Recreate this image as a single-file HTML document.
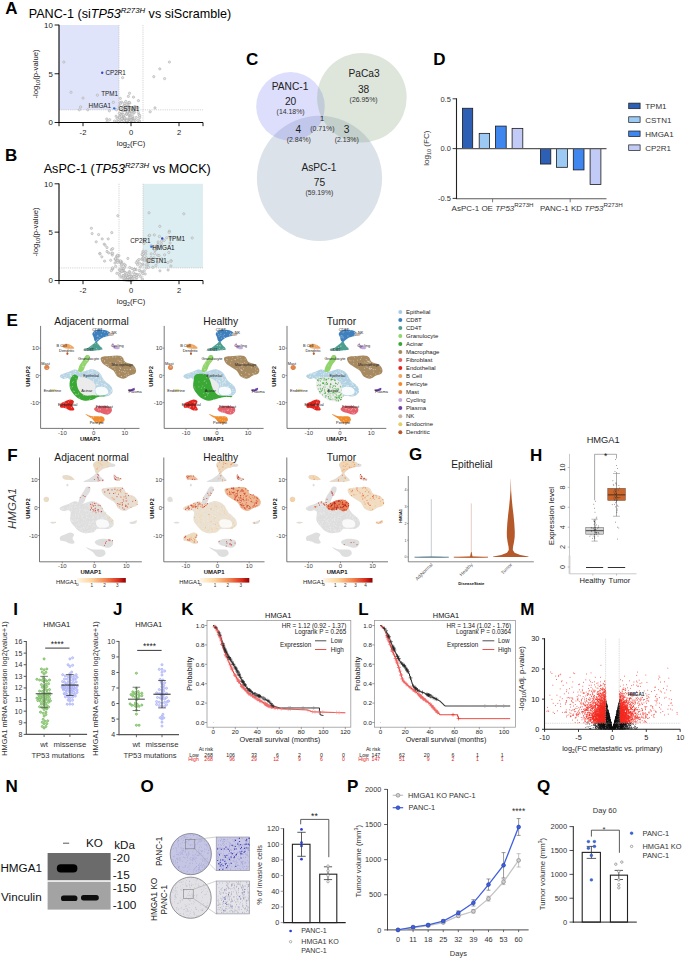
<!DOCTYPE html>
<html><head><meta charset="utf-8"><style>
html,body{margin:0;padding:0;background:#fff;}
svg{display:block;}
text{font-family:"Liberation Sans", sans-serif;}
</style></head><body>
<svg width="685" height="959" viewBox="0 0 685 959" font-family='"Liberation Sans", sans-serif'>
<rect width="685" height="959" fill="#fff"/>
<text x="5.20" y="13.50" font-size="17" font-weight="bold">A</text>
<text x="28.7" y="18" font-size="12.6">PANC-1 (si<tspan font-style="italic">TP53</tspan><tspan font-style="italic" font-size="7.81" dy="-4.79">R273H</tspan><tspan dy="4.79"> vs siScramble)</tspan></text>
<rect x="59.00" y="25.00" width="60.00" height="84.83" fill="#dfe4fa"/>
<line x1="119.00" y1="25.00" x2="119.00" y2="122.50" stroke="#b8b8b8" stroke-width="0.6" stroke-dasharray="1.2 1"/>
<line x1="143.00" y1="25.00" x2="143.00" y2="122.50" stroke="#b8b8b8" stroke-width="0.6" stroke-dasharray="1.2 1"/>
<line x1="59.00" y1="109.83" x2="203.00" y2="109.83" stroke="#b8b8b8" stroke-width="0.6" stroke-dasharray="1.2 1"/>
<circle cx="63.80" cy="62.05" r="1.15" fill="#e4e4e4" stroke="#9a9a9a" stroke-width="0.45"/>
<circle cx="71.00" cy="92.28" r="1.15" fill="#e4e4e4" stroke="#9a9a9a" stroke-width="0.45"/>
<circle cx="80.60" cy="106.90" r="1.15" fill="#e4e4e4" stroke="#9a9a9a" stroke-width="0.45"/>
<circle cx="83.00" cy="98.12" r="1.15" fill="#e4e4e4" stroke="#9a9a9a" stroke-width="0.45"/>
<circle cx="97.40" cy="95.20" r="1.15" fill="#e4e4e4" stroke="#9a9a9a" stroke-width="0.45"/>
<circle cx="87.80" cy="109.83" r="1.15" fill="#e4e4e4" stroke="#9a9a9a" stroke-width="0.45"/>
<circle cx="159.80" cy="68.88" r="1.15" fill="#e4e4e4" stroke="#9a9a9a" stroke-width="0.45"/>
<circle cx="169.40" cy="62.05" r="1.15" fill="#e4e4e4" stroke="#9a9a9a" stroke-width="0.45"/>
<circle cx="153.80" cy="76.67" r="1.15" fill="#e4e4e4" stroke="#9a9a9a" stroke-width="0.45"/>
<circle cx="164.60" cy="78.62" r="1.15" fill="#e4e4e4" stroke="#9a9a9a" stroke-width="0.45"/>
<circle cx="122.60" cy="77.65" r="1.15" fill="#e4e4e4" stroke="#9a9a9a" stroke-width="0.45"/>
<circle cx="109.40" cy="110.80" r="1.15" fill="#e4e4e4" stroke="#9a9a9a" stroke-width="0.45"/>
<circle cx="150.20" cy="111.78" r="1.15" fill="#e4e4e4" stroke="#9a9a9a" stroke-width="0.45"/>
<circle cx="155.00" cy="107.88" r="1.15" fill="#e4e4e4" stroke="#9a9a9a" stroke-width="0.45"/>
<circle cx="79.40" cy="109.83" r="1.15" fill="#e4e4e4" stroke="#9a9a9a" stroke-width="0.45"/>
<circle cx="134.86" cy="106.47" r="1.15" fill="#e4e4e4" stroke="#9a9a9a" stroke-width="0.45"/>
<circle cx="126.65" cy="113.81" r="1.15" fill="#e4e4e4" stroke="#9a9a9a" stroke-width="0.45"/>
<circle cx="118.86" cy="121.68" r="1.15" fill="#e4e4e4" stroke="#9a9a9a" stroke-width="0.45"/>
<circle cx="119.33" cy="106.60" r="1.15" fill="#e4e4e4" stroke="#9a9a9a" stroke-width="0.45"/>
<circle cx="127.54" cy="120.58" r="1.15" fill="#e4e4e4" stroke="#9a9a9a" stroke-width="0.45"/>
<circle cx="129.87" cy="112.21" r="1.15" fill="#e4e4e4" stroke="#9a9a9a" stroke-width="0.45"/>
<circle cx="126.23" cy="121.32" r="1.15" fill="#e4e4e4" stroke="#9a9a9a" stroke-width="0.45"/>
<circle cx="116.08" cy="116.24" r="1.15" fill="#e4e4e4" stroke="#9a9a9a" stroke-width="0.45"/>
<circle cx="128.36" cy="96.39" r="1.15" fill="#e4e4e4" stroke="#9a9a9a" stroke-width="0.45"/>
<circle cx="127.56" cy="120.46" r="1.15" fill="#e4e4e4" stroke="#9a9a9a" stroke-width="0.45"/>
<circle cx="134.48" cy="119.88" r="1.15" fill="#e4e4e4" stroke="#9a9a9a" stroke-width="0.45"/>
<circle cx="132.31" cy="118.09" r="1.15" fill="#e4e4e4" stroke="#9a9a9a" stroke-width="0.45"/>
<circle cx="127.67" cy="111.03" r="1.15" fill="#e4e4e4" stroke="#9a9a9a" stroke-width="0.45"/>
<circle cx="130.88" cy="120.63" r="1.15" fill="#e4e4e4" stroke="#9a9a9a" stroke-width="0.45"/>
<circle cx="118.93" cy="117.24" r="1.15" fill="#e4e4e4" stroke="#9a9a9a" stroke-width="0.45"/>
<circle cx="126.72" cy="114.29" r="1.15" fill="#e4e4e4" stroke="#9a9a9a" stroke-width="0.45"/>
<circle cx="127.65" cy="110.34" r="1.15" fill="#e4e4e4" stroke="#9a9a9a" stroke-width="0.45"/>
<circle cx="125.85" cy="119.85" r="1.15" fill="#e4e4e4" stroke="#9a9a9a" stroke-width="0.45"/>
<circle cx="130.68" cy="110.36" r="1.15" fill="#e4e4e4" stroke="#9a9a9a" stroke-width="0.45"/>
<circle cx="123.50" cy="116.65" r="1.15" fill="#e4e4e4" stroke="#9a9a9a" stroke-width="0.45"/>
<circle cx="139.51" cy="121.02" r="1.15" fill="#e4e4e4" stroke="#9a9a9a" stroke-width="0.45"/>
<circle cx="130.58" cy="115.37" r="1.15" fill="#e4e4e4" stroke="#9a9a9a" stroke-width="0.45"/>
<circle cx="124.31" cy="105.38" r="1.15" fill="#e4e4e4" stroke="#9a9a9a" stroke-width="0.45"/>
<circle cx="132.68" cy="117.65" r="1.15" fill="#e4e4e4" stroke="#9a9a9a" stroke-width="0.45"/>
<circle cx="131.02" cy="108.01" r="1.15" fill="#e4e4e4" stroke="#9a9a9a" stroke-width="0.45"/>
<circle cx="123.26" cy="108.53" r="1.15" fill="#e4e4e4" stroke="#9a9a9a" stroke-width="0.45"/>
<circle cx="135.82" cy="108.04" r="1.15" fill="#e4e4e4" stroke="#9a9a9a" stroke-width="0.45"/>
<circle cx="117.24" cy="121.54" r="1.15" fill="#e4e4e4" stroke="#9a9a9a" stroke-width="0.45"/>
<circle cx="131.09" cy="120.29" r="1.15" fill="#e4e4e4" stroke="#9a9a9a" stroke-width="0.45"/>
<circle cx="128.24" cy="111.41" r="1.15" fill="#e4e4e4" stroke="#9a9a9a" stroke-width="0.45"/>
<circle cx="130.14" cy="110.03" r="1.15" fill="#e4e4e4" stroke="#9a9a9a" stroke-width="0.45"/>
<circle cx="123.27" cy="106.64" r="1.15" fill="#e4e4e4" stroke="#9a9a9a" stroke-width="0.45"/>
<circle cx="121.10" cy="113.84" r="1.15" fill="#e4e4e4" stroke="#9a9a9a" stroke-width="0.45"/>
<circle cx="114.55" cy="121.03" r="1.15" fill="#e4e4e4" stroke="#9a9a9a" stroke-width="0.45"/>
<circle cx="119.54" cy="120.61" r="1.15" fill="#e4e4e4" stroke="#9a9a9a" stroke-width="0.45"/>
<circle cx="124.56" cy="121.84" r="1.15" fill="#e4e4e4" stroke="#9a9a9a" stroke-width="0.45"/>
<circle cx="136.29" cy="117.50" r="1.15" fill="#e4e4e4" stroke="#9a9a9a" stroke-width="0.45"/>
<circle cx="135.16" cy="120.50" r="1.15" fill="#e4e4e4" stroke="#9a9a9a" stroke-width="0.45"/>
<circle cx="122.98" cy="117.95" r="1.15" fill="#e4e4e4" stroke="#9a9a9a" stroke-width="0.45"/>
<circle cx="107.14" cy="121.58" r="1.15" fill="#e4e4e4" stroke="#9a9a9a" stroke-width="0.45"/>
<circle cx="127.28" cy="108.76" r="1.15" fill="#e4e4e4" stroke="#9a9a9a" stroke-width="0.45"/>
<circle cx="129.32" cy="116.01" r="1.15" fill="#e4e4e4" stroke="#9a9a9a" stroke-width="0.45"/>
<circle cx="109.67" cy="119.72" r="1.15" fill="#e4e4e4" stroke="#9a9a9a" stroke-width="0.45"/>
<circle cx="119.62" cy="116.43" r="1.15" fill="#e4e4e4" stroke="#9a9a9a" stroke-width="0.45"/>
<circle cx="125.18" cy="108.60" r="1.15" fill="#e4e4e4" stroke="#9a9a9a" stroke-width="0.45"/>
<circle cx="126.89" cy="121.71" r="1.15" fill="#e4e4e4" stroke="#9a9a9a" stroke-width="0.45"/>
<circle cx="128.81" cy="102.58" r="1.15" fill="#e4e4e4" stroke="#9a9a9a" stroke-width="0.45"/>
<circle cx="134.53" cy="110.46" r="1.15" fill="#e4e4e4" stroke="#9a9a9a" stroke-width="0.45"/>
<circle cx="129.15" cy="109.93" r="1.15" fill="#e4e4e4" stroke="#9a9a9a" stroke-width="0.45"/>
<circle cx="119.64" cy="117.76" r="1.15" fill="#e4e4e4" stroke="#9a9a9a" stroke-width="0.45"/>
<circle cx="138.94" cy="114.53" r="1.15" fill="#e4e4e4" stroke="#9a9a9a" stroke-width="0.45"/>
<circle cx="122.14" cy="118.96" r="1.15" fill="#e4e4e4" stroke="#9a9a9a" stroke-width="0.45"/>
<circle cx="118.46" cy="121.65" r="1.15" fill="#e4e4e4" stroke="#9a9a9a" stroke-width="0.45"/>
<circle cx="122.35" cy="114.27" r="1.15" fill="#e4e4e4" stroke="#9a9a9a" stroke-width="0.45"/>
<circle cx="117.08" cy="118.42" r="1.15" fill="#e4e4e4" stroke="#9a9a9a" stroke-width="0.45"/>
<circle cx="120.54" cy="114.30" r="1.15" fill="#e4e4e4" stroke="#9a9a9a" stroke-width="0.45"/>
<circle cx="130.98" cy="120.66" r="1.15" fill="#e4e4e4" stroke="#9a9a9a" stroke-width="0.45"/>
<circle cx="130.13" cy="109.26" r="1.15" fill="#e4e4e4" stroke="#9a9a9a" stroke-width="0.45"/>
<circle cx="133.93" cy="107.30" r="1.15" fill="#e4e4e4" stroke="#9a9a9a" stroke-width="0.45"/>
<circle cx="129.81" cy="103.12" r="1.15" fill="#e4e4e4" stroke="#9a9a9a" stroke-width="0.45"/>
<circle cx="125.77" cy="101.43" r="1.15" fill="#e4e4e4" stroke="#9a9a9a" stroke-width="0.45"/>
<circle cx="124.90" cy="118.05" r="1.15" fill="#e4e4e4" stroke="#9a9a9a" stroke-width="0.45"/>
<circle cx="127.34" cy="121.82" r="1.15" fill="#e4e4e4" stroke="#9a9a9a" stroke-width="0.45"/>
<circle cx="126.38" cy="113.89" r="1.15" fill="#e4e4e4" stroke="#9a9a9a" stroke-width="0.45"/>
<circle cx="133.47" cy="112.48" r="1.15" fill="#e4e4e4" stroke="#9a9a9a" stroke-width="0.45"/>
<circle cx="124.77" cy="118.64" r="1.15" fill="#e4e4e4" stroke="#9a9a9a" stroke-width="0.45"/>
<circle cx="130.62" cy="110.94" r="1.15" fill="#e4e4e4" stroke="#9a9a9a" stroke-width="0.45"/>
<circle cx="128.84" cy="114.56" r="1.15" fill="#e4e4e4" stroke="#9a9a9a" stroke-width="0.45"/>
<circle cx="124.43" cy="110.54" r="1.15" fill="#e4e4e4" stroke="#9a9a9a" stroke-width="0.45"/>
<circle cx="122.87" cy="111.08" r="1.15" fill="#e4e4e4" stroke="#9a9a9a" stroke-width="0.45"/>
<circle cx="132.77" cy="120.44" r="1.15" fill="#e4e4e4" stroke="#9a9a9a" stroke-width="0.45"/>
<circle cx="122.39" cy="118.71" r="1.15" fill="#e4e4e4" stroke="#9a9a9a" stroke-width="0.45"/>
<circle cx="137.38" cy="107.49" r="1.15" fill="#e4e4e4" stroke="#9a9a9a" stroke-width="0.45"/>
<circle cx="121.61" cy="121.55" r="1.15" fill="#e4e4e4" stroke="#9a9a9a" stroke-width="0.45"/>
<circle cx="116.44" cy="109.83" r="1.15" fill="#e4e4e4" stroke="#9a9a9a" stroke-width="0.45"/>
<circle cx="127.47" cy="121.75" r="1.15" fill="#e4e4e4" stroke="#9a9a9a" stroke-width="0.45"/>
<circle cx="132.68" cy="108.42" r="1.15" fill="#e4e4e4" stroke="#9a9a9a" stroke-width="0.45"/>
<circle cx="131.81" cy="107.86" r="1.15" fill="#e4e4e4" stroke="#9a9a9a" stroke-width="0.45"/>
<circle cx="122.52" cy="109.91" r="1.15" fill="#e4e4e4" stroke="#9a9a9a" stroke-width="0.45"/>
<circle cx="129.56" cy="93.28" r="1.15" fill="#e4e4e4" stroke="#9a9a9a" stroke-width="0.45"/>
<circle cx="128.60" cy="109.66" r="1.15" fill="#e4e4e4" stroke="#9a9a9a" stroke-width="0.45"/>
<circle cx="127.83" cy="106.72" r="1.15" fill="#e4e4e4" stroke="#9a9a9a" stroke-width="0.45"/>
<circle cx="119.25" cy="113.40" r="1.15" fill="#e4e4e4" stroke="#9a9a9a" stroke-width="0.45"/>
<circle cx="122.09" cy="108.36" r="1.15" fill="#e4e4e4" stroke="#9a9a9a" stroke-width="0.45"/>
<circle cx="131.48" cy="118.75" r="1.15" fill="#e4e4e4" stroke="#9a9a9a" stroke-width="0.45"/>
<circle cx="139.64" cy="117.63" r="1.15" fill="#e4e4e4" stroke="#9a9a9a" stroke-width="0.45"/>
<circle cx="121.59" cy="102.12" r="1.15" fill="#e4e4e4" stroke="#9a9a9a" stroke-width="0.45"/>
<circle cx="120.31" cy="98.43" r="1.15" fill="#e4e4e4" stroke="#9a9a9a" stroke-width="0.45"/>
<circle cx="125.93" cy="110.89" r="1.15" fill="#e4e4e4" stroke="#9a9a9a" stroke-width="0.45"/>
<circle cx="126.19" cy="120.61" r="1.15" fill="#e4e4e4" stroke="#9a9a9a" stroke-width="0.45"/>
<circle cx="127.55" cy="119.95" r="1.15" fill="#e4e4e4" stroke="#9a9a9a" stroke-width="0.45"/>
<circle cx="133.47" cy="97.13" r="1.15" fill="#e4e4e4" stroke="#9a9a9a" stroke-width="0.45"/>
<circle cx="122.47" cy="119.20" r="1.15" fill="#e4e4e4" stroke="#9a9a9a" stroke-width="0.45"/>
<circle cx="138.43" cy="100.64" r="1.15" fill="#e4e4e4" stroke="#9a9a9a" stroke-width="0.45"/>
<circle cx="123.92" cy="109.75" r="1.15" fill="#e4e4e4" stroke="#9a9a9a" stroke-width="0.45"/>
<circle cx="121.73" cy="115.14" r="1.15" fill="#e4e4e4" stroke="#9a9a9a" stroke-width="0.45"/>
<circle cx="128.96" cy="106.57" r="1.15" fill="#e4e4e4" stroke="#9a9a9a" stroke-width="0.45"/>
<circle cx="122.17" cy="119.13" r="1.15" fill="#e4e4e4" stroke="#9a9a9a" stroke-width="0.45"/>
<circle cx="134.09" cy="112.32" r="1.15" fill="#e4e4e4" stroke="#9a9a9a" stroke-width="0.45"/>
<circle cx="123.94" cy="109.91" r="1.15" fill="#e4e4e4" stroke="#9a9a9a" stroke-width="0.45"/>
<circle cx="119.99" cy="102.67" r="1.15" fill="#e4e4e4" stroke="#9a9a9a" stroke-width="0.45"/>
<circle cx="127.24" cy="120.80" r="1.15" fill="#e4e4e4" stroke="#9a9a9a" stroke-width="0.45"/>
<circle cx="128.02" cy="112.91" r="1.15" fill="#e4e4e4" stroke="#9a9a9a" stroke-width="0.45"/>
<circle cx="137.90" cy="120.49" r="1.15" fill="#e4e4e4" stroke="#9a9a9a" stroke-width="0.45"/>
<circle cx="123.73" cy="115.72" r="1.15" fill="#e4e4e4" stroke="#9a9a9a" stroke-width="0.45"/>
<circle cx="120.34" cy="103.82" r="1.15" fill="#e4e4e4" stroke="#9a9a9a" stroke-width="0.45"/>
<circle cx="131.82" cy="117.94" r="1.15" fill="#e4e4e4" stroke="#9a9a9a" stroke-width="0.45"/>
<circle cx="133.77" cy="111.00" r="1.15" fill="#e4e4e4" stroke="#9a9a9a" stroke-width="0.45"/>
<circle cx="106.74" cy="118.98" r="1.15" fill="#e4e4e4" stroke="#9a9a9a" stroke-width="0.45"/>
<circle cx="127.24" cy="104.85" r="1.15" fill="#e4e4e4" stroke="#9a9a9a" stroke-width="0.45"/>
<circle cx="129.73" cy="118.69" r="1.15" fill="#e4e4e4" stroke="#9a9a9a" stroke-width="0.45"/>
<circle cx="130.14" cy="118.07" r="1.15" fill="#e4e4e4" stroke="#9a9a9a" stroke-width="0.45"/>
<circle cx="126.72" cy="107.51" r="1.15" fill="#e4e4e4" stroke="#9a9a9a" stroke-width="0.45"/>
<circle cx="129.69" cy="113.38" r="1.15" fill="#e4e4e4" stroke="#9a9a9a" stroke-width="0.45"/>
<circle cx="123.20" cy="114.51" r="1.15" fill="#e4e4e4" stroke="#9a9a9a" stroke-width="0.45"/>
<circle cx="132.35" cy="111.21" r="1.15" fill="#e4e4e4" stroke="#9a9a9a" stroke-width="0.45"/>
<circle cx="139.67" cy="115.67" r="1.15" fill="#e4e4e4" stroke="#9a9a9a" stroke-width="0.45"/>
<circle cx="131.81" cy="111.81" r="1.15" fill="#e4e4e4" stroke="#9a9a9a" stroke-width="0.45"/>
<circle cx="127.71" cy="120.17" r="1.15" fill="#e4e4e4" stroke="#9a9a9a" stroke-width="0.45"/>
<circle cx="138.28" cy="112.47" r="1.15" fill="#e4e4e4" stroke="#9a9a9a" stroke-width="0.45"/>
<circle cx="129.19" cy="102.45" r="1.15" fill="#e4e4e4" stroke="#9a9a9a" stroke-width="0.45"/>
<circle cx="121.18" cy="109.54" r="1.15" fill="#e4e4e4" stroke="#9a9a9a" stroke-width="0.45"/>
<circle cx="127.50" cy="111.77" r="1.15" fill="#e4e4e4" stroke="#9a9a9a" stroke-width="0.45"/>
<circle cx="121.88" cy="118.73" r="1.15" fill="#e4e4e4" stroke="#9a9a9a" stroke-width="0.45"/>
<circle cx="130.81" cy="117.86" r="1.15" fill="#e4e4e4" stroke="#9a9a9a" stroke-width="0.45"/>
<circle cx="132.90" cy="113.25" r="1.15" fill="#e4e4e4" stroke="#9a9a9a" stroke-width="0.45"/>
<circle cx="132.83" cy="116.63" r="1.15" fill="#e4e4e4" stroke="#9a9a9a" stroke-width="0.45"/>
<circle cx="124.19" cy="103.42" r="1.15" fill="#e4e4e4" stroke="#9a9a9a" stroke-width="0.45"/>
<circle cx="126.70" cy="120.52" r="1.15" fill="#e4e4e4" stroke="#9a9a9a" stroke-width="0.45"/>
<circle cx="124.79" cy="117.89" r="1.15" fill="#e4e4e4" stroke="#9a9a9a" stroke-width="0.45"/>
<circle cx="136.68" cy="107.25" r="1.15" fill="#e4e4e4" stroke="#9a9a9a" stroke-width="0.45"/>
<circle cx="131.02" cy="120.04" r="1.15" fill="#e4e4e4" stroke="#9a9a9a" stroke-width="0.45"/>
<circle cx="133.21" cy="121.18" r="1.15" fill="#e4e4e4" stroke="#9a9a9a" stroke-width="0.45"/>
<circle cx="129.24" cy="117.70" r="1.15" fill="#e4e4e4" stroke="#9a9a9a" stroke-width="0.45"/>
<circle cx="126.80" cy="104.33" r="1.15" fill="#e4e4e4" stroke="#9a9a9a" stroke-width="0.45"/>
<circle cx="138.00" cy="107.82" r="1.15" fill="#e4e4e4" stroke="#9a9a9a" stroke-width="0.45"/>
<circle cx="113.34" cy="102.32" r="1.15" fill="#e4e4e4" stroke="#9a9a9a" stroke-width="0.45"/>
<circle cx="130.92" cy="117.18" r="1.15" fill="#e4e4e4" stroke="#9a9a9a" stroke-width="0.45"/>
<circle cx="126.04" cy="109.80" r="1.15" fill="#e4e4e4" stroke="#9a9a9a" stroke-width="0.45"/>
<circle cx="134.10" cy="112.84" r="1.15" fill="#e4e4e4" stroke="#9a9a9a" stroke-width="0.45"/>
<circle cx="102.20" cy="72.78" r="1.2" fill="#2f47c8"/>
<circle cx="114.20" cy="108.36" r="1.2" fill="#2f6fd8"/>
<text x="105.50" y="74.60" font-size="6.3" fill="#222">CP2R1</text>
<text x="101.20" y="96.20" font-size="6.3" fill="#222">TPM1</text>
<text x="88.60" y="108.30" font-size="6.3" fill="#222">HMGA1</text>
<text x="118.60" y="110.80" font-size="6.3" fill="#111">CSTN1</text>
<line x1="59.00" y1="24.70" x2="59.00" y2="123.00" stroke="#000" stroke-width="1.1"/>
<line x1="58.50" y1="122.50" x2="203.00" y2="122.50" stroke="#000" stroke-width="1.1"/>
<line x1="54.60" y1="122.50" x2="59.00" y2="122.50" stroke="#000" stroke-width="0.9"/>
<text x="52.80" y="125.30" font-size="7.8" text-anchor="end" fill="#222">0</text>
<line x1="54.60" y1="73.75" x2="59.00" y2="73.75" stroke="#000" stroke-width="0.9"/>
<text x="52.80" y="76.55" font-size="7.8" text-anchor="end" fill="#222">5</text>
<line x1="54.60" y1="25.00" x2="59.00" y2="25.00" stroke="#000" stroke-width="0.9"/>
<text x="52.80" y="27.80" font-size="7.8" text-anchor="end" fill="#222">10</text>
<line x1="83.00" y1="122.50" x2="83.00" y2="126.20" stroke="#000" stroke-width="0.9"/>
<text x="83.00" y="134.70" font-size="7.6" text-anchor="middle" fill="#222">-2</text>
<line x1="131.00" y1="122.50" x2="131.00" y2="126.20" stroke="#000" stroke-width="0.9"/>
<text x="131.00" y="134.70" font-size="7.6" text-anchor="middle" fill="#222">0</text>
<line x1="179.00" y1="122.50" x2="179.00" y2="126.20" stroke="#000" stroke-width="0.9"/>
<text x="179.00" y="134.70" font-size="7.6" text-anchor="middle" fill="#222">2</text>
<line x1="59.00" y1="122.50" x2="59.00" y2="126.20" stroke="#000" stroke-width="0.9"/>
<line x1="203.00" y1="122.50" x2="203.00" y2="126.20" stroke="#000" stroke-width="0.9"/>
<text x="131.0" y="146" font-size="7.7" text-anchor="middle" fill="#222">log<tspan font-size="5.3" dy="2">2</tspan><tspan dy="-2">(FC)</tspan></text>
<text transform="translate(37.9 74) rotate(-90)" font-size="7.7" text-anchor="middle" fill="#222">-log<tspan font-size="5.3" dy="2">10</tspan><tspan dy="-2">(p-value)</tspan></text>
<text x="5.10" y="160.70" font-size="17" font-weight="bold">B</text>
<text x="43.7" y="173.2" font-size="12.6">AsPC-1 (<tspan font-style="italic">TP53</tspan><tspan font-style="italic" font-size="7.81" dy="-4.79">R273H</tspan><tspan dy="4.79"> vs MOCK)</tspan></text>
<rect x="143.00" y="183.80" width="60.00" height="84.13" fill="#ddeef3"/>
<line x1="119.00" y1="183.80" x2="119.00" y2="280.50" stroke="#b8b8b8" stroke-width="0.6" stroke-dasharray="1.2 1"/>
<line x1="143.00" y1="183.80" x2="143.00" y2="280.50" stroke="#b8b8b8" stroke-width="0.6" stroke-dasharray="1.2 1"/>
<line x1="59.00" y1="267.93" x2="203.00" y2="267.93" stroke="#b8b8b8" stroke-width="0.6" stroke-dasharray="1.2 1"/>
<circle cx="91.40" cy="228.28" r="1.15" fill="#e4e4e4" stroke="#9a9a9a" stroke-width="0.45"/>
<circle cx="92.12" cy="233.60" r="1.15" fill="#e4e4e4" stroke="#9a9a9a" stroke-width="0.45"/>
<circle cx="98.60" cy="234.57" r="1.15" fill="#e4e4e4" stroke="#9a9a9a" stroke-width="0.45"/>
<circle cx="102.20" cy="238.92" r="1.15" fill="#e4e4e4" stroke="#9a9a9a" stroke-width="0.45"/>
<circle cx="96.20" cy="241.82" r="1.15" fill="#e4e4e4" stroke="#9a9a9a" stroke-width="0.45"/>
<circle cx="108.20" cy="238.92" r="1.15" fill="#e4e4e4" stroke="#9a9a9a" stroke-width="0.45"/>
<circle cx="111.80" cy="232.63" r="1.15" fill="#e4e4e4" stroke="#9a9a9a" stroke-width="0.45"/>
<circle cx="117.80" cy="215.71" r="1.15" fill="#e4e4e4" stroke="#9a9a9a" stroke-width="0.45"/>
<circle cx="149.00" cy="212.81" r="1.15" fill="#e4e4e4" stroke="#9a9a9a" stroke-width="0.45"/>
<circle cx="183.80" cy="213.78" r="1.15" fill="#e4e4e4" stroke="#9a9a9a" stroke-width="0.45"/>
<circle cx="159.80" cy="226.35" r="1.15" fill="#e4e4e4" stroke="#9a9a9a" stroke-width="0.45"/>
<circle cx="192.20" cy="237.95" r="1.15" fill="#e4e4e4" stroke="#9a9a9a" stroke-width="0.45"/>
<circle cx="169.40" cy="231.18" r="1.15" fill="#e4e4e4" stroke="#9a9a9a" stroke-width="0.45"/>
<circle cx="99.80" cy="253.42" r="1.15" fill="#e4e4e4" stroke="#9a9a9a" stroke-width="0.45"/>
<circle cx="107.00" cy="247.62" r="1.15" fill="#e4e4e4" stroke="#9a9a9a" stroke-width="0.45"/>
<circle cx="107.00" cy="251.49" r="1.15" fill="#e4e4e4" stroke="#9a9a9a" stroke-width="0.45"/>
<circle cx="104.60" cy="261.16" r="1.15" fill="#e4e4e4" stroke="#9a9a9a" stroke-width="0.45"/>
<circle cx="116.60" cy="256.32" r="1.15" fill="#e4e4e4" stroke="#9a9a9a" stroke-width="0.45"/>
<circle cx="142.91" cy="252.36" r="1.15" fill="#e4e4e4" stroke="#9a9a9a" stroke-width="0.45"/>
<circle cx="123.24" cy="269.32" r="1.15" fill="#e4e4e4" stroke="#9a9a9a" stroke-width="0.45"/>
<circle cx="117.79" cy="260.18" r="1.15" fill="#e4e4e4" stroke="#9a9a9a" stroke-width="0.45"/>
<circle cx="135.76" cy="274.17" r="1.15" fill="#e4e4e4" stroke="#9a9a9a" stroke-width="0.45"/>
<circle cx="117.24" cy="256.84" r="1.15" fill="#e4e4e4" stroke="#9a9a9a" stroke-width="0.45"/>
<circle cx="124.95" cy="272.25" r="1.15" fill="#e4e4e4" stroke="#9a9a9a" stroke-width="0.45"/>
<circle cx="130.22" cy="273.87" r="1.15" fill="#e4e4e4" stroke="#9a9a9a" stroke-width="0.45"/>
<circle cx="125.35" cy="265.33" r="1.15" fill="#e4e4e4" stroke="#9a9a9a" stroke-width="0.45"/>
<circle cx="121.17" cy="263.40" r="1.15" fill="#e4e4e4" stroke="#9a9a9a" stroke-width="0.45"/>
<circle cx="126.86" cy="278.02" r="1.15" fill="#e4e4e4" stroke="#9a9a9a" stroke-width="0.45"/>
<circle cx="161.16" cy="246.11" r="1.15" fill="#e4e4e4" stroke="#9a9a9a" stroke-width="0.45"/>
<circle cx="122.92" cy="275.48" r="1.15" fill="#e4e4e4" stroke="#9a9a9a" stroke-width="0.45"/>
<circle cx="156.97" cy="246.94" r="1.15" fill="#e4e4e4" stroke="#9a9a9a" stroke-width="0.45"/>
<circle cx="121.69" cy="261.83" r="1.15" fill="#e4e4e4" stroke="#9a9a9a" stroke-width="0.45"/>
<circle cx="141.65" cy="259.36" r="1.15" fill="#e4e4e4" stroke="#9a9a9a" stroke-width="0.45"/>
<circle cx="134.83" cy="269.03" r="1.15" fill="#e4e4e4" stroke="#9a9a9a" stroke-width="0.45"/>
<circle cx="142.75" cy="255.31" r="1.15" fill="#e4e4e4" stroke="#9a9a9a" stroke-width="0.45"/>
<circle cx="157.59" cy="248.27" r="1.15" fill="#e4e4e4" stroke="#9a9a9a" stroke-width="0.45"/>
<circle cx="151.24" cy="245.75" r="1.15" fill="#e4e4e4" stroke="#9a9a9a" stroke-width="0.45"/>
<circle cx="142.06" cy="272.04" r="1.15" fill="#e4e4e4" stroke="#9a9a9a" stroke-width="0.45"/>
<circle cx="144.24" cy="270.86" r="1.15" fill="#e4e4e4" stroke="#9a9a9a" stroke-width="0.45"/>
<circle cx="132.36" cy="276.32" r="1.15" fill="#e4e4e4" stroke="#9a9a9a" stroke-width="0.45"/>
<circle cx="143.28" cy="259.78" r="1.15" fill="#e4e4e4" stroke="#9a9a9a" stroke-width="0.45"/>
<circle cx="145.21" cy="273.95" r="1.15" fill="#e4e4e4" stroke="#9a9a9a" stroke-width="0.45"/>
<circle cx="136.05" cy="269.71" r="1.15" fill="#e4e4e4" stroke="#9a9a9a" stroke-width="0.45"/>
<circle cx="119.92" cy="261.89" r="1.15" fill="#e4e4e4" stroke="#9a9a9a" stroke-width="0.45"/>
<circle cx="129.63" cy="276.96" r="1.15" fill="#e4e4e4" stroke="#9a9a9a" stroke-width="0.45"/>
<circle cx="140.31" cy="270.89" r="1.15" fill="#e4e4e4" stroke="#9a9a9a" stroke-width="0.45"/>
<circle cx="138.85" cy="259.55" r="1.15" fill="#e4e4e4" stroke="#9a9a9a" stroke-width="0.45"/>
<circle cx="108.72" cy="252.91" r="1.15" fill="#e4e4e4" stroke="#9a9a9a" stroke-width="0.45"/>
<circle cx="142.74" cy="273.64" r="1.15" fill="#e4e4e4" stroke="#9a9a9a" stroke-width="0.45"/>
<circle cx="130.65" cy="276.60" r="1.15" fill="#e4e4e4" stroke="#9a9a9a" stroke-width="0.45"/>
<circle cx="118.87" cy="255.72" r="1.15" fill="#e4e4e4" stroke="#9a9a9a" stroke-width="0.45"/>
<circle cx="123.27" cy="270.24" r="1.15" fill="#e4e4e4" stroke="#9a9a9a" stroke-width="0.45"/>
<circle cx="116.29" cy="260.89" r="1.15" fill="#e4e4e4" stroke="#9a9a9a" stroke-width="0.45"/>
<circle cx="137.35" cy="274.67" r="1.15" fill="#e4e4e4" stroke="#9a9a9a" stroke-width="0.45"/>
<circle cx="101.82" cy="256.84" r="1.15" fill="#e4e4e4" stroke="#9a9a9a" stroke-width="0.45"/>
<circle cx="129.75" cy="267.49" r="1.15" fill="#e4e4e4" stroke="#9a9a9a" stroke-width="0.45"/>
<circle cx="151.47" cy="259.18" r="1.15" fill="#e4e4e4" stroke="#9a9a9a" stroke-width="0.45"/>
<circle cx="133.37" cy="272.57" r="1.15" fill="#e4e4e4" stroke="#9a9a9a" stroke-width="0.45"/>
<circle cx="128.82" cy="280.02" r="1.15" fill="#e4e4e4" stroke="#9a9a9a" stroke-width="0.45"/>
<circle cx="131.34" cy="276.39" r="1.15" fill="#e4e4e4" stroke="#9a9a9a" stroke-width="0.45"/>
<circle cx="130.89" cy="276.52" r="1.15" fill="#e4e4e4" stroke="#9a9a9a" stroke-width="0.45"/>
<circle cx="116.83" cy="273.32" r="1.15" fill="#e4e4e4" stroke="#9a9a9a" stroke-width="0.45"/>
<circle cx="119.26" cy="269.96" r="1.15" fill="#e4e4e4" stroke="#9a9a9a" stroke-width="0.45"/>
<circle cx="140.16" cy="267.03" r="1.15" fill="#e4e4e4" stroke="#9a9a9a" stroke-width="0.45"/>
<circle cx="125.18" cy="272.50" r="1.15" fill="#e4e4e4" stroke="#9a9a9a" stroke-width="0.45"/>
<circle cx="143.61" cy="253.56" r="1.15" fill="#e4e4e4" stroke="#9a9a9a" stroke-width="0.45"/>
<circle cx="142.56" cy="264.04" r="1.15" fill="#e4e4e4" stroke="#9a9a9a" stroke-width="0.45"/>
<circle cx="120.54" cy="261.88" r="1.15" fill="#e4e4e4" stroke="#9a9a9a" stroke-width="0.45"/>
<circle cx="112.31" cy="255.07" r="1.15" fill="#e4e4e4" stroke="#9a9a9a" stroke-width="0.45"/>
<circle cx="128.54" cy="280.02" r="1.15" fill="#e4e4e4" stroke="#9a9a9a" stroke-width="0.45"/>
<circle cx="122.97" cy="268.45" r="1.15" fill="#e4e4e4" stroke="#9a9a9a" stroke-width="0.45"/>
<circle cx="139.43" cy="263.10" r="1.15" fill="#e4e4e4" stroke="#9a9a9a" stroke-width="0.45"/>
<circle cx="128.57" cy="276.16" r="1.15" fill="#e4e4e4" stroke="#9a9a9a" stroke-width="0.45"/>
<circle cx="136.79" cy="277.09" r="1.15" fill="#e4e4e4" stroke="#9a9a9a" stroke-width="0.45"/>
<circle cx="136.26" cy="275.22" r="1.15" fill="#e4e4e4" stroke="#9a9a9a" stroke-width="0.45"/>
<circle cx="129.84" cy="280.02" r="1.15" fill="#e4e4e4" stroke="#9a9a9a" stroke-width="0.45"/>
<circle cx="99.94" cy="253.96" r="1.15" fill="#e4e4e4" stroke="#9a9a9a" stroke-width="0.45"/>
<circle cx="121.50" cy="265.75" r="1.15" fill="#e4e4e4" stroke="#9a9a9a" stroke-width="0.45"/>
<circle cx="128.29" cy="280.02" r="1.15" fill="#e4e4e4" stroke="#9a9a9a" stroke-width="0.45"/>
<circle cx="125.63" cy="275.01" r="1.15" fill="#e4e4e4" stroke="#9a9a9a" stroke-width="0.45"/>
<circle cx="140.67" cy="276.77" r="1.15" fill="#e4e4e4" stroke="#9a9a9a" stroke-width="0.45"/>
<circle cx="126.11" cy="278.79" r="1.15" fill="#e4e4e4" stroke="#9a9a9a" stroke-width="0.45"/>
<circle cx="112.68" cy="269.05" r="1.15" fill="#e4e4e4" stroke="#9a9a9a" stroke-width="0.45"/>
<circle cx="117.62" cy="255.17" r="1.15" fill="#e4e4e4" stroke="#9a9a9a" stroke-width="0.45"/>
<circle cx="119.41" cy="274.89" r="1.15" fill="#e4e4e4" stroke="#9a9a9a" stroke-width="0.45"/>
<circle cx="129.55" cy="279.56" r="1.15" fill="#e4e4e4" stroke="#9a9a9a" stroke-width="0.45"/>
<circle cx="130.43" cy="280.02" r="1.15" fill="#e4e4e4" stroke="#9a9a9a" stroke-width="0.45"/>
<circle cx="127.70" cy="276.19" r="1.15" fill="#e4e4e4" stroke="#9a9a9a" stroke-width="0.45"/>
<circle cx="123.93" cy="280.02" r="1.15" fill="#e4e4e4" stroke="#9a9a9a" stroke-width="0.45"/>
<circle cx="126.64" cy="280.02" r="1.15" fill="#e4e4e4" stroke="#9a9a9a" stroke-width="0.45"/>
<circle cx="153.78" cy="246.52" r="1.15" fill="#e4e4e4" stroke="#9a9a9a" stroke-width="0.45"/>
<circle cx="146.24" cy="257.72" r="1.15" fill="#e4e4e4" stroke="#9a9a9a" stroke-width="0.45"/>
<circle cx="122.58" cy="270.61" r="1.15" fill="#e4e4e4" stroke="#9a9a9a" stroke-width="0.45"/>
<circle cx="120.98" cy="268.80" r="1.15" fill="#e4e4e4" stroke="#9a9a9a" stroke-width="0.45"/>
<circle cx="151.14" cy="253.88" r="1.15" fill="#e4e4e4" stroke="#9a9a9a" stroke-width="0.45"/>
<circle cx="127.34" cy="273.41" r="1.15" fill="#e4e4e4" stroke="#9a9a9a" stroke-width="0.45"/>
<circle cx="125.33" cy="277.08" r="1.15" fill="#e4e4e4" stroke="#9a9a9a" stroke-width="0.45"/>
<circle cx="129.30" cy="276.65" r="1.15" fill="#e4e4e4" stroke="#9a9a9a" stroke-width="0.45"/>
<circle cx="147.95" cy="260.24" r="1.15" fill="#e4e4e4" stroke="#9a9a9a" stroke-width="0.45"/>
<circle cx="130.32" cy="279.93" r="1.15" fill="#e4e4e4" stroke="#9a9a9a" stroke-width="0.45"/>
<circle cx="111.36" cy="249.71" r="1.15" fill="#e4e4e4" stroke="#9a9a9a" stroke-width="0.45"/>
<circle cx="104.20" cy="244.10" r="1.15" fill="#e4e4e4" stroke="#9a9a9a" stroke-width="0.45"/>
<circle cx="131.11" cy="280.02" r="1.15" fill="#e4e4e4" stroke="#9a9a9a" stroke-width="0.45"/>
<circle cx="142.66" cy="258.24" r="1.15" fill="#e4e4e4" stroke="#9a9a9a" stroke-width="0.45"/>
<circle cx="131.96" cy="268.57" r="1.15" fill="#e4e4e4" stroke="#9a9a9a" stroke-width="0.45"/>
<circle cx="139.33" cy="274.59" r="1.15" fill="#e4e4e4" stroke="#9a9a9a" stroke-width="0.45"/>
<circle cx="112.65" cy="248.65" r="1.15" fill="#e4e4e4" stroke="#9a9a9a" stroke-width="0.45"/>
<circle cx="117.85" cy="260.23" r="1.15" fill="#e4e4e4" stroke="#9a9a9a" stroke-width="0.45"/>
<circle cx="124.16" cy="264.24" r="1.15" fill="#e4e4e4" stroke="#9a9a9a" stroke-width="0.45"/>
<circle cx="129.27" cy="271.67" r="1.15" fill="#e4e4e4" stroke="#9a9a9a" stroke-width="0.45"/>
<circle cx="120.62" cy="260.90" r="1.15" fill="#e4e4e4" stroke="#9a9a9a" stroke-width="0.45"/>
<circle cx="157.53" cy="245.54" r="1.15" fill="#e4e4e4" stroke="#9a9a9a" stroke-width="0.45"/>
<circle cx="139.26" cy="270.59" r="1.15" fill="#e4e4e4" stroke="#9a9a9a" stroke-width="0.45"/>
<circle cx="133.43" cy="277.53" r="1.15" fill="#e4e4e4" stroke="#9a9a9a" stroke-width="0.45"/>
<circle cx="121.00" cy="277.15" r="1.15" fill="#e4e4e4" stroke="#9a9a9a" stroke-width="0.45"/>
<circle cx="135.98" cy="279.43" r="1.15" fill="#e4e4e4" stroke="#9a9a9a" stroke-width="0.45"/>
<circle cx="141.82" cy="265.09" r="1.15" fill="#e4e4e4" stroke="#9a9a9a" stroke-width="0.45"/>
<circle cx="123.18" cy="277.72" r="1.15" fill="#e4e4e4" stroke="#9a9a9a" stroke-width="0.45"/>
<circle cx="121.92" cy="264.15" r="1.15" fill="#e4e4e4" stroke="#9a9a9a" stroke-width="0.45"/>
<circle cx="125.88" cy="280.02" r="1.15" fill="#e4e4e4" stroke="#9a9a9a" stroke-width="0.45"/>
<circle cx="134.57" cy="269.37" r="1.15" fill="#e4e4e4" stroke="#9a9a9a" stroke-width="0.45"/>
<circle cx="151.02" cy="257.64" r="1.15" fill="#e4e4e4" stroke="#9a9a9a" stroke-width="0.45"/>
<circle cx="123.80" cy="275.84" r="1.15" fill="#e4e4e4" stroke="#9a9a9a" stroke-width="0.45"/>
<circle cx="136.83" cy="277.52" r="1.15" fill="#e4e4e4" stroke="#9a9a9a" stroke-width="0.45"/>
<circle cx="105.18" cy="245.25" r="1.15" fill="#e4e4e4" stroke="#9a9a9a" stroke-width="0.45"/>
<circle cx="137.62" cy="264.70" r="1.15" fill="#e4e4e4" stroke="#9a9a9a" stroke-width="0.45"/>
<circle cx="134.06" cy="269.67" r="1.15" fill="#e4e4e4" stroke="#9a9a9a" stroke-width="0.45"/>
<circle cx="117.40" cy="262.38" r="1.15" fill="#e4e4e4" stroke="#9a9a9a" stroke-width="0.45"/>
<circle cx="127.87" cy="258.46" r="1.15" fill="#e4e4e4" stroke="#9a9a9a" stroke-width="0.45"/>
<circle cx="112.52" cy="267.81" r="1.15" fill="#e4e4e4" stroke="#9a9a9a" stroke-width="0.45"/>
<circle cx="129.84" cy="280.02" r="1.15" fill="#e4e4e4" stroke="#9a9a9a" stroke-width="0.45"/>
<circle cx="134.12" cy="276.50" r="1.15" fill="#e4e4e4" stroke="#9a9a9a" stroke-width="0.45"/>
<circle cx="129.95" cy="272.06" r="1.15" fill="#e4e4e4" stroke="#9a9a9a" stroke-width="0.45"/>
<circle cx="119.83" cy="272.54" r="1.15" fill="#e4e4e4" stroke="#9a9a9a" stroke-width="0.45"/>
<circle cx="127.96" cy="280.02" r="1.15" fill="#e4e4e4" stroke="#9a9a9a" stroke-width="0.45"/>
<circle cx="157.63" cy="255.22" r="1.15" fill="#e4e4e4" stroke="#9a9a9a" stroke-width="0.45"/>
<circle cx="114.94" cy="263.01" r="1.15" fill="#e4e4e4" stroke="#9a9a9a" stroke-width="0.45"/>
<circle cx="130.90" cy="280.02" r="1.15" fill="#e4e4e4" stroke="#9a9a9a" stroke-width="0.45"/>
<circle cx="127.77" cy="277.53" r="1.15" fill="#e4e4e4" stroke="#9a9a9a" stroke-width="0.45"/>
<circle cx="121.77" cy="271.65" r="1.15" fill="#e4e4e4" stroke="#9a9a9a" stroke-width="0.45"/>
<circle cx="131.45" cy="280.02" r="1.15" fill="#e4e4e4" stroke="#9a9a9a" stroke-width="0.45"/>
<circle cx="121.82" cy="271.04" r="1.15" fill="#e4e4e4" stroke="#9a9a9a" stroke-width="0.45"/>
<circle cx="115.10" cy="259.01" r="1.15" fill="#e4e4e4" stroke="#9a9a9a" stroke-width="0.45"/>
<circle cx="132.78" cy="280.02" r="1.15" fill="#e4e4e4" stroke="#9a9a9a" stroke-width="0.45"/>
<circle cx="126.40" cy="275.69" r="1.15" fill="#e4e4e4" stroke="#9a9a9a" stroke-width="0.45"/>
<circle cx="110.71" cy="260.28" r="1.15" fill="#e4e4e4" stroke="#9a9a9a" stroke-width="0.45"/>
<circle cx="145.90" cy="251.36" r="1.15" fill="#e4e4e4" stroke="#9a9a9a" stroke-width="0.45"/>
<circle cx="111.75" cy="253.43" r="1.15" fill="#e4e4e4" stroke="#9a9a9a" stroke-width="0.45"/>
<circle cx="145.78" cy="254.19" r="1.15" fill="#e4e4e4" stroke="#9a9a9a" stroke-width="0.45"/>
<circle cx="164.26" cy="240.32" r="1.15" fill="#e4e4e4" stroke="#9a9a9a" stroke-width="0.45"/>
<circle cx="126.25" cy="273.98" r="1.15" fill="#e4e4e4" stroke="#9a9a9a" stroke-width="0.45"/>
<circle cx="143.68" cy="257.96" r="1.15" fill="#e4e4e4" stroke="#9a9a9a" stroke-width="0.45"/>
<circle cx="144.64" cy="258.71" r="1.15" fill="#e4e4e4" stroke="#9a9a9a" stroke-width="0.45"/>
<circle cx="158.11" cy="241.95" r="1.15" fill="#e4e4e4" stroke="#9a9a9a" stroke-width="0.45"/>
<circle cx="134.83" cy="274.27" r="1.15" fill="#e4e4e4" stroke="#9a9a9a" stroke-width="0.45"/>
<circle cx="143.07" cy="251.16" r="1.15" fill="#e4e4e4" stroke="#9a9a9a" stroke-width="0.45"/>
<circle cx="127.14" cy="280.02" r="1.15" fill="#e4e4e4" stroke="#9a9a9a" stroke-width="0.45"/>
<circle cx="111.37" cy="270.61" r="1.15" fill="#e4e4e4" stroke="#9a9a9a" stroke-width="0.45"/>
<circle cx="131.80" cy="280.02" r="1.15" fill="#e4e4e4" stroke="#9a9a9a" stroke-width="0.45"/>
<circle cx="112.72" cy="253.12" r="1.15" fill="#e4e4e4" stroke="#9a9a9a" stroke-width="0.45"/>
<circle cx="136.29" cy="262.63" r="1.15" fill="#e4e4e4" stroke="#9a9a9a" stroke-width="0.45"/>
<circle cx="124.81" cy="267.19" r="1.15" fill="#e4e4e4" stroke="#9a9a9a" stroke-width="0.45"/>
<circle cx="137.43" cy="260.90" r="1.15" fill="#e4e4e4" stroke="#9a9a9a" stroke-width="0.45"/>
<circle cx="142.36" cy="279.22" r="1.15" fill="#e4e4e4" stroke="#9a9a9a" stroke-width="0.45"/>
<circle cx="129.60" cy="280.02" r="1.15" fill="#e4e4e4" stroke="#9a9a9a" stroke-width="0.45"/>
<circle cx="115.67" cy="266.36" r="1.15" fill="#e4e4e4" stroke="#9a9a9a" stroke-width="0.45"/>
<circle cx="115.53" cy="258.85" r="1.15" fill="#e4e4e4" stroke="#9a9a9a" stroke-width="0.45"/>
<circle cx="142.08" cy="254.42" r="1.15" fill="#e4e4e4" stroke="#9a9a9a" stroke-width="0.45"/>
<circle cx="171.12" cy="260.77" r="1.15" fill="#e4e4e4" stroke="#9a9a9a" stroke-width="0.45"/>
<circle cx="161.89" cy="259.19" r="1.15" fill="#e4e4e4" stroke="#9a9a9a" stroke-width="0.45"/>
<circle cx="159.05" cy="255.58" r="1.15" fill="#e4e4e4" stroke="#9a9a9a" stroke-width="0.45"/>
<circle cx="147.82" cy="264.58" r="1.15" fill="#e4e4e4" stroke="#9a9a9a" stroke-width="0.45"/>
<circle cx="148.99" cy="235.79" r="1.15" fill="#e4e4e4" stroke="#9a9a9a" stroke-width="0.45"/>
<circle cx="157.32" cy="262.32" r="1.15" fill="#e4e4e4" stroke="#9a9a9a" stroke-width="0.45"/>
<circle cx="169.10" cy="232.29" r="1.15" fill="#e4e4e4" stroke="#9a9a9a" stroke-width="0.45"/>
<circle cx="155.96" cy="265.43" r="1.15" fill="#e4e4e4" stroke="#9a9a9a" stroke-width="0.45"/>
<circle cx="148.54" cy="267.32" r="1.15" fill="#e4e4e4" stroke="#9a9a9a" stroke-width="0.45"/>
<circle cx="152.85" cy="267.31" r="1.15" fill="#e4e4e4" stroke="#9a9a9a" stroke-width="0.45"/>
<circle cx="149.89" cy="260.84" r="1.15" fill="#e4e4e4" stroke="#9a9a9a" stroke-width="0.45"/>
<circle cx="159.40" cy="236.51" r="1.15" fill="#e4e4e4" stroke="#9a9a9a" stroke-width="0.45"/>
<circle cx="164.59" cy="254.86" r="1.15" fill="#e4e4e4" stroke="#9a9a9a" stroke-width="0.45"/>
<circle cx="154.92" cy="250.56" r="1.15" fill="#e4e4e4" stroke="#9a9a9a" stroke-width="0.45"/>
<circle cx="153.85" cy="257.75" r="1.15" fill="#e4e4e4" stroke="#9a9a9a" stroke-width="0.45"/>
<circle cx="144.79" cy="260.10" r="1.15" fill="#e4e4e4" stroke="#9a9a9a" stroke-width="0.45"/>
<circle cx="170.87" cy="265.96" r="1.15" fill="#e4e4e4" stroke="#9a9a9a" stroke-width="0.45"/>
<circle cx="157.50" cy="246.48" r="1.15" fill="#e4e4e4" stroke="#9a9a9a" stroke-width="0.45"/>
<circle cx="167.85" cy="262.48" r="1.15" fill="#e4e4e4" stroke="#9a9a9a" stroke-width="0.45"/>
<circle cx="150.81" cy="261.22" r="1.15" fill="#e4e4e4" stroke="#9a9a9a" stroke-width="0.45"/>
<circle cx="154.51" cy="253.58" r="1.15" fill="#e4e4e4" stroke="#9a9a9a" stroke-width="0.45"/>
<circle cx="170.47" cy="238.00" r="1.15" fill="#e4e4e4" stroke="#9a9a9a" stroke-width="0.45"/>
<circle cx="168.14" cy="269.99" r="1.15" fill="#e4e4e4" stroke="#9a9a9a" stroke-width="0.45"/>
<circle cx="143.93" cy="243.39" r="1.15" fill="#e4e4e4" stroke="#9a9a9a" stroke-width="0.45"/>
<circle cx="168.80" cy="252.52" r="1.15" fill="#e4e4e4" stroke="#9a9a9a" stroke-width="0.45"/>
<circle cx="159.91" cy="270.82" r="1.15" fill="#e4e4e4" stroke="#9a9a9a" stroke-width="0.45"/>
<circle cx="154.28" cy="234.98" r="1.15" fill="#e4e4e4" stroke="#9a9a9a" stroke-width="0.45"/>
<circle cx="166.78" cy="237.74" r="1.15" fill="#e4e4e4" stroke="#9a9a9a" stroke-width="0.45"/>
<circle cx="171.00" cy="261.22" r="1.15" fill="#e4e4e4" stroke="#9a9a9a" stroke-width="0.45"/>
<circle cx="146.14" cy="264.86" r="1.15" fill="#e4e4e4" stroke="#9a9a9a" stroke-width="0.45"/>
<circle cx="158.04" cy="244.45" r="1.15" fill="#e4e4e4" stroke="#9a9a9a" stroke-width="0.45"/>
<circle cx="170.11" cy="242.91" r="1.15" fill="#e4e4e4" stroke="#9a9a9a" stroke-width="0.45"/>
<circle cx="161.64" cy="241.25" r="1.15" fill="#e4e4e4" stroke="#9a9a9a" stroke-width="0.45"/>
<circle cx="156.17" cy="249.50" r="1.15" fill="#e4e4e4" stroke="#9a9a9a" stroke-width="0.45"/>
<circle cx="144.14" cy="240.57" r="1.15" fill="#e4e4e4" stroke="#9a9a9a" stroke-width="0.45"/>
<circle cx="149.70" cy="235.25" r="1.15" fill="#e4e4e4" stroke="#9a9a9a" stroke-width="0.45"/>
<circle cx="161.59" cy="259.08" r="1.15" fill="#e4e4e4" stroke="#9a9a9a" stroke-width="0.45"/>
<circle cx="146.69" cy="261.09" r="1.15" fill="#e4e4e4" stroke="#9a9a9a" stroke-width="0.45"/>
<circle cx="161.33" cy="243.81" r="1.15" fill="#e4e4e4" stroke="#9a9a9a" stroke-width="0.45"/>
<circle cx="146.23" cy="268.11" r="1.15" fill="#e4e4e4" stroke="#9a9a9a" stroke-width="0.45"/>
<circle cx="162.20" cy="238.44" r="1.2" fill="#2f47c8"/>
<circle cx="151.40" cy="246.66" r="1.2" fill="#2f6fd8"/>
<text x="130.30" y="242.50" font-size="6.3" fill="#222">CP2R1</text>
<text x="168.20" y="240.60" font-size="6.3" fill="#111">TPM1</text>
<text x="152.20" y="249.50" font-size="6.3" fill="#111">HMGA1</text>
<text x="146.20" y="263.20" font-size="6.3" fill="#222">CSTN1</text>
<line x1="59.00" y1="183.50" x2="59.00" y2="281.00" stroke="#000" stroke-width="1.1"/>
<line x1="58.50" y1="280.50" x2="203.00" y2="280.50" stroke="#000" stroke-width="1.1"/>
<line x1="54.60" y1="280.50" x2="59.00" y2="280.50" stroke="#000" stroke-width="0.9"/>
<text x="52.80" y="283.30" font-size="7.8" text-anchor="end" fill="#222">0</text>
<line x1="54.60" y1="232.15" x2="59.00" y2="232.15" stroke="#000" stroke-width="0.9"/>
<text x="52.80" y="234.95" font-size="7.8" text-anchor="end" fill="#222">5</text>
<line x1="54.60" y1="183.80" x2="59.00" y2="183.80" stroke="#000" stroke-width="0.9"/>
<text x="52.80" y="186.60" font-size="7.8" text-anchor="end" fill="#222">10</text>
<line x1="83.00" y1="280.50" x2="83.00" y2="284.20" stroke="#000" stroke-width="0.9"/>
<text x="83.00" y="292.70" font-size="7.6" text-anchor="middle" fill="#222">-2</text>
<line x1="131.00" y1="280.50" x2="131.00" y2="284.20" stroke="#000" stroke-width="0.9"/>
<text x="131.00" y="292.70" font-size="7.6" text-anchor="middle" fill="#222">0</text>
<line x1="179.00" y1="280.50" x2="179.00" y2="284.20" stroke="#000" stroke-width="0.9"/>
<text x="179.00" y="292.70" font-size="7.6" text-anchor="middle" fill="#222">2</text>
<line x1="59.00" y1="280.50" x2="59.00" y2="284.20" stroke="#000" stroke-width="0.9"/>
<line x1="203.00" y1="280.50" x2="203.00" y2="284.20" stroke="#000" stroke-width="0.9"/>
<text x="131.0" y="303.5" font-size="7.7" text-anchor="middle" fill="#222">log<tspan font-size="5.3" dy="2">2</tspan><tspan dy="-2">(FC)</tspan></text>
<text transform="translate(37.9 232) rotate(-90)" font-size="7.7" text-anchor="middle" fill="#222">-log<tspan font-size="5.3" dy="2">10</tspan><tspan dy="-2">(p-value)</tspan></text>
<text x="245.90" y="65.10" font-size="17" font-weight="bold">C</text>
<g>
<circle cx="319.50" cy="178.30" r="62.6" fill="rgb(95,125,155)" fill-opacity="0.22"/>
<circle cx="290.50" cy="106.40" r="34.3" fill="rgb(95,105,235)" fill-opacity="0.22"/>
<circle cx="361.90" cy="97.70" r="44.8" fill="rgb(105,140,95)" fill-opacity="0.22"/>
</g>
<text x="290.10" y="89.70" font-size="10.2" text-anchor="middle" fill="#222">PANC-1</text>
<text x="290.60" y="105.30" font-size="10.2" text-anchor="middle" fill="#222">20</text>
<text x="290.60" y="114.00" font-size="6.9" text-anchor="middle" fill="#333">(14.18%)</text>
<text x="364.10" y="77.30" font-size="10.2" text-anchor="middle" fill="#222">PaCa3</text>
<text x="363.60" y="92.60" font-size="10.2" text-anchor="middle" fill="#222">38</text>
<text x="363.60" y="101.60" font-size="6.9" text-anchor="middle" fill="#333">(26.95%)</text>
<text x="322.20" y="120.70" font-size="7.5" text-anchor="middle" fill="#222">1</text>
<text x="322.40" y="130.60" font-size="6.9" text-anchor="middle" fill="#333">(0.71%)</text>
<text x="298.40" y="133.10" font-size="10.2" text-anchor="middle" fill="#222">4</text>
<text x="298.80" y="141.80" font-size="6.9" text-anchor="middle" fill="#333">(2.84%)</text>
<text x="346.70" y="133.10" font-size="10.2" text-anchor="middle" fill="#222">3</text>
<text x="346.70" y="141.80" font-size="6.9" text-anchor="middle" fill="#333">(2.13%)</text>
<text x="319.00" y="171.00" font-size="10.2" text-anchor="middle" fill="#222">AsPC-1</text>
<text x="319.40" y="186.40" font-size="10.2" text-anchor="middle" fill="#222">75</text>
<text x="319.40" y="195.10" font-size="6.9" text-anchor="middle" fill="#333">(59.19%)</text>
<text x="433.20" y="65.30" font-size="17" font-weight="bold">D</text>
<rect x="462.40" y="108.26" width="10.30" height="40.34" fill="#2d5fb4" stroke="#1a1a1a" stroke-width="0.8"/>
<rect x="479.20" y="133.36" width="10.40" height="15.24" fill="#9ccaf4" stroke="#1a1a1a" stroke-width="0.8"/>
<rect x="495.40" y="126.09" width="10.80" height="22.51" fill="#3f86ee" stroke="#1a1a1a" stroke-width="0.8"/>
<rect x="512.10" y="128.38" width="10.70" height="20.22" fill="#c2cbf6" stroke="#1a1a1a" stroke-width="0.8"/>
<rect x="540.40" y="148.60" width="10.40" height="15.44" fill="#2d5fb4" stroke="#1a1a1a" stroke-width="0.8"/>
<rect x="556.50" y="148.60" width="10.90" height="18.72" fill="#9ccaf4" stroke="#1a1a1a" stroke-width="0.8"/>
<rect x="573.30" y="148.60" width="10.70" height="21.31" fill="#3f86ee" stroke="#1a1a1a" stroke-width="0.8"/>
<rect x="590.10" y="148.60" width="10.80" height="35.86" fill="#c2cbf6" stroke="#1a1a1a" stroke-width="0.8"/>
<line x1="456.50" y1="148.60" x2="606.50" y2="148.60" stroke="#5a5a5a" stroke-width="1.2"/>
<line x1="456.00" y1="198.80" x2="606.50" y2="198.80" stroke="#5a5a5a" stroke-width="1.1"/>
<line x1="492.60" y1="198.80" x2="492.60" y2="202.30" stroke="#5a5a5a" stroke-width="0.8"/>
<line x1="570.20" y1="198.80" x2="570.20" y2="202.30" stroke="#5a5a5a" stroke-width="0.8"/>
<line x1="456.50" y1="98.30" x2="456.50" y2="198.90" stroke="#222" stroke-width="1.1"/>
<line x1="452.60" y1="98.80" x2="456.50" y2="98.80" stroke="#222" stroke-width="0.9"/>
<text x="450.90" y="101.50" font-size="7.5" text-anchor="end" fill="#333">0.5</text>
<line x1="452.60" y1="148.60" x2="456.50" y2="148.60" stroke="#222" stroke-width="0.9"/>
<text x="450.90" y="151.30" font-size="7.5" text-anchor="end" fill="#333">0.0</text>
<line x1="452.60" y1="198.40" x2="456.50" y2="198.40" stroke="#222" stroke-width="0.9"/>
<text x="450.90" y="201.10" font-size="7.5" text-anchor="end" fill="#333">-0.5</text>
<text transform="translate(428.9 148.2) rotate(-90)" font-size="8.1" text-anchor="middle" fill="#333">log<tspan font-size="5.4" dy="2">10</tspan><tspan dy="-2"> (FC)</tspan></text>
<text x="451.6" y="210.5" font-size="8" fill="#333">AsPC-1 OE <tspan font-style="italic">TP53</tspan><tspan font-size="6.2" dy="-3.6">R273H</tspan></text>
<text x="540.0" y="210.5" font-size="8" fill="#333">PANC-1 KD <tspan font-style="italic">TP53</tspan><tspan font-size="6.2" dy="-3.6">R273H</tspan></text>
<rect x="628.70" y="103.10" width="11.40" height="5.60" fill="#2d5fb4" stroke="#1a1a1a" stroke-width="0.7"/>
<text x="645.20" y="108.80" font-size="8" fill="#333">TPM1</text>
<rect x="628.70" y="116.80" width="11.40" height="5.60" fill="#9ccaf4" stroke="#1a1a1a" stroke-width="0.7"/>
<text x="645.20" y="122.50" font-size="8" fill="#333">CSTN1</text>
<rect x="628.70" y="131.00" width="11.40" height="5.60" fill="#3f86ee" stroke="#1a1a1a" stroke-width="0.7"/>
<text x="645.20" y="136.70" font-size="8" fill="#333">HMGA1</text>
<rect x="628.70" y="144.90" width="11.40" height="5.60" fill="#c2cbf6" stroke="#1a1a1a" stroke-width="0.7"/>
<text x="645.20" y="150.60" font-size="8" fill="#333">CP2R1</text>
<text x="6.40" y="326.40" font-size="17" font-weight="bold">E</text>
<path d="M59.9,376.8C59.6,376.0 60.3,375.1 61.8,374.3C63.2,373.5 66.5,372.7 68.6,371.9C70.8,371.0 73.0,369.6 74.9,369.4C76.8,369.3 78.7,370.7 80.2,371.0C81.6,371.4 82.0,371.9 83.6,371.6C85.3,371.3 88.1,369.6 90.2,369.4C92.2,369.2 94.4,369.8 96.1,370.5C97.8,371.2 98.8,371.9 100.2,373.5C101.5,375.1 102.8,378.5 104.2,380.3C105.6,382.1 107.3,382.9 108.6,384.1C109.8,385.3 111.1,386.2 111.7,387.6C112.3,389.0 112.9,391.1 112.3,392.5C111.7,393.9 109.8,395.5 108.0,396.1C106.1,396.7 103.4,396.0 101.4,396.1C99.4,396.1 97.5,395.8 96.1,396.3C94.7,396.9 94.8,398.7 93.0,399.3C91.2,400.0 87.6,400.6 85.2,400.4C82.8,400.2 80.4,399.3 78.6,398.2C76.8,397.2 75.7,395.6 74.3,393.9C72.9,392.2 70.8,390.3 70.2,387.9C69.6,385.6 71.0,381.4 70.5,379.8C70.0,378.1 68.5,378.3 67.4,378.1C66.2,378.0 64.9,379.2 63.6,378.9C62.4,378.7 60.2,377.5 59.9,376.8Z" fill="#ebebeb"/>
<path d="M59.9,376.8C59.6,376.0 60.3,375.1 61.8,374.3C63.2,373.5 66.5,372.7 68.6,371.9C70.8,371.0 73.0,369.6 74.9,369.4C76.8,369.3 78.7,370.7 80.2,371.0C81.6,371.4 82.0,371.9 83.6,371.6C85.3,371.3 88.1,369.6 90.2,369.4C92.2,369.2 94.4,369.8 96.1,370.5C97.8,371.2 98.8,371.9 100.2,373.5C101.5,375.1 102.8,378.5 104.2,380.3C105.6,382.1 107.3,382.9 108.6,384.1C109.8,385.3 111.1,386.2 111.7,387.6C112.3,389.0 112.9,391.1 112.3,392.5C111.7,393.9 109.8,395.5 108.0,396.1C106.1,396.7 103.3,396.3 101.4,396.1C99.5,395.9 97.8,395.9 96.7,395.0C95.6,394.0 95.1,392.0 94.8,390.4C94.6,388.7 96.1,386.9 95.5,385.2C94.8,383.5 93.0,381.6 91.1,380.3C89.2,379.0 86.4,378.1 84.2,377.6C82.1,377.0 80.2,376.7 78.0,377.0C75.8,377.4 72.6,379.6 70.8,379.8C69.1,379.9 68.6,378.3 67.4,378.1C66.2,378.0 64.9,379.2 63.6,378.9C62.4,378.7 60.2,377.5 59.9,376.8Z" fill="#a6cee3" fill-opacity="0.75"/>
<path d="M64.8,377.5h0.9M87.6,371.0h0.9M69.9,375.9h0.9M83.9,376.8h0.9M103.9,388.3h0.9M76.4,375.5h0.9M75.1,371.3h0.9M100.1,380.1h0.9M110.1,392.0h0.9M100.7,376.6h0.9M64.5,378.3h0.9M110.4,389.6h0.9M66.1,376.0h0.9M71.1,376.6h0.9M110.8,390.8h0.9M104.7,386.5h0.9M71.1,376.3h0.9M100.4,378.2h0.9M75.4,371.4h0.9M69.5,373.5h0.9M107.5,391.2h0.9M73.0,374.5h0.9M98.7,394.5h0.9M106.1,385.5h0.9M82.0,372.2h0.9M91.2,377.2h0.9M63.5,375.5h0.9M92.1,376.9h0.9M60.8,376.6h0.9M89.9,372.9h0.9M96.1,385.0h0.9M98.5,393.4h0.9M98.5,388.2h0.9M101.5,393.8h0.9M107.1,392.6h0.9M105.2,384.7h0.9M92.7,379.6h0.9M98.1,379.8h0.9M98.4,384.9h0.9M85.1,375.6h0.9M96.5,382.7h0.9M70.5,373.9h0.9M107.4,387.0h0.9M102.2,393.8h0.9M90.5,377.9h0.9M103.8,392.0h0.9M97.2,394.7h0.9M74.4,373.9h0.9M83.5,376.8h0.9M97.0,384.6h0.9M92.9,381.3h0.9M102.2,395.0h0.9M95.8,374.7h0.9M84.8,374.2h0.9M97.3,374.2h0.9M96.5,383.3h0.9M108.8,388.7h0.9M106.0,390.7h0.9M94.0,374.9h0.9M97.7,391.2h0.9M67.3,373.4h0.9M103.9,387.8h0.9M104.1,384.3h0.9M104.2,393.4h0.9M89.9,374.8h0.9M91.6,370.2h0.9M96.1,371.2h0.9M110.1,394.0h0.9M102.7,393.4h0.9M70.1,375.5h0.9M95.9,378.0h0.9M73.0,374.7h0.9M87.7,373.7h0.9M104.5,385.7h0.9M98.7,391.0h0.9M73.5,372.0h0.9M103.5,380.7h0.9M89.7,373.3h0.9M69.6,374.9h0.9M103.9,395.8h0.9M91.4,369.8h0.9M96.6,391.9h0.9M98.7,380.2h0.9M70.1,373.8h0.9M106.7,390.8h0.9M96.8,392.4h0.9M92.9,380.2h0.9M111.4,390.9h0.9M98.9,390.2h0.9M102.6,380.2h0.9M106.9,392.9h0.9M96.3,389.9h0.9M100.0,380.2h0.9M94.8,378.4h0.9M96.7,389.7h0.9M62.5,374.6h0.9M79.6,372.0h0.9M91.9,371.0h0.9M79.1,377.0h0.9M75.4,369.8h0.9M72.7,370.6h0.9M97.8,381.9h0.9M111.2,391.2h0.9M91.5,372.5h0.9M92.6,381.6h0.9M87.6,372.7h0.9M83.8,376.4h0.9M100.7,383.6h0.9M98.4,375.8h0.9M101.0,386.1h0.9M78.7,376.7h0.9M95.8,384.5h0.9M99.4,374.5h0.9M107.9,392.8h0.9M92.6,372.1h0.9M88.3,371.3h0.9M70.9,378.6h0.9M98.9,391.8h0.9M102.3,386.0h0.9M100.2,375.1h0.9M82.1,376.3h0.9M102.4,379.3h0.9M99.0,394.0h0.9M95.8,377.4h0.9M64.2,377.5h0.9M97.9,387.9h0.9M74.7,373.2h0.9M79.1,372.5h0.9M97.1,384.6h0.9M108.1,394.5h0.9M102.0,377.5h0.9M108.9,393.3h0.9M101.7,383.8h0.9M103.7,384.4h0.9" stroke="#f4f4f4" stroke-width="0.8" stroke-opacity="0.8"/>
<path d="M73.9,374.6C72.6,375.1 70.9,377.5 70.2,379.8C69.5,382.0 69.3,385.5 69.9,387.9C70.5,390.4 72.5,392.7 73.9,394.4C75.4,396.2 76.8,397.5 78.6,398.5C80.5,399.6 82.8,400.5 85.2,400.7C87.6,400.9 90.9,400.2 93.0,399.6C95.0,399.0 95.4,397.7 97.3,397.2C99.3,396.6 103.6,396.6 104.8,396.3C106.1,396.1 106.2,395.7 104.8,395.5C103.5,395.4 98.7,395.6 96.7,395.5C94.7,395.5 94.8,395.3 93.0,395.3C91.1,395.3 87.5,395.9 85.5,395.5C83.5,395.2 82.4,394.3 81.1,393.1C79.9,391.9 78.7,390.3 78.0,388.5C77.3,386.6 76.8,384.2 76.8,382.2C76.8,380.2 78.5,377.8 78.0,376.5C77.5,375.2 75.2,374.0 73.9,374.6Z" fill="#3aa834"/>
<path d="M70.7,388.0h0.9M72.8,376.7h0.9M95.6,398.1h0.9M72.8,391.1h0.9M74.9,394.1h0.9M77.6,394.6h0.9M99.7,395.6h0.9M77.0,385.7h0.9M72.0,382.6h0.9M73.9,391.5h0.9M72.1,386.6h0.9M90.3,398.3h0.9M76.3,380.3h0.9M78.1,393.3h0.9M76.4,381.9h0.9M75.9,394.4h0.9M79.0,397.8h0.9M89.0,399.6h0.9M70.3,386.9h0.9M82.9,395.4h0.9M75.4,378.7h0.9M75.2,394.7h0.9M99.5,396.1h0.9M72.8,381.6h0.9" stroke="#e8e8e8" stroke-width="0.8" stroke-opacity="0.6"/>
<path d="M96.1,387.9C97.1,387.1 99.6,386.7 101.4,386.8C103.2,386.9 105.6,387.4 106.7,388.5C107.8,389.5 108.4,392.0 108.0,393.1C107.5,394.2 105.6,394.7 103.9,395.0C102.2,395.3 99.4,395.3 98.0,394.7C96.6,394.2 95.8,392.9 95.5,391.7C95.2,390.6 95.1,388.7 96.1,387.9Z" fill="#ffffff" fill-opacity="0.9"/>
<path d="M86.1,355.3C87.2,354.5 89.0,355.0 89.5,355.8C90.1,356.6 89.9,358.6 89.2,360.2C88.6,361.7 86.8,363.3 85.8,365.1C84.8,366.9 84.2,370.0 83.0,371.0C81.7,372.1 78.9,372.4 78.3,371.6C77.7,370.8 78.5,368.1 79.2,366.2C80.0,364.2 81.8,362.0 83.0,360.2C84.1,358.4 85.0,356.0 86.1,355.3Z" fill="#90d46b"/>
<path d="M83.6,366.9h0.9M82.4,366.5h0.9M86.3,359.1h0.9M84.6,362.7h0.9M78.4,371.5h0.9M87.3,358.6h0.9M85.2,360.0h0.9M82.5,364.1h0.9M82.7,366.2h0.9M86.5,360.6h0.9M86.4,360.7h0.9M87.6,356.8h0.9" stroke="#f2f2f2" stroke-width="0.8" stroke-opacity="0.6"/>
<path d="M101.1,357.4C102.3,356.3 107.1,356.4 109.8,356.1C112.5,355.8 115.2,355.4 117.3,355.5C119.4,355.7 121.0,355.8 122.3,356.9C123.7,358.0 123.8,360.8 125.4,362.1C127.1,363.3 130.5,363.3 132.3,364.5C134.1,365.7 135.6,367.9 136.0,369.4C136.4,371.0 135.8,372.8 134.8,373.8C133.7,374.8 131.7,374.6 129.8,375.4C127.9,376.2 125.6,378.5 123.6,378.7C121.5,378.8 119.0,377.8 117.3,376.5C115.6,375.2 115.2,372.4 113.6,370.8C111.9,369.1 109.2,368.0 107.3,366.7C105.5,365.4 103.4,364.4 102.3,362.9C101.3,361.3 99.8,358.6 101.1,357.4Z" fill="#a88a60"/>
<path d="M124.8,371.9h0.9M107.4,364.8h0.9M130.3,369.2h0.9M104.2,360.8h0.9M106.6,358.4h0.9M115.3,357.2h0.9M119.0,370.5h0.9M127.9,374.5h0.9M114.6,363.2h0.9M115.5,355.9h0.9M115.1,371.7h0.9M124.2,369.6h0.9M104.8,364.3h0.9M118.9,373.8h0.9M129.9,369.7h0.9M132.6,368.2h0.9M113.4,367.1h0.9M126.1,374.9h0.9M123.0,360.1h0.9M104.0,361.2h0.9M121.2,371.7h0.9M113.7,366.2h0.9M120.1,368.5h0.9M120.7,361.7h0.9M129.7,369.5h0.9M120.2,357.3h0.9M102.2,359.7h0.9M124.1,362.7h0.9M124.5,372.6h0.9M114.4,369.2h0.9M108.1,366.4h0.9M106.1,364.5h0.9M121.0,359.6h0.9M119.3,361.6h0.9M120.9,363.2h0.9M134.6,369.4h0.9M117.5,365.1h0.9M122.9,371.5h0.9M127.6,372.9h0.9M115.4,365.6h0.9M120.9,376.5h0.9M119.5,367.7h0.9M112.3,356.8h0.9M126.4,376.4h0.9M126.7,369.4h0.9M121.8,357.2h0.9M118.7,364.7h0.9M119.5,361.1h0.9M111.8,364.7h0.9M109.3,357.1h0.9M124.4,375.6h0.9M115.8,374.2h0.9M120.9,376.4h0.9M109.6,362.5h0.9M112.4,357.0h0.9M132.4,374.4h0.9M115.0,363.8h0.9M111.8,367.1h0.9M117.6,360.3h0.9" stroke="#f2f2f2" stroke-width="0.8" stroke-opacity="0.6"/>
<path d="M83.0,350.1C83.0,349.6 86.8,348.4 88.6,347.4C90.4,346.3 92.3,344.9 93.6,343.8C94.9,342.8 95.6,340.8 96.4,340.9C97.2,340.9 97.6,343.0 98.6,344.4C99.6,345.8 103.1,348.3 102.6,349.3C102.2,350.3 98.4,350.1 96.1,350.4C93.8,350.6 90.8,350.7 88.6,350.6C86.4,350.6 83.0,350.6 83.0,350.1Z" fill="#4d9e8f"/>
<path d="M86.8,349.5h0.9M97.3,343.9h0.9M100.7,349.4h0.9M97.0,342.2h0.9M96.7,350.0h0.9M97.0,342.8h0.9M96.1,348.6h0.9M90.3,347.3h0.9M100.4,346.6h0.9M91.6,346.0h0.9M94.8,343.6h0.9" stroke="#f2f2f2" stroke-width="0.8" stroke-opacity="0.6"/>
<path d="M92.4,333.5C92.7,332.4 94.0,331.2 95.5,330.5C96.9,329.8 99.1,329.4 101.1,329.4C103.1,329.5 105.5,329.9 107.3,330.8C109.1,331.7 111.8,333.7 112.0,334.6C112.2,335.5 110.0,335.5 108.6,336.0C107.2,336.4 105.0,336.7 103.6,337.3C102.1,337.9 100.9,338.8 99.8,339.5C98.8,340.2 98.2,341.4 97.3,341.7C96.5,341.9 95.5,341.9 94.8,341.1C94.2,340.4 94.0,338.6 93.6,337.3C93.2,336.1 92.0,334.6 92.4,333.5Z" fill="#3d80bd"/>
<path d="M97.3,339.3h0.9M94.1,332.9h0.9M107.2,332.4h0.9M97.8,336.1h0.9M96.0,340.4h0.9M102.2,331.6h0.9M103.3,337.3h0.9M99.4,337.5h0.9M107.7,335.8h0.9M105.8,335.8h0.9M107.7,331.5h0.9M104.3,332.3h0.9M97.0,335.4h0.9M96.7,336.5h0.9M102.2,329.9h0.9M95.9,331.3h0.9M100.9,334.8h0.9M97.5,339.2h0.9" stroke="#f2f2f2" stroke-width="0.8" stroke-opacity="0.6"/>
<path d="M114.2,334.3C114.2,333.9 113.8,333.4 113.3,333.2C112.8,332.9 111.8,332.7 111.1,332.7C110.3,332.7 109.4,332.9 108.9,333.2C108.3,333.4 108.0,333.9 108.0,334.3C108.0,334.7 108.3,335.2 108.9,335.5C109.4,335.8 110.3,336.0 111.1,336.0C111.8,336.0 112.8,335.8 113.3,335.5C113.8,335.2 114.2,334.7 114.2,334.3Z" fill="#c4b3a8"/>
<path d="M111.5,334.5h0.9" stroke="#f2f2f2" stroke-width="0.8" stroke-opacity="0.6"/>
<path d="M62.7,344.7C63.2,344.0 65.4,343.8 66.8,343.8C68.2,343.9 69.9,344.5 71.1,345.2C72.4,345.9 74.5,347.6 74.3,348.2C74.0,348.8 71.7,348.8 69.9,348.7C68.1,348.7 64.8,348.3 63.6,347.7C62.5,347.0 62.2,345.3 62.7,344.7Z" fill="#f0a560"/>
<path d="M64.4,345.4h0.9M63.2,345.4h0.9M69.9,346.4h0.9M65.8,346.7h0.9" stroke="#f2f2f2" stroke-width="0.8" stroke-opacity="0.6"/>
<path d="M68.5,353.6C68.5,353.2 68.2,352.7 67.9,352.5C67.7,352.3 67.1,352.3 66.8,352.5C66.6,352.7 66.3,353.2 66.3,353.6C66.3,354.0 66.6,354.6 66.8,354.8C67.1,355.0 67.7,355.0 67.9,354.8C68.2,354.6 68.5,354.0 68.5,353.6Z" fill="#b35a2a"/>
<path d="M112.9,342.8C113.3,342.8 113.7,344.9 114.2,345.5C114.7,346.1 115.1,345.9 116.1,346.3C117.1,346.7 119.9,347.2 120.1,347.7C120.3,348.2 118.4,349.2 117.3,349.3C116.2,349.4 114.5,349.1 113.6,348.5C112.7,347.8 112.1,346.4 112.0,345.5C111.9,344.5 112.6,342.8 112.9,342.8Z" fill="#c4a7df"/>
<path d="M113.4,344.4h0.9M113.3,347.3h0.9M118.7,347.9h0.9M112.5,345.4h0.9" stroke="#f2f2f2" stroke-width="0.8" stroke-opacity="0.6"/>
<path d="M49.5,367.5C49.5,367.0 49.3,366.4 48.9,366.0C48.6,365.6 48.1,365.2 47.6,365.1C47.1,364.9 46.5,364.9 46.0,365.1C45.5,365.2 45.0,365.6 44.7,366.0C44.3,366.4 44.1,367.0 44.1,367.5C44.1,368.0 44.3,368.6 44.7,369.0C45.0,369.4 45.5,369.8 46.0,370.0C46.5,370.1 47.1,370.1 47.6,370.0C48.1,369.8 48.6,369.4 48.9,369.0C49.3,368.6 49.5,368.0 49.5,367.5Z" fill="#e08548"/>
<path d="M46.7,368.8h0.9M46.6,368.7h0.9" stroke="#f2f2f2" stroke-width="0.8" stroke-opacity="0.6"/>
<path d="M127.9,389.8C128.2,389.4 130.5,389.3 131.7,389.0C132.8,388.7 134.4,387.6 134.8,387.9C135.2,388.2 135.0,390.0 134.2,390.6C133.3,391.2 130.8,391.6 129.8,391.4C128.8,391.3 127.6,390.2 127.9,389.8Z" fill="#6b3ea3"/>
<path d="M134.0,388.4h0.9" stroke="#f2f2f2" stroke-width="0.8" stroke-opacity="0.6"/>
<path d="M56.2,390.1C56.2,389.9 55.8,389.6 55.3,389.5C54.9,389.4 54.0,389.3 53.4,389.3C52.7,389.3 51.8,389.4 51.4,389.5C50.9,389.6 50.5,389.9 50.5,390.1C50.5,390.3 50.9,390.5 51.4,390.7C51.8,390.8 52.7,390.9 53.4,390.9C54.0,390.9 54.9,390.8 55.3,390.7C55.8,390.5 56.2,390.3 56.2,390.1Z" fill="#e2cf6b"/>
<path d="M52.8,389.8h0.9" stroke="#f2f2f2" stroke-width="0.8" stroke-opacity="0.6"/>
<path d="M60.5,403.7C61.3,402.7 63.3,402.2 64.9,401.5C66.5,400.8 68.7,399.6 70.2,399.6C71.7,399.6 73.6,400.6 73.9,401.5C74.3,402.5 72.3,404.0 72.4,405.3C72.4,406.7 74.7,408.8 74.3,409.7C73.8,410.5 71.3,410.7 69.9,410.5C68.4,410.3 67.1,408.8 65.5,408.3C64.0,407.8 61.4,408.3 60.5,407.5C59.7,406.7 59.8,404.7 60.5,403.7Z" fill="#e2231d"/>
<path d="M71.0,407.6h0.9M63.7,402.4h0.9M68.1,402.2h0.9M65.5,403.3h0.9M61.1,404.0h0.9M69.4,400.2h0.9M65.2,407.2h0.9M72.4,406.0h0.9M65.8,408.1h0.9M63.5,403.4h0.9M63.0,405.6h0.9" stroke="#f2f2f2" stroke-width="0.8" stroke-opacity="0.6"/>
<path d="M94.2,408.6C94.7,407.7 97.3,406.6 99.2,406.1C101.1,405.7 103.5,405.6 105.5,405.9C107.4,406.1 110.0,406.6 111.1,407.5C112.1,408.4 112.2,410.1 111.7,411.3C111.2,412.5 109.6,414.3 108.0,414.6C106.3,414.9 103.7,413.7 101.7,413.2C99.7,412.7 97.3,412.3 96.1,411.6C94.8,410.8 93.7,409.5 94.2,408.6Z" fill="#e6606b"/>
<path d="M97.1,407.6h0.9M98.0,409.9h0.9M99.6,409.8h0.9M109.3,407.6h0.9M100.9,406.5h0.9M106.3,409.0h0.9M97.4,408.1h0.9M106.7,408.2h0.9M100.5,407.2h0.9M110.6,409.0h0.9M107.6,412.2h0.9M99.9,409.2h0.9M99.9,412.6h0.9" stroke="#f2f2f2" stroke-width="0.8" stroke-opacity="0.6"/>
<path d="M85.5,414.0C86.0,414.0 89.2,415.6 91.1,415.9C93.0,416.3 94.7,416.1 96.7,416.2C98.7,416.3 101.7,416.0 103.0,416.7C104.3,417.5 104.9,419.5 104.5,420.6C104.1,421.6 102.0,423.0 100.5,423.3C99.0,423.6 96.8,423.2 95.5,422.5C94.1,421.7 93.6,420.0 92.4,418.9C91.1,417.9 89.1,417.0 88.0,416.2C86.8,415.4 85.0,414.1 85.5,414.0Z" fill="#f08c2c"/>
<path d="M93.0,416.2h0.9M91.4,417.9h0.9M98.9,416.4h0.9M99.3,420.2h0.9M88.3,415.9h0.9M93.2,417.6h0.9M91.0,417.2h0.9M96.3,421.5h0.9M98.2,422.5h0.9M98.2,422.9h0.9" stroke="#f2f2f2" stroke-width="0.8" stroke-opacity="0.6"/>
<text x="97.34" y="331.34" font-size="3.9" text-anchor="middle" fill="#1a1a1a">CD8T</text>
<text x="114.19" y="333.51" font-size="3.9" text-anchor="middle" fill="#1a1a1a">NK</text>
<text x="88.92" y="350.92" font-size="3.9" text-anchor="middle" fill="#1a1a1a">CD4T</text>
<text x="61.78" y="346.57" font-size="3.9" text-anchor="middle" fill="#1a1a1a">B Cell</text>
<text x="66.77" y="352.01" font-size="3.9" text-anchor="middle" fill="#1a1a1a">Dendritic</text>
<text x="117.31" y="346.57" font-size="3.9" text-anchor="middle" fill="#1a1a1a">Cycling</text>
<text x="88.61" y="360.44" font-size="3.9" text-anchor="middle" fill="#1a1a1a">Granulocyte</text>
<text x="122.30" y="366.15" font-size="3.9" text-anchor="middle" fill="#1a1a1a">Macrophage</text>
<text x="45.55" y="364.79" font-size="3.9" text-anchor="middle" fill="#1a1a1a">Mast</text>
<text x="91.10" y="377.03" font-size="3.9" text-anchor="middle" fill="#1a1a1a">Epithelial</text>
<text x="86.74" y="391.72" font-size="3.9" text-anchor="middle" fill="#1a1a1a">Acinar</text>
<text x="135.10" y="392.54" font-size="3.9" text-anchor="middle" fill="#1a1a1a">Plasma</text>
<text x="52.42" y="391.99" font-size="3.9" text-anchor="middle" fill="#1a1a1a">Endocrine</text>
<text x="67.70" y="405.86" font-size="3.9" text-anchor="middle" fill="#1a1a1a">Endothelial</text>
<text x="104.21" y="408.04" font-size="3.9" text-anchor="middle" fill="#1a1a1a">Fibroblast</text>
<text x="96.72" y="424.36" font-size="3.9" text-anchor="middle" fill="#1a1a1a">Pericyte</text>
<text x="91.50" y="325.00" font-size="10.3" text-anchor="middle" fill="#1a1a1a">Adjacent normal</text>
<line x1="40.60" y1="325.90" x2="40.60" y2="428.40" stroke="#555" stroke-width="0.8"/>
<line x1="40.60" y1="428.40" x2="139.50" y2="428.40" stroke="#555" stroke-width="0.8"/>
<line x1="39.10" y1="348.20" x2="40.60" y2="348.20" stroke="#555" stroke-width="0.6"/>
<text x="38.80" y="350.30" font-size="6" text-anchor="end" fill="#444">10</text>
<line x1="39.10" y1="375.40" x2="40.60" y2="375.40" stroke="#555" stroke-width="0.6"/>
<text x="38.80" y="377.50" font-size="6" text-anchor="end" fill="#444">0</text>
<line x1="39.10" y1="402.60" x2="40.60" y2="402.60" stroke="#555" stroke-width="0.6"/>
<text x="38.80" y="404.70" font-size="6" text-anchor="end" fill="#444">-10</text>
<line x1="62.40" y1="428.40" x2="62.40" y2="429.90" stroke="#555" stroke-width="0.6"/>
<text x="62.40" y="434.80" font-size="6" text-anchor="middle" fill="#444">-10</text>
<line x1="93.60" y1="428.40" x2="93.60" y2="429.90" stroke="#555" stroke-width="0.6"/>
<text x="93.60" y="434.80" font-size="6" text-anchor="middle" fill="#444">0</text>
<line x1="124.80" y1="428.40" x2="124.80" y2="429.90" stroke="#555" stroke-width="0.6"/>
<text x="124.80" y="434.80" font-size="6" text-anchor="middle" fill="#444">10</text>
<text x="90.20" y="440.60" font-size="5.9" text-anchor="middle" font-weight="bold" fill="#111">UMAP1</text>
<text transform="translate(29.60 376.40) rotate(-90)" font-size="5.9" font-weight="bold" text-anchor="middle" fill="#111">UMAP2</text>
<path d="M183.5,376.8C183.2,376.0 183.9,375.1 185.4,374.3C186.8,373.5 190.0,372.7 192.2,371.9C194.4,371.0 196.5,369.6 198.4,369.4C200.3,369.3 202.2,370.7 203.7,371.0C205.1,371.4 205.4,371.9 207.1,371.6C208.7,371.3 211.5,369.6 213.6,369.4C215.7,369.2 217.8,369.8 219.5,370.5C221.1,371.2 222.2,371.9 223.5,373.5C224.9,375.1 226.1,378.5 227.5,380.3C228.9,382.1 230.6,382.9 231.9,384.1C233.1,385.3 234.4,386.2 235.0,387.6C235.6,389.0 236.2,391.1 235.6,392.5C235.0,393.9 233.1,395.5 231.3,396.1C229.5,396.7 226.7,396.0 224.8,396.1C222.8,396.1 220.9,395.8 219.5,396.3C218.1,396.9 218.2,398.7 216.4,399.3C214.6,400.0 211.0,400.6 208.6,400.4C206.3,400.2 203.9,399.3 202.1,398.2C200.3,397.2 199.2,395.6 197.8,393.9C196.4,392.2 194.4,390.3 193.8,387.9C193.1,385.6 194.5,381.4 194.1,379.8C193.6,378.1 192.1,378.3 191.0,378.1C189.8,378.0 188.5,379.2 187.2,378.9C186.0,378.7 183.8,377.5 183.5,376.8Z" fill="#ebebeb"/>
<path d="M183.5,376.8C183.2,376.0 183.9,375.1 185.4,374.3C186.8,373.5 190.0,372.7 192.2,371.9C194.4,371.0 196.5,369.6 198.4,369.4C200.3,369.3 202.2,370.7 203.7,371.0C205.1,371.4 205.4,371.9 207.1,371.6C208.7,371.3 211.5,369.6 213.6,369.4C215.7,369.2 217.8,369.8 219.5,370.5C221.1,371.2 222.2,371.9 223.5,373.5C224.9,375.1 226.1,378.5 227.5,380.3C228.9,382.1 230.6,382.9 231.9,384.1C233.1,385.3 234.4,386.2 235.0,387.6C235.6,389.0 236.2,391.1 235.6,392.5C235.0,393.9 233.1,395.5 231.3,396.1C229.5,396.7 226.6,396.3 224.8,396.1C222.9,395.9 221.2,395.9 220.1,395.0C219.0,394.0 218.4,392.0 218.2,390.4C218.0,388.7 219.5,386.9 218.9,385.2C218.2,383.5 216.4,381.6 214.5,380.3C212.7,379.0 209.9,378.1 207.7,377.6C205.5,377.0 203.7,376.7 201.5,377.0C199.3,377.4 196.1,379.6 194.4,379.8C192.6,379.9 192.1,378.3 191.0,378.1C189.8,378.0 188.5,379.2 187.2,378.9C186.0,378.7 183.8,377.5 183.5,376.8Z" fill="#a6cee3" fill-opacity="0.75"/>
<path d="M216.5,371.8h0.9M198.1,373.6h0.9M196.0,371.9h0.9M220.0,384.2h0.9M200.5,376.2h0.9M230.0,384.5h0.9M232.6,390.0h0.9M193.5,375.5h0.9M218.9,375.7h0.9M204.0,375.8h0.9M219.7,387.7h0.9M233.7,391.4h0.9M202.8,377.0h0.9M222.5,383.6h0.9M195.9,376.1h0.9M200.4,374.2h0.9M210.3,372.8h0.9M223.7,382.2h0.9M225.0,379.9h0.9M220.8,376.1h0.9M220.8,378.1h0.9M227.4,391.5h0.9M220.3,386.0h0.9M226.8,390.8h0.9M218.4,375.6h0.9M219.3,380.6h0.9M216.4,380.0h0.9M225.2,391.8h0.9M219.7,384.0h0.9M192.6,372.3h0.9M208.9,372.6h0.9M213.0,373.2h0.9M216.1,376.7h0.9M202.6,376.3h0.9M187.6,374.3h0.9M225.5,380.0h0.9M228.5,395.9h0.9M221.3,374.1h0.9M224.8,389.0h0.9M226.6,389.9h0.9M220.3,376.1h0.9M213.6,375.5h0.9M202.0,376.9h0.9M188.4,378.3h0.9M222.1,375.0h0.9M222.2,384.0h0.9M218.9,374.1h0.9M189.0,373.2h0.9M220.3,374.2h0.9M193.1,378.9h0.9M216.6,379.5h0.9M217.1,375.1h0.9M228.1,386.2h0.9M219.4,381.5h0.9M218.2,380.6h0.9M203.6,375.5h0.9M216.2,381.3h0.9M222.0,377.8h0.9M209.1,375.7h0.9M227.3,386.7h0.9M232.4,391.5h0.9M225.1,383.1h0.9M228.8,388.4h0.9M224.5,382.5h0.9M228.1,390.0h0.9M202.6,372.1h0.9M228.6,391.6h0.9M189.6,374.3h0.9M229.2,388.8h0.9M216.3,376.8h0.9M192.9,372.8h0.9M219.7,381.9h0.9M232.5,385.7h0.9M202.1,374.6h0.9M221.9,379.0h0.9M218.8,381.5h0.9M222.2,385.4h0.9M205.3,376.9h0.9M218.5,375.9h0.9M205.0,372.9h0.9M226.3,392.1h0.9M218.4,378.6h0.9M230.3,394.7h0.9M226.7,386.7h0.9M194.4,379.3h0.9M221.6,390.1h0.9M232.7,393.3h0.9M210.2,377.3h0.9M224.0,376.0h0.9M228.5,395.1h0.9M221.8,388.4h0.9M187.6,376.4h0.9M222.0,376.3h0.9M195.1,372.1h0.9M208.7,375.6h0.9M222.6,382.4h0.9M196.6,376.6h0.9M225.0,380.8h0.9M224.6,386.5h0.9M216.8,370.0h0.9M232.2,389.5h0.9M213.7,369.6h0.9M221.9,380.6h0.9M224.2,381.2h0.9M222.7,379.5h0.9M189.7,377.9h0.9M218.2,384.0h0.9M194.0,378.6h0.9M219.8,375.6h0.9" stroke="#f4f4f4" stroke-width="0.8" stroke-opacity="0.8"/>
<path d="M195.3,374.9C196.6,373.9 199.5,373.7 201.5,373.8C203.5,373.8 205.6,373.9 207.1,375.1C208.5,376.3 209.3,378.8 210.2,380.8C211.1,382.9 211.4,385.6 212.3,387.6C213.3,389.7 214.7,392.0 216.1,393.4C217.5,394.7 218.2,395.1 220.7,395.5C223.3,396.0 229.5,395.8 231.3,396.1C233.0,396.3 232.6,397.0 231.3,397.2C229.9,397.3 225.6,396.9 223.2,397.2C220.8,397.4 219.4,398.2 217.0,398.8C214.6,399.4 211.1,400.7 208.6,400.7C206.2,400.7 204.0,399.6 202.1,398.5C200.3,397.5 198.9,396.2 197.5,394.4C196.0,392.7 194.1,390.4 193.4,387.9C192.8,385.4 193.4,381.7 193.8,379.5C194.1,377.3 194.0,375.8 195.3,374.9Z" fill="#3aa834"/>
<path d="M203.3,393.4h0.9M207.7,393.1h0.9M209.8,390.4h0.9M205.0,396.6h0.9M206.0,377.8h0.9M201.0,388.2h0.9M204.4,396.9h0.9M202.9,374.3h0.9M204.5,380.6h0.9M198.4,386.8h0.9M203.8,381.4h0.9M203.9,387.5h0.9M226.0,396.8h0.9M207.2,395.0h0.9M202.3,386.0h0.9M207.5,393.4h0.9M194.6,389.1h0.9M211.9,388.8h0.9M198.5,381.9h0.9M206.1,392.7h0.9M194.2,387.0h0.9M213.1,399.6h0.9M213.1,389.4h0.9M206.1,383.1h0.9" stroke="#e8e8e8" stroke-width="0.8" stroke-opacity="0.6"/>
<path d="M219.5,387.9C220.5,387.1 223.0,386.7 224.8,386.8C226.5,386.9 228.9,387.4 230.0,388.5C231.1,389.5 231.7,392.0 231.3,393.1C230.8,394.2 228.9,394.7 227.2,395.0C225.6,395.3 222.7,395.3 221.3,394.7C219.9,394.2 219.2,392.9 218.9,391.7C218.6,390.6 218.5,388.7 219.5,387.9Z" fill="#ffffff" fill-opacity="0.9"/>
<path d="M209.6,355.3C210.6,354.5 212.5,355.0 213.0,355.8C213.5,356.6 213.3,358.6 212.7,360.2C212.0,361.7 210.3,363.3 209.2,365.1C208.2,366.9 207.7,370.0 206.5,371.0C205.2,372.1 202.4,372.4 201.8,371.6C201.2,370.8 202.0,368.1 202.7,366.2C203.5,364.2 205.3,362.0 206.5,360.2C207.6,358.4 208.5,356.0 209.6,355.3Z" fill="#90d46b"/>
<path d="M204.7,364.8h0.9M207.7,360.7h0.9M209.3,362.7h0.9M204.4,369.7h0.9M210.6,360.7h0.9M204.5,366.0h0.9M204.7,363.8h0.9M204.7,369.6h0.9M202.7,367.7h0.9M205.9,361.1h0.9" stroke="#f2f2f2" stroke-width="0.8" stroke-opacity="0.6"/>
<path d="M224.4,357.4C225.7,356.3 230.4,356.4 233.1,356.1C235.8,355.8 238.5,355.4 240.6,355.5C242.6,355.7 244.2,355.8 245.5,356.9C246.9,358.0 247.0,360.8 248.6,362.1C250.3,363.3 253.7,363.3 255.4,364.5C257.2,365.7 258.7,367.9 259.2,369.4C259.6,371.0 259.0,372.8 257.9,373.8C256.9,374.8 254.8,374.6 253.0,375.4C251.1,376.2 248.8,378.5 246.8,378.7C244.7,378.8 242.2,377.8 240.6,376.5C238.9,375.2 238.5,372.4 236.8,370.8C235.2,369.1 232.5,368.0 230.6,366.7C228.8,365.4 226.7,364.4 225.7,362.9C224.6,361.3 223.2,358.6 224.4,357.4Z" fill="#a88a60"/>
<path d="M251.9,373.6h0.9M237.6,362.2h0.9M245.0,372.7h0.9M241.0,374.5h0.9M237.6,357.0h0.9M255.1,372.3h0.9M237.4,358.3h0.9M226.9,359.8h0.9M236.5,356.7h0.9M235.1,359.8h0.9M243.2,368.7h0.9M250.9,367.7h0.9M232.2,357.3h0.9M256.5,367.2h0.9M230.0,363.2h0.9M244.2,362.4h0.9M240.4,369.5h0.9M253.8,366.3h0.9M250.9,364.8h0.9M226.2,359.3h0.9M241.8,370.6h0.9M240.6,359.8h0.9M225.9,361.6h0.9M245.9,364.1h0.9M240.9,370.0h0.9M235.4,363.8h0.9M255.1,369.0h0.9M238.9,368.0h0.9M240.4,363.2h0.9M234.5,359.5h0.9M244.7,359.2h0.9M236.5,368.5h0.9M241.7,376.9h0.9M242.3,364.3h0.9M246.4,366.2h0.9M241.2,370.4h0.9M239.8,357.5h0.9M253.2,374.0h0.9M241.9,365.4h0.9M243.7,377.4h0.9M241.4,366.7h0.9M241.9,363.5h0.9M231.3,360.5h0.9M253.4,374.1h0.9M248.2,374.0h0.9M249.1,374.3h0.9M245.6,376.6h0.9M256.8,370.4h0.9M246.1,358.4h0.9" stroke="#f2f2f2" stroke-width="0.8" stroke-opacity="0.6"/>
<path d="M206.5,350.1C206.5,349.6 210.3,348.4 212.0,347.4C213.8,346.3 215.7,344.9 217.0,343.8C218.3,342.8 219.0,340.8 219.8,340.9C220.6,340.9 220.9,343.0 222.0,344.4C223.0,345.8 226.4,348.3 226.0,349.3C225.6,350.3 221.8,350.1 219.5,350.4C217.2,350.6 214.2,350.7 212.0,350.6C209.9,350.6 206.5,350.6 206.5,350.1Z" fill="#4d9e8f"/>
<path d="M223.4,348.4h0.9M221.8,349.4h0.9M217.6,350.1h0.9M218.9,345.7h0.9M219.2,348.4h0.9M220.0,345.9h0.9M219.9,350.1h0.9M212.9,349.9h0.9M225.3,348.4h0.9M216.7,345.6h0.9M216.9,345.5h0.9M221.0,343.3h0.9" stroke="#f2f2f2" stroke-width="0.8" stroke-opacity="0.6"/>
<path d="M215.8,333.5C216.1,332.4 217.4,331.2 218.9,330.5C220.3,329.8 222.5,329.4 224.4,329.4C226.4,329.5 228.8,329.9 230.6,330.8C232.4,331.7 235.1,333.7 235.3,334.6C235.5,335.5 233.3,335.5 231.9,336.0C230.5,336.4 228.4,336.7 226.9,337.3C225.5,337.9 224.2,338.8 223.2,339.5C222.2,340.2 221.5,341.4 220.7,341.7C219.9,341.9 218.9,341.9 218.2,341.1C217.6,340.4 217.4,338.6 217.0,337.3C216.6,336.1 215.4,334.6 215.8,333.5Z" fill="#3d80bd"/>
<path d="M220.5,333.4h0.9M222.7,335.9h0.9M223.9,334.4h0.9M220.4,335.2h0.9M224.2,337.8h0.9M230.7,336.2h0.9M226.1,331.7h0.9M218.7,336.2h0.9M221.1,338.2h0.9M230.0,333.3h0.9M229.5,335.0h0.9M224.2,330.7h0.9M217.1,332.7h0.9M229.3,334.8h0.9M218.3,334.6h0.9M223.6,337.4h0.9" stroke="#f2f2f2" stroke-width="0.8" stroke-opacity="0.6"/>
<path d="M237.5,334.3C237.5,333.9 237.1,333.4 236.6,333.2C236.0,332.9 235.1,332.7 234.4,332.7C233.6,332.7 232.7,332.9 232.2,333.2C231.7,333.4 231.3,333.9 231.3,334.3C231.3,334.7 231.7,335.2 232.2,335.5C232.7,335.8 233.6,336.0 234.4,336.0C235.1,336.0 236.0,335.8 236.6,335.5C237.1,335.2 237.5,334.7 237.5,334.3Z" fill="#c4b3a8"/>
<path d="M186.3,344.7C186.8,344.0 188.9,343.8 190.3,343.8C191.7,343.9 193.4,344.5 194.7,345.2C195.9,345.9 198.0,347.6 197.8,348.2C197.6,348.8 195.2,348.8 193.4,348.7C191.7,348.7 188.4,348.3 187.2,347.7C186.1,347.0 185.8,345.3 186.3,344.7Z" fill="#f0a560"/>
<path d="M187.1,345.8h0.9M191.7,344.4h0.9M197.2,348.0h0.9M191.9,346.7h0.9" stroke="#f2f2f2" stroke-width="0.8" stroke-opacity="0.6"/>
<path d="M192.0,353.6C192.0,353.2 191.8,352.7 191.5,352.5C191.2,352.3 190.7,352.3 190.4,352.5C190.1,352.7 189.9,353.2 189.9,353.6C189.9,354.0 190.1,354.6 190.4,354.8C190.7,355.0 191.2,355.0 191.5,354.8C191.8,354.6 192.0,354.0 192.0,353.6Z" fill="#b35a2a"/>
<path d="M236.2,342.8C236.6,342.8 236.9,344.9 237.5,345.5C238.0,346.1 238.3,345.9 239.3,346.3C240.3,346.7 243.1,347.2 243.3,347.7C243.6,348.2 241.6,349.2 240.6,349.3C239.5,349.4 237.7,349.1 236.8,348.5C236.0,347.8 235.4,346.4 235.3,345.5C235.2,344.5 235.9,342.8 236.2,342.8Z" fill="#c4a7df"/>
<path d="M236.3,344.7h0.9M237.1,348.4h0.9M238.5,348.6h0.9M237.4,347.9h0.9" stroke="#f2f2f2" stroke-width="0.8" stroke-opacity="0.6"/>
<path d="M173.1,367.5C173.1,367.0 172.9,366.4 172.6,366.0C172.3,365.6 171.8,365.2 171.3,365.1C170.8,364.9 170.2,364.9 169.7,365.1C169.2,365.2 168.7,365.6 168.4,366.0C168.1,366.4 167.9,367.0 167.9,367.5C167.9,368.0 168.1,368.6 168.4,369.0C168.7,369.4 169.2,369.8 169.7,370.0C170.2,370.1 170.8,370.1 171.3,370.0C171.8,369.8 172.3,369.4 172.6,369.0C172.9,368.6 173.1,368.0 173.1,367.5Z" fill="#e08548"/>
<path d="M169.8,367.2h0.9M170.3,366.6h0.9M171.2,367.1h0.9" stroke="#f2f2f2" stroke-width="0.8" stroke-opacity="0.6"/>
<path d="M251.1,389.8C251.4,389.4 253.7,389.3 254.8,389.0C256.0,388.7 257.5,387.6 257.9,387.9C258.3,388.2 258.1,390.0 257.3,390.6C256.5,391.2 254.0,391.6 253.0,391.4C251.9,391.3 250.8,390.2 251.1,389.8Z" fill="#6b3ea3"/>
<path d="M253.2,390.6h0.9M254.2,389.6h0.9" stroke="#f2f2f2" stroke-width="0.8" stroke-opacity="0.6"/>
<path d="M179.8,390.1C179.8,389.9 179.4,389.6 179.0,389.5C178.5,389.4 177.7,389.3 177.0,389.3C176.4,389.3 175.5,389.4 175.0,389.5C174.6,389.6 174.2,389.9 174.2,390.1C174.2,390.3 174.6,390.5 175.0,390.7C175.5,390.8 176.4,390.9 177.0,390.9C177.7,390.9 178.5,390.8 179.0,390.7C179.4,390.5 179.8,390.3 179.8,390.1Z" fill="#e2cf6b"/>
<path d="M179.1,390.0h0.9" stroke="#f2f2f2" stroke-width="0.8" stroke-opacity="0.6"/>
<path d="M184.1,403.7C184.9,402.7 186.9,402.2 188.5,401.5C190.1,400.8 192.3,399.6 193.8,399.6C195.2,399.6 197.1,400.6 197.5,401.5C197.8,402.5 195.9,404.0 195.9,405.3C196.0,406.7 198.2,408.8 197.8,409.7C197.4,410.5 194.9,410.7 193.4,410.5C192.0,410.3 190.7,408.8 189.1,408.3C187.5,407.8 185.0,408.3 184.1,407.5C183.3,406.7 183.4,404.7 184.1,403.7Z" fill="#e2231d"/>
<path d="M189.6,406.9h0.9M194.2,402.8h0.9M194.0,409.9h0.9M193.1,406.9h0.9M190.1,406.7h0.9M187.2,408.0h0.9M188.8,407.4h0.9M184.4,404.1h0.9M194.6,402.4h0.9M192.5,402.0h0.9M185.0,406.0h0.9M195.3,408.7h0.9" stroke="#f2f2f2" stroke-width="0.8" stroke-opacity="0.6"/>
<path d="M217.6,408.6C218.1,407.7 220.7,406.6 222.6,406.1C224.4,405.7 226.8,405.6 228.8,405.9C230.7,406.1 233.3,406.6 234.4,407.5C235.4,408.4 235.5,410.1 235.0,411.3C234.5,412.5 232.9,414.3 231.3,414.6C229.6,414.9 227.0,413.7 225.1,413.2C223.1,412.7 220.7,412.3 219.5,411.6C218.2,410.8 217.1,409.5 217.6,408.6Z" fill="#e6606b"/>
<path d="M224.4,411.0h0.9M230.0,412.5h0.9M230.6,410.9h0.9M222.0,412.0h0.9M227.4,410.6h0.9M231.2,408.7h0.9M230.2,414.1h0.9M222.4,410.8h0.9M226.8,410.2h0.9M220.5,411.3h0.9M233.1,411.6h0.9M224.9,407.1h0.9M228.1,409.9h0.9M223.7,412.5h0.9" stroke="#f2f2f2" stroke-width="0.8" stroke-opacity="0.6"/>
<path d="M208.9,414.0C209.5,414.0 212.7,415.6 214.5,415.9C216.4,416.3 218.1,416.1 220.1,416.2C222.1,416.3 225.0,416.0 226.3,416.7C227.6,417.5 228.3,419.5 227.8,420.6C227.4,421.6 225.3,423.0 223.8,423.3C222.3,423.6 220.2,423.2 218.9,422.5C217.5,421.7 217.0,420.0 215.8,418.9C214.5,417.9 212.6,417.0 211.4,416.2C210.3,415.4 208.4,414.1 208.9,414.0Z" fill="#f08c2c"/>
<path d="M222.0,420.4h0.9M224.6,417.5h0.9M214.1,417.3h0.9M213.7,415.7h0.9M211.2,414.8h0.9M224.0,420.9h0.9M224.4,422.0h0.9M222.2,417.1h0.9M217.9,416.9h0.9M219.7,419.7h0.9" stroke="#f2f2f2" stroke-width="0.8" stroke-opacity="0.6"/>
<text x="220.72" y="331.34" font-size="3.9" text-anchor="middle" fill="#1a1a1a">CD8T</text>
<text x="237.46" y="333.51" font-size="3.9" text-anchor="middle" fill="#1a1a1a">NK</text>
<text x="212.35" y="350.92" font-size="3.9" text-anchor="middle" fill="#1a1a1a">CD4T</text>
<text x="185.38" y="346.57" font-size="3.9" text-anchor="middle" fill="#1a1a1a">B Cell</text>
<text x="190.34" y="352.01" font-size="3.9" text-anchor="middle" fill="#1a1a1a">Dendritic</text>
<text x="240.56" y="346.57" font-size="3.9" text-anchor="middle" fill="#1a1a1a">Cycling</text>
<text x="212.04" y="360.44" font-size="3.9" text-anchor="middle" fill="#1a1a1a">Granulocyte</text>
<text x="245.52" y="366.15" font-size="3.9" text-anchor="middle" fill="#1a1a1a">Macrophage</text>
<text x="169.26" y="364.79" font-size="3.9" text-anchor="middle" fill="#1a1a1a">Mast</text>
<text x="214.52" y="377.03" font-size="3.9" text-anchor="middle" fill="#1a1a1a">Epithelial</text>
<text x="210.18" y="391.72" font-size="3.9" text-anchor="middle" fill="#1a1a1a">Acinar</text>
<text x="258.23" y="392.54" font-size="3.9" text-anchor="middle" fill="#1a1a1a">Plasma</text>
<text x="176.08" y="391.99" font-size="3.9" text-anchor="middle" fill="#1a1a1a">Endocrine</text>
<text x="191.27" y="405.86" font-size="3.9" text-anchor="middle" fill="#1a1a1a">Endothelial</text>
<text x="227.54" y="408.04" font-size="3.9" text-anchor="middle" fill="#1a1a1a">Fibroblast</text>
<text x="220.10" y="424.36" font-size="3.9" text-anchor="middle" fill="#1a1a1a">Pericyte</text>
<text x="220.80" y="325.00" font-size="10.3" text-anchor="middle" fill="#1a1a1a">Healthy</text>
<line x1="164.20" y1="325.90" x2="164.20" y2="428.40" stroke="#555" stroke-width="0.8"/>
<line x1="164.20" y1="428.40" x2="263.60" y2="428.40" stroke="#555" stroke-width="0.8"/>
<line x1="162.70" y1="348.20" x2="164.20" y2="348.20" stroke="#555" stroke-width="0.6"/>
<text x="162.40" y="350.30" font-size="6" text-anchor="end" fill="#444">10</text>
<line x1="162.70" y1="375.40" x2="164.20" y2="375.40" stroke="#555" stroke-width="0.6"/>
<text x="162.40" y="377.50" font-size="6" text-anchor="end" fill="#444">0</text>
<line x1="162.70" y1="402.60" x2="164.20" y2="402.60" stroke="#555" stroke-width="0.6"/>
<text x="162.40" y="404.70" font-size="6" text-anchor="end" fill="#444">-10</text>
<line x1="186.00" y1="428.40" x2="186.00" y2="429.90" stroke="#555" stroke-width="0.6"/>
<text x="186.00" y="434.80" font-size="6" text-anchor="middle" fill="#444">-10</text>
<line x1="217.00" y1="428.40" x2="217.00" y2="429.90" stroke="#555" stroke-width="0.6"/>
<text x="217.00" y="434.80" font-size="6" text-anchor="middle" fill="#444">0</text>
<line x1="248.00" y1="428.40" x2="248.00" y2="429.90" stroke="#555" stroke-width="0.6"/>
<text x="248.00" y="434.80" font-size="6" text-anchor="middle" fill="#444">10</text>
<text x="213.60" y="440.60" font-size="5.9" text-anchor="middle" font-weight="bold" fill="#111">UMAP1</text>
<text transform="translate(153.20 376.40) rotate(-90)" font-size="5.9" font-weight="bold" text-anchor="middle" fill="#111">UMAP2</text>
<path d="M306.3,376.8C306.0,376.0 306.7,375.1 308.2,374.3C309.6,373.5 312.9,372.7 315.0,371.9C317.2,371.0 319.4,369.6 321.3,369.4C323.2,369.3 325.1,370.7 326.6,371.0C328.0,371.4 328.4,371.9 330.0,371.6C331.7,371.3 334.5,369.6 336.6,369.4C338.6,369.2 340.8,369.8 342.5,370.5C344.2,371.2 345.2,371.9 346.6,373.5C347.9,375.1 349.2,378.5 350.6,380.3C352.0,382.1 353.7,382.9 355.0,384.1C356.2,385.3 357.5,386.2 358.1,387.6C358.7,389.0 359.3,391.1 358.7,392.5C358.1,393.9 356.2,395.5 354.4,396.1C352.5,396.7 349.8,396.0 347.8,396.1C345.8,396.1 343.9,395.8 342.5,396.3C341.1,396.9 341.2,398.7 339.4,399.3C337.6,400.0 334.0,400.6 331.6,400.4C329.2,400.2 326.8,399.3 325.0,398.2C323.2,397.2 322.1,395.6 320.7,393.9C319.3,392.2 317.2,390.3 316.6,387.9C316.0,385.6 317.4,381.4 316.9,379.8C316.4,378.1 314.9,378.3 313.8,378.1C312.6,378.0 311.3,379.2 310.0,378.9C308.8,378.7 306.6,377.5 306.3,376.8Z" fill="#ebebeb"/>
<path d="M306.3,376.8C306.0,376.0 306.7,375.1 308.2,374.3C309.6,373.5 312.9,372.7 315.0,371.9C317.2,371.0 319.4,369.6 321.3,369.4C323.2,369.3 325.1,370.7 326.6,371.0C328.0,371.4 328.4,371.9 330.0,371.6C331.7,371.3 334.5,369.6 336.6,369.4C338.6,369.2 340.8,369.8 342.5,370.5C344.2,371.2 345.2,371.9 346.6,373.5C347.9,375.1 349.2,378.5 350.6,380.3C352.0,382.1 353.7,382.9 355.0,384.1C356.2,385.3 357.5,386.2 358.1,387.6C358.7,389.0 359.3,391.1 358.7,392.5C358.1,393.9 356.2,395.5 354.4,396.1C352.5,396.7 349.7,396.3 347.8,396.1C345.9,395.9 344.2,395.9 343.1,395.0C342.0,394.0 341.5,392.0 341.2,390.4C341.0,388.7 342.5,386.9 341.9,385.2C341.2,383.5 339.4,381.6 337.5,380.3C335.6,379.0 332.8,378.1 330.6,377.6C328.5,377.0 326.6,376.7 324.4,377.0C322.2,377.4 319.0,379.6 317.2,379.8C315.5,379.9 315.0,378.3 313.8,378.1C312.6,378.0 311.3,379.2 310.0,378.9C308.8,378.7 306.6,377.5 306.3,376.8Z" fill="#a6cee3" fill-opacity="0.85"/>
<path d="M354.3,387.5h0.9M343.3,375.2h0.9M352.6,392.7h0.9M318.2,379.1h0.9M315.5,376.7h0.9M319.3,377.2h0.9M320.4,372.4h0.9M350.6,381.9h0.9M333.1,377.7h0.9M352.8,389.5h0.9M342.6,382.8h0.9M347.6,393.2h0.9M322.1,370.3h0.9M348.0,386.0h0.9M321.3,374.5h0.9M351.8,391.7h0.9M342.1,387.9h0.9M345.3,381.5h0.9M352.5,395.8h0.9M354.4,391.7h0.9M310.2,376.0h0.9M333.3,377.7h0.9M351.5,383.2h0.9M339.8,372.4h0.9M353.5,387.4h0.9M334.8,378.4h0.9M340.7,375.1h0.9M335.6,372.1h0.9M339.7,376.4h0.9M349.0,388.7h0.9M313.7,374.8h0.9M323.1,376.3h0.9M335.8,379.6h0.9M343.8,374.4h0.9M318.9,376.9h0.9M354.4,387.4h0.9M309.8,374.4h0.9M318.7,377.1h0.9M350.6,388.1h0.9M357.7,387.3h0.9M339.2,379.6h0.9M343.9,382.6h0.9M323.6,373.4h0.9M335.9,375.8h0.9M308.1,374.5h0.9M346.2,388.7h0.9M314.0,373.7h0.9M350.7,385.5h0.9M312.2,377.1h0.9M316.3,372.4h0.9M315.1,373.9h0.9M338.5,374.6h0.9M352.8,385.1h0.9M321.2,377.2h0.9M345.6,390.3h0.9M343.0,394.1h0.9M351.0,389.8h0.9M345.1,392.5h0.9M356.6,393.4h0.9M335.9,372.9h0.9M339.3,376.9h0.9M351.2,395.7h0.9M342.7,374.5h0.9M335.5,378.5h0.9M339.7,371.2h0.9M343.8,375.6h0.9M351.2,394.3h0.9M345.2,381.8h0.9M342.2,373.5h0.9M347.3,395.2h0.9M328.0,374.3h0.9M344.6,384.7h0.9M349.5,387.6h0.9M325.8,372.4h0.9M339.9,370.1h0.9M334.2,372.8h0.9M324.4,372.6h0.9M341.5,388.8h0.9M352.6,384.2h0.9M339.5,381.9h0.9M358.2,390.5h0.9M327.3,371.5h0.9M341.8,373.4h0.9M329.6,377.3h0.9M352.7,382.3h0.9M313.2,373.0h0.9M353.0,389.4h0.9M338.0,370.8h0.9M340.5,381.9h0.9M353.5,390.5h0.9M356.0,385.9h0.9M353.7,390.6h0.9M356.1,392.5h0.9M322.9,373.9h0.9M345.3,389.7h0.9M342.8,388.8h0.9M330.6,372.6h0.9M311.3,373.9h0.9M349.6,382.6h0.9M340.1,379.1h0.9M325.6,374.1h0.9M346.7,385.6h0.9M352.2,395.3h0.9M350.7,390.7h0.9M319.5,377.8h0.9M326.1,372.5h0.9M316.9,377.2h0.9M328.6,376.8h0.9M323.4,374.5h0.9M347.8,385.5h0.9M337.7,377.9h0.9M351.8,384.7h0.9M327.8,373.6h0.9M353.3,394.9h0.9M346.0,386.6h0.9M341.4,373.6h0.9M342.4,384.6h0.9M347.7,391.4h0.9M311.1,373.3h0.9M335.9,376.9h0.9M347.1,378.3h0.9M350.6,390.8h0.9M309.9,376.5h0.9M346.6,385.2h0.9M341.3,380.4h0.9M333.6,374.8h0.9M330.5,376.3h0.9M341.7,372.3h0.9M313.5,374.7h0.9M350.1,379.5h0.9M345.9,391.2h0.9M312.6,373.8h0.9M344.0,390.1h0.9M343.6,378.1h0.9M336.0,373.3h0.9M355.7,391.7h0.9M315.5,372.2h0.9M316.2,377.8h0.9M346.6,389.1h0.9M347.9,376.4h0.9M348.8,393.9h0.9M350.3,387.6h0.9M351.7,383.0h0.9M309.0,377.0h0.9M355.7,385.3h0.9" stroke="#f4f4f4" stroke-width="0.8" stroke-opacity="0.8"/>
<path d="M317.2,378.1C318.5,376.7 321.9,377.8 324.4,377.8C326.9,377.9 329.6,377.9 332.2,378.7C334.8,379.4 338.4,380.5 340.0,382.2C341.6,383.9 341.0,386.6 341.6,389.0C342.1,391.4 343.4,394.6 343.1,396.6C342.9,398.7 342.1,400.5 340.0,401.2C337.9,402.0 333.3,401.6 330.6,401.0C327.9,400.3 325.8,398.6 323.8,397.2C321.8,395.7 320.0,394.1 318.8,392.3C317.6,390.5 316.9,388.6 316.6,386.3C316.3,383.9 315.9,379.5 317.2,378.1Z" fill="#ececec"/>
<path d="M325.6,383.2h0.8M318.3,379.0h0.8M327.5,390.6h0.8M327.2,391.1h0.8M324.3,378.2h0.8M334.5,385.7h0.8M329.6,386.7h0.8M323.8,379.1h0.8M324.5,384.8h0.8M319.6,378.5h0.8M339.9,386.3h0.8M328.4,390.1h0.8M317.2,380.2h0.8M337.4,390.9h0.8M329.7,385.9h0.8M336.5,389.6h0.8M337.6,397.4h0.8M340.3,394.8h0.8M334.5,388.6h0.8M330.7,391.4h0.8M330.5,397.0h0.8M336.5,392.3h0.8M332.5,399.1h0.8M317.9,389.0h0.8M321.0,391.0h0.8M329.6,395.1h0.8M336.0,398.4h0.8M337.2,384.3h0.8M341.4,390.2h0.8M325.6,380.3h0.8M340.1,399.7h0.8M319.9,388.3h0.8M323.9,393.6h0.8M319.5,385.6h0.8M327.5,388.9h0.8M328.1,391.8h0.8M340.7,397.2h0.8M322.7,383.6h0.8M328.8,392.9h0.8M332.7,386.0h0.8M317.1,380.0h0.8M322.2,394.9h0.8M322.9,383.5h0.8M337.5,398.8h0.8M323.6,380.2h0.8M335.6,388.9h0.8M336.4,395.8h0.8M330.1,384.2h0.8M330.5,393.3h0.8M325.2,392.8h0.8M322.2,383.1h0.8M341.1,397.5h0.8M339.1,397.1h0.8M331.6,379.6h0.8M336.0,397.4h0.8M329.5,398.8h0.8M334.5,393.4h0.8M335.0,386.4h0.8M333.6,379.4h0.8M340.5,394.8h0.8M337.9,388.7h0.8M322.0,388.4h0.8M334.6,390.7h0.8M327.1,383.6h0.8M322.6,383.0h0.8M327.6,394.1h0.8M340.8,393.7h0.8M332.7,395.0h0.8M332.9,386.1h0.8M325.6,379.5h0.8M334.7,399.2h0.8M334.3,392.0h0.8M338.0,400.3h0.8M338.1,401.0h0.8M332.9,392.8h0.8M339.5,392.2h0.8M338.6,392.5h0.8M339.2,395.9h0.8M340.4,387.1h0.8M316.9,385.5h0.8M327.1,384.3h0.8M334.9,380.1h0.8M324.7,387.1h0.8M319.9,391.8h0.8M327.8,396.6h0.8M321.8,390.3h0.8M322.6,378.2h0.8M324.3,389.3h0.8M330.5,384.1h0.8M330.8,379.4h0.8M325.9,384.5h0.8M338.2,395.9h0.8M335.2,391.8h0.8M339.6,395.2h0.8M318.1,380.9h0.8M336.4,397.5h0.8M342.8,396.0h0.8M320.8,391.1h0.8M333.2,392.0h0.8M330.1,384.1h0.8M323.5,383.0h0.8M324.6,392.0h0.8M325.1,393.4h0.8M340.2,399.4h0.8M319.0,391.5h0.8M318.6,380.2h0.8M335.6,390.2h0.8M338.3,389.5h0.8M328.4,378.5h0.8M330.6,399.5h0.8M334.6,380.6h0.8M335.7,394.3h0.8M325.3,395.9h0.8M331.9,387.5h0.8M330.5,384.3h0.8M325.9,395.9h0.8M326.3,382.3h0.8M336.5,400.8h0.8M332.2,379.3h0.8M320.9,379.0h0.8M332.8,392.4h0.8M322.8,383.0h0.8M320.5,378.5h0.8M329.7,387.7h0.8M324.9,397.2h0.8M330.7,380.3h0.8M335.2,383.3h0.8M334.8,397.3h0.8M335.9,383.6h0.8M340.9,399.4h0.8M330.9,379.0h0.8M318.4,384.8h0.8M326.0,379.8h0.8M326.0,382.6h0.8M328.1,392.3h0.8M334.0,380.1h0.8M330.8,379.2h0.8M328.3,396.7h0.8M323.1,387.0h0.8M331.3,390.4h0.8M335.6,400.0h0.8M335.0,383.1h0.8M321.9,389.1h0.8M324.1,390.8h0.8M327.6,379.0h0.8M339.1,398.5h0.8M332.7,389.0h0.8M319.6,392.9h0.8M320.2,381.0h0.8M332.3,392.9h0.8M337.8,397.2h0.8M320.2,385.0h0.8M320.4,389.3h0.8M334.7,396.8h0.8M329.6,399.2h0.8M338.7,397.2h0.8M338.0,382.9h0.8M325.8,379.2h0.8M336.9,388.9h0.8M328.0,398.1h0.8" stroke="#3aa834" stroke-width="0.9" stroke-opacity="1.0"/>
<path d="M342.5,387.9C343.5,387.1 346.0,386.7 347.8,386.8C349.6,386.9 352.0,387.4 353.1,388.5C354.2,389.5 354.8,392.0 354.4,393.1C353.9,394.2 352.0,394.7 350.3,395.0C348.6,395.3 345.8,395.3 344.4,394.7C343.0,394.2 342.2,392.9 341.9,391.7C341.6,390.6 341.5,388.7 342.5,387.9Z" fill="#ffffff" fill-opacity="0.9"/>
<path d="M332.5,355.3C333.6,354.5 335.4,355.0 335.9,355.8C336.5,356.6 336.3,358.6 335.6,360.2C335.0,361.7 333.2,363.3 332.2,365.1C331.2,366.9 330.6,370.0 329.4,371.0C328.1,372.1 325.3,372.4 324.7,371.6C324.1,370.8 324.9,368.1 325.6,366.2C326.4,364.2 328.2,362.0 329.4,360.2C330.5,358.4 331.4,356.0 332.5,355.3Z" fill="#90d46b"/>
<path d="M327.8,365.3h0.9" stroke="#f2f2f2" stroke-width="0.8" stroke-opacity="0.6"/>
<path d="M347.5,357.4C348.7,356.3 353.5,356.4 356.2,356.1C358.9,355.8 361.6,355.4 363.7,355.5C365.8,355.7 367.4,355.8 368.7,356.9C370.1,358.0 370.2,360.8 371.8,362.1C373.5,363.3 376.9,363.3 378.7,364.5C380.5,365.7 382.0,367.9 382.4,369.4C382.8,371.0 382.2,372.8 381.2,373.8C380.1,374.8 378.1,374.6 376.2,375.4C374.3,376.2 372.0,378.5 370.0,378.7C367.9,378.8 365.4,377.8 363.7,376.5C362.0,375.2 361.6,372.4 360.0,370.8C358.3,369.1 355.6,368.0 353.7,366.7C351.9,365.4 349.8,364.4 348.7,362.9C347.7,361.3 346.2,358.6 347.5,357.4Z" fill="#a88a60"/>
<path d="M349.2,360.2h0.9M380.5,369.2h0.9M356.6,356.6h0.9M367.0,365.0h0.9M379.4,372.8h0.9M371.2,376.2h0.9M367.8,361.5h0.9M370.1,362.7h0.9M368.8,361.1h0.9M357.0,363.9h0.9M368.6,377.2h0.9M369.2,369.0h0.9M358.8,364.3h0.9M367.4,361.3h0.9M369.9,375.5h0.9M366.6,367.5h0.9M368.7,368.3h0.9M371.2,368.4h0.9M366.8,361.0h0.9M357.7,368.8h0.9M365.6,366.0h0.9M350.5,360.8h0.9M357.2,360.2h0.9M354.2,357.4h0.9M365.8,359.5h0.9M369.9,369.4h0.9M369.3,366.7h0.9M368.9,362.4h0.9M363.7,371.5h0.9M369.0,368.2h0.9M360.5,365.5h0.9M373.2,372.2h0.9M382.3,369.9h0.9M360.9,357.6h0.9M372.6,369.8h0.9M374.8,365.6h0.9M373.4,369.5h0.9M369.6,368.2h0.9M370.8,368.5h0.9M372.1,365.4h0.9M360.0,359.4h0.9M379.2,365.9h0.9M369.8,366.2h0.9M353.2,363.8h0.9M364.0,368.3h0.9M375.2,369.4h0.9M368.4,361.8h0.9M366.6,375.6h0.9M364.5,362.2h0.9M353.1,360.9h0.9M362.8,365.3h0.9M368.5,361.8h0.9M369.2,366.5h0.9M375.3,374.1h0.9M366.6,363.3h0.9" stroke="#f2f2f2" stroke-width="0.8" stroke-opacity="0.6"/>
<path d="M329.4,350.1C329.4,349.6 333.2,348.4 335.0,347.4C336.8,346.3 338.7,344.9 340.0,343.8C341.3,342.8 342.0,340.8 342.8,340.9C343.6,340.9 344.0,343.0 345.0,344.4C346.0,345.8 349.5,348.3 349.0,349.3C348.6,350.3 344.8,350.1 342.5,350.4C340.2,350.6 337.2,350.7 335.0,350.6C332.8,350.6 329.4,350.6 329.4,350.1Z" fill="#4d9e8f"/>
<path d="M334.4,347.8h0.9M338.0,347.6h0.9M334.4,349.3h0.9M334.6,349.4h0.9M340.7,346.0h0.9M340.2,346.3h0.9M348.1,348.1h0.9M339.1,349.1h0.9M346.2,346.6h0.9M347.3,347.4h0.9" stroke="#f2f2f2" stroke-width="0.8" stroke-opacity="0.6"/>
<path d="M338.8,333.5C339.1,332.4 340.4,331.2 341.9,330.5C343.3,329.8 345.5,329.4 347.5,329.4C349.5,329.5 351.9,329.9 353.7,330.8C355.5,331.7 358.2,333.7 358.4,334.6C358.6,335.5 356.4,335.5 355.0,336.0C353.6,336.4 351.4,336.7 350.0,337.3C348.5,337.9 347.3,338.8 346.2,339.5C345.2,340.2 344.6,341.4 343.7,341.7C342.9,341.9 341.9,341.9 341.2,341.1C340.6,340.4 340.4,338.6 340.0,337.3C339.6,336.1 338.4,334.6 338.8,333.5Z" fill="#3d80bd"/>
<path d="M354.6,332.8h0.9M350.3,330.6h0.9M343.5,331.7h0.9M348.7,337.8h0.9M343.2,337.9h0.9M348.8,331.6h0.9M340.4,337.3h0.9M340.4,336.1h0.9M342.6,332.7h0.9M353.8,334.9h0.9M341.6,337.7h0.9M347.5,336.0h0.9M354.2,332.5h0.9M341.3,335.6h0.9M342.4,336.3h0.9M344.3,341.0h0.9M357.3,335.0h0.9M353.9,335.5h0.9M346.6,331.0h0.9" stroke="#f2f2f2" stroke-width="0.8" stroke-opacity="0.6"/>
<path d="M360.6,334.3C360.6,333.9 360.2,333.4 359.7,333.2C359.2,332.9 358.2,332.7 357.5,332.7C356.7,332.7 355.8,332.9 355.3,333.2C354.7,333.4 354.4,333.9 354.4,334.3C354.4,334.7 354.7,335.2 355.3,335.5C355.8,335.8 356.7,336.0 357.5,336.0C358.2,336.0 359.2,335.8 359.7,335.5C360.2,335.2 360.6,334.7 360.6,334.3Z" fill="#c4b3a8"/>
<path d="M358.6,333.7h0.9M357.6,333.9h0.9" stroke="#f2f2f2" stroke-width="0.8" stroke-opacity="0.6"/>
<path d="M309.1,344.7C309.6,344.0 311.8,343.8 313.2,343.8C314.6,343.9 316.3,344.5 317.5,345.2C318.8,345.9 320.9,347.6 320.7,348.2C320.4,348.8 318.1,348.8 316.3,348.7C314.5,348.7 311.2,348.3 310.0,347.7C308.9,347.0 308.6,345.3 309.1,344.7Z" fill="#f0a560"/>
<path d="M313.6,347.6h0.9M315.0,344.6h0.9M313.8,345.1h0.9M316.0,346.0h0.9" stroke="#f2f2f2" stroke-width="0.8" stroke-opacity="0.6"/>
<path d="M314.9,353.6C314.9,353.2 314.6,352.7 314.3,352.5C314.1,352.3 313.5,352.3 313.2,352.5C313.0,352.7 312.7,353.2 312.7,353.6C312.7,354.0 313.0,354.6 313.2,354.8C313.5,355.0 314.1,355.0 314.3,354.8C314.6,354.6 314.9,354.0 314.9,353.6Z" fill="#b35a2a"/>
<path d="M359.3,342.8C359.7,342.8 360.1,344.9 360.6,345.5C361.1,346.1 361.5,345.9 362.5,346.3C363.5,346.7 366.3,347.2 366.5,347.7C366.7,348.2 364.8,349.2 363.7,349.3C362.6,349.4 360.9,349.1 360.0,348.5C359.1,347.8 358.5,346.4 358.4,345.5C358.3,344.5 359.0,342.8 359.3,342.8Z" fill="#c4a7df"/>
<path d="M359.3,346.0h0.9" stroke="#f2f2f2" stroke-width="0.8" stroke-opacity="0.6"/>
<path d="M295.9,367.5C295.9,367.0 295.7,366.4 295.3,366.0C295.0,365.6 294.5,365.2 294.0,365.1C293.5,364.9 292.9,364.9 292.4,365.1C291.9,365.2 291.4,365.6 291.1,366.0C290.7,366.4 290.5,367.0 290.5,367.5C290.5,368.0 290.7,368.6 291.1,369.0C291.4,369.4 291.9,369.8 292.4,370.0C292.9,370.1 293.5,370.1 294.0,370.0C294.5,369.8 295.0,369.4 295.3,369.0C295.7,368.6 295.9,368.0 295.9,367.5Z" fill="#e08548"/>
<path d="M293.9,365.6h0.9M291.7,365.7h0.9" stroke="#f2f2f2" stroke-width="0.8" stroke-opacity="0.6"/>
<path d="M374.3,389.8C374.6,389.4 376.9,389.3 378.1,389.0C379.2,388.7 380.8,387.6 381.2,387.9C381.6,388.2 381.4,390.0 380.6,390.6C379.7,391.2 377.2,391.6 376.2,391.4C375.2,391.3 374.0,390.2 374.3,389.8Z" fill="#6b3ea3"/>
<path d="M302.6,390.1C302.6,389.9 302.2,389.6 301.7,389.5C301.3,389.4 300.4,389.3 299.8,389.3C299.1,389.3 298.2,389.4 297.8,389.5C297.3,389.6 296.9,389.9 296.9,390.1C296.9,390.3 297.3,390.5 297.8,390.7C298.2,390.8 299.1,390.9 299.8,390.9C300.4,390.9 301.3,390.8 301.7,390.7C302.2,390.5 302.6,390.3 302.6,390.1Z" fill="#e2cf6b"/>
<path d="M306.9,403.7C307.7,402.7 309.7,402.2 311.3,401.5C312.9,400.8 315.1,399.6 316.6,399.6C318.1,399.6 320.0,400.6 320.3,401.5C320.7,402.5 318.7,404.0 318.8,405.3C318.8,406.7 321.1,408.8 320.7,409.7C320.2,410.5 317.7,410.7 316.3,410.5C314.8,410.3 313.5,408.8 311.9,408.3C310.4,407.8 307.8,408.3 306.9,407.5C306.1,406.7 306.2,404.7 306.9,403.7Z" fill="#e2231d"/>
<path d="M317.5,400.3h0.9M317.5,402.2h0.9M313.9,408.3h0.9M315.2,405.3h0.9M309.5,405.3h0.9M315.1,404.6h0.9M315.7,405.7h0.9M315.8,404.1h0.9M318.5,405.4h0.9M318.3,408.0h0.9M316.4,405.6h0.9M316.0,402.3h0.9M315.3,405.6h0.9" stroke="#f2f2f2" stroke-width="0.8" stroke-opacity="0.6"/>
<path d="M340.6,408.6C341.1,407.7 343.7,406.6 345.6,406.1C347.5,405.7 349.9,405.6 351.9,405.9C353.8,406.1 356.4,406.6 357.5,407.5C358.5,408.4 358.6,410.1 358.1,411.3C357.6,412.5 356.0,414.3 354.4,414.6C352.7,414.9 350.1,413.7 348.1,413.2C346.1,412.7 343.7,412.3 342.5,411.6C341.2,410.8 340.1,409.5 340.6,408.6Z" fill="#e6606b"/>
<path d="M351.2,409.6h0.9M344.8,408.5h0.9M352.8,413.6h0.9M346.2,408.6h0.9M348.4,409.6h0.9M351.7,412.4h0.9M354.0,412.9h0.9M353.3,414.3h0.9M348.5,409.8h0.9M352.0,408.6h0.9M355.1,409.5h0.9M350.4,410.4h0.9M345.5,410.0h0.9M354.4,408.3h0.9" stroke="#f2f2f2" stroke-width="0.8" stroke-opacity="0.6"/>
<path d="M331.9,414.0C332.4,414.0 335.6,415.6 337.5,415.9C339.4,416.3 341.1,416.1 343.1,416.2C345.1,416.3 348.1,416.0 349.4,416.7C350.7,417.5 351.3,419.5 350.9,420.6C350.5,421.6 348.4,423.0 346.9,423.3C345.4,423.6 343.2,423.2 341.9,422.5C340.5,421.7 340.0,420.0 338.8,418.9C337.5,417.9 335.5,417.0 334.4,416.2C333.2,415.4 331.4,414.1 331.9,414.0Z" fill="#f08c2c"/>
<path d="M349.8,420.3h0.9M347.6,421.7h0.9M341.3,421.6h0.9M343.0,420.6h0.9M345.6,419.3h0.9M349.9,418.3h0.9M343.8,421.9h0.9M342.4,416.4h0.9M340.8,418.3h0.9" stroke="#f2f2f2" stroke-width="0.8" stroke-opacity="0.6"/>
<text x="343.74" y="331.34" font-size="3.9" text-anchor="middle" fill="#1a1a1a">CD8T</text>
<text x="360.59" y="333.51" font-size="3.9" text-anchor="middle" fill="#1a1a1a">NK</text>
<text x="335.32" y="350.92" font-size="3.9" text-anchor="middle" fill="#1a1a1a">CD4T</text>
<text x="308.18" y="346.57" font-size="3.9" text-anchor="middle" fill="#1a1a1a">B Cell</text>
<text x="313.17" y="352.01" font-size="3.9" text-anchor="middle" fill="#1a1a1a">Dendritic</text>
<text x="363.71" y="346.57" font-size="3.9" text-anchor="middle" fill="#1a1a1a">Cycling</text>
<text x="335.01" y="360.44" font-size="3.9" text-anchor="middle" fill="#1a1a1a">Granulocyte</text>
<text x="368.70" y="366.15" font-size="3.9" text-anchor="middle" fill="#1a1a1a">Macrophage</text>
<text x="291.95" y="364.79" font-size="3.9" text-anchor="middle" fill="#1a1a1a">Mast</text>
<text x="337.50" y="377.03" font-size="3.9" text-anchor="middle" fill="#1a1a1a">Epithelial</text>
<text x="333.14" y="391.72" font-size="3.9" text-anchor="middle" fill="#1a1a1a">Acinar</text>
<text x="381.50" y="392.54" font-size="3.9" text-anchor="middle" fill="#1a1a1a">Plasma</text>
<text x="298.82" y="391.99" font-size="3.9" text-anchor="middle" fill="#1a1a1a">Endocrine</text>
<text x="314.10" y="405.86" font-size="3.9" text-anchor="middle" fill="#1a1a1a">Endothelial</text>
<text x="350.61" y="408.04" font-size="3.9" text-anchor="middle" fill="#1a1a1a">Fibroblast</text>
<text x="343.12" y="424.36" font-size="3.9" text-anchor="middle" fill="#1a1a1a">Pericyte</text>
<text x="341.40" y="325.00" font-size="10.3" text-anchor="middle" fill="#1a1a1a">Tumor</text>
<line x1="287.00" y1="325.90" x2="287.00" y2="428.40" stroke="#555" stroke-width="0.8"/>
<line x1="287.00" y1="428.40" x2="386.30" y2="428.40" stroke="#555" stroke-width="0.8"/>
<line x1="285.50" y1="348.20" x2="287.00" y2="348.20" stroke="#555" stroke-width="0.6"/>
<text x="285.20" y="350.30" font-size="6" text-anchor="end" fill="#444">10</text>
<line x1="285.50" y1="375.40" x2="287.00" y2="375.40" stroke="#555" stroke-width="0.6"/>
<text x="285.20" y="377.50" font-size="6" text-anchor="end" fill="#444">0</text>
<line x1="285.50" y1="402.60" x2="287.00" y2="402.60" stroke="#555" stroke-width="0.6"/>
<text x="285.20" y="404.70" font-size="6" text-anchor="end" fill="#444">-10</text>
<line x1="308.80" y1="428.40" x2="308.80" y2="429.90" stroke="#555" stroke-width="0.6"/>
<text x="308.80" y="434.80" font-size="6" text-anchor="middle" fill="#444">-10</text>
<line x1="340.00" y1="428.40" x2="340.00" y2="429.90" stroke="#555" stroke-width="0.6"/>
<text x="340.00" y="434.80" font-size="6" text-anchor="middle" fill="#444">0</text>
<line x1="371.20" y1="428.40" x2="371.20" y2="429.90" stroke="#555" stroke-width="0.6"/>
<text x="371.20" y="434.80" font-size="6" text-anchor="middle" fill="#444">10</text>
<text x="336.60" y="440.60" font-size="5.9" text-anchor="middle" font-weight="bold" fill="#111">UMAP1</text>
<text transform="translate(276.00 376.40) rotate(-90)" font-size="5.9" font-weight="bold" text-anchor="middle" fill="#111">UMAP2</text>
<circle cx="400.30" cy="312.00" r="2.0" fill="#a6cee3"/>
<text x="406.00" y="314.10" font-size="6.0" fill="#222">Epithelial</text>
<circle cx="400.30" cy="320.01" r="2.0" fill="#3d80bd"/>
<text x="406.00" y="322.11" font-size="6.0" fill="#222">CD8T</text>
<circle cx="400.30" cy="328.02" r="2.0" fill="#4d9e8f"/>
<text x="406.00" y="330.12" font-size="6.0" fill="#222">CD4T</text>
<circle cx="400.30" cy="336.03" r="2.0" fill="#90d46b"/>
<text x="406.00" y="338.13" font-size="6.0" fill="#222">Granulocyte</text>
<circle cx="400.30" cy="344.04" r="2.0" fill="#38a532"/>
<text x="406.00" y="346.14" font-size="6.0" fill="#222">Acinar</text>
<circle cx="400.30" cy="352.05" r="2.0" fill="#a88a60"/>
<text x="406.00" y="354.15" font-size="6.0" fill="#222">Macrophage</text>
<circle cx="400.30" cy="360.06" r="2.0" fill="#e6606b"/>
<text x="406.00" y="362.16" font-size="6.0" fill="#222">Fibroblast</text>
<circle cx="400.30" cy="368.07" r="2.0" fill="#e2231d"/>
<text x="406.00" y="370.17" font-size="6.0" fill="#222">Endothelial</text>
<circle cx="400.30" cy="376.08" r="2.0" fill="#f0a560"/>
<text x="406.00" y="378.18" font-size="6.0" fill="#222">B Cell</text>
<circle cx="400.30" cy="384.09" r="2.0" fill="#f08c2c"/>
<text x="406.00" y="386.19" font-size="6.0" fill="#222">Pericyte</text>
<circle cx="400.30" cy="392.10" r="2.0" fill="#e08548"/>
<text x="406.00" y="394.20" font-size="6.0" fill="#222">Mast</text>
<circle cx="400.30" cy="400.11" r="2.0" fill="#c4a7df"/>
<text x="406.00" y="402.21" font-size="6.0" fill="#222">Cycling</text>
<circle cx="400.30" cy="408.12" r="2.0" fill="#6b3ea3"/>
<text x="406.00" y="410.22" font-size="6.0" fill="#222">Plasma</text>
<circle cx="400.30" cy="416.13" r="2.0" fill="#c4b3a8"/>
<text x="406.00" y="418.23" font-size="6.0" fill="#222">NK</text>
<circle cx="400.30" cy="424.14" r="2.0" fill="#e2cf6b"/>
<text x="406.00" y="426.24" font-size="6.0" fill="#222">Endocrine</text>
<circle cx="400.30" cy="432.15" r="2.0" fill="#b35a2a"/>
<text x="406.00" y="434.25" font-size="6.0" fill="#222">Dendritic</text>
<text x="7.30" y="460.60" font-size="17" font-weight="bold">F</text>
<text transform="translate(16.3 508.5) rotate(-90)" font-size="11.5" font-style="italic" text-anchor="middle" fill="#3a3a3a">HMGA1</text>
<path d="M59.7,508.9C59.4,508.1 60.2,507.2 61.7,506.4C63.2,505.5 66.5,504.7 68.7,503.9C70.9,503.0 73.1,501.5 75.1,501.3C77.1,501.2 79.0,502.6 80.5,503.0C82.0,503.4 82.4,503.9 84.1,503.6C85.8,503.3 88.6,501.5 90.8,501.3C92.9,501.2 95.2,501.8 96.9,502.5C98.6,503.2 99.6,503.9 101.0,505.5C102.4,507.2 103.7,510.7 105.2,512.5C106.6,514.4 108.4,515.2 109.7,516.5C110.9,517.7 112.2,518.7 112.9,520.1C113.5,521.5 114.1,523.7 113.5,525.1C112.9,526.6 110.9,528.2 109.0,528.8C107.2,529.4 104.3,528.7 102.3,528.8C100.3,528.8 98.3,528.5 96.9,529.1C95.4,529.6 95.5,531.4 93.7,532.1C91.8,532.8 88.1,533.4 85.7,533.3C83.2,533.1 80.8,532.1 78.9,531.0C77.1,529.9 75.9,528.3 74.5,526.5C73.0,524.8 70.9,522.8 70.3,520.4C69.7,518.0 71.1,513.7 70.6,512.0C70.1,510.3 68.6,510.4 67.4,510.3C66.2,510.2 64.9,511.4 63.6,511.1C62.3,510.9 60.1,509.7 59.7,508.9Z" fill="#dedede"/>
<path d="M78.7,519.9h0.9M67.8,509.4h0.9M88.0,524.9h0.9M81.4,530.1h0.9M92.4,522.4h0.9M78.4,528.3h0.9M96.5,507.0h0.9M99.1,506.3h0.9M80.5,513.4h0.9M77.7,512.9h0.9M78.8,524.1h0.9M107.0,523.9h0.9M91.6,503.5h0.9M79.3,511.8h0.9M82.5,516.8h0.9M105.0,521.5h0.9M72.4,521.0h0.9M82.0,531.9h0.9M83.9,510.0h0.9M78.5,509.1h0.9M88.5,522.7h0.9M77.4,524.4h0.9M86.4,523.4h0.9M96.0,504.3h0.9M62.4,507.0h0.9M76.1,507.2h0.9M75.2,505.0h0.9M100.5,506.4h0.9M64.0,505.8h0.9M86.1,510.8h0.9M101.9,517.5h0.9M87.9,513.3h0.9M80.7,527.7h0.9M88.8,506.3h0.9M89.0,524.7h0.9M92.1,516.6h0.9M83.6,523.0h0.9M85.5,510.5h0.9M101.8,518.0h0.9M75.4,513.9h0.9M107.0,518.7h0.9M110.3,518.6h0.9M96.4,504.7h0.9M83.2,520.8h0.9M81.7,522.2h0.9M78.2,522.2h0.9M70.9,517.0h0.9M82.7,518.1h0.9M62.7,509.1h0.9M98.2,506.6h0.9M85.4,533.1h0.9M92.5,524.8h0.9M80.6,514.0h0.9M84.9,510.0h0.9M89.7,524.7h0.9M106.0,517.5h0.9M96.9,503.9h0.9M92.8,517.0h0.9M87.2,514.5h0.9M69.4,507.6h0.9M102.5,517.8h0.9M104.4,522.1h0.9M84.5,506.6h0.9M74.1,507.3h0.9M94.4,522.6h0.9M82.5,515.9h0.9M109.6,522.1h0.9M84.8,525.2h0.9M99.5,511.2h0.9M99.9,520.5h0.9M93.2,521.7h0.9M99.1,504.9h0.9M105.6,521.4h0.9M72.1,503.9h0.9M104.7,528.2h0.9M97.4,507.9h0.9M100.7,509.9h0.9M90.2,504.1h0.9M99.5,522.1h0.9M104.4,525.6h0.9M86.8,532.5h0.9M84.6,515.6h0.9M94.0,526.5h0.9M91.3,531.4h0.9M93.1,532.0h0.9M89.7,524.5h0.9M100.6,506.7h0.9M95.6,515.3h0.9M71.4,510.1h0.9M79.2,524.8h0.9M89.4,511.6h0.9M100.3,528.0h0.9M74.9,516.1h0.9M75.7,527.6h0.9M92.2,518.6h0.9M87.9,511.1h0.9M71.7,506.3h0.9M85.7,513.0h0.9M91.2,522.9h0.9M74.6,520.7h0.9M73.6,525.1h0.9M70.7,520.3h0.9M99.3,526.9h0.9M88.3,530.5h0.9M79.0,509.8h0.9M93.4,505.4h0.9M69.3,504.4h0.9M94.7,513.7h0.9M109.3,527.1h0.9M88.3,512.2h0.9M77.0,503.0h0.9M75.8,501.6h0.9M101.4,515.8h0.9M85.2,522.0h0.9M77.9,523.0h0.9M88.3,504.3h0.9M101.5,517.5h0.9M101.8,521.6h0.9M90.2,506.8h0.9M83.0,510.6h0.9M71.5,520.3h0.9M91.2,514.1h0.9M78.6,505.8h0.9M97.1,513.2h0.9M92.0,527.5h0.9M93.1,507.6h0.9M87.4,503.6h0.9M88.7,508.1h0.9M91.1,511.3h0.9M97.5,503.0h0.9M105.0,515.7h0.9M69.0,510.6h0.9M93.5,504.4h0.9M81.8,503.7h0.9M84.3,532.0h0.9M69.8,507.0h0.9M89.1,521.8h0.9M67.4,508.3h0.9M92.2,509.0h0.9M106.4,527.1h0.9M76.4,520.5h0.9M92.8,521.3h0.9M89.5,508.8h0.9M72.6,504.0h0.9M111.7,521.3h0.9M79.1,511.2h0.9M63.4,509.1h0.9M85.6,508.7h0.9M86.6,526.9h0.9M78.7,525.4h0.9M101.6,512.6h0.9M99.5,512.6h0.9M73.3,517.2h0.9M103.2,520.4h0.9M108.6,524.5h0.9M97.0,525.0h0.9M91.7,522.4h0.9M89.3,518.4h0.9M76.5,524.1h0.9M71.0,521.1h0.9M81.0,523.0h0.9M85.0,504.9h0.9M92.7,520.9h0.9M86.9,517.5h0.9M83.1,527.3h0.9M95.6,527.0h0.9M71.1,508.7h0.9M71.9,516.8h0.9M107.6,524.4h0.9M91.3,529.9h0.9M92.8,525.4h0.9M75.5,511.1h0.9M108.4,526.6h0.9M93.4,524.9h0.9M111.2,524.5h0.9M74.8,504.6h0.9M69.0,509.6h0.9M90.4,511.6h0.9M96.6,527.3h0.9M88.5,527.2h0.9M101.4,524.8h0.9M78.2,517.0h0.9M102.2,519.3h0.9M95.2,503.0h0.9M70.5,520.0h0.9M98.7,504.3h0.9M82.0,512.0h0.9M93.8,530.7h0.9M79.4,528.4h0.9M91.9,520.9h0.9M74.2,517.9h0.9M98.2,505.1h0.9M93.1,505.4h0.9M88.3,504.3h0.9M74.9,515.7h0.9M89.0,522.2h0.9M78.6,508.0h0.9M99.4,513.1h0.9M71.1,507.5h0.9M82.4,528.0h0.9M83.3,527.3h0.9M85.1,519.9h0.9M73.5,514.4h0.9M98.7,504.0h0.9M84.2,509.4h0.9M75.4,512.1h0.9M70.4,519.7h0.9M61.9,508.9h0.9M73.9,507.1h0.9M104.6,523.3h0.9M69.8,511.3h0.9M87.1,528.0h0.9M77.8,515.0h0.9M71.1,511.5h0.9M71.6,509.2h0.9M113.2,524.1h0.9M99.3,512.7h0.9M93.9,508.6h0.9M85.9,528.9h0.9M92.7,502.6h0.9M102.5,525.0h0.9M101.2,518.6h0.9M86.0,518.1h0.9M109.1,528.0h0.9M80.9,528.6h0.9M77.0,502.8h0.9M85.5,503.3h0.9M75.5,504.4h0.9M82.7,519.8h0.9M89.7,525.1h0.9M89.0,506.9h0.9M102.2,524.3h0.9M90.2,513.7h0.9M76.6,527.4h0.9M97.7,508.3h0.9M101.7,524.1h0.9M77.6,515.3h0.9M98.6,523.9h0.9M84.6,531.8h0.9M93.7,529.6h0.9M75.5,517.2h0.9M108.7,528.6h0.9M112.2,524.8h0.9M81.6,517.0h0.9M79.8,509.1h0.9M93.8,515.1h0.9M96.7,520.9h0.9M86.3,517.5h0.9M81.8,530.3h0.9M62.7,508.7h0.9M102.4,511.4h0.9M77.6,515.1h0.9M75.7,525.6h0.9M98.1,512.3h0.9M99.0,512.7h0.9M93.2,504.6h0.9M76.8,519.2h0.9M92.6,516.1h0.9M70.9,521.2h0.9M72.2,504.6h0.9M107.2,526.0h0.9M91.4,529.3h0.9M110.4,521.8h0.9M93.6,512.3h0.9M72.2,521.5h0.9M95.0,521.4h0.9M70.8,504.5h0.9M79.6,530.5h0.9M84.9,526.9h0.9M102.7,510.7h0.9M99.0,520.5h0.9M95.0,502.3h0.9M79.9,510.2h0.9M97.2,516.8h0.9M93.2,513.8h0.9M74.5,510.6h0.9M87.0,532.9h0.9M101.7,522.7h0.9M99.6,507.9h0.9M87.7,502.4h0.9M66.0,505.2h0.9M78.3,516.5h0.9M71.5,503.8h0.9M67.1,507.8h0.9M100.7,526.5h0.9M97.5,514.8h0.9M90.5,531.0h0.9M90.5,502.2h0.9M83.8,529.1h0.9M97.9,516.7h0.9M110.0,525.5h0.9M76.9,511.0h0.9M102.5,522.1h0.9M75.2,514.1h0.9M102.4,524.9h0.9M88.2,524.9h0.9M103.7,517.9h0.9M96.3,528.6h0.9M105.5,525.5h0.9M68.6,506.3h0.9M95.1,521.2h0.9M97.4,518.9h0.9M81.9,508.8h0.9M77.0,520.2h0.9M82.0,503.4h0.9M104.9,517.1h0.9M68.5,508.7h0.9M80.5,528.4h0.9M99.6,512.7h0.9M100.9,522.4h0.9M82.5,516.0h0.9M89.6,523.4h0.9M81.4,517.9h0.9M104.2,523.1h0.9M70.1,505.7h0.9M80.6,529.4h0.9M111.6,523.7h0.9M79.6,525.1h0.9M86.7,531.7h0.9M86.7,521.7h0.9M96.5,521.4h0.9M82.8,523.1h0.9M101.4,507.9h0.9M79.6,509.5h0.9M83.9,532.1h0.9M101.8,528.8h0.9M86.8,505.4h0.9M79.7,504.0h0.9M81.2,515.7h0.9M85.5,532.6h0.9M88.4,506.6h0.9M87.5,514.4h0.9M86.3,514.4h0.9M96.2,520.3h0.9M73.2,519.9h0.9M84.6,525.6h0.9M111.6,525.0h0.9M93.0,517.5h0.9M91.1,509.8h0.9M106.1,518.8h0.9M84.7,511.6h0.9M90.6,522.0h0.9M91.5,531.3h0.9M83.4,513.2h0.9M100.0,519.0h0.9M71.9,503.7h0.9M88.7,530.4h0.9M105.7,527.4h0.9M92.6,517.7h0.9M75.4,506.6h0.9M83.6,527.9h0.9M89.5,532.7h0.9M102.7,518.7h0.9M91.5,514.7h0.9M108.5,527.9h0.9M96.1,512.8h0.9M99.8,514.8h0.9M97.0,517.4h0.9M93.7,530.7h0.9M107.6,516.7h0.9M80.6,524.2h0.9M95.6,504.4h0.9M87.1,510.3h0.9M94.6,506.7h0.9M75.8,509.4h0.9M74.8,519.4h0.9M106.1,521.8h0.9M94.5,525.7h0.9M80.8,515.0h0.9M94.8,507.9h0.9M78.4,507.1h0.9M92.4,518.5h0.9M88.6,517.7h0.9M92.9,526.2h0.9M98.5,523.9h0.9M104.2,516.3h0.9M94.1,504.9h0.9M96.3,508.8h0.9M86.1,516.3h0.9M73.3,521.6h0.9M79.2,512.3h0.9M83.5,519.8h0.9M83.3,528.1h0.9M61.3,508.9h0.9M61.8,509.6h0.9" stroke="#ececec" stroke-width="0.8" stroke-opacity="0.9"/>
<path d="M96.9,520.4C97.9,519.5 100.5,519.2 102.3,519.3C104.1,519.4 106.6,519.9 107.7,520.9C108.9,522.0 109.5,524.6 109.0,525.7C108.5,526.8 106.6,527.4 104.9,527.7C103.2,527.9 100.2,527.9 98.8,527.4C97.3,526.8 96.5,525.5 96.2,524.3C95.9,523.1 95.8,521.2 96.9,520.4Z" fill="#ffffff" fill-opacity="0.8"/>
<path d="M86.6,486.8C87.7,486.0 89.6,486.5 90.1,487.3C90.7,488.2 90.5,490.2 89.8,491.8C89.2,493.4 87.4,495.0 86.3,496.9C85.2,498.7 84.7,501.9 83.4,503.0C82.1,504.1 79.3,504.4 78.6,503.6C78.0,502.7 78.8,499.9 79.6,498.0C80.4,496.0 82.2,493.7 83.4,491.8C84.6,490.0 85.5,487.5 86.6,486.8Z" fill="#dedede"/>
<path d="M102.0,489.0C103.3,487.9 108.2,487.9 110.9,487.6C113.7,487.3 116.5,486.9 118.6,487.1C120.8,487.2 122.4,487.3 123.7,488.5C125.1,489.6 125.2,492.5 126.9,493.8C128.6,495.1 132.2,495.0 134.0,496.3C135.8,497.6 137.4,499.8 137.8,501.3C138.2,502.9 137.6,504.8 136.5,505.8C135.5,506.8 133.3,506.7 131.4,507.5C129.5,508.3 127.2,510.7 125.0,510.9C122.9,511.0 120.3,510.0 118.6,508.6C116.9,507.3 116.5,504.4 114.8,502.7C113.1,501.1 110.3,499.9 108.4,498.5C106.5,497.2 104.3,496.2 103.3,494.6C102.2,493.0 100.7,490.2 102.0,489.0Z" fill="#dedede"/>
<path d="M102.0,489.0C103.3,487.9 108.2,487.9 110.9,487.6C113.7,487.3 116.5,486.9 118.6,487.1C120.8,487.2 122.4,487.3 123.7,488.5C125.1,489.6 125.2,492.5 126.9,493.8C128.6,495.1 132.2,495.0 134.0,496.3C135.8,497.6 137.4,499.8 137.8,501.3C138.2,502.9 137.6,504.8 136.5,505.8C135.5,506.8 133.3,506.7 131.4,507.5C129.5,508.3 127.2,510.7 125.0,510.9C122.9,511.0 120.3,510.0 118.6,508.6C116.9,507.3 116.5,504.4 114.8,502.7C113.1,501.1 110.3,499.9 108.4,498.5C106.5,497.2 104.3,496.2 103.3,494.6C102.2,493.0 100.7,490.2 102.0,489.0Z" fill="#fbe0b8" fill-opacity="0.3"/>
<path d="M83.4,481.5C83.4,480.9 87.4,479.7 89.2,478.7C91.0,477.6 93.0,476.1 94.3,475.0C95.6,473.9 96.3,471.8 97.2,471.9C98.0,472.0 98.4,474.1 99.4,475.6C100.5,477.0 104.0,479.6 103.6,480.6C103.2,481.6 99.3,481.5 96.9,481.7C94.5,482.0 91.4,482.1 89.2,482.0C86.9,482.0 83.4,482.0 83.4,481.5Z" fill="#dedede"/>
<path d="M93.0,464.4C93.3,463.2 94.7,462.0 96.2,461.3C97.7,460.6 100.0,460.1 102.0,460.2C104.0,460.2 106.5,460.7 108.4,461.6C110.2,462.5 113.0,464.6 113.2,465.5C113.4,466.4 111.1,466.4 109.7,466.9C108.2,467.4 106.0,467.7 104.5,468.3C103.0,468.9 101.8,469.8 100.7,470.5C99.6,471.3 99.0,472.5 98.1,472.8C97.3,473.1 96.2,473.0 95.6,472.2C94.9,471.5 94.7,469.6 94.3,468.3C93.9,467.0 92.7,465.5 93.0,464.4Z" fill="#dedede"/>
<path d="M93.0,464.4C93.3,463.2 94.7,462.0 96.2,461.3C97.7,460.6 100.0,460.1 102.0,460.2C104.0,460.2 106.5,460.7 108.4,461.6C110.2,462.5 113.0,464.6 113.2,465.5C113.4,466.4 111.1,466.4 109.7,466.9C108.2,467.4 106.0,467.7 104.5,468.3C103.0,468.9 101.8,469.8 100.7,470.5C99.6,471.3 99.0,472.5 98.1,472.8C97.3,473.1 96.2,473.0 95.6,472.2C94.9,471.5 94.7,469.6 94.3,468.3C93.9,467.0 92.7,465.5 93.0,464.4Z" fill="#fbd7a2" fill-opacity="0.35"/>
<path d="M115.4,465.2C115.4,464.8 115.0,464.3 114.5,464.0C113.9,463.8 113.0,463.5 112.2,463.5C111.5,463.5 110.5,463.8 110.0,464.0C109.4,464.3 109.0,464.8 109.0,465.2C109.0,465.6 109.4,466.1 110.0,466.4C110.5,466.7 111.5,466.9 112.2,466.9C113.0,466.9 113.9,466.7 114.5,466.4C115.0,466.1 115.4,465.6 115.4,465.2Z" fill="#dedede"/>
<path d="M62.6,475.9C63.2,475.2 65.3,474.9 66.8,475.0C68.2,475.1 70.0,475.7 71.3,476.4C72.5,477.2 74.7,478.9 74.5,479.5C74.2,480.1 71.8,480.2 70.0,480.1C68.2,480.0 64.8,479.6 63.6,478.9C62.4,478.2 62.1,476.5 62.6,475.9Z" fill="#dedede"/>
<path d="M62.6,475.9C63.2,475.2 65.3,474.9 66.8,475.0C68.2,475.1 70.0,475.7 71.3,476.4C72.5,477.2 74.7,478.9 74.5,479.5C74.2,480.1 71.8,480.2 70.0,480.1C68.2,480.0 64.8,479.6 63.6,478.9C62.4,478.2 62.1,476.5 62.6,475.9Z" fill="#fbd7a2" fill-opacity="0.3"/>
<path d="M68.5,485.1C68.5,484.7 68.3,484.1 68.0,483.9C67.7,483.7 67.1,483.7 66.9,483.9C66.6,484.1 66.3,484.7 66.3,485.1C66.3,485.5 66.6,486.1 66.9,486.3C67.1,486.5 67.7,486.5 68.0,486.3C68.3,486.1 68.5,485.5 68.5,485.1Z" fill="#dedede"/>
<path d="M114.1,473.9C114.5,473.9 114.9,476.1 115.4,476.7C116.0,477.3 116.3,477.2 117.3,477.5C118.4,477.9 121.3,478.4 121.5,478.9C121.7,479.5 119.7,480.5 118.6,480.6C117.5,480.8 115.7,480.4 114.8,479.8C113.9,479.1 113.3,477.7 113.2,476.7C113.1,475.7 113.8,473.9 114.1,473.9Z" fill="#dedede"/>
<path d="M49.0,499.4C49.0,498.9 48.8,498.2 48.5,497.8C48.2,497.4 47.6,497.0 47.1,496.9C46.6,496.7 46.0,496.7 45.5,496.9C45.0,497.0 44.4,497.4 44.1,497.8C43.8,498.2 43.6,498.9 43.6,499.4C43.6,499.9 43.8,500.5 44.1,500.9C44.4,501.4 45.0,501.7 45.5,501.9C46.0,502.1 46.6,502.1 47.1,501.9C47.6,501.7 48.2,501.4 48.5,500.9C48.8,500.5 49.0,499.9 49.0,499.4Z" fill="#dedede"/>
<path d="M49.0,499.4C49.0,498.9 48.8,498.2 48.5,497.8C48.2,497.4 47.6,497.0 47.1,496.9C46.6,496.7 46.0,496.7 45.5,496.9C45.0,497.0 44.4,497.4 44.1,497.8C43.8,498.2 43.6,498.9 43.6,499.4C43.6,499.9 43.8,500.5 44.1,500.9C44.4,501.4 45.0,501.7 45.5,501.9C46.0,502.1 46.6,502.1 47.1,501.9C47.6,501.7 48.2,501.4 48.5,500.9C48.8,500.5 49.0,499.9 49.0,499.4Z" fill="#fbd7a2" fill-opacity="0.4"/>
<path d="M129.5,522.3C129.8,521.9 132.2,521.8 133.3,521.5C134.5,521.2 136.1,520.1 136.5,520.4C137.0,520.7 136.8,522.6 135.9,523.2C135.0,523.8 132.5,524.2 131.4,524.0C130.4,523.9 129.2,522.8 129.5,522.3Z" fill="#dedede"/>
<path d="M55.9,522.6C55.9,522.4 55.5,522.2 55.1,522.0C54.6,521.9 53.7,521.8 53.0,521.8C52.3,521.8 51.5,521.9 51.0,522.0C50.5,522.2 50.1,522.4 50.1,522.6C50.1,522.8 50.5,523.1 51.0,523.2C51.5,523.4 52.3,523.5 53.0,523.5C53.7,523.5 54.6,523.4 55.1,523.2C55.5,523.1 55.9,522.8 55.9,522.6Z" fill="#dedede"/>
<path d="M60.4,536.6C61.1,535.6 63.2,535.1 64.9,534.4C66.5,533.7 68.8,532.4 70.3,532.4C71.8,532.4 73.8,533.4 74.1,534.4C74.5,535.4 72.5,536.9 72.5,538.3C72.6,539.7 74.9,541.9 74.5,542.8C74.0,543.7 71.5,543.9 70.0,543.6C68.5,543.4 67.1,541.9 65.5,541.4C63.9,540.9 61.2,541.3 60.4,540.5C59.5,539.7 59.6,537.6 60.4,536.6Z" fill="#dedede"/>
<path d="M94.9,541.7C95.5,540.7 98.1,539.6 100.1,539.1C102.0,538.7 104.4,538.6 106.5,538.9C108.5,539.1 111.2,539.6 112.2,540.5C113.3,541.5 113.4,543.2 112.9,544.5C112.3,545.7 110.7,547.5 109.0,547.8C107.3,548.1 104.6,546.9 102.6,546.4C100.6,545.9 98.1,545.5 96.9,544.7C95.6,543.9 94.4,542.6 94.9,541.7Z" fill="#dedede"/>
<path d="M86.0,547.3C86.5,547.2 89.8,548.8 91.7,549.2C93.7,549.6 95.5,549.4 97.5,549.5C99.5,549.6 102.6,549.3 103.9,550.1C105.2,550.8 105.9,552.9 105.5,554.0C105.1,555.1 102.9,556.5 101.3,556.8C99.8,557.1 97.6,556.7 96.2,555.9C94.8,555.2 94.3,553.4 93.0,552.3C91.7,551.2 89.7,550.3 88.5,549.5C87.4,548.7 85.4,547.3 86.0,547.3Z" fill="#dedede"/>
<path d="M82.8 495.6h0.8M88.7 487.6h0.8" stroke="#cf2a1c" stroke-width="0.9"/>
<path d="M84.6 496.5h0.8" stroke="#b81a12" stroke-width="0.9"/>
<path d="M79.8 497.6h0.8" stroke="#e0462a" stroke-width="0.9"/>
<path d="M125.7 501.0h0.8M104.4 492.0h0.8M107.4 490.1h0.8M111.6 489.9h0.8M114.5 489.2h0.8M121.9 488.3h0.8M113.3 493.5h0.8M120.4 489.9h0.8M123.7 509.2h0.8M116.6 496.7h0.8M125.3 505.2h0.8M107.9 489.8h0.8M121.8 505.1h0.8M117.4 503.6h0.8" stroke="#b81a12" stroke-width="0.9"/>
<path d="M123.2 498.6h0.8M133.7 499.3h0.8M121.3 502.5h0.8M135.7 502.7h0.8M136.0 504.1h0.8M118.0 488.0h0.8M133.1 499.2h0.8" stroke="#fcd29a" stroke-width="0.9"/>
<path d="M118.2 494.2h0.8M112.8 499.1h0.8M118.6 504.3h0.8M123.3 501.0h0.8M120.6 497.2h0.8M126.2 506.0h0.8M122.8 499.7h0.8M122.2 504.3h0.8M132.3 501.4h0.8M123.6 496.9h0.8" stroke="#e0462a" stroke-width="0.9"/>
<path d="M126.9 507.0h0.8M128.0 495.6h0.8M135.2 500.5h0.8M121.9 502.7h0.8M119.6 504.3h0.8M122.3 507.9h0.8M125.7 498.2h0.8M125.0 506.4h0.8M109.3 493.3h0.8M125.4 496.1h0.8M127.8 504.0h0.8" stroke="#cf2a1c" stroke-width="0.9"/>
<path d="M117.2 489.5h0.8M125.6 493.7h0.8M102.6 489.6h0.8M126.7 500.7h0.8M120.0 496.9h0.8" stroke="#f8a262" stroke-width="0.9"/>
<path d="M112.6 499.4h0.8M119.0 493.7h0.8M130.4 498.7h0.8M116.2 487.3h0.8M117.2 493.4h0.8" stroke="#fde3b5" stroke-width="0.9"/>
<path d="M118.8 490.4h0.8M126.7 493.3h0.8M130.6 507.4h0.8M116.6 490.7h0.8M120.1 491.7h0.8M114.8 492.9h0.8" stroke="#ec6a35" stroke-width="0.9"/>
<path d="M124.8 493.6h0.8M119.3 506.8h0.8M111.7 497.6h0.8M120.6 502.7h0.8M117.4 505.7h0.8M114.3 499.3h0.8M136.8 504.5h0.8" stroke="#f38645" stroke-width="0.9"/>
<path d="M121.0 492.6h0.8M131.0 496.6h0.8M131.7 506.7h0.8M118.6 491.9h0.8M114.7 487.4h0.8" stroke="#fbc585" stroke-width="0.9"/>
<path d="M97.4 477.0h0.8M97.5 477.7h0.8M102.6 480.1h0.8M97.4 474.4h0.8M102.3 480.7h0.8" stroke="#cf2a1c" stroke-width="0.9"/>
<path d="M94.0 479.5h0.8M97.7 481.0h0.8M99.4 480.4h0.8" stroke="#e0462a" stroke-width="0.9"/>
<path d="M98.3 475.2h0.8M97.9 479.0h0.8" stroke="#b81a12" stroke-width="0.9"/>
<path d="M106.7 461.7h0.8M96.7 468.6h0.8M96.7 469.1h0.8M99.7 463.9h0.8M100.4 461.1h0.8M101.6 465.0h0.8" stroke="#f8a262" stroke-width="0.9"/>
<path d="M96.4 469.5h0.8M106.1 461.7h0.8M96.4 462.8h0.8M97.3 467.5h0.8M98.1 462.6h0.8M107.6 466.6h0.8M99.4 466.7h0.8M94.8 464.9h0.8M95.7 472.2h0.8M97.7 465.8h0.8M99.1 463.1h0.8" stroke="#fbc585" stroke-width="0.9"/>
<path d="M109.4 463.7h0.8M103.6 468.5h0.8M103.8 466.8h0.8M96.3 462.0h0.8M103.2 460.9h0.8" stroke="#fde3b5" stroke-width="0.9"/>
<path d="M95.4 468.6h0.8M105.1 464.4h0.8M99.9 460.8h0.8" stroke="#fcd29a" stroke-width="0.9"/>
<path d="M63.4 475.7h0.8M64.7 476.5h0.8M68.3 479.0h0.8" stroke="#fde3b5" stroke-width="0.9"/>
<path d="M64.8 477.3h0.8" stroke="#fcd29a" stroke-width="0.9"/>
<path d="M70.0 478.0h0.8" stroke="#fbc585" stroke-width="0.9"/>
<path d="M117.2 480.1h0.8" stroke="#f38645" stroke-width="0.9"/>
<path d="M116.4 477.3h0.8M114.8 479.5h0.8M115.7 479.9h0.8" stroke="#b81a12" stroke-width="0.9"/>
<path d="M118.5 478.7h0.8M118.9 480.2h0.8M118.1 479.9h0.8M120.7 478.9h0.8" stroke="#f8a262" stroke-width="0.9"/>
<path d="M119.9 478.5h0.8M114.9 476.3h0.8M115.2 479.1h0.8M114.1 478.1h0.8M117.7 477.7h0.8" stroke="#cf2a1c" stroke-width="0.9"/>
<path d="M114.3 475.7h0.8" stroke="#ec6a35" stroke-width="0.9"/>
<path d="M45.1 500.2h0.8" stroke="#fde3b5" stroke-width="0.9"/>
<path d="M48.2 498.7h0.8" stroke="#fcd29a" stroke-width="0.9"/>
<path d="M135.5 522.3h0.8M136.4 520.5h0.8M130.4 523.1h0.8" stroke="#fde3b5" stroke-width="0.9"/>
<path d="M52.6 523.1h0.8" stroke="#fde3b5" stroke-width="0.9"/>
<path d="M55.0 522.2h0.8" stroke="#fbc585" stroke-width="0.9"/>
<path d="M109.5 539.8h0.8M105.9 541.5h0.8M104.2 545.4h0.8M105.0 543.3h0.8M105.0 542.9h0.8" stroke="#e0462a" stroke-width="0.9"/>
<path d="M109.5 540.6h0.8" stroke="#cf2a1c" stroke-width="0.9"/>
<path d="M112.2 540.7h0.8M108.4 540.0h0.8" stroke="#b81a12" stroke-width="0.9"/>
<path d="M95.1 510.6h0.8M100.7 511.9h0.8M97.8 505.1h0.8M94.6 508.9h0.8M94.6 511.0h0.8" stroke="#cf2a1c" stroke-width="0.9"/>
<path d="M101.3 511.4h0.8M97.6 510.4h0.8M94.2 503.4h0.8M91.1 508.1h0.8M90.1 504.3h0.8M94.7 505.4h0.8M93.0 510.0h0.8M99.6 505.4h0.8M90.2 509.8h0.8" stroke="#b81a12" stroke-width="0.9"/>
<path d="M95.1 508.2h0.8M98.4 511.8h0.8M92.3 504.9h0.8M93.0 505.7h0.8M97.7 509.5h0.8" stroke="#e0462a" stroke-width="0.9"/>
<path d="M95.5 512.7h0.8M100.2 506.1h0.8M90.8 504.9h0.8M94.7 503.5h0.8M95.7 503.2h0.8M101.8 508.4h0.8M95.7 512.8h0.8M90.6 506.8h0.8M92.6 511.7h0.8M97.1 509.8h0.8M98.5 505.7h0.8" stroke="#f38645" stroke-width="0.9"/>
<path d="M91.0 507.4h0.8M92.3 502.8h0.8M92.0 509.5h0.8M93.0 506.3h0.8M98.2 509.5h0.8" stroke="#ec6a35" stroke-width="0.9"/>
<path d="M112.0 522.6h0.8M112.8 520.9h0.8" stroke="#fcd29a" stroke-width="0.9"/>
<path d="M110.8 519.1h0.8M107.5 515.5h0.8M107.7 516.3h0.8M105.5 512.9h0.8M111.4 521.3h0.8M107.8 518.2h0.8M105.4 515.5h0.8" stroke="#fde3b5" stroke-width="0.9"/>
<path d="M105.1 513.1h0.8M107.6 518.0h0.8M110.9 521.6h0.8M109.0 517.7h0.8M109.5 521.7h0.8M112.1 520.2h0.8" stroke="#fbc585" stroke-width="0.9"/>
<text x="91.50" y="460.50" font-size="10.3" text-anchor="middle" fill="#1a1a1a">Adjacent normal</text>
<line x1="39.50" y1="457.50" x2="39.50" y2="561.80" stroke="#555" stroke-width="0.8"/>
<line x1="39.50" y1="561.80" x2="141.80" y2="561.80" stroke="#555" stroke-width="0.8"/>
<line x1="38.00" y1="479.50" x2="39.50" y2="479.50" stroke="#555" stroke-width="0.6"/>
<text x="37.70" y="481.60" font-size="6" text-anchor="end" fill="#444">10</text>
<line x1="38.00" y1="507.50" x2="39.50" y2="507.50" stroke="#555" stroke-width="0.6"/>
<text x="37.70" y="509.60" font-size="6" text-anchor="end" fill="#444">0</text>
<line x1="38.00" y1="535.50" x2="39.50" y2="535.50" stroke="#555" stroke-width="0.6"/>
<text x="37.70" y="537.60" font-size="6" text-anchor="end" fill="#444">-10</text>
<line x1="62.30" y1="561.80" x2="62.30" y2="563.30" stroke="#555" stroke-width="0.6"/>
<text x="62.30" y="568.20" font-size="6" text-anchor="middle" fill="#444">-10</text>
<line x1="94.30" y1="561.80" x2="94.30" y2="563.30" stroke="#555" stroke-width="0.6"/>
<text x="94.30" y="568.20" font-size="6" text-anchor="middle" fill="#444">0</text>
<line x1="126.30" y1="561.80" x2="126.30" y2="563.30" stroke="#555" stroke-width="0.6"/>
<text x="126.30" y="568.20" font-size="6" text-anchor="middle" fill="#444">10</text>
<text x="90.90" y="574.00" font-size="5.9" text-anchor="middle" font-weight="bold" fill="#111">UMAP1</text>
<text transform="translate(29.90 508.50) rotate(-90)" font-size="5.9" font-weight="bold" text-anchor="middle" fill="#111">UMAP2</text>
<linearGradient id="cbAdj" x1="0" x2="1" y1="0" y2="0"><stop offset="0" stop-color="#fff7e6"/><stop offset="0.3" stop-color="#fdd49e"/><stop offset="0.6" stop-color="#f3844e"/><stop offset="0.85" stop-color="#d7301f"/><stop offset="1" stop-color="#8f0000"/></linearGradient>
<rect x="77.00" y="578.00" width="48.80" height="4.60" fill="url(#cbAdj)"/>
<text x="56.00" y="584.20" font-size="5.9" fill="#222">HMGA1</text>
<text x="76.2" y="586.4" font-size="4.2" fill="#222">0</text>
<text x="91.80" y="587.00" font-size="4.6" text-anchor="middle" fill="#333">1</text>
<text x="104.60" y="587.00" font-size="4.6" text-anchor="middle" fill="#333">2</text>
<text x="117.40" y="587.00" font-size="4.6" text-anchor="middle" fill="#333">3</text>
<path d="M183.3,508.9C182.9,508.1 183.7,507.2 185.2,506.4C186.6,505.5 189.9,504.7 192.1,503.9C194.4,503.0 196.5,501.5 198.5,501.3C200.4,501.2 202.4,502.6 203.9,503.0C205.3,503.4 205.7,503.9 207.4,503.6C209.0,503.3 211.9,501.5 214.0,501.3C216.1,501.2 218.3,501.8 220.0,502.5C221.7,503.2 222.8,503.9 224.2,505.5C225.5,507.2 226.9,510.7 228.3,512.5C229.7,514.4 231.4,515.2 232.7,516.5C234.0,517.7 235.3,518.7 235.9,520.1C236.5,521.5 237.2,523.7 236.5,525.1C235.9,526.6 233.9,528.2 232.1,528.8C230.2,529.4 227.4,528.7 225.4,528.8C223.4,528.8 221.5,528.5 220.0,529.1C218.6,529.6 218.7,531.4 216.9,532.1C215.0,532.8 211.4,533.4 208.9,533.3C206.5,533.1 204.1,532.1 202.3,531.0C200.4,529.9 199.3,528.3 197.8,526.5C196.4,524.8 194.4,522.8 193.7,520.4C193.1,518.0 194.5,513.7 194.0,512.0C193.6,510.3 192.0,510.4 190.9,510.3C189.7,510.2 188.3,511.4 187.1,511.1C185.8,510.9 183.6,509.7 183.3,508.9Z" fill="#dedede"/>
<path d="M212.7,528.2h0.9M208.3,506.2h0.9M196.0,507.3h0.9M198.2,518.7h0.9M197.0,509.9h0.9M207.3,505.5h0.9M198.6,516.9h0.9M207.5,523.8h0.9M213.6,523.7h0.9M186.8,510.7h0.9M197.9,516.7h0.9M205.6,504.8h0.9M234.6,520.3h0.9M209.6,510.4h0.9M226.1,509.7h0.9M199.6,502.8h0.9M208.8,524.6h0.9M209.4,509.8h0.9M202.1,517.6h0.9M199.7,517.8h0.9M211.5,530.4h0.9M207.0,510.8h0.9M203.5,503.3h0.9M226.5,525.1h0.9M227.8,523.6h0.9M212.3,515.5h0.9M226.2,516.4h0.9M202.8,518.5h0.9M206.1,530.1h0.9M228.7,514.1h0.9M202.8,511.5h0.9M218.6,522.6h0.9M216.3,518.0h0.9M208.7,523.5h0.9M222.1,527.4h0.9M234.9,521.1h0.9M193.3,508.3h0.9M211.7,529.9h0.9M209.9,526.2h0.9M233.3,520.9h0.9M235.3,523.3h0.9M202.4,507.1h0.9M210.7,528.9h0.9M211.7,518.5h0.9M195.0,506.0h0.9M195.9,511.0h0.9M208.4,531.4h0.9M197.7,508.6h0.9M195.8,510.9h0.9M205.3,503.3h0.9M196.4,508.8h0.9M226.2,516.7h0.9M213.3,522.3h0.9M189.6,509.5h0.9M190.2,506.2h0.9M225.2,517.3h0.9M212.5,525.2h0.9M214.7,503.8h0.9M207.7,507.8h0.9M208.3,532.5h0.9M193.8,511.6h0.9M214.3,522.4h0.9M199.5,513.9h0.9M209.8,531.0h0.9M212.9,530.6h0.9M204.1,522.1h0.9M184.5,508.4h0.9M217.8,511.9h0.9M210.8,532.7h0.9M213.1,522.7h0.9M213.3,509.4h0.9M205.3,507.9h0.9M206.0,503.7h0.9M233.4,518.0h0.9M198.5,518.8h0.9M214.8,513.8h0.9M226.4,515.9h0.9M232.4,525.8h0.9M220.2,506.5h0.9M198.4,501.4h0.9M218.7,529.6h0.9M219.8,522.5h0.9M212.1,524.6h0.9M212.4,526.8h0.9M216.8,503.5h0.9M213.2,530.6h0.9M234.7,521.7h0.9M215.1,516.5h0.9M206.7,520.5h0.9M201.3,526.8h0.9M212.4,515.2h0.9M210.7,524.0h0.9M227.8,527.4h0.9M221.0,509.1h0.9M223.5,515.4h0.9M209.1,509.8h0.9M189.9,506.1h0.9M198.7,524.6h0.9M214.2,526.8h0.9M234.8,522.0h0.9M195.6,516.5h0.9M199.3,526.1h0.9M204.6,504.1h0.9M206.9,505.2h0.9M234.1,523.5h0.9M217.6,527.6h0.9M224.4,506.8h0.9M200.0,506.8h0.9M213.8,522.6h0.9M206.7,510.3h0.9M184.7,507.7h0.9M211.4,508.9h0.9M218.9,503.7h0.9M198.7,504.6h0.9M220.3,508.3h0.9M212.8,502.4h0.9M213.4,512.3h0.9M209.1,510.6h0.9M198.5,513.4h0.9M197.0,524.0h0.9M205.4,520.8h0.9M214.7,524.0h0.9M232.9,519.3h0.9M220.2,519.1h0.9M211.4,502.6h0.9M222.8,517.3h0.9M208.4,529.9h0.9M232.7,525.9h0.9M206.9,515.1h0.9M207.7,523.8h0.9M213.2,518.9h0.9M194.7,510.3h0.9M184.6,508.3h0.9M219.0,511.2h0.9M223.0,521.8h0.9M221.3,520.4h0.9M229.9,527.6h0.9M225.3,527.8h0.9M204.5,514.5h0.9M216.7,512.4h0.9M196.1,507.3h0.9M215.8,524.3h0.9M215.5,519.6h0.9M211.3,514.5h0.9M218.5,529.7h0.9M235.1,522.0h0.9M219.2,517.0h0.9M216.5,511.7h0.9M214.9,504.4h0.9M195.5,505.0h0.9M211.6,528.1h0.9M225.7,526.3h0.9M199.1,521.7h0.9M212.1,517.1h0.9M215.0,515.5h0.9M203.4,525.7h0.9M232.6,526.9h0.9M209.7,526.6h0.9M215.3,513.6h0.9M203.7,521.7h0.9M202.7,517.1h0.9M210.8,530.6h0.9M209.8,521.4h0.9M220.1,512.5h0.9M212.0,514.0h0.9M191.4,509.5h0.9M233.4,521.7h0.9M212.1,527.0h0.9M227.8,525.5h0.9M204.6,518.6h0.9M200.4,503.4h0.9M203.1,528.5h0.9M207.1,521.6h0.9M208.1,512.5h0.9M184.5,507.8h0.9M215.4,507.9h0.9M198.1,524.2h0.9M194.3,512.6h0.9M199.4,505.0h0.9M197.0,513.1h0.9M193.3,503.8h0.9M203.0,530.5h0.9M232.1,516.2h0.9M214.2,503.7h0.9M231.4,525.4h0.9M198.5,519.5h0.9M196.6,518.7h0.9M207.1,517.7h0.9M218.4,509.5h0.9M223.3,524.7h0.9M207.7,520.7h0.9M217.3,527.0h0.9M202.9,519.8h0.9M221.1,518.3h0.9M223.8,510.0h0.9M225.1,511.5h0.9M210.7,505.9h0.9M204.8,529.6h0.9M184.9,507.3h0.9M212.1,522.3h0.9M219.8,523.3h0.9M221.6,520.6h0.9M198.2,501.5h0.9M210.3,532.5h0.9M208.1,525.6h0.9M216.5,502.5h0.9M218.1,510.8h0.9M231.5,522.7h0.9M214.3,516.3h0.9M211.5,511.5h0.9M206.7,520.8h0.9M199.8,520.7h0.9M229.0,526.5h0.9M223.2,507.3h0.9M213.5,503.3h0.9M223.0,526.5h0.9M194.5,515.5h0.9M220.4,503.3h0.9M215.9,529.4h0.9M197.8,501.9h0.9M206.5,504.0h0.9M226.7,511.8h0.9M199.3,516.1h0.9M209.7,519.9h0.9M230.5,514.9h0.9M214.9,525.0h0.9M195.0,508.1h0.9M210.6,532.8h0.9M217.0,510.6h0.9M202.4,510.3h0.9M208.0,504.1h0.9M195.8,502.7h0.9M202.5,511.9h0.9M222.9,508.7h0.9M224.9,526.5h0.9M225.6,519.8h0.9M214.2,516.8h0.9M224.1,507.2h0.9M203.3,521.5h0.9M205.7,518.1h0.9M207.8,503.9h0.9M202.8,531.1h0.9M203.3,529.4h0.9M230.7,517.8h0.9M202.6,506.2h0.9M230.2,519.3h0.9M214.8,520.4h0.9M231.1,517.8h0.9M212.5,515.6h0.9M217.7,517.1h0.9M194.5,513.8h0.9M195.0,508.5h0.9M206.6,505.2h0.9M196.7,524.3h0.9M205.2,508.1h0.9M224.4,513.4h0.9M209.6,515.2h0.9M214.7,504.2h0.9M216.9,511.5h0.9M207.0,526.4h0.9M197.4,517.8h0.9M213.2,518.6h0.9M208.2,526.2h0.9M196.7,515.2h0.9M219.3,529.8h0.9M196.8,512.7h0.9M208.3,509.9h0.9M210.5,531.3h0.9M230.6,516.9h0.9M202.0,505.1h0.9M212.5,528.3h0.9M203.6,509.5h0.9M213.3,525.8h0.9M210.4,510.7h0.9M215.1,512.1h0.9M218.9,526.7h0.9M226.0,526.0h0.9M189.9,510.0h0.9M218.8,521.6h0.9M230.8,515.4h0.9M200.5,502.5h0.9M201.8,526.1h0.9M219.7,508.3h0.9M227.1,514.8h0.9M214.7,532.2h0.9M215.3,509.7h0.9M210.1,530.3h0.9M200.7,525.5h0.9M203.1,516.5h0.9M208.3,520.2h0.9M220.1,506.1h0.9M217.8,527.6h0.9M205.2,509.9h0.9M196.7,520.7h0.9M189.7,508.1h0.9M199.3,523.3h0.9M222.8,518.7h0.9M207.8,528.1h0.9M196.4,510.1h0.9M219.8,518.9h0.9M200.5,505.4h0.9M197.8,525.9h0.9M210.0,514.5h0.9M214.2,501.9h0.9M223.2,528.2h0.9M193.6,505.6h0.9M223.5,507.1h0.9M204.4,518.9h0.9M193.4,510.9h0.9M206.4,519.0h0.9M227.7,514.4h0.9M198.0,519.8h0.9M219.0,504.4h0.9M204.3,522.3h0.9M204.4,519.4h0.9M224.7,511.3h0.9M220.6,524.7h0.9M224.6,511.5h0.9M201.3,520.0h0.9M207.1,516.4h0.9M213.4,525.5h0.9M190.9,508.1h0.9M194.2,515.6h0.9M224.1,510.4h0.9M187.5,508.7h0.9M220.8,512.5h0.9M199.4,517.1h0.9M201.1,510.8h0.9M223.1,513.1h0.9M235.7,521.2h0.9M202.6,513.0h0.9M198.1,504.4h0.9M208.4,518.4h0.9M202.5,524.5h0.9M199.4,517.4h0.9M206.7,508.0h0.9M200.2,512.2h0.9M201.7,513.6h0.9M202.6,518.8h0.9M215.8,512.0h0.9M221.7,515.0h0.9M223.5,526.2h0.9M229.9,514.2h0.9M217.8,516.8h0.9M221.1,524.8h0.9M221.5,525.6h0.9M225.6,525.2h0.9M217.8,509.2h0.9M215.3,511.3h0.9M212.9,526.4h0.9M218.4,518.5h0.9M210.7,506.2h0.9M193.7,511.6h0.9M221.1,523.6h0.9M222.9,507.8h0.9M192.3,509.7h0.9M191.6,508.1h0.9M201.3,505.8h0.9M187.0,510.8h0.9M235.1,523.8h0.9M187.8,507.6h0.9M224.3,528.0h0.9" stroke="#ececec" stroke-width="0.8" stroke-opacity="0.9"/>
<path d="M183.3,508.9C182.9,508.1 183.7,507.2 185.2,506.4C186.6,505.5 189.9,504.7 192.1,503.9C194.4,503.0 196.5,501.5 198.5,501.3C200.4,501.2 202.4,502.6 203.9,503.0C205.3,503.4 205.7,503.9 207.4,503.6C209.0,503.3 211.9,501.5 214.0,501.3C216.1,501.2 218.3,501.8 220.0,502.5C221.7,503.2 222.8,503.9 224.2,505.5C225.5,507.2 226.9,510.7 228.3,512.5C229.7,514.4 231.4,515.2 232.7,516.5C234.0,517.7 235.3,518.7 235.9,520.1C236.5,521.5 237.2,523.7 236.5,525.1C235.9,526.6 233.9,528.2 232.1,528.8C230.2,529.4 227.4,528.7 225.4,528.8C223.4,528.8 221.5,528.5 220.0,529.1C218.6,529.6 218.7,531.4 216.9,532.1C215.0,532.8 211.4,533.4 208.9,533.3C206.5,533.1 204.1,532.1 202.3,531.0C200.4,529.9 199.3,528.3 197.8,526.5C196.4,524.8 194.4,522.8 193.7,520.4C193.1,518.0 194.5,513.7 194.0,512.0C193.6,510.3 192.0,510.4 190.9,510.3C189.7,510.2 188.3,511.4 187.1,511.1C185.8,510.9 183.6,509.7 183.3,508.9Z" fill="#fbe3bb" fill-opacity="0.45"/>
<path d="M205.9,514.7h0.9M202.0,522.2h0.9M209.0,523.9h0.9M206.6,528.2h0.9M215.2,510.0h0.9M205.7,508.8h0.9M204.6,515.0h0.9M215.6,504.6h0.9M219.0,505.6h0.9M198.0,511.3h0.9M214.8,518.8h0.9M207.0,518.9h0.9M200.8,507.0h0.9M214.4,526.7h0.9M215.5,507.9h0.9M213.0,506.5h0.9M229.0,525.5h0.9M203.3,511.7h0.9M230.6,515.3h0.9M205.7,505.1h0.9M196.5,512.0h0.9M207.2,531.0h0.9M214.7,515.1h0.9M226.1,526.1h0.9M221.2,524.6h0.9M218.3,508.0h0.9M232.8,526.7h0.9M196.1,518.4h0.9M193.3,508.9h0.9M216.6,505.8h0.9M216.0,530.3h0.9M208.4,523.3h0.9M216.3,516.8h0.9M212.0,508.1h0.9M186.6,506.4h0.9M210.3,505.9h0.9M218.6,525.1h0.9M207.0,530.6h0.9M225.6,510.1h0.9M206.2,507.9h0.9M216.9,513.7h0.9M207.8,513.0h0.9M221.9,512.5h0.9M216.4,518.9h0.9M223.9,520.5h0.9M233.3,519.3h0.9M210.8,507.9h0.9M200.4,513.0h0.9M197.4,510.1h0.9M193.0,504.7h0.9M212.9,515.3h0.9M226.1,524.5h0.9M213.6,512.8h0.9M205.7,521.6h0.9M205.6,524.1h0.9M225.2,521.4h0.9M198.2,502.2h0.9M195.5,519.2h0.9M230.9,520.1h0.9M215.1,513.6h0.9M208.5,521.9h0.9M211.5,509.4h0.9M205.6,530.8h0.9M213.7,513.8h0.9M194.4,513.2h0.9M223.1,523.1h0.9M216.3,531.7h0.9M202.9,510.4h0.9M216.4,531.0h0.9M220.9,528.7h0.9M217.2,509.2h0.9M219.5,526.5h0.9M203.1,506.4h0.9M227.4,523.8h0.9M213.0,518.9h0.9M222.5,515.8h0.9M224.5,517.2h0.9M213.2,507.9h0.9M195.7,503.1h0.9M218.6,527.3h0.9M197.2,507.5h0.9M206.3,510.4h0.9M223.6,509.2h0.9M197.1,514.3h0.9M229.0,524.1h0.9M189.5,505.8h0.9M218.1,506.6h0.9M227.4,522.2h0.9M200.2,525.0h0.9M232.4,519.1h0.9M216.4,520.5h0.9M218.6,516.9h0.9M205.8,523.0h0.9M209.1,509.1h0.9M213.7,525.9h0.9M189.5,506.9h0.9M201.9,510.1h0.9M210.6,504.3h0.9M202.3,504.5h0.9M216.6,503.6h0.9M218.8,518.3h0.9M197.9,522.1h0.9M221.0,503.4h0.9M201.5,505.5h0.9M206.2,530.6h0.9M219.4,504.8h0.9M223.2,527.1h0.9M207.8,522.0h0.9M229.7,514.9h0.9M225.3,519.5h0.9M225.1,528.4h0.9M191.1,507.4h0.9M214.5,512.4h0.9M205.0,508.2h0.9M203.1,520.5h0.9M211.2,513.0h0.9M220.3,505.5h0.9M223.2,521.9h0.9M215.4,507.5h0.9M219.7,516.1h0.9M209.9,503.9h0.9M204.0,527.0h0.9M207.3,528.1h0.9M209.3,505.1h0.9M194.8,512.1h0.9M230.9,528.0h0.9M227.4,511.0h0.9M202.6,525.1h0.9M234.7,520.7h0.9M232.1,520.4h0.9M194.3,517.6h0.9M217.8,521.9h0.9M224.3,506.0h0.9M214.3,504.8h0.9M206.0,512.9h0.9M202.2,514.4h0.9M210.7,504.9h0.9M211.4,503.7h0.9M222.9,515.9h0.9M207.9,525.4h0.9M208.9,506.9h0.9M207.7,512.5h0.9M206.5,505.3h0.9M211.7,508.5h0.9M213.6,511.5h0.9M221.5,520.4h0.9M223.7,512.1h0.9M232.6,525.3h0.9M206.0,516.7h0.9M187.9,510.7h0.9M225.1,521.5h0.9M223.9,515.1h0.9M217.3,512.7h0.9M230.0,517.2h0.9M196.8,506.4h0.9M206.2,511.2h0.9M234.0,526.2h0.9M205.7,508.8h0.9M209.7,512.0h0.9M216.2,510.3h0.9M216.4,525.8h0.9M198.2,508.4h0.9M213.5,519.6h0.9M230.2,527.3h0.9M207.8,517.1h0.9M225.2,519.7h0.9M224.8,521.6h0.9M223.3,507.7h0.9M233.0,525.8h0.9M207.5,515.0h0.9M204.7,506.3h0.9M225.1,517.9h0.9M223.9,516.6h0.9M195.8,509.6h0.9M209.9,513.6h0.9M202.2,508.4h0.9M198.1,509.3h0.9M210.5,514.7h0.9M208.3,528.0h0.9M201.9,520.7h0.9M210.5,531.6h0.9M215.0,531.1h0.9M202.5,507.5h0.9M189.3,510.6h0.9M220.7,513.9h0.9M200.7,511.4h0.9M213.1,505.4h0.9M220.6,517.7h0.9M229.6,515.3h0.9M201.7,521.7h0.9M205.0,515.9h0.9M196.4,506.1h0.9M197.4,507.9h0.9M227.0,512.4h0.9M202.9,507.6h0.9M220.6,507.4h0.9M206.9,517.3h0.9M210.9,518.7h0.9M229.7,522.4h0.9M199.2,508.1h0.9M210.5,509.7h0.9M204.0,514.3h0.9M200.2,524.0h0.9M209.5,526.7h0.9M202.0,528.0h0.9M227.7,514.2h0.9M195.2,518.9h0.9M227.0,513.4h0.9M216.2,519.4h0.9M205.6,518.2h0.9M211.8,506.0h0.9M205.6,527.1h0.9M205.9,519.0h0.9M192.0,504.9h0.9M208.8,506.2h0.9M225.6,512.2h0.9M202.2,504.1h0.9M197.8,512.9h0.9M197.4,508.1h0.9M198.3,524.4h0.9M226.9,525.5h0.9M196.3,503.2h0.9M214.5,522.3h0.9M207.2,515.7h0.9M208.0,525.5h0.9M188.6,509.9h0.9M209.6,514.6h0.9M215.8,513.9h0.9M198.6,514.9h0.9M210.4,526.6h0.9M209.3,524.4h0.9M196.6,511.7h0.9M212.5,525.3h0.9M224.8,520.8h0.9M195.3,514.3h0.9M226.6,510.7h0.9M215.0,506.7h0.9M211.1,516.1h0.9M219.8,528.9h0.9M204.0,516.7h0.9M210.5,504.3h0.9M202.3,528.2h0.9M223.9,522.7h0.9M213.9,509.0h0.9M214.3,522.6h0.9M197.0,516.2h0.9M206.3,508.3h0.9M221.1,526.8h0.9M214.4,531.7h0.9M215.5,523.8h0.9M235.9,524.1h0.9M214.9,526.1h0.9M203.8,515.0h0.9M210.1,524.5h0.9M222.1,515.4h0.9M220.1,528.0h0.9M194.1,513.6h0.9M214.0,523.4h0.9M213.5,502.4h0.9M196.2,512.7h0.9M229.4,521.0h0.9M197.7,519.4h0.9M204.1,505.5h0.9M228.7,525.8h0.9M229.3,519.6h0.9M217.5,502.3h0.9M198.1,505.2h0.9M191.6,507.4h0.9M216.9,521.0h0.9M203.4,509.1h0.9M195.1,506.1h0.9M222.3,512.2h0.9M221.0,513.0h0.9M222.7,511.7h0.9M194.7,502.9h0.9M212.0,520.0h0.9M217.4,524.1h0.9M226.3,525.2h0.9" stroke="#e4e4e4" stroke-width="0.8" stroke-opacity="0.8"/>
<path d="M197.6 514.0h0.8M202.5 508.6h0.8M216.9 523.0h0.8M213.6 501.6h0.8M226.9 520.4h0.8M213.3 518.7h0.8M202.8 529.6h0.8M216.2 528.7h0.8M224.1 508.1h0.8M216.0 512.1h0.8M220.0 512.8h0.8M201.3 515.9h0.8M231.8 527.1h0.8M200.3 519.6h0.8M225.7 514.2h0.8M200.2 522.2h0.8" stroke="#fcd29a" stroke-width="0.9"/>
<path d="M205.2 527.8h0.8M210.6 521.7h0.8M200.8 507.1h0.8M194.2 517.3h0.8M231.6 528.1h0.8M208.1 514.4h0.8M228.5 523.0h0.8M210.9 508.8h0.8M222.6 522.9h0.8M210.1 509.2h0.8M211.5 529.0h0.8M209.1 514.6h0.8M215.2 524.4h0.8" stroke="#f8b070" stroke-width="0.9"/>
<path d="M214.8 518.0h0.8M207.6 530.4h0.8M211.9 531.1h0.8M199.9 506.1h0.8M221.3 507.0h0.8M216.8 528.7h0.8M213.5 523.7h0.8M199.3 517.3h0.8M223.9 513.2h0.8M233.2 522.8h0.8M214.6 504.0h0.8M224.0 511.2h0.8M216.2 506.6h0.8M214.8 506.3h0.8M217.9 525.7h0.8M234.0 525.9h0.8" stroke="#fbc585" stroke-width="0.9"/>
<path d="M217.1 520.1h0.8M227.6 527.8h0.8M191.9 506.7h0.8M197.3 513.9h0.8M201.4 517.1h0.8M205.8 504.6h0.8M220.2 512.0h0.8M192.7 504.1h0.8M206.0 509.8h0.8M228.2 528.7h0.8M217.8 525.9h0.8M211.8 532.0h0.8M208.2 526.2h0.8M216.3 529.4h0.8M216.7 524.5h0.8" stroke="#fde3b5" stroke-width="0.9"/>
<path d="M198.1 504.0h0.8M193.1 506.9h0.8M191.3 509.2h0.8M187.8 506.5h0.8M199.4 503.9h0.8M201.7 504.7h0.8M185.8 508.7h0.8M205.4 505.6h0.8M188.0 509.3h0.8M192.3 507.1h0.8M191.5 506.2h0.8M195.2 507.2h0.8" stroke="#e0462a" stroke-width="0.9"/>
<path d="M197.6 505.0h0.8M187.6 508.0h0.8M199.6 503.9h0.8M191.6 505.7h0.8M197.3 502.7h0.8M189.2 508.7h0.8M193.7 506.9h0.8M196.5 506.6h0.8M191.0 505.2h0.8" stroke="#b81a12" stroke-width="0.9"/>
<path d="M194.0 505.8h0.8M197.0 508.0h0.8M192.0 505.6h0.8M191.8 506.6h0.8M195.6 503.3h0.8M188.1 506.3h0.8M200.3 506.4h0.8M193.3 505.5h0.8M191.8 507.6h0.8" stroke="#f38645" stroke-width="0.9"/>
<path d="M193.5 503.4h0.8M204.2 506.4h0.8M201.9 507.2h0.8M195.6 506.3h0.8M204.2 506.6h0.8M185.2 509.4h0.8M190.3 505.3h0.8M203.0 507.1h0.8M195.3 507.7h0.8M188.4 507.4h0.8M186.8 508.0h0.8M195.2 506.6h0.8M207.0 503.6h0.8M206.6 504.1h0.8M194.8 504.6h0.8M205.1 503.4h0.8" stroke="#cf2a1c" stroke-width="0.9"/>
<path d="M198.2 506.6h0.8M204.0 504.4h0.8M187.8 508.5h0.8M195.4 507.4h0.8M185.2 507.9h0.8M192.8 504.6h0.8M202.5 506.5h0.8" stroke="#f8a262" stroke-width="0.9"/>
<path d="M201.9 505.4h0.8M187.8 508.0h0.8M205.5 505.3h0.8M197.3 508.5h0.8M198.7 502.6h0.8M195.3 506.0h0.8M199.6 504.8h0.8" stroke="#ec6a35" stroke-width="0.9"/>
<path d="M220.0,520.4C221.0,519.5 223.6,519.2 225.4,519.3C227.2,519.4 229.7,519.9 230.8,520.9C231.9,522.0 232.6,524.6 232.1,525.7C231.6,526.8 229.7,527.4 228.0,527.7C226.3,527.9 223.4,527.9 221.9,527.4C220.5,526.8 219.7,525.5 219.4,524.3C219.1,523.1 219.0,521.2 220.0,520.4Z" fill="#ffffff" fill-opacity="0.8"/>
<path d="M209.9,486.8C211.0,486.0 212.9,486.5 213.4,487.3C213.9,488.2 213.7,490.2 213.1,491.8C212.4,493.4 210.6,495.0 209.6,496.9C208.5,498.7 208.0,501.9 206.7,503.0C205.5,504.1 202.6,504.4 202.0,503.6C201.3,502.7 202.1,499.9 202.9,498.0C203.7,496.0 205.6,493.7 206.7,491.8C207.9,490.0 208.8,487.5 209.9,486.8Z" fill="#dedede"/>
<path d="M225.1,489.0C226.4,487.9 231.2,487.9 234.0,487.6C236.7,487.3 239.5,486.9 241.6,487.1C243.7,487.2 245.3,487.3 246.7,488.5C248.0,489.6 248.1,492.5 249.8,493.8C251.5,495.1 255.0,495.0 256.8,496.3C258.6,497.6 260.2,499.8 260.6,501.3C261.0,502.9 260.4,504.8 259.3,505.8C258.3,506.8 256.2,506.7 254.3,507.5C252.4,508.3 250.0,510.7 247.9,510.9C245.8,511.0 243.3,510.0 241.6,508.6C239.9,507.3 239.5,504.4 237.8,502.7C236.1,501.1 233.4,499.9 231.4,498.5C229.5,497.2 227.4,496.2 226.4,494.6C225.3,493.0 223.8,490.2 225.1,489.0Z" fill="#dedede"/>
<path d="M225.1,489.0C226.4,487.9 231.2,487.9 234.0,487.6C236.7,487.3 239.5,486.9 241.6,487.1C243.7,487.2 245.3,487.3 246.7,488.5C248.0,489.6 248.1,492.5 249.8,493.8C251.5,495.1 255.0,495.0 256.8,496.3C258.6,497.6 260.2,499.8 260.6,501.3C261.0,502.9 260.4,504.8 259.3,505.8C258.3,506.8 256.2,506.7 254.3,507.5C252.4,508.3 250.0,510.7 247.9,510.9C245.8,511.0 243.3,510.0 241.6,508.6C239.9,507.3 239.5,504.4 237.8,502.7C236.1,501.1 233.4,499.9 231.4,498.5C229.5,497.2 227.4,496.2 226.4,494.6C225.3,493.0 223.8,490.2 225.1,489.0Z" fill="#f6a064" fill-opacity="0.6"/>
<path d="M206.7,481.5C206.7,480.9 210.6,479.7 212.4,478.7C214.2,477.6 216.2,476.1 217.5,475.0C218.8,473.9 219.5,471.8 220.4,471.9C221.2,472.0 221.5,474.1 222.6,475.6C223.6,477.0 227.1,479.6 226.7,480.6C226.3,481.6 222.4,481.5 220.0,481.7C217.7,482.0 214.6,482.1 212.4,482.0C210.2,482.0 206.7,482.0 206.7,481.5Z" fill="#dedede"/>
<path d="M216.2,464.4C216.5,463.2 217.9,462.0 219.4,461.3C220.9,460.6 223.1,460.1 225.1,460.2C227.1,460.2 229.6,460.7 231.4,461.6C233.3,462.5 236.0,464.6 236.2,465.5C236.4,466.4 234.1,466.4 232.7,466.9C231.3,467.4 229.1,467.7 227.6,468.3C226.2,468.9 224.9,469.8 223.8,470.5C222.8,471.3 222.1,472.5 221.3,472.8C220.5,473.1 219.4,473.0 218.8,472.2C218.1,471.5 217.9,469.6 217.5,468.3C217.1,467.0 215.9,465.5 216.2,464.4Z" fill="#dedede"/>
<path d="M216.2,464.4C216.5,463.2 217.9,462.0 219.4,461.3C220.9,460.6 223.1,460.1 225.1,460.2C227.1,460.2 229.6,460.7 231.4,461.6C233.3,462.5 236.0,464.6 236.2,465.5C236.4,466.4 234.1,466.4 232.7,466.9C231.3,467.4 229.1,467.7 227.6,468.3C226.2,468.9 224.9,469.8 223.8,470.5C222.8,471.3 222.1,472.5 221.3,472.8C220.5,473.1 219.4,473.0 218.8,472.2C218.1,471.5 217.9,469.6 217.5,468.3C217.1,467.0 215.9,465.5 216.2,464.4Z" fill="#fbd09a" fill-opacity="0.45"/>
<path d="M238.4,465.2C238.4,464.8 238.0,464.3 237.5,464.0C237.0,463.8 236.0,463.5 235.3,463.5C234.5,463.5 233.5,463.8 233.0,464.0C232.5,464.3 232.1,464.8 232.1,465.2C232.1,465.6 232.5,466.1 233.0,466.4C233.5,466.7 234.5,466.9 235.3,466.9C236.0,466.9 237.0,466.7 237.5,466.4C238.0,466.1 238.4,465.6 238.4,465.2Z" fill="#dedede"/>
<path d="M186.1,475.9C186.6,475.2 188.8,474.9 190.2,475.0C191.7,475.1 193.4,475.7 194.7,476.4C195.9,477.2 198.1,478.9 197.8,479.5C197.6,480.1 195.2,480.2 193.4,480.1C191.6,480.0 188.3,479.6 187.1,478.9C185.9,478.2 185.6,476.5 186.1,475.9Z" fill="#dedede"/>
<path d="M186.1,475.9C186.6,475.2 188.8,474.9 190.2,475.0C191.7,475.1 193.4,475.7 194.7,476.4C195.9,477.2 198.1,478.9 197.8,479.5C197.6,480.1 195.2,480.2 193.4,480.1C191.6,480.0 188.3,479.6 187.1,478.9C185.9,478.2 185.6,476.5 186.1,475.9Z" fill="#f5a068" fill-opacity="0.5"/>
<path d="M192.0,485.1C192.0,484.7 191.7,484.1 191.4,483.9C191.1,483.7 190.6,483.7 190.3,483.9C190.0,484.1 189.8,484.7 189.8,485.1C189.8,485.5 190.0,486.1 190.3,486.3C190.6,486.5 191.1,486.5 191.4,486.3C191.7,486.1 192.0,485.5 192.0,485.1Z" fill="#dedede"/>
<path d="M237.2,473.9C237.5,473.9 237.9,476.1 238.4,476.7C239.0,477.3 239.3,477.2 240.3,477.5C241.3,477.9 244.2,478.4 244.4,478.9C244.7,479.5 242.7,480.5 241.6,480.6C240.5,480.8 238.7,480.4 237.8,479.8C236.9,479.1 236.3,477.7 236.2,476.7C236.1,475.7 236.8,473.9 237.2,473.9Z" fill="#dedede"/>
<path d="M172.6,499.4C172.6,498.9 172.4,498.2 172.1,497.8C171.8,497.4 171.3,497.0 170.8,496.9C170.3,496.7 169.6,496.7 169.1,496.9C168.6,497.0 168.1,497.4 167.8,497.8C167.5,498.2 167.3,498.9 167.3,499.4C167.3,499.9 167.5,500.5 167.8,500.9C168.1,501.4 168.6,501.7 169.1,501.9C169.6,502.1 170.3,502.1 170.8,501.9C171.3,501.7 171.8,501.4 172.1,500.9C172.4,500.5 172.6,499.9 172.6,499.4Z" fill="#dedede"/>
<path d="M252.4,522.3C252.7,521.9 255.0,521.8 256.2,521.5C257.3,521.2 258.9,520.1 259.3,520.4C259.8,520.7 259.6,522.6 258.7,523.2C257.9,523.8 255.3,524.2 254.3,524.0C253.2,523.9 252.1,522.8 252.4,522.3Z" fill="#dedede"/>
<path d="M179.5,522.6C179.5,522.4 179.1,522.2 178.6,522.0C178.1,521.9 177.3,521.8 176.6,521.8C175.9,521.8 175.1,521.9 174.6,522.0C174.1,522.2 173.8,522.4 173.8,522.6C173.8,522.8 174.1,523.1 174.6,523.2C175.1,523.4 175.9,523.5 176.6,523.5C177.3,523.5 178.1,523.4 178.6,523.2C179.1,523.1 179.5,522.8 179.5,522.6Z" fill="#dedede"/>
<path d="M183.9,536.6C184.6,535.6 186.7,535.1 188.3,534.4C190.0,533.7 192.2,532.4 193.7,532.4C195.3,532.4 197.2,533.4 197.5,534.4C197.9,535.4 195.9,536.9 195.9,538.3C196.0,539.7 198.3,541.9 197.8,542.8C197.4,543.7 194.9,543.9 193.4,543.6C191.9,543.4 190.6,541.9 189.0,541.4C187.4,540.9 184.7,541.3 183.9,540.5C183.1,539.7 183.2,537.6 183.9,536.6Z" fill="#dedede"/>
<path d="M183.9,536.6C184.6,535.6 186.7,535.1 188.3,534.4C190.0,533.7 192.2,532.4 193.7,532.4C195.3,532.4 197.2,533.4 197.5,534.4C197.9,535.4 195.9,536.9 195.9,538.3C196.0,539.7 198.3,541.9 197.8,542.8C197.4,543.7 194.9,543.9 193.4,543.6C191.9,543.4 190.6,541.9 189.0,541.4C187.4,540.9 184.7,541.3 183.9,540.5C183.1,539.7 183.2,537.6 183.9,536.6Z" fill="#fbd7a2" fill-opacity="0.5"/>
<path d="M218.1,541.7C218.7,540.7 221.3,539.6 223.2,539.1C225.1,538.7 227.5,538.6 229.5,538.9C231.6,539.1 234.2,539.6 235.3,540.5C236.3,541.5 236.4,543.2 235.9,544.5C235.4,545.7 233.8,547.5 232.1,547.8C230.4,548.1 227.7,546.9 225.7,546.4C223.7,545.9 221.3,545.5 220.0,544.7C218.8,543.9 217.6,542.6 218.1,541.7Z" fill="#dedede"/>
<path d="M209.3,547.3C209.8,547.2 213.1,548.8 215.0,549.2C216.9,549.6 218.7,549.4 220.7,549.5C222.7,549.6 225.7,549.3 227.0,550.1C228.3,550.8 229.0,552.9 228.6,554.0C228.2,555.1 226.0,556.5 224.5,556.8C222.9,557.1 220.8,556.7 219.4,555.9C218.0,555.2 217.5,553.4 216.2,552.3C215.0,551.2 213.0,550.3 211.8,549.5C210.6,548.7 208.7,547.3 209.3,547.3Z" fill="#dedede"/>
<path d="M206.4 498.5h0.8M207.4 493.3h0.8M212.8 490.0h0.8" stroke="#cf2a1c" stroke-width="0.9"/>
<path d="M210.7 493.6h0.8M203.5 499.4h0.8" stroke="#b81a12" stroke-width="0.9"/>
<path d="M208.4 495.6h0.8M208.2 494.8h0.8M203.2 497.6h0.8" stroke="#f8a262" stroke-width="0.9"/>
<path d="M210.1 492.2h0.8" stroke="#f38645" stroke-width="0.9"/>
<path d="M209.8 495.4h0.8" stroke="#e0462a" stroke-width="0.9"/>
<path d="M234.1 499.2h0.8M239.7 502.6h0.8M251.1 501.7h0.8M234.9 499.0h0.8M233.4 492.4h0.8M244.6 493.9h0.8M246.7 505.4h0.8M231.6 488.4h0.8M232.0 492.7h0.8M241.0 500.9h0.8M243.1 491.0h0.8M237.1 491.8h0.8M242.5 505.6h0.8M245.3 488.9h0.8M240.3 495.7h0.8M235.7 496.0h0.8M243.5 505.4h0.8M247.7 505.6h0.8M256.6 505.7h0.8M245.7 496.1h0.8M238.6 487.4h0.8M238.5 497.7h0.8M257.1 498.3h0.8M249.3 506.7h0.8M226.3 489.9h0.8M255.9 497.9h0.8M232.8 488.1h0.8M243.0 499.3h0.8M240.1 504.7h0.8M251.7 495.0h0.8M246.3 499.1h0.8M244.5 508.1h0.8M247.7 490.6h0.8M255.8 503.3h0.8M256.7 501.2h0.8M245.7 500.1h0.8M249.8 507.9h0.8M237.1 500.6h0.8M240.3 495.8h0.8M248.7 508.5h0.8M235.8 493.7h0.8M231.3 488.2h0.8M246.3 506.9h0.8" stroke="#b81a12" stroke-width="0.9"/>
<path d="M251.8 497.2h0.8M251.2 500.1h0.8M235.2 496.1h0.8M254.8 497.2h0.8M231.2 492.7h0.8M258.5 501.1h0.8M239.3 492.2h0.8M245.2 496.9h0.8M247.1 495.6h0.8M257.4 499.6h0.8M245.3 493.1h0.8M231.2 491.5h0.8M235.5 500.2h0.8M258.4 499.5h0.8M256.0 500.2h0.8M233.8 494.7h0.8M237.1 496.0h0.8M241.8 507.2h0.8" stroke="#f38645" stroke-width="0.9"/>
<path d="M244.4 491.1h0.8M244.8 499.1h0.8M257.0 505.5h0.8M238.0 496.6h0.8M254.9 507.3h0.8M245.8 499.5h0.8M244.5 502.3h0.8M242.0 488.8h0.8M235.8 490.1h0.8M235.4 490.3h0.8M226.4 490.1h0.8M243.6 488.4h0.8M247.8 499.4h0.8M243.2 506.4h0.8M247.7 491.6h0.8M251.7 502.1h0.8M245.3 508.7h0.8M240.2 498.1h0.8M226.8 493.5h0.8" stroke="#f8a262" stroke-width="0.9"/>
<path d="M229.0 492.1h0.8M241.4 504.3h0.8M240.2 498.0h0.8M233.5 492.5h0.8M233.1 488.1h0.8M236.9 495.4h0.8M242.4 499.3h0.8M256.1 502.9h0.8M238.5 500.7h0.8M241.4 499.0h0.8M237.2 493.9h0.8M232.8 489.3h0.8M235.1 497.3h0.8M244.0 494.1h0.8M253.0 494.9h0.8M241.2 505.4h0.8M243.8 507.6h0.8M253.5 505.7h0.8M233.5 488.8h0.8M237.7 490.6h0.8M254.8 502.8h0.8M242.0 490.9h0.8M236.9 499.8h0.8M241.3 490.2h0.8M234.4 495.9h0.8M229.4 494.4h0.8M243.6 500.7h0.8M254.0 504.1h0.8M240.3 491.2h0.8M247.0 506.9h0.8M230.6 494.3h0.8M250.3 494.5h0.8M241.7 489.6h0.8" stroke="#cf2a1c" stroke-width="0.9"/>
<path d="M250.1 498.6h0.8M227.2 493.9h0.8M255.8 500.7h0.8M246.3 502.7h0.8M235.8 496.7h0.8M256.5 502.8h0.8M242.3 503.9h0.8M254.2 496.9h0.8M227.1 489.5h0.8M243.3 493.3h0.8M237.6 490.3h0.8M244.5 493.0h0.8M229.4 492.6h0.8M244.5 508.4h0.8M253.9 505.9h0.8M235.9 496.6h0.8M245.4 509.2h0.8M245.5 504.2h0.8M252.4 506.9h0.8M244.1 493.6h0.8M247.4 505.6h0.8M240.0 500.4h0.8M236.8 490.5h0.8M240.5 497.6h0.8M239.0 499.2h0.8M250.5 501.5h0.8M248.8 497.1h0.8" stroke="#e0462a" stroke-width="0.9"/>
<path d="M241.4 507.0h0.8M241.8 491.4h0.8M253.5 498.3h0.8M248.0 500.1h0.8M234.8 494.2h0.8M229.2 491.9h0.8M245.7 496.0h0.8M241.4 491.7h0.8M246.5 500.1h0.8M234.3 497.9h0.8M252.5 502.3h0.8M243.2 497.4h0.8M242.9 495.7h0.8M233.1 493.7h0.8M234.3 492.0h0.8M242.8 506.8h0.8M255.2 506.3h0.8M229.6 493.3h0.8M253.4 507.1h0.8M246.2 496.6h0.8" stroke="#ec6a35" stroke-width="0.9"/>
<path d="M220.0 476.0h0.8M219.2 473.4h0.8M217.9 478.8h0.8M219.8 478.2h0.8M222.1 481.1h0.8" stroke="#f8a262" stroke-width="0.9"/>
<path d="M222.2 479.9h0.8M224.6 480.4h0.8" stroke="#f38645" stroke-width="0.9"/>
<path d="M220.5 475.7h0.8" stroke="#ec6a35" stroke-width="0.9"/>
<path d="M223.1 464.6h0.8M219.3 469.6h0.8M233.9 465.1h0.8M230.2 464.9h0.8M220.4 472.1h0.8M231.1 464.0h0.8M226.6 463.9h0.8" stroke="#f8a262" stroke-width="0.9"/>
<path d="M230.8 464.3h0.8M224.9 463.5h0.8M223.4 462.9h0.8M222.5 467.0h0.8" stroke="#ec6a35" stroke-width="0.9"/>
<path d="M219.1 462.0h0.8M232.2 463.0h0.8M217.1 466.2h0.8" stroke="#f38645" stroke-width="0.9"/>
<path d="M230.3 466.9h0.8M235.9 465.3h0.8M233.6 465.4h0.8M222.8 461.6h0.8M225.3 467.8h0.8M228.0 466.2h0.8M218.5 468.9h0.8" stroke="#fcd29a" stroke-width="0.9"/>
<path d="M220.7 462.6h0.8M234.3 464.8h0.8M224.7 460.7h0.8" stroke="#fde3b5" stroke-width="0.9"/>
<path d="M233.4 463.2h0.8" stroke="#fbc585" stroke-width="0.9"/>
<path d="M194.4 479.4h0.8M187.5 479.0h0.8M187.6 477.1h0.8" stroke="#cf2a1c" stroke-width="0.9"/>
<path d="M193.2 476.0h0.8M188.6 476.5h0.8" stroke="#b81a12" stroke-width="0.9"/>
<path d="M191.9 479.3h0.8M187.1 477.5h0.8M192.1 479.4h0.8M190.6 476.2h0.8" stroke="#e0462a" stroke-width="0.9"/>
<path d="M190.5 476.8h0.8M190.5 476.0h0.8M193.6 476.8h0.8" stroke="#f8a262" stroke-width="0.9"/>
<path d="M187.3 475.8h0.8" stroke="#f38645" stroke-width="0.9"/>
<path d="M186.3 476.3h0.8" stroke="#ec6a35" stroke-width="0.9"/>
<path d="M237.2 474.5h0.8M237.4 478.8h0.8M236.9 477.0h0.8" stroke="#f8a262" stroke-width="0.9"/>
<path d="M236.9 476.0h0.8M242.8 479.4h0.8M237.4 478.6h0.8M238.0 476.3h0.8" stroke="#b81a12" stroke-width="0.9"/>
<path d="M238.5 477.4h0.8M239.3 478.1h0.8M238.1 477.2h0.8M237.2 477.6h0.8M240.8 480.4h0.8" stroke="#e0462a" stroke-width="0.9"/>
<path d="M238.2 477.5h0.8M238.4 479.4h0.8" stroke="#cf2a1c" stroke-width="0.9"/>
<path d="M242.3 478.8h0.8M240.4 478.2h0.8" stroke="#f38645" stroke-width="0.9"/>
<path d="M169.9 497.1h0.8" stroke="#fde3b5" stroke-width="0.9"/>
<path d="M171.8 501.1h0.8" stroke="#fbc585" stroke-width="0.9"/>
<path d="M254.0 523.0h0.8" stroke="#f38645" stroke-width="0.9"/>
<path d="M253.6 523.2h0.8M259.1 520.8h0.8" stroke="#f8a262" stroke-width="0.9"/>
<path d="M189.2 539.1h0.8M189.4 540.5h0.8M185.4 536.8h0.8M190.7 539.3h0.8M188.0 540.0h0.8" stroke="#e0462a" stroke-width="0.9"/>
<path d="M189.6 538.9h0.8M197.0 542.0h0.8M184.9 539.2h0.8M194.2 539.9h0.8" stroke="#ec6a35" stroke-width="0.9"/>
<path d="M196.4 535.7h0.8M188.9 540.3h0.8" stroke="#cf2a1c" stroke-width="0.9"/>
<path d="M194.9 537.3h0.8" stroke="#f38645" stroke-width="0.9"/>
<path d="M190.7 537.3h0.8M193.3 538.5h0.8M191.9 540.5h0.8M196.0 534.6h0.8" stroke="#f8a262" stroke-width="0.9"/>
<path d="M194.1 537.1h0.8M189.0 540.8h0.8M194.9 540.2h0.8" stroke="#fbc585" stroke-width="0.9"/>
<path d="M189.7 539.1h0.8M191.5 536.2h0.8M191.7 535.8h0.8" stroke="#fcd29a" stroke-width="0.9"/>
<path d="M185.1 539.4h0.8M186.9 539.4h0.8M185.5 540.2h0.8" stroke="#fde3b5" stroke-width="0.9"/>
<path d="M184.9 536.3h0.8M187.1 539.8h0.8M184.4 537.5h0.8M195.7 537.2h0.8M193.8 542.0h0.8" stroke="#b81a12" stroke-width="0.9"/>
<path d="M226.6 543.1h0.8M229.9 539.7h0.8M229.4 544.0h0.8" stroke="#b81a12" stroke-width="0.9"/>
<path d="M229.8 543.7h0.8M230.9 544.7h0.8M226.1 541.6h0.8M230.5 544.8h0.8M231.3 545.0h0.8" stroke="#e0462a" stroke-width="0.9"/>
<path d="M234.6 543.1h0.8M218.7 541.4h0.8M230.8 540.6h0.8M225.8 546.1h0.8" stroke="#cf2a1c" stroke-width="0.9"/>
<text x="220.80" y="460.50" font-size="10.3" text-anchor="middle" fill="#1a1a1a">Healthy</text>
<line x1="163.80" y1="457.50" x2="163.80" y2="561.80" stroke="#555" stroke-width="0.8"/>
<line x1="163.80" y1="561.80" x2="264.50" y2="561.80" stroke="#555" stroke-width="0.8"/>
<line x1="162.30" y1="479.50" x2="163.80" y2="479.50" stroke="#555" stroke-width="0.6"/>
<text x="162.00" y="481.60" font-size="6" text-anchor="end" fill="#444">10</text>
<line x1="162.30" y1="507.50" x2="163.80" y2="507.50" stroke="#555" stroke-width="0.6"/>
<text x="162.00" y="509.60" font-size="6" text-anchor="end" fill="#444">0</text>
<line x1="162.30" y1="535.50" x2="163.80" y2="535.50" stroke="#555" stroke-width="0.6"/>
<text x="162.00" y="537.60" font-size="6" text-anchor="end" fill="#444">-10</text>
<line x1="185.80" y1="561.80" x2="185.80" y2="563.30" stroke="#555" stroke-width="0.6"/>
<text x="185.80" y="568.20" font-size="6" text-anchor="middle" fill="#444">-10</text>
<line x1="217.50" y1="561.80" x2="217.50" y2="563.30" stroke="#555" stroke-width="0.6"/>
<text x="217.50" y="568.20" font-size="6" text-anchor="middle" fill="#444">0</text>
<line x1="249.20" y1="561.80" x2="249.20" y2="563.30" stroke="#555" stroke-width="0.6"/>
<text x="249.20" y="568.20" font-size="6" text-anchor="middle" fill="#444">10</text>
<text x="214.10" y="574.00" font-size="5.9" text-anchor="middle" font-weight="bold" fill="#111">UMAP1</text>
<text transform="translate(154.20 508.50) rotate(-90)" font-size="5.9" font-weight="bold" text-anchor="middle" fill="#111">UMAP2</text>
<linearGradient id="cbHea" x1="0" x2="1" y1="0" y2="0"><stop offset="0" stop-color="#fff7e6"/><stop offset="0.3" stop-color="#fdd49e"/><stop offset="0.6" stop-color="#f3844e"/><stop offset="0.85" stop-color="#d7301f"/><stop offset="1" stop-color="#8f0000"/></linearGradient>
<rect x="200.00" y="578.00" width="49.30" height="4.60" fill="url(#cbHea)"/>
<text x="179.30" y="584.20" font-size="5.9" fill="#222">HMGA1</text>
<text x="199.2" y="586.4" font-size="4.2" fill="#222">0</text>
<text x="214.94" y="587.00" font-size="4.6" text-anchor="middle" fill="#333">1</text>
<text x="227.89" y="587.00" font-size="4.6" text-anchor="middle" fill="#333">2</text>
<text x="240.83" y="587.00" font-size="4.6" text-anchor="middle" fill="#333">3</text>
<path d="M305.9,508.9C305.6,508.1 306.4,507.2 307.9,506.4C309.4,505.5 312.7,504.7 314.9,503.9C317.1,503.0 319.3,501.5 321.3,501.3C323.3,501.2 325.2,502.6 326.7,503.0C328.2,503.4 328.6,503.9 330.3,503.6C332.0,503.3 334.8,501.5 337.0,501.3C339.1,501.2 341.4,501.8 343.1,502.5C344.8,503.2 345.8,503.9 347.2,505.5C348.6,507.2 349.9,510.7 351.4,512.5C352.8,514.4 354.6,515.2 355.9,516.5C357.1,517.7 358.4,518.7 359.1,520.1C359.7,521.5 360.3,523.7 359.7,525.1C359.1,526.6 357.1,528.2 355.2,528.8C353.4,529.4 350.5,528.7 348.5,528.8C346.5,528.8 344.5,528.5 343.1,529.1C341.6,529.6 341.7,531.4 339.9,532.1C338.0,532.8 334.3,533.4 331.9,533.3C329.4,533.1 327.0,532.1 325.1,531.0C323.3,529.9 322.1,528.3 320.7,526.5C319.2,524.8 317.1,522.8 316.5,520.4C315.9,518.0 317.3,513.7 316.8,512.0C316.3,510.3 314.8,510.4 313.6,510.3C312.4,510.2 311.1,511.4 309.8,511.1C308.5,510.9 306.3,509.7 305.9,508.9Z" fill="#dedede"/>
<path d="M333.7,513.6h0.9M314.8,506.6h0.9M326.9,516.6h0.9M341.0,505.8h0.9M317.6,513.3h0.9M339.8,508.5h0.9M354.9,520.1h0.9M333.6,529.2h0.9M340.3,517.4h0.9M338.4,530.2h0.9M319.6,505.1h0.9M331.3,516.5h0.9M322.2,523.6h0.9M326.8,508.8h0.9M334.1,513.2h0.9M344.5,513.9h0.9M320.7,514.0h0.9M347.9,513.3h0.9M349.8,520.0h0.9M330.1,529.9h0.9M312.4,509.7h0.9M320.2,525.4h0.9M323.6,503.1h0.9M338.0,516.8h0.9M332.7,527.8h0.9M315.7,505.8h0.9M318.1,512.7h0.9M321.3,508.5h0.9M325.3,521.4h0.9M320.6,511.0h0.9M320.6,523.1h0.9M327.1,520.5h0.9M334.2,530.9h0.9M322.5,514.4h0.9M343.3,526.6h0.9M334.2,520.7h0.9M328.2,529.6h0.9M344.7,520.1h0.9M350.4,515.3h0.9M323.5,509.3h0.9M346.7,510.4h0.9M331.9,527.9h0.9M349.0,525.9h0.9M315.3,505.8h0.9M352.8,519.3h0.9M321.3,514.2h0.9M326.7,528.2h0.9M346.9,515.3h0.9M346.2,527.0h0.9M320.7,507.5h0.9M333.7,503.2h0.9M345.0,512.3h0.9M328.2,529.6h0.9M318.3,505.2h0.9M355.1,519.8h0.9M320.3,512.6h0.9M332.0,519.7h0.9M340.2,528.9h0.9M311.9,506.0h0.9M327.1,521.2h0.9M336.7,506.9h0.9M329.0,504.9h0.9M352.1,517.8h0.9M332.0,513.3h0.9M352.6,515.1h0.9M330.7,525.4h0.9M348.7,521.1h0.9M335.2,517.8h0.9M330.1,530.5h0.9M356.7,520.4h0.9M309.6,510.7h0.9M339.8,529.3h0.9M307.0,507.7h0.9M333.9,508.9h0.9M329.1,524.1h0.9M327.4,504.1h0.9M327.7,523.0h0.9M338.3,502.2h0.9M328.6,524.3h0.9M348.3,528.3h0.9M321.3,503.7h0.9M346.2,505.9h0.9M323.9,514.8h0.9M332.3,512.4h0.9M335.2,530.6h0.9M328.1,507.9h0.9M317.2,515.8h0.9M322.8,525.3h0.9M317.4,504.6h0.9M319.5,509.0h0.9M327.1,507.5h0.9M346.0,516.6h0.9M339.2,515.1h0.9M317.6,505.8h0.9M328.6,508.7h0.9M336.7,520.2h0.9M328.3,519.3h0.9M325.5,525.2h0.9M315.2,510.4h0.9M349.3,526.0h0.9M328.2,525.0h0.9M336.2,531.1h0.9M352.2,518.0h0.9M318.9,506.9h0.9M320.6,519.3h0.9M343.1,528.7h0.9M330.3,522.6h0.9M352.0,517.1h0.9M341.4,508.3h0.9M321.6,514.1h0.9M342.0,505.8h0.9M348.4,510.7h0.9M316.3,509.1h0.9M333.3,508.7h0.9M314.4,509.7h0.9M329.2,512.6h0.9M335.7,530.3h0.9M336.6,505.3h0.9M332.9,518.5h0.9M332.8,509.5h0.9M326.4,511.7h0.9M329.8,512.6h0.9M319.2,519.1h0.9M340.1,513.7h0.9M325.2,528.4h0.9M333.8,508.8h0.9M342.3,513.5h0.9M341.6,524.3h0.9M340.3,527.0h0.9M335.2,532.4h0.9M348.9,518.4h0.9M323.1,509.8h0.9M320.2,504.6h0.9M341.3,505.8h0.9M356.8,517.9h0.9M339.3,508.3h0.9M328.0,515.0h0.9M356.9,519.3h0.9M335.5,515.2h0.9M330.9,515.7h0.9M333.9,519.6h0.9M349.1,526.0h0.9M324.7,508.2h0.9M346.4,518.2h0.9M319.7,509.3h0.9M335.2,504.3h0.9M335.4,505.1h0.9M318.7,522.2h0.9M328.9,505.7h0.9M339.6,531.9h0.9M338.8,526.1h0.9M330.1,528.9h0.9M342.6,514.3h0.9M356.6,526.1h0.9M333.9,520.2h0.9M335.9,526.7h0.9M354.4,516.6h0.9M347.5,508.2h0.9M325.7,515.3h0.9M344.4,511.2h0.9M328.4,508.3h0.9M349.3,521.4h0.9M346.8,514.3h0.9M320.9,513.6h0.9M323.0,512.4h0.9M324.1,519.2h0.9M322.0,522.3h0.9M346.0,512.7h0.9M343.3,510.9h0.9M329.1,527.2h0.9M332.8,525.7h0.9M318.1,522.3h0.9M335.2,529.1h0.9M353.1,527.3h0.9M335.0,510.3h0.9M350.1,514.5h0.9M323.0,512.1h0.9M352.4,523.0h0.9M347.2,521.7h0.9M333.6,524.0h0.9M353.3,515.9h0.9M352.7,519.2h0.9M345.6,511.3h0.9M327.8,513.7h0.9M346.5,523.3h0.9M336.7,502.1h0.9M341.6,512.1h0.9M353.2,528.5h0.9M356.7,522.8h0.9M337.4,519.4h0.9M334.4,516.4h0.9M350.2,516.5h0.9M336.8,505.9h0.9M327.6,522.5h0.9M352.3,525.4h0.9M327.3,528.9h0.9M340.3,527.1h0.9M339.2,502.0h0.9M352.5,517.3h0.9M334.7,525.5h0.9M334.0,519.3h0.9M325.9,504.9h0.9M346.1,516.6h0.9M343.7,520.1h0.9M342.6,527.2h0.9M320.0,513.7h0.9M322.9,521.4h0.9M341.0,502.5h0.9M346.4,506.0h0.9M334.5,531.7h0.9M329.3,504.1h0.9M326.1,520.2h0.9M319.8,512.2h0.9M322.4,505.2h0.9M327.4,524.9h0.9M342.6,503.2h0.9M350.9,525.4h0.9M348.5,512.5h0.9M334.9,502.5h0.9M334.7,502.2h0.9M330.4,532.8h0.9M341.0,515.3h0.9M346.1,509.8h0.9M334.2,520.0h0.9M325.7,521.7h0.9M339.0,527.2h0.9M328.4,521.7h0.9M322.4,502.4h0.9M320.8,514.3h0.9M316.7,516.2h0.9M338.5,504.5h0.9M316.8,511.6h0.9M331.4,504.3h0.9M347.2,523.1h0.9M350.7,520.6h0.9M330.4,518.3h0.9M329.9,527.5h0.9M329.9,518.8h0.9M343.2,509.9h0.9M318.2,507.7h0.9M317.9,508.9h0.9M358.1,520.4h0.9M330.7,520.8h0.9M316.7,519.4h0.9M321.6,521.5h0.9M343.0,524.0h0.9M338.9,517.2h0.9M351.6,528.6h0.9M313.4,505.9h0.9M319.2,508.3h0.9M322.7,502.6h0.9M348.3,521.5h0.9M318.6,514.3h0.9M339.9,530.5h0.9M340.4,519.0h0.9M351.4,528.6h0.9M321.9,504.3h0.9M341.6,509.3h0.9M336.1,523.1h0.9M334.9,531.1h0.9M319.2,513.8h0.9M328.7,524.7h0.9M320.3,525.6h0.9M338.7,529.5h0.9M341.9,509.2h0.9M342.8,523.4h0.9M324.0,513.3h0.9M348.5,520.3h0.9M334.7,525.7h0.9M332.9,530.3h0.9M349.5,520.2h0.9M318.1,503.4h0.9M321.3,514.3h0.9M329.8,522.7h0.9M334.1,530.4h0.9M337.4,517.9h0.9M340.8,521.2h0.9M323.0,505.0h0.9M349.6,522.8h0.9M318.1,522.4h0.9M322.2,507.0h0.9M354.2,520.2h0.9M342.6,506.7h0.9M337.7,531.1h0.9M346.6,523.3h0.9M340.9,505.3h0.9M323.5,506.6h0.9M326.1,524.0h0.9M331.9,520.7h0.9M321.8,506.4h0.9M357.9,524.7h0.9M342.0,503.2h0.9M336.6,504.4h0.9M352.9,519.9h0.9M342.4,521.1h0.9M346.0,510.7h0.9M333.5,518.7h0.9M331.4,532.6h0.9M352.0,524.2h0.9M324.7,506.6h0.9M325.6,504.4h0.9M347.1,518.9h0.9M324.8,526.0h0.9M333.9,518.6h0.9M344.5,506.9h0.9M340.0,515.4h0.9M342.1,506.0h0.9M348.2,521.7h0.9M336.0,511.6h0.9M324.2,509.9h0.9M347.5,513.9h0.9M323.2,512.9h0.9M325.2,518.1h0.9M327.8,511.3h0.9M322.7,503.7h0.9M325.3,527.7h0.9M331.5,506.7h0.9M337.5,514.7h0.9M329.9,522.9h0.9M346.6,524.7h0.9M338.5,520.2h0.9M317.7,521.9h0.9M354.2,522.3h0.9M341.1,506.9h0.9M345.0,508.2h0.9M351.7,528.2h0.9M348.7,526.9h0.9M349.0,516.4h0.9M347.0,526.0h0.9M315.9,506.7h0.9M354.4,522.4h0.9M321.4,525.5h0.9M332.5,523.4h0.9M330.7,530.1h0.9M347.8,518.8h0.9M350.1,515.4h0.9M330.4,527.0h0.9M346.7,524.2h0.9M323.6,519.6h0.9M341.2,508.0h0.9M342.2,514.3h0.9M340.6,524.4h0.9M321.2,506.5h0.9M326.6,530.5h0.9M333.5,523.6h0.9M334.1,520.4h0.9M320.2,524.3h0.9M349.5,522.0h0.9M318.4,515.9h0.9M318.6,510.6h0.9M322.4,502.5h0.9M337.8,517.5h0.9M319.7,523.7h0.9M326.1,517.3h0.9M320.4,505.0h0.9M349.1,509.2h0.9M320.5,504.8h0.9M338.0,509.6h0.9M327.5,519.9h0.9M324.0,512.9h0.9M334.6,520.4h0.9" stroke="#ececec" stroke-width="0.8" stroke-opacity="0.9"/>
<path d="M343.1,520.4C344.1,519.5 346.7,519.2 348.5,519.3C350.3,519.4 352.8,519.9 353.9,520.9C355.1,522.0 355.7,524.6 355.2,525.7C354.7,526.8 352.8,527.4 351.1,527.7C349.4,527.9 346.4,527.9 345.0,527.4C343.5,526.8 342.7,525.5 342.4,524.3C342.1,523.1 342.0,521.2 343.1,520.4Z" fill="#ffffff" fill-opacity="0.8"/>
<path d="M332.8,486.8C333.9,486.0 335.8,486.5 336.3,487.3C336.9,488.2 336.7,490.2 336.0,491.8C335.4,493.4 333.6,495.0 332.5,496.9C331.4,498.7 330.9,501.9 329.6,503.0C328.3,504.1 325.5,504.4 324.8,503.6C324.2,502.7 325.0,499.9 325.8,498.0C326.6,496.0 328.4,493.7 329.6,491.8C330.8,490.0 331.7,487.5 332.8,486.8Z" fill="#dedede"/>
<path d="M348.2,489.0C349.5,487.9 354.4,487.9 357.1,487.6C359.9,487.3 362.7,486.9 364.8,487.1C367.0,487.2 368.6,487.3 369.9,488.5C371.3,489.6 371.4,492.5 373.1,493.8C374.8,495.1 378.4,495.0 380.2,496.3C382.0,497.6 383.6,499.8 384.0,501.3C384.4,502.9 383.8,504.8 382.7,505.8C381.7,506.8 379.5,506.7 377.6,507.5C375.7,508.3 373.4,510.7 371.2,510.9C369.1,511.0 366.5,510.0 364.8,508.6C363.1,507.3 362.7,504.4 361.0,502.7C359.3,501.1 356.5,499.9 354.6,498.5C352.7,497.2 350.5,496.2 349.5,494.6C348.4,493.0 346.9,490.2 348.2,489.0Z" fill="#dedede"/>
<path d="M348.2,489.0C349.5,487.9 354.4,487.9 357.1,487.6C359.9,487.3 362.7,486.9 364.8,487.1C367.0,487.2 368.6,487.3 369.9,488.5C371.3,489.6 371.4,492.5 373.1,493.8C374.8,495.1 378.4,495.0 380.2,496.3C382.0,497.6 383.6,499.8 384.0,501.3C384.4,502.9 383.8,504.8 382.7,505.8C381.7,506.8 379.5,506.7 377.6,507.5C375.7,508.3 373.4,510.7 371.2,510.9C369.1,511.0 366.5,510.0 364.8,508.6C363.1,507.3 362.7,504.4 361.0,502.7C359.3,501.1 356.5,499.9 354.6,498.5C352.7,497.2 350.5,496.2 349.5,494.6C348.4,493.0 346.9,490.2 348.2,489.0Z" fill="#fbdcb0" fill-opacity="0.6"/>
<path d="M329.6,481.5C329.6,480.9 333.6,479.7 335.4,478.7C337.2,477.6 339.2,476.1 340.5,475.0C341.8,473.9 342.5,471.8 343.4,471.9C344.2,472.0 344.6,474.1 345.6,475.6C346.7,477.0 350.2,479.6 349.8,480.6C349.4,481.6 345.5,481.5 343.1,481.7C340.7,482.0 337.6,482.1 335.4,482.0C333.1,482.0 329.6,482.0 329.6,481.5Z" fill="#dedede"/>
<path d="M329.6,481.5C329.6,480.9 333.6,479.7 335.4,478.7C337.2,477.6 339.2,476.1 340.5,475.0C341.8,473.9 342.5,471.8 343.4,471.9C344.2,472.0 344.6,474.1 345.6,475.6C346.7,477.0 350.2,479.6 349.8,480.6C349.4,481.6 345.5,481.5 343.1,481.7C340.7,482.0 337.6,482.1 335.4,482.0C333.1,482.0 329.6,482.0 329.6,481.5Z" fill="#fbd7a2" fill-opacity="0.3"/>
<path d="M339.2,464.4C339.5,463.2 340.9,462.0 342.4,461.3C343.9,460.6 346.2,460.1 348.2,460.2C350.2,460.2 352.7,460.7 354.6,461.6C356.4,462.5 359.2,464.6 359.4,465.5C359.6,466.4 357.3,466.4 355.9,466.9C354.4,467.4 352.2,467.7 350.7,468.3C349.2,468.9 348.0,469.8 346.9,470.5C345.8,471.3 345.2,472.5 344.3,472.8C343.5,473.1 342.4,473.0 341.8,472.2C341.1,471.5 340.9,469.6 340.5,468.3C340.1,467.0 338.9,465.5 339.2,464.4Z" fill="#dedede"/>
<path d="M339.2,464.4C339.5,463.2 340.9,462.0 342.4,461.3C343.9,460.6 346.2,460.1 348.2,460.2C350.2,460.2 352.7,460.7 354.6,461.6C356.4,462.5 359.2,464.6 359.4,465.5C359.6,466.4 357.3,466.4 355.9,466.9C354.4,467.4 352.2,467.7 350.7,468.3C349.2,468.9 348.0,469.8 346.9,470.5C345.8,471.3 345.2,472.5 344.3,472.8C343.5,473.1 342.4,473.0 341.8,472.2C341.1,471.5 340.9,469.6 340.5,468.3C340.1,467.0 338.9,465.5 339.2,464.4Z" fill="#fbd09a" fill-opacity="0.55"/>
<path d="M361.6,465.2C361.6,464.8 361.2,464.3 360.7,464.0C360.1,463.8 359.2,463.5 358.4,463.5C357.7,463.5 356.7,463.8 356.2,464.0C355.6,464.3 355.2,464.8 355.2,465.2C355.2,465.6 355.6,466.1 356.2,466.4C356.7,466.7 357.7,466.9 358.4,466.9C359.2,466.9 360.1,466.7 360.7,466.4C361.2,466.1 361.6,465.6 361.6,465.2Z" fill="#dedede"/>
<path d="M308.8,475.9C309.4,475.2 311.5,474.9 313.0,475.0C314.4,475.1 316.2,475.7 317.5,476.4C318.7,477.2 320.9,478.9 320.7,479.5C320.4,480.1 318.0,480.2 316.2,480.1C314.4,480.0 311.0,479.6 309.8,478.9C308.6,478.2 308.3,476.5 308.8,475.9Z" fill="#dedede"/>
<path d="M308.8,475.9C309.4,475.2 311.5,474.9 313.0,475.0C314.4,475.1 316.2,475.7 317.5,476.4C318.7,477.2 320.9,478.9 320.7,479.5C320.4,480.1 318.0,480.2 316.2,480.1C314.4,480.0 311.0,479.6 309.8,478.9C308.6,478.2 308.3,476.5 308.8,475.9Z" fill="#fbd09a" fill-opacity="0.6"/>
<path d="M314.7,485.1C314.7,484.7 314.5,484.1 314.2,483.9C313.9,483.7 313.3,483.7 313.1,483.9C312.8,484.1 312.5,484.7 312.5,485.1C312.5,485.5 312.8,486.1 313.1,486.3C313.3,486.5 313.9,486.5 314.2,486.3C314.5,486.1 314.7,485.5 314.7,485.1Z" fill="#dedede"/>
<path d="M360.3,473.9C360.7,473.9 361.1,476.1 361.6,476.7C362.2,477.3 362.5,477.2 363.5,477.5C364.6,477.9 367.5,478.4 367.7,478.9C367.9,479.5 365.9,480.5 364.8,480.6C363.7,480.8 361.9,480.4 361.0,479.8C360.1,479.1 359.5,477.7 359.4,476.7C359.3,475.7 360.0,473.9 360.3,473.9Z" fill="#dedede"/>
<path d="M295.2,499.4C295.2,498.9 295.0,498.2 294.7,497.8C294.4,497.4 293.8,497.0 293.3,496.9C292.8,496.7 292.2,496.7 291.7,496.9C291.2,497.0 290.6,497.4 290.3,497.8C290.0,498.2 289.8,498.9 289.8,499.4C289.8,499.9 290.0,500.5 290.3,500.9C290.6,501.4 291.2,501.7 291.7,501.9C292.2,502.1 292.8,502.1 293.3,501.9C293.8,501.7 294.4,501.4 294.7,500.9C295.0,500.5 295.2,499.9 295.2,499.4Z" fill="#dedede"/>
<path d="M295.2,499.4C295.2,498.9 295.0,498.2 294.7,497.8C294.4,497.4 293.8,497.0 293.3,496.9C292.8,496.7 292.2,496.7 291.7,496.9C291.2,497.0 290.6,497.4 290.3,497.8C290.0,498.2 289.8,498.9 289.8,499.4C289.8,499.9 290.0,500.5 290.3,500.9C290.6,501.4 291.2,501.7 291.7,501.9C292.2,502.1 292.8,502.1 293.3,501.9C293.8,501.7 294.4,501.4 294.7,500.9C295.0,500.5 295.2,499.9 295.2,499.4Z" fill="#fbcf95" fill-opacity="0.7"/>
<path d="M375.7,522.3C376.0,521.9 378.4,521.8 379.5,521.5C380.7,521.2 382.3,520.1 382.7,520.4C383.2,520.7 383.0,522.6 382.1,523.2C381.2,523.8 378.7,524.2 377.6,524.0C376.6,523.9 375.4,522.8 375.7,522.3Z" fill="#dedede"/>
<path d="M375.7,522.3C376.0,521.9 378.4,521.8 379.5,521.5C380.7,521.2 382.3,520.1 382.7,520.4C383.2,520.7 383.0,522.6 382.1,523.2C381.2,523.8 378.7,524.2 377.6,524.0C376.6,523.9 375.4,522.8 375.7,522.3Z" fill="#fbcf95" fill-opacity="0.5"/>
<path d="M302.1,522.6C302.1,522.4 301.7,522.2 301.3,522.0C300.8,521.9 299.9,521.8 299.2,521.8C298.5,521.8 297.7,521.9 297.2,522.0C296.7,522.2 296.3,522.4 296.3,522.6C296.3,522.8 296.7,523.1 297.2,523.2C297.7,523.4 298.5,523.5 299.2,523.5C299.9,523.5 300.8,523.4 301.3,523.2C301.7,523.1 302.1,522.8 302.1,522.6Z" fill="#dedede"/>
<path d="M306.6,536.6C307.3,535.6 309.4,535.1 311.1,534.4C312.7,533.7 315.0,532.4 316.5,532.4C318.0,532.4 320.0,533.4 320.3,534.4C320.7,535.4 318.7,536.9 318.7,538.3C318.8,539.7 321.1,541.9 320.7,542.8C320.2,543.7 317.7,543.9 316.2,543.6C314.7,543.4 313.3,541.9 311.7,541.4C310.1,540.9 307.4,541.3 306.6,540.5C305.7,539.7 305.8,537.6 306.6,536.6Z" fill="#dedede"/>
<path d="M341.1,541.7C341.7,540.7 344.3,539.6 346.3,539.1C348.2,538.7 350.6,538.6 352.7,538.9C354.7,539.1 357.4,539.6 358.4,540.5C359.5,541.5 359.6,543.2 359.1,544.5C358.5,545.7 356.9,547.5 355.2,547.8C353.5,548.1 350.8,546.9 348.8,546.4C346.8,545.9 344.3,545.5 343.1,544.7C341.8,543.9 340.6,542.6 341.1,541.7Z" fill="#dedede"/>
<path d="M332.2,547.3C332.7,547.2 336.0,548.8 337.9,549.2C339.9,549.6 341.7,549.4 343.7,549.5C345.7,549.6 348.8,549.3 350.1,550.1C351.4,550.8 352.1,552.9 351.7,554.0C351.3,555.1 349.1,556.5 347.5,556.8C346.0,557.1 343.8,556.7 342.4,555.9C341.0,555.2 340.5,553.4 339.2,552.3C337.9,551.2 335.9,550.3 334.7,549.5C333.6,548.7 331.6,547.3 332.2,547.3Z" fill="#dedede"/>
<path d="M326.1 502.5h0.8M331.7 492.2h0.8M333.4 495.0h0.8" stroke="#e0462a" stroke-width="0.9"/>
<path d="M330.9 491.8h0.8M326.6 499.3h0.8" stroke="#cf2a1c" stroke-width="0.9"/>
<path d="M332.0 495.0h0.8M331.8 493.5h0.8M331.7 493.0h0.8" stroke="#b81a12" stroke-width="0.9"/>
<path d="M363.0 496.0h0.8M370.2 498.3h0.8M372.1 496.7h0.8M372.3 509.3h0.8M383.3 502.8h0.8M379.3 496.8h0.8M364.7 504.1h0.8M375.9 497.0h0.8M366.5 490.0h0.8M364.9 491.6h0.8M367.4 503.1h0.8M362.3 488.2h0.8" stroke="#f38645" stroke-width="0.9"/>
<path d="M375.2 505.9h0.8M363.7 488.0h0.8M355.6 494.4h0.8M365.5 488.4h0.8M370.4 510.0h0.8M368.8 499.7h0.8M361.2 495.5h0.8M361.7 497.5h0.8M371.1 500.0h0.8M364.0 494.5h0.8M355.9 490.1h0.8M378.5 497.4h0.8M369.5 508.1h0.8" stroke="#fbc585" stroke-width="0.9"/>
<path d="M373.1 496.9h0.8M375.6 495.4h0.8M378.7 498.5h0.8M356.5 489.1h0.8M359.7 493.0h0.8M366.6 500.5h0.8M382.5 499.6h0.8M362.1 493.8h0.8M369.8 505.4h0.8M368.3 504.3h0.8M362.8 495.4h0.8M365.0 487.9h0.8M367.5 495.6h0.8M353.5 494.8h0.8M357.2 490.7h0.8M351.0 495.6h0.8M383.1 503.3h0.8M363.5 487.2h0.8" stroke="#ec6a35" stroke-width="0.9"/>
<path d="M360.2 496.7h0.8M361.6 495.9h0.8M375.4 502.5h0.8M355.9 494.9h0.8M374.3 506.7h0.8M381.1 502.8h0.8M354.4 489.6h0.8M379.7 503.7h0.8M380.1 505.2h0.8M350.0 492.8h0.8M365.3 502.5h0.8M364.6 507.8h0.8M364.0 496.7h0.8M370.3 497.7h0.8" stroke="#fcd29a" stroke-width="0.9"/>
<path d="M372.3 504.7h0.8M363.9 500.4h0.8M376.6 505.8h0.8M365.1 494.7h0.8M376.4 499.0h0.8M367.2 505.3h0.8M382.4 505.4h0.8M369.8 496.6h0.8M371.6 505.9h0.8M351.2 494.3h0.8M366.4 498.0h0.8M363.8 493.7h0.8" stroke="#fde3b5" stroke-width="0.9"/>
<path d="M369.8 493.9h0.8M380.2 501.3h0.8M358.6 491.6h0.8M365.6 496.4h0.8M349.3 489.5h0.8M361.6 496.6h0.8M350.5 490.7h0.8M374.2 499.4h0.8M363.8 501.9h0.8" stroke="#f8a262" stroke-width="0.9"/>
<path d="M362.4 499.0h0.8M352.1 490.3h0.8M373.3 495.4h0.8M356.6 487.9h0.8M372.3 496.4h0.8M367.8 503.0h0.8M372.8 498.1h0.8M369.5 505.3h0.8M364.6 497.9h0.8M368.4 492.0h0.8M351.5 491.7h0.8M362.6 495.6h0.8" stroke="#e0462a" stroke-width="0.9"/>
<path d="M345.1 478.0h0.8M341.9 475.0h0.8M343.9 477.8h0.8" stroke="#f8a262" stroke-width="0.9"/>
<path d="M343.5 481.4h0.8M344.9 478.1h0.8M342.1 475.5h0.8" stroke="#f38645" stroke-width="0.9"/>
<path d="M338.0 479.8h0.8M337.9 480.8h0.8" stroke="#ec6a35" stroke-width="0.9"/>
<path d="M349.5 467.5h0.8M348.9 466.9h0.8M358.1 464.5h0.8M344.8 466.5h0.8M346.7 469.2h0.8M353.4 462.2h0.8M353.7 466.4h0.8M342.8 465.9h0.8" stroke="#f38645" stroke-width="0.9"/>
<path d="M346.5 464.2h0.8M345.6 464.9h0.8M343.6 469.7h0.8M354.1 464.6h0.8" stroke="#ec6a35" stroke-width="0.9"/>
<path d="M347.2 469.2h0.8M356.3 463.3h0.8M346.9 463.0h0.8M342.8 463.7h0.8M341.6 463.3h0.8M354.4 465.0h0.8" stroke="#fcd29a" stroke-width="0.9"/>
<path d="M355.1 465.0h0.8M346.1 463.8h0.8M348.5 465.4h0.8M345.7 469.4h0.8" stroke="#fbc585" stroke-width="0.9"/>
<path d="M350.9 467.3h0.8M342.1 470.8h0.8M343.4 462.3h0.8M352.5 462.1h0.8" stroke="#f8a262" stroke-width="0.9"/>
<path d="M345.3 465.4h0.8M348.7 465.4h0.8M348.8 463.4h0.8M346.3 464.7h0.8" stroke="#fde3b5" stroke-width="0.9"/>
<path d="M312.5 478.6h0.8M311.2 476.7h0.8" stroke="#fde3b5" stroke-width="0.9"/>
<path d="M312.9 477.9h0.8M313.2 476.3h0.8" stroke="#fbc585" stroke-width="0.9"/>
<path d="M313.7 479.3h0.8" stroke="#ec6a35" stroke-width="0.9"/>
<path d="M312.4 478.3h0.8" stroke="#fcd29a" stroke-width="0.9"/>
<path d="M364.1 478.3h0.8" stroke="#ec6a35" stroke-width="0.9"/>
<path d="M363.0 478.8h0.8M361.6 476.8h0.8" stroke="#b81a12" stroke-width="0.9"/>
<path d="M360.5 478.7h0.8M361.1 476.8h0.8M360.8 475.3h0.8" stroke="#f38645" stroke-width="0.9"/>
<path d="M361.5 477.1h0.8M363.0 479.9h0.8M360.5 477.3h0.8" stroke="#f8a262" stroke-width="0.9"/>
<path d="M364.7 479.3h0.8M365.8 480.0h0.8" stroke="#e0462a" stroke-width="0.9"/>
<path d="M360.7 478.5h0.8M360.7 478.5h0.8M361.1 476.4h0.8M360.2 474.5h0.8M363.9 478.5h0.8" stroke="#cf2a1c" stroke-width="0.9"/>
<path d="M291.1 500.4h0.8M291.8 500.8h0.8" stroke="#fbc585" stroke-width="0.9"/>
<path d="M293.5 499.7h0.8" stroke="#fcd29a" stroke-width="0.9"/>
<path d="M377.9 523.6h0.8" stroke="#f8a262" stroke-width="0.9"/>
<path d="M376.5 522.2h0.8" stroke="#f38645" stroke-width="0.9"/>
<path d="M380.8 521.3h0.8M379.7 522.4h0.8" stroke="#ec6a35" stroke-width="0.9"/>
<path d="M299.7 522.6h0.8" stroke="#fcd29a" stroke-width="0.9"/>
<path d="M301.7 522.4h0.8" stroke="#fbc585" stroke-width="0.9"/>
<path d="M356.6 544.7h0.8M350.7 542.6h0.8" stroke="#b81a12" stroke-width="0.9"/>
<path d="M343.8 544.6h0.8" stroke="#cf2a1c" stroke-width="0.9"/>
<path d="M353.5 542.4h0.8" stroke="#e0462a" stroke-width="0.9"/>
<path d="M326.4,506.1C326.8,505.0 329.1,503.7 330.9,502.7C332.7,501.8 335.2,500.7 337.3,500.2C339.4,499.7 341.8,499.2 343.7,499.7C345.6,500.1 348.1,501.5 348.8,503.0C349.6,504.5 349.0,507.2 348.2,508.6C347.3,510.0 345.3,511.3 343.7,511.4C342.1,511.5 340.3,509.4 338.6,509.2C336.9,509.0 335.2,510.3 333.5,510.3C331.8,510.3 329.5,509.9 328.3,509.2C327.2,508.5 326.0,507.2 326.4,506.1Z" fill="#e4602e" fill-opacity="0.75"/>
<path d="M328.4 508.7h0.8M344.9 505.3h0.8M328.9 508.5h0.8M334.5 506.9h0.8M335.9 509.5h0.8M338.0 501.4h0.8M336.2 509.1h0.8M333.0 508.4h0.8M330.2 503.3h0.8M337.0 505.8h0.8M342.1 504.4h0.8M335.2 503.6h0.8M339.0 500.6h0.8M343.8 509.1h0.8M334.2 508.1h0.8M348.3 505.4h0.8M341.0 500.5h0.8M328.7 509.0h0.8M330.8 506.3h0.8" stroke="#b81a12" stroke-width="0.9"/>
<path d="M333.6 503.6h0.8M344.1 509.2h0.8M332.0 505.1h0.8M345.8 509.6h0.8M331.3 506.1h0.8M330.7 505.1h0.8M336.2 507.4h0.8M344.8 500.4h0.8M336.3 508.1h0.8M342.3 507.5h0.8M328.9 508.4h0.8M342.1 502.2h0.8M331.6 508.5h0.8M340.4 503.0h0.8M336.8 506.5h0.8M334.9 502.7h0.8M332.9 503.4h0.8M333.8 509.8h0.8M344.1 504.3h0.8M335.7 500.9h0.8M346.4 503.3h0.8" stroke="#e0462a" stroke-width="0.9"/>
<path d="M338.1 500.4h0.8M328.6 506.8h0.8M334.1 503.7h0.8M333.5 508.1h0.8M343.7 506.8h0.8M345.7 510.1h0.8M333.8 501.7h0.8M346.7 506.7h0.8M348.0 503.5h0.8M335.7 501.1h0.8M334.8 507.6h0.8M343.8 505.4h0.8M342.6 504.0h0.8M335.8 505.1h0.8M345.1 502.9h0.8M343.9 510.3h0.8M343.3 504.4h0.8M333.1 509.2h0.8" stroke="#cf2a1c" stroke-width="0.9"/>
<path d="M339.6 501.6h0.8M343.8 505.3h0.8M342.4 507.1h0.8M348.2 506.0h0.8M337.6 507.4h0.8M334.1 504.0h0.8M336.1 508.2h0.8M329.8 506.8h0.8M345.9 506.3h0.8M331.3 505.1h0.8M331.4 509.7h0.8M333.7 502.7h0.8M343.0 506.5h0.8M334.2 502.5h0.8M331.8 508.1h0.8M345.0 505.9h0.8M342.2 502.2h0.8M346.4 502.4h0.8M336.7 507.3h0.8M340.2 507.1h0.8M342.0 502.8h0.8M331.8 509.8h0.8M340.7 507.6h0.8M342.5 510.1h0.8M345.2 504.8h0.8M332.3 504.2h0.8M337.6 501.0h0.8M338.7 504.6h0.8M328.2 506.0h0.8M338.8 504.1h0.8M331.2 505.7h0.8M334.0 505.9h0.8" stroke="#a80f0f" stroke-width="0.9"/>
<path d="M344.9 509.7h0.8M329.1 508.9h0.8M347.0 504.7h0.8M341.7 502.9h0.8M327.7 507.8h0.8M331.3 507.8h0.8M332.2 507.8h0.8M344.4 510.5h0.8M347.6 507.1h0.8" stroke="#ec6a35" stroke-width="0.9"/>
<path d="M344.9 508.4h0.8M346.8 507.4h0.8M339.7 500.2h0.8M330.4 508.7h0.8M343.5 501.7h0.8M347.1 505.5h0.8M327.1 506.8h0.8M339.4 503.8h0.8M339.2 509.2h0.8M340.4 503.1h0.8M347.5 506.4h0.8M341.9 509.5h0.8" stroke="#f38645" stroke-width="0.9"/>
<path d="M344.0 508.2h0.8M338.6 503.9h0.8M339.8 505.4h0.8M341.0 501.1h0.8M333.6 508.7h0.8M331.8 506.4h0.8M345.6 508.4h0.8M344.7 506.9h0.8M329.1 507.1h0.8" stroke="#f8a262" stroke-width="0.9"/>
<path d="M321.1 502.1h0.8M314.6 506.5h0.8M326.1 504.6h0.8M323.3 503.8h0.8M318.0 503.1h0.8M324.0 505.0h0.8" stroke="#b81a12" stroke-width="0.9"/>
<path d="M320.5 502.9h0.8M314.2 507.1h0.8M316.4 506.4h0.8M320.9 501.6h0.8" stroke="#f8a262" stroke-width="0.9"/>
<path d="M325.8 504.7h0.8M325.1 502.5h0.8M321.6 503.1h0.8M324.8 505.4h0.8" stroke="#f38645" stroke-width="0.9"/>
<path d="M315.1 506.7h0.8" stroke="#ec6a35" stroke-width="0.9"/>
<path d="M323.7 504.3h0.8M319.0 505.1h0.8" stroke="#cf2a1c" stroke-width="0.9"/>
<path d="M315.3 507.2h0.8" stroke="#e0462a" stroke-width="0.9"/>
<text x="341.40" y="460.50" font-size="10.3" text-anchor="middle" fill="#1a1a1a">Tumor</text>
<line x1="286.80" y1="457.50" x2="286.80" y2="561.80" stroke="#555" stroke-width="0.8"/>
<line x1="286.80" y1="561.80" x2="388.00" y2="561.80" stroke="#555" stroke-width="0.8"/>
<line x1="285.30" y1="479.50" x2="286.80" y2="479.50" stroke="#555" stroke-width="0.6"/>
<text x="285.00" y="481.60" font-size="6" text-anchor="end" fill="#444">10</text>
<line x1="285.30" y1="507.50" x2="286.80" y2="507.50" stroke="#555" stroke-width="0.6"/>
<text x="285.00" y="509.60" font-size="6" text-anchor="end" fill="#444">0</text>
<line x1="285.30" y1="535.50" x2="286.80" y2="535.50" stroke="#555" stroke-width="0.6"/>
<text x="285.00" y="537.60" font-size="6" text-anchor="end" fill="#444">-10</text>
<line x1="308.50" y1="561.80" x2="308.50" y2="563.30" stroke="#555" stroke-width="0.6"/>
<text x="308.50" y="568.20" font-size="6" text-anchor="middle" fill="#444">-10</text>
<line x1="340.50" y1="561.80" x2="340.50" y2="563.30" stroke="#555" stroke-width="0.6"/>
<text x="340.50" y="568.20" font-size="6" text-anchor="middle" fill="#444">0</text>
<line x1="372.50" y1="561.80" x2="372.50" y2="563.30" stroke="#555" stroke-width="0.6"/>
<text x="372.50" y="568.20" font-size="6" text-anchor="middle" fill="#444">10</text>
<text x="337.10" y="574.00" font-size="5.9" text-anchor="middle" font-weight="bold" fill="#111">UMAP1</text>
<text transform="translate(277.20 508.50) rotate(-90)" font-size="5.9" font-weight="bold" text-anchor="middle" fill="#111">UMAP2</text>
<linearGradient id="cbTum" x1="0" x2="1" y1="0" y2="0"><stop offset="0" stop-color="#fff7e6"/><stop offset="0.3" stop-color="#fdd49e"/><stop offset="0.6" stop-color="#f3844e"/><stop offset="0.85" stop-color="#d7301f"/><stop offset="1" stop-color="#8f0000"/></linearGradient>
<rect x="323.30" y="578.00" width="49.20" height="4.60" fill="url(#cbTum)"/>
<text x="303.00" y="584.20" font-size="5.9" fill="#222">HMGA1</text>
<text x="322.5" y="586.4" font-size="4.2" fill="#222">0</text>
<text x="335.34" y="587.00" font-size="4.6" text-anchor="middle" fill="#333">1</text>
<text x="345.39" y="587.00" font-size="4.6" text-anchor="middle" fill="#333">2</text>
<text x="355.43" y="587.00" font-size="4.6" text-anchor="middle" fill="#333">3</text>
<text x="365.48" y="587.00" font-size="4.6" text-anchor="middle" fill="#333">4</text>
<text x="409.10" y="460.20" font-size="17" font-weight="bold">G</text>
<text x="471.90" y="467.50" font-size="10.2" text-anchor="middle" fill="#1a1a1a">Epithelial</text>
<line x1="408.30" y1="476.00" x2="408.30" y2="561.80" stroke="#555" stroke-width="0.7"/>
<line x1="408.30" y1="561.80" x2="533.80" y2="561.80" stroke="#555" stroke-width="0.7"/>
<line x1="407.10" y1="557.00" x2="408.30" y2="557.00" stroke="#555" stroke-width="0.5"/>
<text x="406.50" y="558.30" font-size="3.6" text-anchor="end" fill="#444">0</text>
<line x1="407.10" y1="540.25" x2="408.30" y2="540.25" stroke="#555" stroke-width="0.5"/>
<text x="406.50" y="541.55" font-size="3.6" text-anchor="end" fill="#444">1</text>
<line x1="407.10" y1="523.50" x2="408.30" y2="523.50" stroke="#555" stroke-width="0.5"/>
<text x="406.50" y="524.80" font-size="3.6" text-anchor="end" fill="#444">2</text>
<line x1="407.10" y1="506.75" x2="408.30" y2="506.75" stroke="#555" stroke-width="0.5"/>
<text x="406.50" y="508.05" font-size="3.6" text-anchor="end" fill="#444">3</text>
<line x1="407.10" y1="490.00" x2="408.30" y2="490.00" stroke="#555" stroke-width="0.5"/>
<text x="406.50" y="491.30" font-size="3.6" text-anchor="end" fill="#444">4</text>
<text transform="translate(402.2 516) rotate(-90)" font-size="3.8" font-weight="bold" text-anchor="middle" fill="#111">HMGA1</text>
<line x1="431.30" y1="499.21" x2="431.30" y2="557.00" stroke="#7a8e96" stroke-width="0.45"/>
<path d="M414.5,557.3 Q431.3,555.8 448.8,557.3 Q431.3,557.9 414.5,557.3Z" fill="#6c8a98"/>
<line x1="414.50" y1="557.20" x2="448.80" y2="557.20" stroke="#5b7d8a" stroke-width="0.9"/>
<line x1="471.30" y1="503.40" x2="471.30" y2="557.00" stroke="#c89078" stroke-width="0.45"/>
<path d="M471.1,552.0 L471.6,552.0 L472.5,556.5 L488,557.2 L471.3,557.8 L453.8,557.2 L470.1,556.5Z" fill="#b8592a"/>
<line x1="453.80" y1="557.20" x2="488.00" y2="557.20" stroke="#b8592a" stroke-width="0.9"/>
<path d="M510.80,478.27 L510.85,479.11 L511.10,490.00 L511.70,498.38 L512.50,506.75 L513.50,515.12 L514.30,523.50 L514.80,531.88 L514.70,536.90 L514.00,541.92 L513.00,546.95 L512.80,549.97 L514.60,552.81 L520.30,554.99 L528.30,556.50 L528.60,557.00 L493.00,557.00 L493.30,556.50 L501.30,554.99 L507.00,552.81 L508.80,549.97 L508.60,546.95 L507.60,541.92 L506.90,536.90 L506.80,531.88 L507.30,523.50 L508.10,515.12 L509.10,506.75 L509.90,498.38 L510.50,490.00 L510.75,479.11 Z" fill="#b5582a"/>
<text transform="translate(433.1 565.0) rotate(-45)" font-size="4.8" text-anchor="end" fill="#555">AdjNormal</text>
<text transform="translate(473.1 565.0) rotate(-45)" font-size="4.8" text-anchor="end" fill="#555">Healthy</text>
<text transform="translate(512.6 565.0) rotate(-45)" font-size="4.8" text-anchor="end" fill="#555">Tumor</text>
<text x="471.30" y="584.50" font-size="4.2" text-anchor="middle" font-weight="bold" fill="#111">DiseaseState</text>
<text x="529.90" y="460.60" font-size="17" font-weight="bold">H</text>
<text x="603.20" y="442.50" font-size="9.3" text-anchor="middle" fill="#222">HMGA1</text>
<line x1="569.50" y1="453.80" x2="569.50" y2="573.80" stroke="#bdbdbd" stroke-width="0.8"/>
<line x1="569.50" y1="573.80" x2="636.50" y2="573.80" stroke="#bdbdbd" stroke-width="0.8"/>
<rect x="568.60" y="555.50" width="1.80" height="18.30" fill="#cfcfcf"/>
<line x1="567.70" y1="567.00" x2="569.50" y2="567.00" stroke="#9a9a9a" stroke-width="0.6"/>
<text transform="translate(565.2 567.00) rotate(-90)" font-size="7.2" text-anchor="middle" fill="#333">0</text>
<line x1="567.70" y1="547.10" x2="569.50" y2="547.10" stroke="#9a9a9a" stroke-width="0.6"/>
<text transform="translate(565.2 547.10) rotate(-90)" font-size="7.2" text-anchor="middle" fill="#333">2</text>
<line x1="567.70" y1="527.20" x2="569.50" y2="527.20" stroke="#9a9a9a" stroke-width="0.6"/>
<text transform="translate(565.2 527.20) rotate(-90)" font-size="7.2" text-anchor="middle" fill="#333">4</text>
<line x1="567.70" y1="507.30" x2="569.50" y2="507.30" stroke="#9a9a9a" stroke-width="0.6"/>
<text transform="translate(565.2 507.30) rotate(-90)" font-size="7.2" text-anchor="middle" fill="#333">6</text>
<line x1="567.70" y1="487.40" x2="569.50" y2="487.40" stroke="#9a9a9a" stroke-width="0.6"/>
<text transform="translate(565.2 487.40) rotate(-90)" font-size="7.2" text-anchor="middle" fill="#333">8</text>
<line x1="567.70" y1="467.50" x2="569.50" y2="467.50" stroke="#9a9a9a" stroke-width="0.6"/>
<text transform="translate(565.2 467.50) rotate(-90)" font-size="7.2" text-anchor="middle" fill="#333">10</text>
<text transform="translate(554.2 516) rotate(-90)" font-size="8.0" text-anchor="middle" fill="#222">Expression level</text>
<text x="592.40" y="583.20" font-size="7.6" text-anchor="middle" fill="#222">Healthy</text>
<text x="619.40" y="583.20" font-size="7.6" text-anchor="middle" fill="#222">Tumor</text>
<line x1="592.80" y1="573.80" x2="592.80" y2="575.60" stroke="#9a9a9a" stroke-width="0.6"/>
<line x1="616.50" y1="573.80" x2="616.50" y2="575.60" stroke="#9a9a9a" stroke-width="0.6"/>
<line x1="586.00" y1="567.50" x2="603.20" y2="567.50" stroke="#1a1a1a" stroke-width="0.9"/>
<line x1="607.80" y1="567.50" x2="625.20" y2="567.50" stroke="#1a1a1a" stroke-width="0.9"/>
<line x1="594.60" y1="519.24" x2="594.60" y2="541.13" stroke="#444" stroke-width="0.45"/>
<line x1="591.50" y1="519.24" x2="597.70" y2="519.24" stroke="#555" stroke-width="0.4"/>
<line x1="591.50" y1="541.13" x2="597.70" y2="541.13" stroke="#555" stroke-width="0.4"/>
<rect x="585.80" y="527.70" width="17.70" height="6.47" fill="#d4d4d4" stroke="#555" stroke-width="0.5"/>
<line x1="585.80" y1="530.68" x2="603.50" y2="530.68" stroke="#222" stroke-width="0.8"/>
<rect x="607.80" y="488.39" width="17.50" height="11.94" fill="#c8662e" stroke="#6a3a20" stroke-width="0.5"/>
<line x1="607.80" y1="494.86" x2="625.30" y2="494.86" stroke="#3a2010" stroke-width="0.8"/>
<line x1="616.50" y1="473.47" x2="616.50" y2="516.25" stroke="#444" stroke-width="0.45"/>
<line x1="613.00" y1="473.47" x2="620.00" y2="473.47" stroke="#555" stroke-width="0.4"/>
<line x1="613.00" y1="516.25" x2="620.00" y2="516.25" stroke="#555" stroke-width="0.4"/>
<path d="M592.8,536.0h0.6M590.9,527.7h0.6M591.0,531.3h0.6M594.9,525.8h0.6M593.8,524.6h0.6M594.1,528.9h0.6M594.8,534.0h0.6M594.0,536.3h0.6M594.7,527.6h0.6M598.1,532.5h0.6M593.7,530.4h0.6M593.8,530.0h0.6M594.0,532.4h0.6M594.6,521.6h0.6M595.7,529.9h0.6M594.2,521.7h0.6M598.6,533.5h0.6M594.0,537.2h0.6M598.3,527.7h0.6M590.7,534.9h0.6M593.8,527.7h0.6M595.3,532.4h0.6M595.1,529.7h0.6M596.7,532.6h0.6M594.7,523.9h0.6M595.8,532.7h0.6M592.9,528.5h0.6M596.3,532.7h0.6M594.1,531.1h0.6M594.5,529.7h0.6M591.5,530.7h0.6M594.9,522.8h0.6M596.2,534.6h0.6M594.6,529.3h0.6M598.2,526.0h0.6M597.1,528.2h0.6M593.0,521.0h0.6M595.8,533.0h0.6M594.2,538.3h0.6M596.3,524.9h0.6M591.6,528.1h0.6M595.5,520.2h0.6M595.4,527.2h0.6M592.3,538.4h0.6M597.7,536.1h0.6M594.2,534.4h0.6M595.5,531.8h0.6M595.0,528.4h0.6M589.6,536.3h0.6M595.0,529.9h0.6M596.5,517.2h0.6M594.7,512.3h0.6M594.2,508.3h0.6M593.5,504.3h0.6M595.0,501.3h0.6M595.9,518.2h0.6M594.4,521.2h0.6M616.8,498.0h0.6M616.3,493.4h0.6M616.6,512.4h0.6M618.6,485.5h0.6M615.7,483.3h0.6M615.7,494.4h0.6M616.9,500.0h0.6M615.3,491.2h0.6M618.5,528.0h0.6M612.6,480.7h0.6M617.1,505.3h0.6M614.5,496.7h0.6M618.3,497.7h0.6M617.9,490.1h0.6M616.2,472.7h0.6M615.0,502.7h0.6M617.2,497.4h0.6M619.6,497.5h0.6M615.2,489.7h0.6M613.5,491.9h0.6M614.0,499.9h0.6M614.8,494.8h0.6M615.1,497.4h0.6M616.8,510.6h0.6M615.1,498.1h0.6M615.6,483.1h0.6M616.4,496.6h0.6M616.1,501.9h0.6M614.7,500.1h0.6M614.1,490.1h0.6M614.9,492.9h0.6M614.2,504.4h0.6M615.0,491.4h0.6M613.5,485.4h0.6M611.9,504.6h0.6M615.9,484.9h0.6M616.3,500.7h0.6M612.9,484.4h0.6M616.9,509.0h0.6M613.6,498.1h0.6M619.3,488.0h0.6M615.2,506.9h0.6M617.7,506.4h0.6M614.0,493.4h0.6M616.1,495.8h0.6M615.1,459.5h0.6M616.3,465.5h0.6M617.1,468.5h0.6M615.4,522.2h0.6M617.2,527.2h0.6M617.0,539.1h0.6M614.7,471.5h0.6" stroke="#222" stroke-width="0.7"/>
<path d="M594.6,500.3 V454.3 H616.5 V458.5" fill="none" stroke="#444" stroke-width="0.45"/>
<text x="605.60" y="458.60" font-size="8.5" text-anchor="middle" fill="#111">*</text>
<text x="13.30" y="615.35" font-size="17" font-weight="bold">I</text>
<text x="56.80" y="626.60" font-size="7.6" text-anchor="middle" fill="#222">HMGA1</text>
<line x1="26.30" y1="641.00" x2="26.30" y2="735.00" stroke="#555" stroke-width="1.1"/>
<line x1="25.80" y1="734.40" x2="87.10" y2="734.40" stroke="#555" stroke-width="1.1"/>
<line x1="23.70" y1="734.40" x2="26.30" y2="734.40" stroke="#555" stroke-width="1.0"/>
<text x="22.40" y="736.90" font-size="7.0" text-anchor="end" fill="#333">8</text>
<line x1="23.70" y1="722.79" x2="26.30" y2="722.79" stroke="#555" stroke-width="1.0"/>
<text x="22.40" y="725.29" font-size="7.0" text-anchor="end" fill="#333">9</text>
<line x1="23.70" y1="711.17" x2="26.30" y2="711.17" stroke="#555" stroke-width="1.0"/>
<text x="22.40" y="713.67" font-size="7.0" text-anchor="end" fill="#333">10</text>
<line x1="23.70" y1="699.56" x2="26.30" y2="699.56" stroke="#555" stroke-width="1.0"/>
<text x="22.40" y="702.06" font-size="7.0" text-anchor="end" fill="#333">11</text>
<line x1="23.70" y1="687.95" x2="26.30" y2="687.95" stroke="#555" stroke-width="1.0"/>
<text x="22.40" y="690.45" font-size="7.0" text-anchor="end" fill="#333">12</text>
<line x1="23.70" y1="676.34" x2="26.30" y2="676.34" stroke="#555" stroke-width="1.0"/>
<text x="22.40" y="678.84" font-size="7.0" text-anchor="end" fill="#333">13</text>
<line x1="23.70" y1="664.73" x2="26.30" y2="664.73" stroke="#555" stroke-width="1.0"/>
<text x="22.40" y="667.23" font-size="7.0" text-anchor="end" fill="#333">14</text>
<line x1="23.70" y1="653.11" x2="26.30" y2="653.11" stroke="#555" stroke-width="1.0"/>
<text x="22.40" y="655.61" font-size="7.0" text-anchor="end" fill="#333">15</text>
<line x1="23.70" y1="641.50" x2="26.30" y2="641.50" stroke="#555" stroke-width="1.0"/>
<text x="22.40" y="644.00" font-size="7.0" text-anchor="end" fill="#333">16</text>
<line x1="44.10" y1="734.40" x2="44.10" y2="737.00" stroke="#555" stroke-width="0.9"/>
<line x1="69.90" y1="734.40" x2="69.90" y2="737.00" stroke="#555" stroke-width="0.9"/>
<text x="44.10" y="747.20" font-size="7.7" text-anchor="middle" fill="#333">wt</text>
<text x="69.90" y="747.20" font-size="7.8" text-anchor="middle" fill="#333">missense</text>
<text x="58.00" y="758.40" font-size="7.6" text-anchor="middle" fill="#333">TP53 mutations</text>
<text transform="translate(6.50 688.5) rotate(-90)" font-size="7.4" text-anchor="middle" fill="#333">HMGA1 mRNA expression log2(value+1)</text>
<line x1="45.20" y1="648.10" x2="69.50" y2="648.10" stroke="#222" stroke-width="0.9"/>
<text x="57.35" y="646.50" font-size="8.4" text-anchor="middle" fill="#222">****</text>
<circle cx="44.10" cy="728.01" r="1.05" fill="#b9dba8" stroke="#6cb552" stroke-width="0.75"/>
<circle cx="45.90" cy="726.50" r="1.05" fill="#b9dba8" stroke="#6cb552" stroke-width="0.75"/>
<circle cx="42.30" cy="726.46" r="1.05" fill="#b9dba8" stroke="#6cb552" stroke-width="0.75"/>
<circle cx="44.10" cy="723.74" r="1.05" fill="#b9dba8" stroke="#6cb552" stroke-width="0.75"/>
<circle cx="46.80" cy="723.67" r="1.05" fill="#b9dba8" stroke="#6cb552" stroke-width="0.75"/>
<circle cx="42.30" cy="722.29" r="1.05" fill="#b9dba8" stroke="#6cb552" stroke-width="0.75"/>
<circle cx="45.00" cy="721.25" r="1.05" fill="#b9dba8" stroke="#6cb552" stroke-width="0.75"/>
<circle cx="47.70" cy="720.85" r="1.05" fill="#b9dba8" stroke="#6cb552" stroke-width="0.75"/>
<circle cx="43.20" cy="719.30" r="1.05" fill="#b9dba8" stroke="#6cb552" stroke-width="0.75"/>
<circle cx="44.10" cy="716.06" r="1.05" fill="#b9dba8" stroke="#6cb552" stroke-width="0.75"/>
<circle cx="45.90" cy="714.48" r="1.05" fill="#b9dba8" stroke="#6cb552" stroke-width="0.75"/>
<circle cx="43.20" cy="713.29" r="1.05" fill="#b9dba8" stroke="#6cb552" stroke-width="0.75"/>
<circle cx="45.90" cy="712.17" r="1.05" fill="#b9dba8" stroke="#6cb552" stroke-width="0.75"/>
<circle cx="40.50" cy="712.13" r="1.05" fill="#b9dba8" stroke="#6cb552" stroke-width="0.75"/>
<circle cx="44.10" cy="709.53" r="1.05" fill="#b9dba8" stroke="#6cb552" stroke-width="0.75"/>
<circle cx="46.80" cy="708.94" r="1.05" fill="#b9dba8" stroke="#6cb552" stroke-width="0.75"/>
<circle cx="45.00" cy="707.51" r="1.05" fill="#b9dba8" stroke="#6cb552" stroke-width="0.75"/>
<circle cx="42.30" cy="707.34" r="1.05" fill="#b9dba8" stroke="#6cb552" stroke-width="0.75"/>
<circle cx="48.60" cy="707.07" r="1.05" fill="#b9dba8" stroke="#6cb552" stroke-width="0.75"/>
<circle cx="39.60" cy="706.77" r="1.05" fill="#b9dba8" stroke="#6cb552" stroke-width="0.75"/>
<circle cx="46.80" cy="705.64" r="1.05" fill="#b9dba8" stroke="#6cb552" stroke-width="0.75"/>
<circle cx="44.10" cy="704.83" r="1.05" fill="#b9dba8" stroke="#6cb552" stroke-width="0.75"/>
<circle cx="41.40" cy="704.10" r="1.05" fill="#b9dba8" stroke="#6cb552" stroke-width="0.75"/>
<circle cx="45.90" cy="703.30" r="1.05" fill="#b9dba8" stroke="#6cb552" stroke-width="0.75"/>
<circle cx="43.20" cy="702.41" r="1.05" fill="#b9dba8" stroke="#6cb552" stroke-width="0.75"/>
<circle cx="48.60" cy="702.25" r="1.05" fill="#b9dba8" stroke="#6cb552" stroke-width="0.75"/>
<circle cx="40.50" cy="701.35" r="1.05" fill="#b9dba8" stroke="#6cb552" stroke-width="0.75"/>
<circle cx="45.00" cy="701.06" r="1.05" fill="#b9dba8" stroke="#6cb552" stroke-width="0.75"/>
<circle cx="50.40" cy="700.79" r="1.05" fill="#b9dba8" stroke="#6cb552" stroke-width="0.75"/>
<circle cx="37.80" cy="700.56" r="1.05" fill="#b9dba8" stroke="#6cb552" stroke-width="0.75"/>
<circle cx="47.70" cy="700.19" r="1.05" fill="#b9dba8" stroke="#6cb552" stroke-width="0.75"/>
<circle cx="43.20" cy="699.68" r="1.05" fill="#b9dba8" stroke="#6cb552" stroke-width="0.75"/>
<circle cx="39.60" cy="699.24" r="1.05" fill="#b9dba8" stroke="#6cb552" stroke-width="0.75"/>
<circle cx="45.90" cy="698.61" r="1.05" fill="#b9dba8" stroke="#6cb552" stroke-width="0.75"/>
<circle cx="49.50" cy="698.51" r="1.05" fill="#b9dba8" stroke="#6cb552" stroke-width="0.75"/>
<circle cx="36.90" cy="698.12" r="1.05" fill="#b9dba8" stroke="#6cb552" stroke-width="0.75"/>
<circle cx="41.40" cy="697.83" r="1.05" fill="#b9dba8" stroke="#6cb552" stroke-width="0.75"/>
<circle cx="45.68" cy="697.80" r="1.05" fill="#b9dba8" stroke="#6cb552" stroke-width="0.75"/>
<circle cx="40.65" cy="697.52" r="1.05" fill="#b9dba8" stroke="#6cb552" stroke-width="0.75"/>
<circle cx="38.85" cy="697.41" r="1.05" fill="#b9dba8" stroke="#6cb552" stroke-width="0.75"/>
<circle cx="47.70" cy="696.64" r="1.05" fill="#b9dba8" stroke="#6cb552" stroke-width="0.75"/>
<circle cx="43.20" cy="696.41" r="1.05" fill="#b9dba8" stroke="#6cb552" stroke-width="0.75"/>
<circle cx="45.90" cy="695.40" r="1.05" fill="#b9dba8" stroke="#6cb552" stroke-width="0.75"/>
<circle cx="49.50" cy="695.39" r="1.05" fill="#b9dba8" stroke="#6cb552" stroke-width="0.75"/>
<circle cx="41.40" cy="694.94" r="1.05" fill="#b9dba8" stroke="#6cb552" stroke-width="0.75"/>
<circle cx="38.70" cy="694.91" r="1.05" fill="#b9dba8" stroke="#6cb552" stroke-width="0.75"/>
<circle cx="47.21" cy="694.75" r="1.05" fill="#b9dba8" stroke="#6cb552" stroke-width="0.75"/>
<circle cx="44.10" cy="693.41" r="1.05" fill="#b9dba8" stroke="#6cb552" stroke-width="0.75"/>
<circle cx="49.50" cy="693.07" r="1.05" fill="#b9dba8" stroke="#6cb552" stroke-width="0.75"/>
<circle cx="46.80" cy="692.23" r="1.05" fill="#b9dba8" stroke="#6cb552" stroke-width="0.75"/>
<circle cx="42.30" cy="691.54" r="1.05" fill="#b9dba8" stroke="#6cb552" stroke-width="0.75"/>
<circle cx="39.60" cy="691.16" r="1.05" fill="#b9dba8" stroke="#6cb552" stroke-width="0.75"/>
<circle cx="44.10" cy="690.26" r="1.05" fill="#b9dba8" stroke="#6cb552" stroke-width="0.75"/>
<circle cx="46.80" cy="689.96" r="1.05" fill="#b9dba8" stroke="#6cb552" stroke-width="0.75"/>
<circle cx="49.50" cy="689.62" r="1.05" fill="#b9dba8" stroke="#6cb552" stroke-width="0.75"/>
<circle cx="45.00" cy="688.20" r="1.05" fill="#b9dba8" stroke="#6cb552" stroke-width="0.75"/>
<circle cx="42.30" cy="687.29" r="1.05" fill="#b9dba8" stroke="#6cb552" stroke-width="0.75"/>
<circle cx="46.80" cy="686.48" r="1.05" fill="#b9dba8" stroke="#6cb552" stroke-width="0.75"/>
<circle cx="44.10" cy="685.78" r="1.05" fill="#b9dba8" stroke="#6cb552" stroke-width="0.75"/>
<circle cx="41.40" cy="684.59" r="1.05" fill="#b9dba8" stroke="#6cb552" stroke-width="0.75"/>
<circle cx="45.90" cy="684.31" r="1.05" fill="#b9dba8" stroke="#6cb552" stroke-width="0.75"/>
<circle cx="48.60" cy="683.67" r="1.05" fill="#b9dba8" stroke="#6cb552" stroke-width="0.75"/>
<circle cx="44.10" cy="681.68" r="1.05" fill="#b9dba8" stroke="#6cb552" stroke-width="0.75"/>
<circle cx="46.80" cy="681.08" r="1.05" fill="#b9dba8" stroke="#6cb552" stroke-width="0.75"/>
<circle cx="42.30" cy="680.38" r="1.05" fill="#b9dba8" stroke="#6cb552" stroke-width="0.75"/>
<circle cx="39.60" cy="680.07" r="1.05" fill="#b9dba8" stroke="#6cb552" stroke-width="0.75"/>
<circle cx="49.50" cy="680.02" r="1.05" fill="#b9dba8" stroke="#6cb552" stroke-width="0.75"/>
<circle cx="45.00" cy="679.63" r="1.05" fill="#b9dba8" stroke="#6cb552" stroke-width="0.75"/>
<circle cx="36.90" cy="679.29" r="1.05" fill="#b9dba8" stroke="#6cb552" stroke-width="0.75"/>
<circle cx="43.20" cy="677.64" r="1.05" fill="#b9dba8" stroke="#6cb552" stroke-width="0.75"/>
<circle cx="44.10" cy="673.97" r="1.05" fill="#b9dba8" stroke="#6cb552" stroke-width="0.75"/>
<circle cx="45.90" cy="672.35" r="1.05" fill="#b9dba8" stroke="#6cb552" stroke-width="0.75"/>
<circle cx="42.30" cy="672.22" r="1.05" fill="#b9dba8" stroke="#6cb552" stroke-width="0.75"/>
<circle cx="44.10" cy="669.76" r="1.05" fill="#b9dba8" stroke="#6cb552" stroke-width="0.75"/>
<circle cx="46.80" cy="668.97" r="1.05" fill="#b9dba8" stroke="#6cb552" stroke-width="0.75"/>
<circle cx="41.40" cy="668.93" r="1.05" fill="#b9dba8" stroke="#6cb552" stroke-width="0.75"/>
<circle cx="44.10" cy="658.92" r="1.05" fill="#b9dba8" stroke="#6cb552" stroke-width="0.75"/>
<circle cx="69.90" cy="704.21" r="1.05" fill="#d6d9fb" stroke="#a7adf5" stroke-width="0.75"/>
<circle cx="72.60" cy="704.21" r="1.05" fill="#d6d9fb" stroke="#a7adf5" stroke-width="0.75"/>
<circle cx="67.20" cy="704.21" r="1.05" fill="#d6d9fb" stroke="#a7adf5" stroke-width="0.75"/>
<circle cx="69.90" cy="701.20" r="1.05" fill="#d6d9fb" stroke="#a7adf5" stroke-width="0.75"/>
<circle cx="72.60" cy="700.22" r="1.05" fill="#d6d9fb" stroke="#a7adf5" stroke-width="0.75"/>
<circle cx="68.10" cy="699.93" r="1.05" fill="#d6d9fb" stroke="#a7adf5" stroke-width="0.75"/>
<circle cx="69.90" cy="698.42" r="1.05" fill="#d6d9fb" stroke="#a7adf5" stroke-width="0.75"/>
<circle cx="72.60" cy="697.22" r="1.05" fill="#d6d9fb" stroke="#a7adf5" stroke-width="0.75"/>
<circle cx="68.10" cy="697.00" r="1.05" fill="#d6d9fb" stroke="#a7adf5" stroke-width="0.75"/>
<circle cx="65.40" cy="696.83" r="1.05" fill="#d6d9fb" stroke="#a7adf5" stroke-width="0.75"/>
<circle cx="75.30" cy="696.07" r="1.05" fill="#d6d9fb" stroke="#a7adf5" stroke-width="0.75"/>
<circle cx="69.90" cy="695.35" r="1.05" fill="#d6d9fb" stroke="#a7adf5" stroke-width="0.75"/>
<circle cx="72.60" cy="694.67" r="1.05" fill="#d6d9fb" stroke="#a7adf5" stroke-width="0.75"/>
<circle cx="67.20" cy="694.30" r="1.05" fill="#d6d9fb" stroke="#a7adf5" stroke-width="0.75"/>
<circle cx="64.50" cy="693.94" r="1.05" fill="#d6d9fb" stroke="#a7adf5" stroke-width="0.75"/>
<circle cx="75.30" cy="693.84" r="1.05" fill="#d6d9fb" stroke="#a7adf5" stroke-width="0.75"/>
<circle cx="64.26" cy="693.56" r="1.05" fill="#d6d9fb" stroke="#a7adf5" stroke-width="0.75"/>
<circle cx="70.80" cy="693.33" r="1.05" fill="#d6d9fb" stroke="#a7adf5" stroke-width="0.75"/>
<circle cx="65.67" cy="692.87" r="1.05" fill="#d6d9fb" stroke="#a7adf5" stroke-width="0.75"/>
<circle cx="73.50" cy="692.50" r="1.05" fill="#d6d9fb" stroke="#a7adf5" stroke-width="0.75"/>
<circle cx="77.10" cy="692.41" r="1.05" fill="#d6d9fb" stroke="#a7adf5" stroke-width="0.75"/>
<circle cx="69.00" cy="691.44" r="1.05" fill="#d6d9fb" stroke="#a7adf5" stroke-width="0.75"/>
<circle cx="71.70" cy="691.24" r="1.05" fill="#d6d9fb" stroke="#a7adf5" stroke-width="0.75"/>
<circle cx="66.30" cy="690.62" r="1.05" fill="#d6d9fb" stroke="#a7adf5" stroke-width="0.75"/>
<circle cx="74.40" cy="690.39" r="1.05" fill="#d6d9fb" stroke="#a7adf5" stroke-width="0.75"/>
<circle cx="63.60" cy="690.05" r="1.05" fill="#d6d9fb" stroke="#a7adf5" stroke-width="0.75"/>
<circle cx="77.10" cy="689.96" r="1.05" fill="#d6d9fb" stroke="#a7adf5" stroke-width="0.75"/>
<circle cx="67.38" cy="689.94" r="1.05" fill="#d6d9fb" stroke="#a7adf5" stroke-width="0.75"/>
<circle cx="71.35" cy="689.91" r="1.05" fill="#d6d9fb" stroke="#a7adf5" stroke-width="0.75"/>
<circle cx="70.73" cy="689.58" r="1.05" fill="#d6d9fb" stroke="#a7adf5" stroke-width="0.75"/>
<circle cx="65.65" cy="689.51" r="1.05" fill="#d6d9fb" stroke="#a7adf5" stroke-width="0.75"/>
<circle cx="72.47" cy="689.31" r="1.05" fill="#d6d9fb" stroke="#a7adf5" stroke-width="0.75"/>
<circle cx="63.01" cy="688.62" r="1.05" fill="#d6d9fb" stroke="#a7adf5" stroke-width="0.75"/>
<circle cx="69.00" cy="688.21" r="1.05" fill="#d6d9fb" stroke="#a7adf5" stroke-width="0.75"/>
<circle cx="74.40" cy="688.19" r="1.05" fill="#d6d9fb" stroke="#a7adf5" stroke-width="0.75"/>
<circle cx="72.65" cy="687.97" r="1.05" fill="#d6d9fb" stroke="#a7adf5" stroke-width="0.75"/>
<circle cx="64.32" cy="687.91" r="1.05" fill="#d6d9fb" stroke="#a7adf5" stroke-width="0.75"/>
<circle cx="76.19" cy="687.88" r="1.05" fill="#d6d9fb" stroke="#a7adf5" stroke-width="0.75"/>
<circle cx="72.07" cy="687.76" r="1.05" fill="#d6d9fb" stroke="#a7adf5" stroke-width="0.75"/>
<circle cx="67.93" cy="687.65" r="1.05" fill="#d6d9fb" stroke="#a7adf5" stroke-width="0.75"/>
<circle cx="65.21" cy="687.60" r="1.05" fill="#d6d9fb" stroke="#a7adf5" stroke-width="0.75"/>
<circle cx="73.60" cy="687.37" r="1.05" fill="#d6d9fb" stroke="#a7adf5" stroke-width="0.75"/>
<circle cx="73.65" cy="687.29" r="1.05" fill="#d6d9fb" stroke="#a7adf5" stroke-width="0.75"/>
<circle cx="62.12" cy="687.09" r="1.05" fill="#d6d9fb" stroke="#a7adf5" stroke-width="0.75"/>
<circle cx="64.20" cy="687.09" r="1.05" fill="#d6d9fb" stroke="#a7adf5" stroke-width="0.75"/>
<circle cx="73.41" cy="687.07" r="1.05" fill="#d6d9fb" stroke="#a7adf5" stroke-width="0.75"/>
<circle cx="70.15" cy="687.06" r="1.05" fill="#d6d9fb" stroke="#a7adf5" stroke-width="0.75"/>
<circle cx="66.51" cy="686.84" r="1.05" fill="#d6d9fb" stroke="#a7adf5" stroke-width="0.75"/>
<circle cx="77.29" cy="686.08" r="1.05" fill="#d6d9fb" stroke="#a7adf5" stroke-width="0.75"/>
<circle cx="62.96" cy="685.70" r="1.05" fill="#d6d9fb" stroke="#a7adf5" stroke-width="0.75"/>
<circle cx="71.70" cy="685.31" r="1.05" fill="#d6d9fb" stroke="#a7adf5" stroke-width="0.75"/>
<circle cx="69.00" cy="685.14" r="1.05" fill="#d6d9fb" stroke="#a7adf5" stroke-width="0.75"/>
<circle cx="74.40" cy="684.98" r="1.05" fill="#d6d9fb" stroke="#a7adf5" stroke-width="0.75"/>
<circle cx="66.30" cy="683.91" r="1.05" fill="#d6d9fb" stroke="#a7adf5" stroke-width="0.75"/>
<circle cx="70.80" cy="683.21" r="1.05" fill="#d6d9fb" stroke="#a7adf5" stroke-width="0.75"/>
<circle cx="73.50" cy="682.68" r="1.05" fill="#d6d9fb" stroke="#a7adf5" stroke-width="0.75"/>
<circle cx="68.10" cy="682.35" r="1.05" fill="#d6d9fb" stroke="#a7adf5" stroke-width="0.75"/>
<circle cx="64.50" cy="682.17" r="1.05" fill="#d6d9fb" stroke="#a7adf5" stroke-width="0.75"/>
<circle cx="76.20" cy="681.95" r="1.05" fill="#d6d9fb" stroke="#a7adf5" stroke-width="0.75"/>
<circle cx="62.51" cy="681.58" r="1.05" fill="#d6d9fb" stroke="#a7adf5" stroke-width="0.75"/>
<circle cx="69.90" cy="680.40" r="1.05" fill="#d6d9fb" stroke="#a7adf5" stroke-width="0.75"/>
<circle cx="72.60" cy="680.31" r="1.05" fill="#d6d9fb" stroke="#a7adf5" stroke-width="0.75"/>
<circle cx="67.20" cy="679.18" r="1.05" fill="#d6d9fb" stroke="#a7adf5" stroke-width="0.75"/>
<circle cx="75.30" cy="679.12" r="1.05" fill="#d6d9fb" stroke="#a7adf5" stroke-width="0.75"/>
<circle cx="64.50" cy="679.03" r="1.05" fill="#d6d9fb" stroke="#a7adf5" stroke-width="0.75"/>
<circle cx="74.41" cy="679.02" r="1.05" fill="#d6d9fb" stroke="#a7adf5" stroke-width="0.75"/>
<circle cx="69.90" cy="677.97" r="1.05" fill="#d6d9fb" stroke="#a7adf5" stroke-width="0.75"/>
<circle cx="72.60" cy="677.63" r="1.05" fill="#d6d9fb" stroke="#a7adf5" stroke-width="0.75"/>
<circle cx="77.10" cy="677.30" r="1.05" fill="#d6d9fb" stroke="#a7adf5" stroke-width="0.75"/>
<circle cx="68.10" cy="676.50" r="1.05" fill="#d6d9fb" stroke="#a7adf5" stroke-width="0.75"/>
<circle cx="74.40" cy="676.07" r="1.05" fill="#d6d9fb" stroke="#a7adf5" stroke-width="0.75"/>
<circle cx="70.80" cy="675.90" r="1.05" fill="#d6d9fb" stroke="#a7adf5" stroke-width="0.75"/>
<circle cx="65.40" cy="675.88" r="1.05" fill="#d6d9fb" stroke="#a7adf5" stroke-width="0.75"/>
<circle cx="76.20" cy="674.73" r="1.05" fill="#d6d9fb" stroke="#a7adf5" stroke-width="0.75"/>
<circle cx="62.70" cy="674.70" r="1.05" fill="#d6d9fb" stroke="#a7adf5" stroke-width="0.75"/>
<circle cx="69.90" cy="673.77" r="1.05" fill="#d6d9fb" stroke="#a7adf5" stroke-width="0.75"/>
<circle cx="71.70" cy="672.08" r="1.05" fill="#d6d9fb" stroke="#a7adf5" stroke-width="0.75"/>
<circle cx="69.90" cy="666.47" r="1.05" fill="#d6d9fb" stroke="#a7adf5" stroke-width="0.75"/>
<circle cx="72.60" cy="665.31" r="1.05" fill="#d6d9fb" stroke="#a7adf5" stroke-width="0.75"/>
<circle cx="68.10" cy="664.73" r="1.05" fill="#d6d9fb" stroke="#a7adf5" stroke-width="0.75"/>
<circle cx="69.90" cy="658.92" r="1.05" fill="#d6d9fb" stroke="#a7adf5" stroke-width="0.75"/>
<circle cx="72.60" cy="657.76" r="1.05" fill="#d6d9fb" stroke="#a7adf5" stroke-width="0.75"/>
<line x1="44.10" y1="676.34" x2="44.10" y2="707.69" stroke="#444" stroke-width="0.7"/>
<line x1="35.70" y1="693.76" x2="52.50" y2="693.76" stroke="#444" stroke-width="1.0"/>
<line x1="40.30" y1="676.34" x2="47.90" y2="676.34" stroke="#444" stroke-width="0.7"/>
<line x1="40.30" y1="707.69" x2="47.90" y2="707.69" stroke="#444" stroke-width="0.7"/>
<line x1="69.90" y1="674.60" x2="69.90" y2="695.50" stroke="#222" stroke-width="0.7"/>
<line x1="61.30" y1="685.05" x2="78.50" y2="685.05" stroke="#222" stroke-width="1.0"/>
<line x1="66.10" y1="674.60" x2="73.70" y2="674.60" stroke="#222" stroke-width="0.7"/>
<line x1="66.10" y1="695.50" x2="73.70" y2="695.50" stroke="#222" stroke-width="0.7"/>
<text x="113.10" y="615.35" font-size="17" font-weight="bold">J</text>
<text x="148.80" y="626.60" font-size="7.6" text-anchor="middle" fill="#222">HMGA1</text>
<line x1="119.00" y1="640.90" x2="119.00" y2="735.20" stroke="#555" stroke-width="1.1"/>
<line x1="118.50" y1="734.60" x2="179.00" y2="734.60" stroke="#555" stroke-width="1.1"/>
<line x1="116.40" y1="734.60" x2="119.00" y2="734.60" stroke="#555" stroke-width="1.0"/>
<text x="115.10" y="737.10" font-size="7.0" text-anchor="end" fill="#333">4</text>
<line x1="116.40" y1="719.07" x2="119.00" y2="719.07" stroke="#555" stroke-width="1.0"/>
<text x="115.10" y="721.57" font-size="7.0" text-anchor="end" fill="#333">5</text>
<line x1="116.40" y1="703.53" x2="119.00" y2="703.53" stroke="#555" stroke-width="1.0"/>
<text x="115.10" y="706.03" font-size="7.0" text-anchor="end" fill="#333">6</text>
<line x1="116.40" y1="688.00" x2="119.00" y2="688.00" stroke="#555" stroke-width="1.0"/>
<text x="115.10" y="690.50" font-size="7.0" text-anchor="end" fill="#333">7</text>
<line x1="116.40" y1="672.47" x2="119.00" y2="672.47" stroke="#555" stroke-width="1.0"/>
<text x="115.10" y="674.97" font-size="7.0" text-anchor="end" fill="#333">8</text>
<line x1="116.40" y1="656.93" x2="119.00" y2="656.93" stroke="#555" stroke-width="1.0"/>
<text x="115.10" y="659.43" font-size="7.0" text-anchor="end" fill="#333">9</text>
<line x1="116.40" y1="641.40" x2="119.00" y2="641.40" stroke="#555" stroke-width="1.0"/>
<text x="115.10" y="643.90" font-size="7.0" text-anchor="end" fill="#333">10</text>
<line x1="136.40" y1="734.60" x2="136.40" y2="737.20" stroke="#555" stroke-width="0.9"/>
<line x1="162.00" y1="734.60" x2="162.00" y2="737.20" stroke="#555" stroke-width="0.9"/>
<text x="136.40" y="747.20" font-size="7.7" text-anchor="middle" fill="#333">wt</text>
<text x="162.00" y="747.20" font-size="7.8" text-anchor="middle" fill="#333">missense</text>
<text x="150.00" y="758.40" font-size="7.6" text-anchor="middle" fill="#333">TP53 mutations</text>
<text transform="translate(98.20 688.5) rotate(-90)" font-size="7.4" text-anchor="middle" fill="#333">HMGA1 mRNA expression log2(value+1)</text>
<line x1="137.20" y1="650.40" x2="161.60" y2="650.40" stroke="#222" stroke-width="0.9"/>
<text x="149.40" y="648.80" font-size="8.4" text-anchor="middle" fill="#222">****</text>
<circle cx="136.40" cy="725.28" r="1.05" fill="#b9dba8" stroke="#6cb552" stroke-width="0.75"/>
<circle cx="139.10" cy="725.28" r="1.05" fill="#b9dba8" stroke="#6cb552" stroke-width="0.75"/>
<circle cx="136.40" cy="714.16" r="1.05" fill="#b9dba8" stroke="#6cb552" stroke-width="0.75"/>
<circle cx="136.40" cy="710.33" r="1.05" fill="#b9dba8" stroke="#6cb552" stroke-width="0.75"/>
<circle cx="136.40" cy="706.82" r="1.05" fill="#b9dba8" stroke="#6cb552" stroke-width="0.75"/>
<circle cx="139.10" cy="706.25" r="1.05" fill="#b9dba8" stroke="#6cb552" stroke-width="0.75"/>
<circle cx="134.60" cy="705.41" r="1.05" fill="#b9dba8" stroke="#6cb552" stroke-width="0.75"/>
<circle cx="131.90" cy="705.29" r="1.05" fill="#b9dba8" stroke="#6cb552" stroke-width="0.75"/>
<circle cx="141.80" cy="705.07" r="1.05" fill="#b9dba8" stroke="#6cb552" stroke-width="0.75"/>
<circle cx="137.30" cy="704.34" r="1.05" fill="#b9dba8" stroke="#6cb552" stroke-width="0.75"/>
<circle cx="130.10" cy="703.92" r="1.05" fill="#b9dba8" stroke="#6cb552" stroke-width="0.75"/>
<circle cx="135.50" cy="702.97" r="1.05" fill="#b9dba8" stroke="#6cb552" stroke-width="0.75"/>
<circle cx="136.40" cy="699.90" r="1.05" fill="#b9dba8" stroke="#6cb552" stroke-width="0.75"/>
<circle cx="138.20" cy="698.20" r="1.05" fill="#b9dba8" stroke="#6cb552" stroke-width="0.75"/>
<circle cx="135.50" cy="697.02" r="1.05" fill="#b9dba8" stroke="#6cb552" stroke-width="0.75"/>
<circle cx="139.10" cy="696.15" r="1.05" fill="#b9dba8" stroke="#6cb552" stroke-width="0.75"/>
<circle cx="132.80" cy="696.08" r="1.05" fill="#b9dba8" stroke="#6cb552" stroke-width="0.75"/>
<circle cx="141.80" cy="695.67" r="1.05" fill="#b9dba8" stroke="#6cb552" stroke-width="0.75"/>
<circle cx="136.40" cy="694.59" r="1.05" fill="#b9dba8" stroke="#6cb552" stroke-width="0.75"/>
<circle cx="131.00" cy="694.56" r="1.05" fill="#b9dba8" stroke="#6cb552" stroke-width="0.75"/>
<circle cx="133.70" cy="694.00" r="1.05" fill="#b9dba8" stroke="#6cb552" stroke-width="0.75"/>
<circle cx="139.10" cy="693.71" r="1.05" fill="#b9dba8" stroke="#6cb552" stroke-width="0.75"/>
<circle cx="141.80" cy="693.18" r="1.05" fill="#b9dba8" stroke="#6cb552" stroke-width="0.75"/>
<circle cx="135.50" cy="692.56" r="1.05" fill="#b9dba8" stroke="#6cb552" stroke-width="0.75"/>
<circle cx="132.80" cy="691.86" r="1.05" fill="#b9dba8" stroke="#6cb552" stroke-width="0.75"/>
<circle cx="138.20" cy="691.58" r="1.05" fill="#b9dba8" stroke="#6cb552" stroke-width="0.75"/>
<circle cx="136.40" cy="688.28" r="1.05" fill="#b9dba8" stroke="#6cb552" stroke-width="0.75"/>
<circle cx="136.40" cy="673.24" r="1.05" fill="#b9dba8" stroke="#6cb552" stroke-width="0.75"/>
<circle cx="162.00" cy="726.06" r="1.05" fill="#d6d9fb" stroke="#a7adf5" stroke-width="0.75"/>
<circle cx="162.00" cy="722.17" r="1.05" fill="#d6d9fb" stroke="#a7adf5" stroke-width="0.75"/>
<circle cx="162.00" cy="719.07" r="1.05" fill="#d6d9fb" stroke="#a7adf5" stroke-width="0.75"/>
<circle cx="163.80" cy="717.82" r="1.05" fill="#d6d9fb" stroke="#a7adf5" stroke-width="0.75"/>
<circle cx="160.20" cy="717.70" r="1.05" fill="#d6d9fb" stroke="#a7adf5" stroke-width="0.75"/>
<circle cx="162.00" cy="716.38" r="1.05" fill="#d6d9fb" stroke="#a7adf5" stroke-width="0.75"/>
<circle cx="162.90" cy="714.35" r="1.05" fill="#d6d9fb" stroke="#a7adf5" stroke-width="0.75"/>
<circle cx="162.00" cy="706.35" r="1.05" fill="#d6d9fb" stroke="#a7adf5" stroke-width="0.75"/>
<circle cx="164.70" cy="706.25" r="1.05" fill="#d6d9fb" stroke="#a7adf5" stroke-width="0.75"/>
<circle cx="159.30" cy="705.64" r="1.05" fill="#d6d9fb" stroke="#a7adf5" stroke-width="0.75"/>
<circle cx="166.50" cy="704.68" r="1.05" fill="#d6d9fb" stroke="#a7adf5" stroke-width="0.75"/>
<circle cx="156.60" cy="704.42" r="1.05" fill="#d6d9fb" stroke="#a7adf5" stroke-width="0.75"/>
<circle cx="162.00" cy="703.22" r="1.05" fill="#d6d9fb" stroke="#a7adf5" stroke-width="0.75"/>
<circle cx="164.70" cy="702.35" r="1.05" fill="#d6d9fb" stroke="#a7adf5" stroke-width="0.75"/>
<circle cx="159.30" cy="702.32" r="1.05" fill="#d6d9fb" stroke="#a7adf5" stroke-width="0.75"/>
<circle cx="167.40" cy="701.61" r="1.05" fill="#d6d9fb" stroke="#a7adf5" stroke-width="0.75"/>
<circle cx="156.60" cy="701.54" r="1.05" fill="#d6d9fb" stroke="#a7adf5" stroke-width="0.75"/>
<circle cx="168.67" cy="701.11" r="1.05" fill="#d6d9fb" stroke="#a7adf5" stroke-width="0.75"/>
<circle cx="162.00" cy="699.28" r="1.05" fill="#d6d9fb" stroke="#a7adf5" stroke-width="0.75"/>
<circle cx="164.70" cy="698.83" r="1.05" fill="#d6d9fb" stroke="#a7adf5" stroke-width="0.75"/>
<circle cx="160.20" cy="697.85" r="1.05" fill="#d6d9fb" stroke="#a7adf5" stroke-width="0.75"/>
<circle cx="166.50" cy="697.50" r="1.05" fill="#d6d9fb" stroke="#a7adf5" stroke-width="0.75"/>
<circle cx="157.50" cy="697.46" r="1.05" fill="#d6d9fb" stroke="#a7adf5" stroke-width="0.75"/>
<circle cx="162.90" cy="696.80" r="1.05" fill="#d6d9fb" stroke="#a7adf5" stroke-width="0.75"/>
<circle cx="161.10" cy="694.84" r="1.05" fill="#d6d9fb" stroke="#a7adf5" stroke-width="0.75"/>
<circle cx="163.80" cy="694.57" r="1.05" fill="#d6d9fb" stroke="#a7adf5" stroke-width="0.75"/>
<circle cx="159.30" cy="693.60" r="1.05" fill="#d6d9fb" stroke="#a7adf5" stroke-width="0.75"/>
<circle cx="166.50" cy="693.40" r="1.05" fill="#d6d9fb" stroke="#a7adf5" stroke-width="0.75"/>
<circle cx="156.60" cy="692.91" r="1.05" fill="#d6d9fb" stroke="#a7adf5" stroke-width="0.75"/>
<circle cx="162.00" cy="692.62" r="1.05" fill="#d6d9fb" stroke="#a7adf5" stroke-width="0.75"/>
<circle cx="163.80" cy="691.31" r="1.05" fill="#d6d9fb" stroke="#a7adf5" stroke-width="0.75"/>
<circle cx="162.00" cy="689.88" r="1.05" fill="#d6d9fb" stroke="#a7adf5" stroke-width="0.75"/>
<circle cx="159.30" cy="689.57" r="1.05" fill="#d6d9fb" stroke="#a7adf5" stroke-width="0.75"/>
<circle cx="163.80" cy="688.44" r="1.05" fill="#d6d9fb" stroke="#a7adf5" stroke-width="0.75"/>
<circle cx="166.50" cy="688.26" r="1.05" fill="#d6d9fb" stroke="#a7adf5" stroke-width="0.75"/>
<circle cx="162.00" cy="686.80" r="1.05" fill="#d6d9fb" stroke="#a7adf5" stroke-width="0.75"/>
<circle cx="163.80" cy="685.54" r="1.05" fill="#d6d9fb" stroke="#a7adf5" stroke-width="0.75"/>
<circle cx="162.00" cy="683.89" r="1.05" fill="#d6d9fb" stroke="#a7adf5" stroke-width="0.75"/>
<circle cx="164.70" cy="682.78" r="1.05" fill="#d6d9fb" stroke="#a7adf5" stroke-width="0.75"/>
<circle cx="161.10" cy="681.87" r="1.05" fill="#d6d9fb" stroke="#a7adf5" stroke-width="0.75"/>
<circle cx="162.90" cy="680.00" r="1.05" fill="#d6d9fb" stroke="#a7adf5" stroke-width="0.75"/>
<circle cx="160.20" cy="679.48" r="1.05" fill="#d6d9fb" stroke="#a7adf5" stroke-width="0.75"/>
<circle cx="162.00" cy="675.01" r="1.05" fill="#d6d9fb" stroke="#a7adf5" stroke-width="0.75"/>
<circle cx="162.00" cy="672.18" r="1.05" fill="#d6d9fb" stroke="#a7adf5" stroke-width="0.75"/>
<circle cx="164.70" cy="671.04" r="1.05" fill="#d6d9fb" stroke="#a7adf5" stroke-width="0.75"/>
<circle cx="162.00" cy="669.36" r="1.05" fill="#d6d9fb" stroke="#a7adf5" stroke-width="0.75"/>
<circle cx="159.30" cy="669.36" r="1.05" fill="#d6d9fb" stroke="#a7adf5" stroke-width="0.75"/>
<circle cx="162.00" cy="664.70" r="1.05" fill="#d6d9fb" stroke="#a7adf5" stroke-width="0.75"/>
<line x1="136.40" y1="687.22" x2="136.40" y2="710.52" stroke="#444" stroke-width="0.7"/>
<line x1="128.00" y1="699.18" x2="144.80" y2="699.18" stroke="#444" stroke-width="1.0"/>
<line x1="132.60" y1="687.22" x2="140.20" y2="687.22" stroke="#444" stroke-width="0.7"/>
<line x1="132.60" y1="710.52" x2="140.20" y2="710.52" stroke="#444" stroke-width="0.7"/>
<line x1="162.00" y1="680.54" x2="162.00" y2="707.88" stroke="#222" stroke-width="0.7"/>
<line x1="153.40" y1="694.21" x2="170.60" y2="694.21" stroke="#222" stroke-width="1.0"/>
<line x1="158.20" y1="680.54" x2="165.80" y2="680.54" stroke="#222" stroke-width="0.7"/>
<line x1="158.20" y1="707.88" x2="165.80" y2="707.88" stroke="#222" stroke-width="0.7"/>
<text x="181.30" y="615.30" font-size="17" font-weight="bold">K</text>
<rect x="207.00" y="620.40" width="143.80" height="106.80" fill="none" stroke="#9a9a9a" stroke-width="0.8"/>
<text x="278.20" y="618.00" font-size="7.4" text-anchor="middle" fill="#111">HMGA1</text>
<line x1="204.80" y1="625.50" x2="207.00" y2="625.50" stroke="#666" stroke-width="0.6"/>
<text x="204.40" y="627.70" font-size="6.2" text-anchor="end" fill="#222">1.0</text>
<line x1="204.80" y1="644.90" x2="207.00" y2="644.90" stroke="#666" stroke-width="0.6"/>
<text x="204.40" y="647.10" font-size="6.2" text-anchor="end" fill="#222">0.8</text>
<line x1="204.80" y1="664.30" x2="207.00" y2="664.30" stroke="#666" stroke-width="0.6"/>
<text x="204.40" y="666.50" font-size="6.2" text-anchor="end" fill="#222">0.6</text>
<line x1="204.80" y1="683.70" x2="207.00" y2="683.70" stroke="#666" stroke-width="0.6"/>
<text x="204.40" y="685.90" font-size="6.2" text-anchor="end" fill="#222">0.4</text>
<line x1="204.80" y1="703.10" x2="207.00" y2="703.10" stroke="#666" stroke-width="0.6"/>
<text x="204.40" y="705.30" font-size="6.2" text-anchor="end" fill="#222">0.2</text>
<line x1="204.80" y1="722.50" x2="207.00" y2="722.50" stroke="#666" stroke-width="0.6"/>
<text x="204.40" y="724.70" font-size="6.2" text-anchor="end" fill="#222">0.0</text>
<line x1="213.30" y1="727.20" x2="213.30" y2="729.20" stroke="#666" stroke-width="0.6"/>
<text x="213.30" y="734.20" font-size="6.2" text-anchor="middle" fill="#222">0</text>
<line x1="235.30" y1="727.20" x2="235.30" y2="729.20" stroke="#666" stroke-width="0.6"/>
<text x="235.30" y="734.20" font-size="6.2" text-anchor="middle" fill="#222">20</text>
<line x1="257.30" y1="727.20" x2="257.30" y2="729.20" stroke="#666" stroke-width="0.6"/>
<text x="257.30" y="734.20" font-size="6.2" text-anchor="middle" fill="#222">40</text>
<line x1="279.30" y1="727.20" x2="279.30" y2="729.20" stroke="#666" stroke-width="0.6"/>
<text x="279.30" y="734.20" font-size="6.2" text-anchor="middle" fill="#222">60</text>
<line x1="301.30" y1="727.20" x2="301.30" y2="729.20" stroke="#666" stroke-width="0.6"/>
<text x="301.30" y="734.20" font-size="6.2" text-anchor="middle" fill="#222">80</text>
<line x1="323.30" y1="727.20" x2="323.30" y2="729.20" stroke="#666" stroke-width="0.6"/>
<text x="323.30" y="734.20" font-size="6.2" text-anchor="middle" fill="#222">100</text>
<line x1="345.30" y1="727.20" x2="345.30" y2="729.20" stroke="#666" stroke-width="0.6"/>
<text x="345.30" y="734.20" font-size="6.2" text-anchor="middle" fill="#222">120</text>
<text x="279.90" y="742.30" font-size="7.3" text-anchor="middle" fill="#222">Overall survival (months)</text>
<text transform="translate(192.30 673.8) rotate(-90)" font-size="7.3" text-anchor="middle" fill="#222">Probability</text>
<text x="346.30" y="627.60" font-size="6.3" text-anchor="end" fill="#222">HR = 1.12 (0.92 - 1.37)</text>
<text x="346.30" y="633.90" font-size="6.3" text-anchor="end" fill="#222">Logrank P = 0.265</text>
<text x="280.00" y="647.20" font-size="6.3" fill="#222">Expression</text>
<line x1="315.00" y1="640.80" x2="326.30" y2="640.80" stroke="#222" stroke-width="0.8"/>
<line x1="315.00" y1="649.50" x2="326.30" y2="649.50" stroke="#e8241c" stroke-width="0.8"/>
<text x="330.80" y="643.00" font-size="6.3" fill="#222">Low</text>
<text x="330.80" y="651.60" font-size="6.3" fill="#222">High</text>
<circle cx="213.30" cy="722.50" r="0.35" fill="#666"/>
<path d="M213.30,625.50H213.85V626.15H214.40V626.79H214.95V627.44H215.50V628.09H216.05V628.73H216.60V629.38H217.15V630.67H217.70V631.97H218.25V633.26H218.80V634.55H219.35V635.85H219.90V637.14H220.45V638.96H221.00V640.78H221.55V642.60H222.10V644.41H222.65V646.23H223.20V648.05H223.75V649.87H224.30V651.69H224.85V653.02H225.40V654.36H225.95V655.69H226.50V657.02H227.05V658.36H227.60V659.69H228.15V661.03H228.70V662.36H229.25V663.57H229.80V664.78H230.35V666.00H230.90V667.21H231.45V668.42H232.00V669.63H232.55V670.85H233.10V672.06H233.65V673.03H234.20V674.00H234.75V674.97H235.30V675.94H235.85V676.91H236.40V677.88H236.95V678.85H237.50V679.82H238.05V680.67H238.60V681.52H239.15V682.37H239.70V683.22H240.25V684.06H240.80V684.91H241.35V685.76H241.90V686.61H242.45V687.18H243.00V687.74H243.55V688.31H244.10V688.87H244.65V689.44H245.20V690.00H245.75V690.57H246.30V691.14H246.85V691.70H247.40V692.27H247.95V692.83H248.50V693.40H249.05V693.76H249.60V694.13H250.15V694.49H250.70V694.86H251.25V695.22H251.80V695.58H252.35V695.95H252.90V696.31H253.45V696.67H254.00V697.04H254.55V697.40H255.10V697.76H255.65V698.13H256.20V698.49H256.75V698.86H257.30V699.22H257.85V699.54H258.40V699.87H258.95V700.19H259.50V700.51H260.05V700.84H260.60V701.16H261.15V701.48H261.70V701.81H262.25V702.13H262.80V702.45H263.35V702.78H263.90V703.10H264.45V703.46H265.00V703.83H265.55V704.19H266.10V704.55H266.65V704.92H267.20V705.28H267.75V705.65H268.30V706.01H268.85V706.17H269.40V706.33H269.95V706.50H270.50V706.66H271.05V706.82H271.60V706.98H272.15V707.14H272.70V707.30H273.25V707.47H273.80V707.63H274.35V707.79H274.90V707.95H275.45V708.03H276.00V708.11H276.55V708.19H277.10V708.27H277.65V708.35H278.20V708.43H278.75V708.52H279.30V708.60H279.85V708.68H280.40V708.76H280.95V708.84H281.50V708.92H282.05V708.94H282.60V708.96H283.15V708.98H283.70V709.00H284.25V709.03H284.80V709.05H285.35V709.07H285.90V709.09H286.45V709.11H287.00V709.13H287.55V709.15H288.10V709.17H288.65V709.19H289.20V709.22H289.75V709.24H290.30V709.26H290.85V709.28H291.40V709.30H291.95V709.32H292.50V709.34H293.05V709.36H293.60V709.38H294.15V709.40H294.70V709.43H295.25V709.45H295.80V709.47H296.35V709.49H296.90V709.51H297.45V709.53H298.00V709.55H298.55V709.57H299.10V709.59H299.65V709.62H300.20V709.64H300.75V709.66H301.30V709.68H301.85V709.70H302.40V709.72H302.95V709.74H303.50V709.76H304.05V709.78H304.60V709.81H305.15V709.83H305.70V709.85H306.25V709.87H306.80V709.89H307.35V710.08H307.90V710.28H308.45V710.47H309.00V710.67H309.55V710.86H310.10V711.05H310.65V711.25H311.20V711.44H311.75V711.64H312.30V711.83H312.85V711.85H313.40V711.86H313.95V711.88H314.50V711.89H315.05V711.91H315.60V711.93H316.15V711.94H316.70V711.96H317.25V711.98H317.80V711.99H318.35V712.01H318.90V712.02H319.45V712.04H320.00V712.06H320.55V712.07H321.10V712.09H321.65V712.10H322.20V712.12H322.75V712.14H323.30V712.15H323.85V712.17H324.40V712.19H324.95V712.20H325.50V712.22H326.05V712.23H326.60V712.25H327.15V712.27H327.70V712.28H328.25V712.30H328.80V712.32H329.35V712.33H329.90V712.35H330.45V712.36H331.00V712.38H331.55V712.40H332.10V712.41H332.65V712.43H333.20V712.44H333.75V712.46H334.30V712.48H334.85V712.49H335.40V712.51H335.95V712.53H336.50V712.54H337.05V712.56H337.60V712.57H338.15V712.59H338.70V712.61H339.25V712.62H339.80V712.64H340.35V712.65H340.90V712.67H341.45V712.69H342.00V712.70H342.55V712.72H343.10V712.74H343.65V712.75H344.20V712.77H344.75V712.78H345.30V712.80" fill="none" stroke="#e8241c" stroke-width="1.0"/>
<path d="M213.30,625.50H213.85V625.99H214.40V626.47H214.95V626.96H215.50V627.44H216.05V627.92H216.60V628.41H217.15V629.54H217.70V630.67H218.25V631.80H218.80V632.94H219.35V634.07H219.90V635.20H220.45V636.90H221.00V638.60H221.55V640.29H222.10V641.99H222.65V643.69H223.20V645.38H223.75V647.08H224.30V648.78H224.85V649.87H225.40V650.96H225.95V652.05H226.50V653.14H227.05V654.24H227.60V655.33H228.15V656.42H228.70V657.51H229.25V658.36H229.80V659.21H230.35V660.06H230.90V660.90H231.45V661.75H232.00V662.60H232.55V663.45H233.10V664.30H233.65V665.27H234.20V666.24H234.75V667.21H235.30V668.18H235.85V669.15H236.40V670.12H236.95V671.09H237.50V672.06H238.05V673.15H238.60V674.24H239.15V675.33H239.70V676.42H240.25V677.52H240.80V678.61H241.35V679.70H241.90V680.79H242.45V681.64H243.00V682.49H243.55V683.34H244.10V684.18H244.65V685.03H245.20V685.88H245.75V686.73H246.30V687.58H246.85V688.07H247.40V688.55H247.95V689.03H248.50V689.52H249.05V690.00H249.60V690.49H250.15V690.98H250.70V691.46H251.25V691.95H251.80V692.43H252.35V692.91H252.90V693.40H253.45V693.64H254.00V693.88H254.55V694.13H255.10V694.37H255.65V694.61H256.20V694.86H256.75V695.10H257.30V695.34H257.85V695.58H258.40V695.83H258.95V696.07H259.50V696.31H260.05V696.61H260.60V696.92H261.15V697.22H261.70V697.52H262.25V697.83H262.80V698.13H263.35V698.43H263.90V698.74H264.45V699.04H265.00V699.34H265.55V699.64H266.10V699.95H266.65V700.25H267.20V700.55H267.75V700.86H268.30V701.16H268.85V701.77H269.40V702.37H269.95V702.98H270.50V703.59H271.05V704.19H271.60V704.80H272.15V705.40H272.70V706.01H273.25V706.17H273.80V706.33H274.35V706.50H274.90V706.66H275.45V706.82H276.00V706.98H276.55V707.14H277.10V707.30H277.65V707.47H278.20V707.63H278.75V707.79H279.30V707.95H279.85V707.95H280.40V707.95H280.95V707.95H281.50V707.95H282.05V707.95H282.60V707.95H283.15V707.95H283.70V707.95H284.25V707.95H284.80V707.95H285.35V707.95H285.90V707.95H286.45V707.95H287.00V707.95H287.55V707.95H288.10V707.95H288.65V707.95H289.20V707.95H289.75V707.95H290.30V707.95H290.85V707.95H291.40V707.95H291.95V707.95H292.50V707.95H293.05V707.95H293.60V707.95H294.15V707.95H294.70V707.95H295.25V707.95H295.80V707.95H296.35V707.95H296.90V707.95H297.45V707.95H298.00V707.95H298.55V707.95H299.10V707.95H299.65V707.95H300.20V707.95H300.75V707.95H301.30V707.95H301.85V707.95H302.40V707.95H302.95V707.95H303.50V707.95H304.05V707.95H304.60V707.95H305.15V707.95H305.70V707.95H306.25V707.95H306.80V707.95H307.35V707.95H307.90V707.95H308.45V707.95H309.00V707.95H309.55V707.95H310.10V707.95H310.65V707.95H311.20V707.95H311.75V707.95H312.30V707.95H312.85V707.95H313.40V707.95H313.95V707.95H314.50V707.95H315.05V707.95H315.60V707.95H316.15V707.95H316.70V707.95H317.25V707.95H317.80V707.95H318.35V707.95H318.90V707.95H319.45V711.35H320.00V714.74H320.55V714.90H321.10V715.06H321.65V715.23H322.20V715.39H322.75V715.55H323.30V715.71" fill="none" stroke="#222" stroke-width="1.0"/>
<text x="213.10" y="750.90" font-size="5.2" text-anchor="end" fill="#222">At risk</text>
<text x="198.80" y="756.50" font-size="5.2" text-anchor="end" fill="#222">Low</text>
<text x="198.80" y="761.40" font-size="5.2" text-anchor="end" fill="#e8241c">High</text>
<text x="213.00" y="756.50" font-size="5.2" text-anchor="end" fill="#222">268</text>
<text x="213.00" y="761.40" font-size="5.2" text-anchor="end" fill="#e8241c">268</text>
<text x="235.00" y="756.50" font-size="5.2" text-anchor="end" fill="#222">106</text>
<text x="235.00" y="761.40" font-size="5.2" text-anchor="end" fill="#e8241c">96</text>
<text x="257.00" y="756.50" font-size="5.2" text-anchor="end" fill="#222">33</text>
<text x="257.00" y="761.40" font-size="5.2" text-anchor="end" fill="#e8241c">29</text>
<text x="279.00" y="756.50" font-size="5.2" text-anchor="end" fill="#222">6</text>
<text x="279.00" y="761.40" font-size="5.2" text-anchor="end" fill="#e8241c">12</text>
<text x="301.00" y="756.50" font-size="5.2" text-anchor="end" fill="#222">2</text>
<text x="301.00" y="761.40" font-size="5.2" text-anchor="end" fill="#e8241c">9</text>
<text x="323.00" y="756.50" font-size="5.2" text-anchor="end" fill="#222">0</text>
<text x="323.00" y="761.40" font-size="5.2" text-anchor="end" fill="#e8241c">6</text>
<text x="345.00" y="756.50" font-size="5.2" text-anchor="end" fill="#222">0</text>
<text x="345.00" y="761.40" font-size="5.2" text-anchor="end" fill="#e8241c">0</text>
<path d="M247.2,693.8h3.8M249.1,691.9v3.8M265.5,705.3h3.8M267.4,703.4v3.8M223.6,654.4h3.8M225.5,652.5v3.8M263.9,704.2h3.8M265.8,702.3v3.8M272.3,707.6h3.8M274.2,705.7v3.8M264.8,704.9h3.8M266.7,703.0v3.8M265.9,705.6h3.8M267.8,703.7v3.8M213.0,626.8h3.8M214.9,624.9v3.8M253.3,697.8h3.8M255.2,695.9v3.8M268.5,706.5h3.8M270.4,704.6v3.8M215.7,630.7h3.8M217.6,628.8v3.8M230.1,669.6h3.8M232.0,667.7v3.8M229.9,668.4h3.8M231.8,666.5v3.8M246.7,693.4h3.8M248.6,691.5v3.8M240.0,685.8h3.8M241.9,683.9v3.8M243.2,689.4h3.8M245.1,687.5v3.8M262.9,703.5h3.8M264.8,701.6v3.8M212.6,626.8h3.8M214.5,624.9v3.8M216.1,632.0h3.8M218.0,630.1v3.8M220.7,644.4h3.8M222.6,642.5v3.8M220.6,644.4h3.8M222.5,642.5v3.8M216.9,634.6h3.8M218.8,632.7v3.8M275.8,708.4h3.8M277.7,706.5v3.8M268.0,706.3h3.8M269.9,704.4v3.8M218.1,637.1h3.8M220.0,635.2v3.8M245.1,691.7h3.8M247.0,689.8v3.8M233.0,675.0h3.8M234.9,673.1v3.8M232.9,675.0h3.8M234.8,673.1v3.8M235.3,678.9h3.8M237.2,677.0v3.8M254.5,698.5h3.8M256.4,696.6v3.8M250.6,695.9h3.8M252.5,694.0v3.8M235.9,679.8h3.8M237.8,677.9v3.8M224.9,657.0h3.8M226.8,655.1v3.8M233.8,675.9h3.8M235.7,674.0v3.8M220.5,644.4h3.8M222.4,642.5v3.8M248.6,694.5h3.8M250.5,692.6v3.8M259.0,701.2h3.8M260.9,699.3v3.8M237.2,681.5h3.8M239.1,679.6v3.8M217.7,635.8h3.8M219.6,633.9v3.8M224.1,655.7h3.8M226.0,653.8v3.8M236.7,681.5h3.8M238.6,679.6v3.8M251.7,696.7h3.8M253.6,694.8v3.8M263.3,703.8h3.8M265.2,701.9v3.8M237.2,681.5h3.8M239.1,679.6v3.8M264.5,704.6h3.8M266.4,702.7v3.8M252.9,697.4h3.8M254.8,695.5v3.8M240.5,686.6h3.8M242.4,684.7v3.8M236.7,680.7h3.8M238.6,678.8v3.8M244.7,691.1h3.8M246.6,689.2v3.8M258.1,700.5h3.8M260.0,698.6v3.8M239.8,685.8h3.8M241.7,683.9v3.8M257.5,700.2h3.8M259.4,698.3v3.8M242.4,688.9h3.8M244.3,687.0v3.8M228.4,664.8h3.8M230.3,662.9v3.8M247.3,693.8h3.8M249.2,691.9v3.8M257.6,700.5h3.8M259.5,698.6v3.8M217.1,634.6h3.8M219.0,632.7v3.8M240.1,686.6h3.8M242.0,684.7v3.8M240.1,686.6h3.8M242.0,684.7v3.8M269.6,706.8h3.8M271.5,704.9v3.8M273.3,708.0h3.8M275.2,706.1v3.8M236.8,681.5h3.8M238.7,679.6v3.8M270.8,707.1h3.8M272.7,705.2v3.8M263.8,704.2h3.8M265.7,702.3v3.8M229.5,667.2h3.8M231.4,665.3v3.8M242.6,688.9h3.8M244.5,687.0v3.8M220.5,644.4h3.8M222.4,642.5v3.8M265.3,704.9h3.8M267.2,703.0v3.8M255.5,699.2h3.8M257.4,697.3v3.8M270.1,707.0h3.8M272.0,705.1v3.8M263.9,704.2h3.8M265.8,702.3v3.8M255.8,699.2h3.8M257.7,697.3v3.8M260.1,701.8h3.8M262.0,699.9v3.8M249.1,694.9h3.8M251.0,693.0v3.8M219.2,640.8h3.8M221.1,638.9v3.8M250.6,695.9h3.8M252.5,694.0v3.8M212.8,626.8h3.8M214.7,624.9v3.8M221.8,648.1h3.8M223.7,646.2v3.8M262.8,703.5h3.8M264.7,701.6v3.8M215.4,630.7h3.8M217.3,628.8v3.8M218.5,637.1h3.8M220.4,635.2v3.8M218.9,639.0h3.8M220.8,637.1v3.8M269.6,706.8h3.8M271.5,704.9v3.8M224.1,655.7h3.8M226.0,653.8v3.8M214.0,628.1h3.8M215.9,626.2v3.8M267.1,706.2h3.8M269.0,704.3v3.8M220.4,644.4h3.8M222.3,642.5v3.8M267.3,706.2h3.8M269.2,704.3v3.8M256.2,699.5h3.8M258.1,697.6v3.8M266.8,706.0h3.8M268.7,704.1v3.8" stroke="#f26a6a" stroke-width="0.55"/>
<path d="M337.2,712.6h3.8M339.1,710.7v3.8M288.3,709.2h3.8M290.2,707.3v3.8M317.1,712.0h3.8M319.0,710.1v3.8M217.2,634.6h3.8M219.1,632.7v3.8M313.0,711.9h3.8M314.9,710.0v3.8M279.4,708.8h3.8M281.3,706.9v3.8M306.1,710.3h3.8M308.0,708.4v3.8M226.5,661.0h3.8M228.4,659.1v3.8M310.5,711.8h3.8M312.4,709.9v3.8M334.8,712.5h3.8M336.7,710.6v3.8M220.5,644.4h3.8M222.4,642.5v3.8M254.9,698.9h3.8M256.8,697.0v3.8M286.3,709.2h3.8M288.2,707.3v3.8M320.9,712.1h3.8M322.8,710.2v3.8" stroke="#f49090" stroke-width="0.55"/>
<path d="M226.9,657.5h3.8M228.8,655.6v3.8M223.2,649.9h3.8M225.1,648.0v3.8M227.3,657.5h3.8M229.2,655.6v3.8M249.1,691.5h3.8M251.0,689.6v3.8M257.3,696.1h3.8M259.2,694.2v3.8M235.9,672.1h3.8M237.8,670.2v3.8M234.3,669.1h3.8M236.2,667.2v3.8M236.1,672.1h3.8M238.0,670.2v3.8M233.3,667.2h3.8M235.2,665.3v3.8M237.3,675.3h3.8M239.2,673.4v3.8M217.4,632.9h3.8M219.3,631.0v3.8M242.2,684.2h3.8M244.1,682.3v3.8M270.3,705.4h3.8M272.2,703.5v3.8M237.0,674.2h3.8M238.9,672.3v3.8M256.9,695.8h3.8M258.8,693.9v3.8M222.0,647.1h3.8M223.9,645.2v3.8M253.5,694.4h3.8M255.4,692.5v3.8M257.4,696.1h3.8M259.3,694.2v3.8M252.5,693.9h3.8M254.4,692.0v3.8M243.2,685.0h3.8M245.1,683.1v3.8M241.2,682.5h3.8M243.1,680.6v3.8M250.7,692.9h3.8M252.6,691.0v3.8M265.8,700.6h3.8M267.7,698.7v3.8M221.4,645.4h3.8M223.3,643.5v3.8M218.2,635.2h3.8M220.1,633.3v3.8M256.9,695.8h3.8M258.8,693.9v3.8M266.9,701.2h3.8M268.8,699.3v3.8M243.2,685.0h3.8M245.1,683.1v3.8M238.8,677.5h3.8M240.7,675.6v3.8M255.2,695.1h3.8M257.1,693.2v3.8M223.6,651.0h3.8M225.5,649.1v3.8M228.4,659.2h3.8M230.3,657.3v3.8M224.3,652.1h3.8M226.2,650.2v3.8M247.3,690.0h3.8M249.2,688.1v3.8M231.2,664.3h3.8M233.1,662.4v3.8M226.3,656.4h3.8M228.2,654.5v3.8M253.6,694.4h3.8M255.5,692.5v3.8M269.1,703.6h3.8M271.0,701.7v3.8M230.1,661.8h3.8M232.0,659.9v3.8M254.4,694.9h3.8M256.3,693.0v3.8M237.0,674.2h3.8M238.9,672.3v3.8M263.2,699.3h3.8M265.1,697.4v3.8M247.2,690.0h3.8M249.1,688.1v3.8M228.4,659.2h3.8M230.3,657.3v3.8M225.4,654.2h3.8M227.3,652.3v3.8M213.9,627.4h3.8M215.8,625.5v3.8M241.0,681.6h3.8M242.9,679.7v3.8M235.2,671.1h3.8M237.1,669.2v3.8M222.7,648.8h3.8M224.6,646.9v3.8M233.9,668.2h3.8M235.8,666.3v3.8M231.6,664.3h3.8M233.5,662.4v3.8M258.5,696.6h3.8M260.4,694.7v3.8M221.0,643.7h3.8M222.9,641.8v3.8M271.4,706.2h3.8M273.3,704.3v3.8M241.0,681.6h3.8M242.9,679.7v3.8M248.1,690.5h3.8M250.0,688.6v3.8M240.3,680.8h3.8M242.2,678.9v3.8M262.1,698.7h3.8M264.0,696.8v3.8M261.3,698.1h3.8M263.2,696.2v3.8M245.6,688.5h3.8M247.5,686.6v3.8" stroke="#222" stroke-width="0.55"/>
<path d="M262.3,698.7h3.8M264.2,696.8v3.8M287.0,708.0h3.8M288.9,706.1v3.8M301.1,708.0h3.8M303.0,706.1v3.8M253.9,694.6h3.8M255.8,692.7v3.8M288.4,708.0h3.8M290.3,706.1v3.8M311.8,708.0h3.8M313.7,706.1v3.8M260.8,697.8h3.8M262.7,695.9v3.8M236.2,673.2h3.8M238.1,671.3v3.8" stroke="#888" stroke-width="0.55"/>
<text x="358.30" y="615.30" font-size="17" font-weight="bold">L</text>
<rect x="374.50" y="620.40" width="141.00" height="106.80" fill="none" stroke="#9a9a9a" stroke-width="0.8"/>
<text x="446.00" y="618.00" font-size="7.4" text-anchor="middle" fill="#111">HMGA1</text>
<line x1="372.30" y1="625.50" x2="374.50" y2="625.50" stroke="#666" stroke-width="0.6"/>
<text x="371.90" y="627.70" font-size="6.2" text-anchor="end" fill="#222">1.0</text>
<line x1="372.30" y1="644.90" x2="374.50" y2="644.90" stroke="#666" stroke-width="0.6"/>
<text x="371.90" y="647.10" font-size="6.2" text-anchor="end" fill="#222">0.8</text>
<line x1="372.30" y1="664.30" x2="374.50" y2="664.30" stroke="#666" stroke-width="0.6"/>
<text x="371.90" y="666.50" font-size="6.2" text-anchor="end" fill="#222">0.6</text>
<line x1="372.30" y1="683.70" x2="374.50" y2="683.70" stroke="#666" stroke-width="0.6"/>
<text x="371.90" y="685.90" font-size="6.2" text-anchor="end" fill="#222">0.4</text>
<line x1="372.30" y1="703.10" x2="374.50" y2="703.10" stroke="#666" stroke-width="0.6"/>
<text x="371.90" y="705.30" font-size="6.2" text-anchor="end" fill="#222">0.2</text>
<line x1="372.30" y1="722.50" x2="374.50" y2="722.50" stroke="#666" stroke-width="0.6"/>
<text x="371.90" y="724.70" font-size="6.2" text-anchor="end" fill="#222">0.0</text>
<line x1="380.50" y1="727.20" x2="380.50" y2="729.20" stroke="#666" stroke-width="0.6"/>
<text x="380.50" y="734.20" font-size="6.2" text-anchor="middle" fill="#222">0</text>
<line x1="405.20" y1="727.20" x2="405.20" y2="729.20" stroke="#666" stroke-width="0.6"/>
<text x="405.20" y="734.20" font-size="6.2" text-anchor="middle" fill="#222">20</text>
<line x1="429.90" y1="727.20" x2="429.90" y2="729.20" stroke="#666" stroke-width="0.6"/>
<text x="429.90" y="734.20" font-size="6.2" text-anchor="middle" fill="#222">40</text>
<line x1="454.60" y1="727.20" x2="454.60" y2="729.20" stroke="#666" stroke-width="0.6"/>
<text x="454.60" y="734.20" font-size="6.2" text-anchor="middle" fill="#222">60</text>
<line x1="479.30" y1="727.20" x2="479.30" y2="729.20" stroke="#666" stroke-width="0.6"/>
<text x="479.30" y="734.20" font-size="6.2" text-anchor="middle" fill="#222">80</text>
<line x1="504.00" y1="727.20" x2="504.00" y2="729.20" stroke="#666" stroke-width="0.6"/>
<text x="504.00" y="734.20" font-size="6.2" text-anchor="middle" fill="#222">100</text>
<text x="446.00" y="742.30" font-size="7.3" text-anchor="middle" fill="#222">Overall survival (months)</text>
<text transform="translate(359.80 673.8) rotate(-90)" font-size="7.3" text-anchor="middle" fill="#222">Probability</text>
<text x="511.00" y="627.60" font-size="6.3" text-anchor="end" fill="#222">HR = 1.34 (1.02 - 1.76)</text>
<text x="511.00" y="633.90" font-size="6.3" text-anchor="end" fill="#222">Logrank P = 0.0364</text>
<text x="447.00" y="647.20" font-size="6.3" fill="#222">Expression</text>
<line x1="482.50" y1="640.80" x2="494.30" y2="640.80" stroke="#222" stroke-width="0.8"/>
<line x1="482.50" y1="649.50" x2="494.30" y2="649.50" stroke="#e8241c" stroke-width="0.8"/>
<text x="498.00" y="643.00" font-size="6.3" fill="#222">Low</text>
<text x="498.00" y="651.60" font-size="6.3" fill="#222">High</text>
<circle cx="380.50" cy="722.50" r="0.35" fill="#666"/>
<path d="M380.50,625.50H381.12V626.15H381.74V626.79H382.35V627.44H382.97V628.09H383.59V628.73H384.20V629.38H384.82V631.00H385.44V632.61H386.06V634.23H386.68V635.85H387.29V637.46H387.91V639.08H388.53V640.86H389.14V642.64H389.76V644.41H390.38V646.19H391.00V647.97H391.62V649.75H392.23V651.21H392.85V652.66H393.47V654.12H394.08V655.57H394.70V657.02H395.32V658.48H395.94V660.26H396.56V662.04H397.17V663.82H397.79V665.59H398.41V667.37H399.02V669.15H399.64V671.09H400.26V673.03H400.88V674.97H401.50V676.91H402.11V678.85H402.73V680.79H403.35V681.40H403.96V682.00H404.58V682.61H405.20V683.22H405.82V683.82H406.44V684.43H407.05V685.03H407.67V685.64H408.29V686.12H408.90V686.61H409.52V687.10H410.14V687.58H410.76V688.07H411.38V688.55H411.99V689.03H412.61V689.52H413.23V690.00H413.85V690.49H414.46V690.98H415.08V691.46H415.70V692.03H416.31V692.59H416.93V693.16H417.55V693.72H418.17V694.29H418.78V694.86H419.40V695.42H420.02V695.99H420.64V696.55H421.25V697.12H421.87V697.68H422.49V698.25H423.11V698.74H423.73V699.22H424.34V699.71H424.96V700.19H425.58V700.67H426.19V701.16H426.81V701.64H427.43V702.13H428.05V702.62H428.67V703.10H429.28V703.59H429.90V704.07H430.52V704.80H431.13V705.52H431.75V706.25H432.37V706.98H432.99V707.71H433.61V708.43H434.22V709.16H434.84V709.89H435.46V710.50H436.07V711.10H436.69V711.71H437.31V712.32H437.93V712.92H438.55V713.53H439.16V714.13H439.78V714.74H440.40V714.74H441.01V714.74H441.63V714.74H442.25V714.74H442.87V714.74H443.49V714.74H444.10V714.74H444.72V714.74H445.34V714.74H445.95V714.74H446.57V714.74H447.19V714.74H447.81V714.74H448.43V714.74H449.04V714.74H449.66V714.74H450.28V714.74H450.89V714.74H451.51V714.74H452.13V714.74H452.75V714.74H453.37V714.74H453.98V714.74H454.60V714.74H455.22V714.74H455.84V714.74H456.45V714.74H457.07V714.74H457.69V716.68H458.31V718.62H458.92V718.62H459.54V718.62H460.16V718.62H460.77V718.62H461.39V718.62H462.01V718.62H462.63V718.62H463.25V718.62H463.86V718.62H464.48V718.62H465.10V718.62H465.72V718.62H466.33V718.62H466.95V718.62H467.57V718.62H468.19V718.62H468.80V718.62H469.42V718.62H470.04V718.62H470.65V718.62H471.27V718.62H471.89V718.62H472.51V718.62H473.12V718.62H473.74V718.62H474.36V718.62H474.98V718.62H475.60V718.62H476.21V718.62H476.83V718.62H477.45V718.62H478.06V718.62H478.68V718.62H479.30V718.62H479.92V718.62H480.53V718.62H481.15V718.62H481.77V718.62H482.39V718.62H483.00V718.62H483.62V718.62H484.24V718.62H484.86V718.62H485.48V718.62H486.09V718.62H486.71V718.62H487.33V718.62H487.94V718.62H488.56V718.62H489.18V718.62H489.80V718.62H490.41V718.62H491.03V718.62H491.65V718.62H492.27V718.62H492.88V718.62H493.50V718.62H494.12V718.62H494.74V718.62H495.36V718.62H495.97V718.62H496.59V718.62H497.21V718.62H497.82V718.62H498.44V718.62H499.06V718.62H499.68V718.62H500.30V718.62H500.91V718.62H501.53V718.62H502.15V718.62H502.76V718.62H503.38V718.62H504.00V718.62H504.62V718.62H505.24V718.62H505.85V718.62H506.47V718.62H507.09V718.62H507.70V718.62H508.32V718.62H508.94V718.62H509.56V718.62H510.18V718.62" fill="none" stroke="#e8241c" stroke-width="1.0"/>
<path d="M380.50,625.50H381.12V625.99H381.74V626.47H382.35V626.96H382.97V627.44H383.59V627.92H384.20V628.41H384.82V629.54H385.44V630.67H386.06V631.80H386.68V632.94H387.29V634.07H387.91V635.20H388.53V636.82H389.14V638.43H389.76V640.05H390.38V641.67H391.00V643.28H391.62V644.90H392.23V646.19H392.85V647.49H393.47V648.78H394.08V650.07H394.70V651.37H395.32V652.66H395.94V653.87H396.56V655.09H397.17V656.30H397.79V657.51H398.41V658.72H399.02V659.93H399.64V661.15H400.26V662.36H400.88V662.97H401.50V663.57H402.11V664.18H402.73V664.78H403.35V665.39H403.96V666.00H404.58V666.60H405.20V667.21H405.82V668.34H406.44V669.47H407.05V670.61H407.67V671.74H408.29V672.87H408.90V674.00H409.52V675.94H410.14V677.88H410.76V679.82H411.38V681.76H411.99V683.70H412.61V685.64H413.23V686.25H413.85V686.85H414.46V687.46H415.08V688.07H415.70V688.67H416.31V689.28H416.93V689.88H417.55V690.49H418.17V690.73H418.78V690.98H419.40V691.22H420.02V691.46H420.64V691.70H421.25V691.95H421.87V692.19H422.49V692.43H423.11V692.67H423.73V692.91H424.34V693.16H424.96V693.40H425.58V693.72H426.19V694.05H426.81V694.37H427.43V694.69H428.05V695.02H428.67V695.34H429.28V695.66H429.90V695.99H430.52V696.31H431.13V696.63H431.75V696.96H432.37V697.28H432.99V697.60H433.61V697.93H434.22V698.25H434.84V698.57H435.46V698.90H436.07V699.22H436.69V699.54H437.31V699.87H437.93V700.19H438.55V700.51H439.16V700.84H439.78V701.16H440.40V701.77H441.01V702.37H441.63V702.98H442.25V703.59H442.87V704.19H443.49V704.80H444.10V705.40H444.72V706.01H445.34V706.01H445.95V706.01H446.57V706.01H447.19V706.01H447.81V706.01H448.43V706.01H449.04V706.01H449.66V706.01H450.28V706.01H450.89V706.01H451.51V706.01H452.13V706.01H452.75V706.01H453.37V706.01H453.98V706.01H454.60V706.01H455.22V706.01H455.84V706.01H456.45V706.01H457.07V706.01H457.69V706.01H458.31V706.01H458.92V706.01H459.54V706.01H460.16V706.01H460.77V706.01H461.39V706.01H462.01V706.01H462.63V706.01H463.25V706.01H463.86V706.01H464.48V706.01H465.10V706.01H465.72V706.01H466.33V706.01H466.95V706.01H467.57V706.01H468.19V706.01H468.80V706.01H469.42V706.01H470.04V706.01H470.65V706.01H471.27V706.01H471.89V706.01H472.51V706.01H473.12V706.01H473.74V706.01H474.36V706.01H474.98V706.01H475.60V706.01H476.21V706.01H476.83V706.01H477.45V706.01H478.06V706.01H478.68V706.01H479.30V706.01H479.92V706.01H480.53V706.01H481.15V706.01H481.77V706.01H482.39V706.01H483.00V706.01H483.62V706.01H484.24V706.01H484.86V706.01H485.48V706.01H486.09V706.01H486.71V706.01H487.33V706.01H487.94V706.01H488.56V706.01H489.18V706.01H489.80V706.01H490.41V706.01H491.03V706.01H491.65V706.01H492.27V706.01H492.88V706.01H493.50V706.01H494.12V706.01H494.74V706.01H495.36V706.01H495.97V706.01H496.59V706.01H497.21V706.01H497.82V706.01H498.44V706.01H499.06V706.01H499.68V706.01H500.30V706.01H500.91V706.01H501.53V706.01H502.15V706.01H502.76V706.01H503.38V706.01H504.00V706.01H504.62V706.01H505.24V706.01H505.85V706.01H506.47V706.01H507.09V706.01H507.70V706.01H508.32V706.01H508.94V706.01H509.56V706.01H510.18V706.01" fill="none" stroke="#222" stroke-width="1.0"/>
<text x="380.30" y="750.90" font-size="5.2" text-anchor="end" fill="#222">At risk</text>
<text x="368.80" y="756.50" font-size="5.2" text-anchor="end" fill="#222">Low</text>
<text x="368.80" y="761.40" font-size="5.2" text-anchor="end" fill="#e8241c">High</text>
<text x="380.20" y="756.50" font-size="5.2" text-anchor="end" fill="#222">147</text>
<text x="380.20" y="761.40" font-size="5.2" text-anchor="end" fill="#e8241c">147</text>
<text x="404.90" y="756.50" font-size="5.2" text-anchor="end" fill="#222">62</text>
<text x="404.90" y="761.40" font-size="5.2" text-anchor="end" fill="#e8241c">51</text>
<text x="429.60" y="756.50" font-size="5.2" text-anchor="end" fill="#222">20</text>
<text x="429.60" y="761.40" font-size="5.2" text-anchor="end" fill="#e8241c">9</text>
<text x="454.30" y="756.50" font-size="5.2" text-anchor="end" fill="#222">6</text>
<text x="454.30" y="761.40" font-size="5.2" text-anchor="end" fill="#e8241c">2</text>
<text x="479.00" y="756.50" font-size="5.2" text-anchor="end" fill="#222">1</text>
<text x="479.00" y="761.40" font-size="5.2" text-anchor="end" fill="#e8241c">1</text>
<text x="503.70" y="756.50" font-size="5.2" text-anchor="end" fill="#222">1</text>
<text x="503.70" y="761.40" font-size="5.2" text-anchor="end" fill="#e8241c">1</text>
<path d="M393.5,658.5h3.8M395.4,656.6v3.8M421.5,698.7h3.8M423.4,696.8v3.8M419.0,696.6h3.8M420.9,694.7v3.8M435.5,712.3h3.8M437.4,710.4v3.8M429.4,705.5h3.8M431.3,703.6v3.8M393.9,658.5h3.8M395.8,656.6v3.8M390.8,651.2h3.8M392.7,649.3v3.8M394.8,662.0h3.8M396.7,660.1v3.8M390.7,651.2h3.8M392.6,649.3v3.8M420.7,698.2h3.8M422.6,696.4v3.8M429.7,705.5h3.8M431.6,703.6v3.8M432.1,708.4h3.8M434.0,706.5v3.8M394.6,660.3h3.8M396.5,658.4v3.8M430.0,706.3h3.8M431.9,704.4v3.8M398.0,671.1h3.8M399.9,669.2v3.8M404.4,683.8h3.8M406.3,681.9v3.8M422.1,699.2h3.8M424.0,697.3v3.8M384.8,635.8h3.8M386.7,633.9v3.8M385.2,635.8h3.8M387.1,633.9v3.8M428.2,704.1h3.8M430.1,702.2v3.8M396.8,667.4h3.8M398.7,665.5v3.8M400.5,678.9h3.8M402.4,677.0v3.8M413.5,691.5h3.8M415.4,689.6v3.8M419.0,696.6h3.8M420.9,694.7v3.8M380.2,626.8h3.8M382.1,624.9v3.8M399.3,675.0h3.8M401.2,673.1v3.8M405.2,685.0h3.8M407.1,683.1v3.8M408.0,687.1h3.8M409.9,685.2v3.8M392.0,654.1h3.8M393.9,652.2v3.8M413.8,691.5h3.8M415.7,689.6v3.8M435.3,711.7h3.8M437.2,709.8v3.8M402.5,682.0h3.8M404.4,680.1v3.8M411.4,690.0h3.8M413.3,688.1v3.8M386.8,640.9h3.8M388.7,639.0v3.8M395.8,663.8h3.8M397.7,661.9v3.8M418.5,696.0h3.8M420.4,694.1v3.8M386.4,639.1h3.8M388.3,637.2v3.8M431.3,707.7h3.8M433.2,705.8v3.8M432.6,709.2h3.8M434.5,707.3v3.8M385.5,637.5h3.8M387.4,635.6v3.8M434.5,711.1h3.8M436.4,709.2v3.8M401.6,681.4h3.8M403.5,679.5v3.8M424.7,701.2h3.8M426.6,699.3v3.8M423.8,700.7h3.8M425.7,698.8v3.8M397.0,667.4h3.8M398.9,665.5v3.8M419.1,696.6h3.8M421.0,694.7v3.8M417.8,695.4h3.8M419.7,693.5v3.8M426.6,702.6h3.8M428.5,700.7v3.8M395.3,662.0h3.8M397.2,660.1v3.8M423.6,700.2h3.8M425.5,698.3v3.8M435.6,712.3h3.8M437.5,710.4v3.8M418.9,696.6h3.8M420.8,694.7v3.8M411.0,689.5h3.8M412.9,687.6v3.8M386.4,639.1h3.8M388.3,637.2v3.8M408.5,687.6h3.8M410.4,685.7v3.8M400.3,678.9h3.8M402.2,677.0v3.8M421.5,698.7h3.8M423.4,696.8v3.8M419.2,696.6h3.8M421.1,694.7v3.8M412.7,691.0h3.8M414.6,689.1v3.8M390.4,651.2h3.8M392.3,649.3v3.8M417.3,694.9h3.8M419.2,693.0v3.8M416.5,694.3h3.8M418.4,692.4v3.8M390.2,649.8h3.8M392.1,647.9v3.8M431.5,707.7h3.8M433.4,705.8v3.8M417.9,695.4h3.8M419.8,693.5v3.8M387.0,640.9h3.8M388.9,639.0v3.8M433.9,710.5h3.8M435.8,708.6v3.8M388.0,644.4h3.8M389.9,642.5v3.8M399.1,675.0h3.8M401.0,673.1v3.8M421.7,698.7h3.8M423.6,696.8v3.8" stroke="#f26a6a" stroke-width="0.55"/>
<path d="M456.6,718.6h3.8M458.5,716.7v3.8M451.1,714.7h3.8M453.0,712.8v3.8" stroke="#e8241c" stroke-width="0.55"/>
<path d="M420.6,692.4h3.8M422.5,690.5v3.8M408.7,677.9h3.8M410.6,676.0v3.8M399.5,663.0h3.8M401.4,661.1v3.8M390.9,646.2h3.8M392.8,644.3v3.8M384.2,630.7h3.8M386.1,628.8v3.8M424.9,694.4h3.8M426.8,692.5v3.8M427.4,695.3h3.8M429.3,693.4v3.8M414.0,688.7h3.8M415.9,686.8v3.8M426.4,695.0h3.8M428.3,693.1v3.8M402.5,666.0h3.8M404.4,664.1v3.8M396.6,658.7h3.8M398.5,656.8v3.8M404.0,668.3h3.8M405.9,666.4v3.8M434.8,699.2h3.8M436.7,697.3v3.8M382.5,628.4h3.8M384.4,626.5v3.8M411.6,686.2h3.8M413.5,684.3v3.8M395.4,656.3h3.8M397.3,654.4v3.8M428.3,696.0h3.8M430.2,694.1v3.8M402.1,666.0h3.8M404.0,664.1v3.8M400.8,664.2h3.8M402.7,662.3v3.8M405.2,670.6h3.8M407.1,668.7v3.8M413.9,688.7h3.8M415.8,686.8v3.8M428.4,696.0h3.8M430.3,694.1v3.8M402.1,665.4h3.8M404.0,663.5v3.8M433.2,698.6h3.8M435.1,696.7v3.8M386.9,636.8h3.8M388.8,634.9v3.8M396.9,658.7h3.8M398.8,656.8v3.8M386.1,635.2h3.8M388.0,633.3v3.8M386.9,636.8h3.8M388.8,634.9v3.8M428.9,696.3h3.8M430.8,694.4v3.8M425.6,694.7h3.8M427.5,692.8v3.8M391.5,647.5h3.8M393.4,645.6v3.8M391.7,648.8h3.8M393.6,646.9v3.8M406.1,671.7h3.8M408.0,669.8v3.8M426.7,695.0h3.8M428.6,693.1v3.8M431.2,697.6h3.8M433.1,695.7v3.8M427.0,695.3h3.8M428.9,693.4v3.8M417.1,691.0h3.8M419.0,689.1v3.8M389.1,641.7h3.8M391.0,639.8v3.8M404.9,669.5h3.8M406.8,667.6v3.8M392.0,648.8h3.8M393.9,646.9v3.8M413.1,687.5h3.8M415.0,685.6v3.8M415.6,689.9h3.8M417.5,688.0v3.8M392.6,650.1h3.8M394.5,648.2v3.8M395.6,656.3h3.8M397.5,654.4v3.8M429.1,696.3h3.8M431.0,694.4v3.8" stroke="#222" stroke-width="0.55"/>
<path d="M383.7,630.7h3.8M385.6,628.8v3.8M483.0,706.0h3.8M484.9,704.1v3.8M494.3,706.0h3.8M496.2,704.1v3.8M501.8,706.0h3.8M503.7,704.1v3.8M429.0,696.3h3.8M430.9,694.4v3.8" stroke="#999" stroke-width="0.55"/>
<text x="520.20" y="615.30" font-size="17" font-weight="bold">M</text>
<path d="M604.8 722.2h.7M604.2 720.8h.7M619.4 709.6h.7M604.6 708.4h.7M601.6 706.8h.7M625.7 715.8h.7M599.2 721.1h.7M604.3 708.9h.7M602.0 696.1h.7M601.7 704.6h.7M592.0 709.0h.7M592.6 711.2h.7M605.1 720.7h.7M591.0 722.6h.7M599.8 708.0h.7M587.3 713.1h.7M600.2 716.8h.7M621.3 711.5h.7M623.6 718.0h.7M600.5 720.6h.7M621.2 712.8h.7M581.0 709.4h.7M626.8 717.2h.7M603.4 710.2h.7M605.0 722.6h.7M630.4 717.2h.7M625.5 715.5h.7M621.4 719.3h.7M624.4 712.2h.7M584.3 699.8h.7M602.8 721.9h.7M626.3 707.9h.7M600.9 709.5h.7M622.0 717.4h.7M602.6 694.9h.7M653.7 710.2h.7M604.5 723.0h.7M626.4 722.9h.7M600.9 721.1h.7M601.8 707.0h.7M642.8 718.3h.7M622.7 697.5h.7M601.1 716.2h.7M598.3 706.1h.7M599.8 710.3h.7M602.9 716.0h.7M623.8 717.2h.7M623.5 709.5h.7M604.4 709.6h.7M619.5 714.9h.7M597.0 710.9h.7M605.5 701.1h.7M648.3 712.2h.7M604.1 721.6h.7M604.9 714.4h.7M626.8 720.3h.7M599.8 707.7h.7M601.4 718.4h.7M619.7 711.0h.7M620.6 713.5h.7M603.8 708.1h.7M660.3 682.1h.7M621.0 723.0h.7M595.2 704.4h.7M603.8 704.8h.7M620.2 719.3h.7M604.5 714.6h.7M619.9 721.1h.7M622.0 707.2h.7M620.3 710.6h.7M605.5 708.5h.7M627.7 718.9h.7M598.3 719.6h.7M591.0 706.5h.7M604.6 702.0h.7M621.6 710.5h.7M619.9 719.1h.7M602.8 711.1h.7M593.9 721.5h.7M622.3 722.6h.7M630.5 723.0h.7M599.1 712.2h.7M597.7 712.4h.7M605.2 703.9h.7M587.6 712.6h.7M592.2 719.0h.7M598.9 699.5h.7M639.6 704.7h.7M596.1 710.8h.7M632.4 709.6h.7M620.6 700.9h.7M622.5 694.4h.7M593.0 699.1h.7M594.5 690.2h.7M627.7 721.9h.7M602.6 716.1h.7M635.0 716.1h.7M604.3 721.0h.7M623.3 711.3h.7M621.4 705.6h.7M620.8 715.7h.7M619.7 722.4h.7M620.6 700.9h.7M604.4 701.2h.7M603.5 717.6h.7M604.9 715.7h.7M604.5 701.9h.7M603.4 698.7h.7M619.3 722.8h.7M595.0 713.8h.7M623.1 721.9h.7M632.7 718.7h.7M601.5 715.8h.7M626.2 708.4h.7M605.1 708.1h.7M596.4 721.3h.7M605.0 704.5h.7M620.6 708.0h.7M587.9 694.5h.7M596.4 704.5h.7M619.3 712.2h.7M670.3 709.0h.7M619.3 722.9h.7M604.3 721.6h.7M620.7 715.7h.7M624.3 721.8h.7M592.9 718.2h.7M625.8 710.3h.7M624.6 721.3h.7M622.3 709.9h.7M596.9 722.4h.7M601.2 717.9h.7M598.7 691.2h.7M620.8 716.9h.7M635.1 716.8h.7M593.7 700.8h.7M601.4 721.7h.7M637.8 711.7h.7M622.3 715.4h.7M671.8 705.3h.7M590.4 718.1h.7M595.9 718.4h.7M604.3 709.2h.7M626.2 701.5h.7M622.3 722.3h.7M619.6 719.4h.7M625.9 719.6h.7M598.5 713.6h.7M622.4 711.2h.7M620.5 720.4h.7M640.3 722.2h.7M604.8 714.5h.7M596.1 710.0h.7M621.1 713.5h.7M631.8 718.9h.7M603.0 720.3h.7M592.7 705.3h.7M604.6 715.8h.7M600.6 705.3h.7M604.7 701.5h.7M620.1 699.6h.7M598.9 710.1h.7M621.7 719.9h.7M603.9 703.6h.7M592.0 705.9h.7M571.8 698.9h.7M628.1 714.1h.7M605.5 719.4h.7M605.6 722.0h.7M585.3 718.6h.7M604.4 716.4h.7M582.9 704.5h.7M601.9 712.3h.7M602.3 715.5h.7M621.3 719.9h.7M604.7 706.2h.7M594.6 721.2h.7M632.8 695.0h.7M602.4 719.9h.7M604.7 710.8h.7M622.8 715.2h.7M604.4 702.8h.7M622.2 719.8h.7M597.8 708.7h.7M599.2 706.2h.7M595.4 703.9h.7M602.6 688.8h.7M595.4 711.0h.7M604.7 719.5h.7M600.5 721.5h.7M625.7 717.4h.7M602.3 719.2h.7M603.8 721.8h.7M620.3 720.0h.7M605.1 720.4h.7M605.5 715.2h.7M596.5 719.6h.7M598.0 699.6h.7M633.7 702.1h.7M604.9 713.7h.7M603.2 714.5h.7M590.6 710.4h.7M575.8 714.2h.7M620.8 714.0h.7M597.6 714.8h.7M600.5 714.8h.7M576.7 715.5h.7M605.0 710.2h.7M623.2 712.2h.7M660.4 712.7h.7M594.6 717.1h.7M626.0 714.0h.7M599.6 700.9h.7M596.7 718.1h.7M621.3 700.1h.7M605.6 714.2h.7M619.7 706.7h.7M601.5 697.7h.7M603.0 718.3h.7M628.7 723.0h.7M622.9 708.8h.7M622.8 706.5h.7M605.1 723.2h.7M583.4 712.2h.7M604.2 705.3h.7M624.5 704.7h.7M604.1 717.7h.7M605.2 716.7h.7M603.7 707.0h.7M595.1 714.4h.7M593.3 703.1h.7M591.9 722.4h.7M622.0 713.6h.7M620.2 713.1h.7M600.5 698.5h.7M589.6 715.2h.7M668.8 698.9h.7M599.1 714.7h.7M622.1 717.3h.7M600.6 710.4h.7M587.4 705.2h.7M581.9 698.7h.7M593.2 715.0h.7M629.1 693.1h.7M623.8 718.7h.7M585.5 695.9h.7M623.4 716.0h.7M622.2 706.4h.7M625.9 719.9h.7M622.1 717.7h.7M619.5 706.6h.7M624.1 708.8h.7M621.8 693.7h.7M605.6 714.8h.7M601.2 720.1h.7M620.3 705.4h.7M621.0 714.2h.7M605.4 703.8h.7M648.7 697.7h.7M593.7 717.9h.7M630.5 723.0h.7M602.9 708.5h.7M598.7 705.3h.7M628.6 712.5h.7M632.1 715.9h.7M599.1 719.0h.7M591.8 682.5h.7M624.4 700.3h.7M621.3 719.8h.7M602.1 708.5h.7M625.8 721.4h.7M622.1 721.5h.7M645.5 693.7h.7M622.0 705.4h.7M590.9 717.6h.7M623.9 709.6h.7M624.5 713.7h.7M628.4 718.5h.7M604.6 709.3h.7M599.9 705.4h.7M619.3 716.2h.7M600.3 716.9h.7M604.1 705.3h.7M624.3 710.3h.7M635.4 715.6h.7M620.7 708.4h.7M602.0 722.1h.7M602.5 707.7h.7M635.8 709.7h.7M627.0 687.8h.7M599.5 690.3h.7M589.2 714.6h.7M594.5 712.0h.7M605.4 722.3h.7M654.7 700.4h.7M595.7 709.3h.7M621.6 705.7h.7M625.0 715.9h.7M619.6 716.2h.7M602.3 700.2h.7M601.1 698.6h.7M602.2 720.0h.7M620.0 721.9h.7M598.1 719.9h.7M598.4 722.5h.7M622.9 721.2h.7M638.2 714.3h.7M622.5 709.6h.7M604.6 708.1h.7M623.0 699.8h.7M600.9 704.5h.7M602.4 716.2h.7M602.3 688.9h.7M603.3 711.5h.7M576.2 714.0h.7M624.4 719.2h.7M602.5 717.4h.7M600.7 700.7h.7M604.8 717.7h.7M645.6 716.4h.7M620.7 711.1h.7M627.6 719.0h.7M590.9 685.2h.7M629.6 712.3h.7M645.1 721.4h.7M626.7 693.2h.7M593.5 716.5h.7M601.9 719.6h.7M601.4 722.8h.7M589.6 707.6h.7M619.5 722.3h.7M619.6 710.4h.7M604.5 715.0h.7M602.8 716.0h.7M603.3 719.7h.7M623.6 702.3h.7M625.2 717.0h.7M601.3 719.3h.7M620.7 719.6h.7M601.7 699.0h.7M633.1 692.7h.7M619.3 717.6h.7M622.9 702.9h.7M603.1 714.7h.7M619.8 693.0h.7M589.3 715.2h.7M598.8 701.6h.7M600.2 717.2h.7M603.0 697.0h.7M603.0 702.8h.7M599.3 722.7h.7M620.4 699.2h.7M599.7 706.3h.7M623.9 710.9h.7M620.7 719.7h.7M592.7 719.2h.7M589.7 721.1h.7M605.4 711.1h.7M604.5 712.1h.7M585.9 714.3h.7M627.0 709.2h.7M630.1 720.8h.7M628.8 717.8h.7M605.2 707.2h.7M603.7 719.3h.7M604.6 707.1h.7M590.1 720.2h.7M605.1 713.1h.7M651.4 705.8h.7M603.8 698.5h.7M603.7 699.6h.7M625.4 719.0h.7M605.0 702.9h.7M603.8 701.1h.7M639.7 683.6h.7M578.0 714.4h.7M621.6 715.0h.7M623.1 711.9h.7M603.6 715.3h.7M602.6 690.3h.7M632.6 714.2h.7M581.5 712.2h.7M598.8 719.1h.7M601.8 717.8h.7M622.2 702.7h.7M629.0 699.1h.7M629.5 709.5h.7M603.8 708.7h.7M600.8 715.1h.7M641.3 716.1h.7M600.5 720.1h.7M579.1 684.2h.7M620.9 709.5h.7M603.8 700.9h.7M603.5 716.2h.7M620.8 708.2h.7M604.6 716.3h.7M620.8 717.1h.7M604.3 710.4h.7M599.5 714.5h.7M631.0 719.3h.7M621.5 715.1h.7M604.1 694.5h.7M619.7 703.3h.7M602.9 712.5h.7M583.6 692.6h.7M604.8 720.9h.7M621.4 701.0h.7M622.2 708.0h.7M627.3 723.2h.7M591.6 713.5h.7M624.9 709.9h.7M622.2 721.2h.7M605.4 718.3h.7M620.0 705.0h.7M622.5 716.9h.7M621.7 721.4h.7M598.6 723.1h.7M588.8 717.8h.7M644.2 720.8h.7M623.8 702.2h.7M605.3 721.7h.7M622.2 720.0h.7M605.1 714.3h.7M600.5 718.9h.7M582.3 706.8h.7M603.1 715.3h.7M622.0 715.3h.7M623.3 689.4h.7M598.1 699.6h.7M604.7 711.2h.7M625.1 706.0h.7M601.9 722.6h.7M599.4 710.0h.7M600.3 693.2h.7M622.4 704.1h.7M620.9 700.8h.7M621.0 706.9h.7M622.0 710.6h.7M621.8 690.2h.7M600.1 711.3h.7M579.7 713.9h.7M603.1 715.7h.7M599.3 716.2h.7M583.7 719.1h.7M621.3 706.5h.7M626.2 721.7h.7M599.1 710.2h.7M620.6 721.8h.7M620.7 720.4h.7M598.5 713.0h.7M625.0 707.1h.7M601.3 711.4h.7M655.8 701.6h.7M604.9 713.2h.7M619.2 720.7h.7M603.3 717.7h.7M587.7 716.0h.7M605.0 699.4h.7M637.2 720.8h.7M619.8 723.0h.7M593.5 713.6h.7M571.8 697.8h.7M630.8 722.1h.7M623.2 716.3h.7M597.4 691.6h.7M620.2 705.0h.7M624.6 710.5h.7M595.0 720.1h.7M625.6 706.4h.7M625.9 714.2h.7M603.4 710.4h.7M624.7 717.5h.7M602.6 707.5h.7M622.6 721.3h.7M598.2 713.4h.7M604.9 691.5h.7M619.2 720.4h.7M620.1 715.4h.7M584.8 710.5h.7M600.4 707.6h.7M599.6 696.0h.7M600.6 706.1h.7M621.6 720.1h.7M605.0 720.3h.7M623.7 718.7h.7M587.7 709.6h.7M620.4 719.7h.7M665.7 697.3h.7M593.8 715.3h.7M595.4 721.8h.7M605.0 708.7h.7M602.0 689.7h.7M601.4 721.9h.7M584.9 705.4h.7M627.0 721.2h.7M622.9 685.0h.7M621.9 710.6h.7M622.1 714.7h.7M623.6 714.2h.7M622.8 720.8h.7M604.4 718.1h.7M621.7 719.7h.7M634.6 719.5h.7M621.8 721.0h.7M621.5 703.8h.7M605.4 718.8h.7M623.4 721.0h.7M602.7 714.4h.7M599.9 703.8h.7M591.5 690.8h.7M601.7 706.2h.7M623.9 721.7h.7M602.6 718.4h.7M630.9 715.6h.7M605.1 697.7h.7M600.4 690.8h.7M627.1 703.2h.7M625.7 712.5h.7M620.8 718.1h.7M605.2 720.8h.7M650.1 705.8h.7M659.3 707.4h.7M603.5 721.6h.7M578.6 710.9h.7M595.7 717.3h.7M604.8 706.7h.7M602.3 718.6h.7M639.6 701.1h.7M604.4 716.6h.7M642.1 697.5h.7M600.5 720.5h.7M630.6 694.6h.7M622.5 707.6h.7M596.8 705.5h.7M620.8 702.1h.7M582.8 703.8h.7M605.5 723.1h.7M568.2 693.1h.7M630.7 717.2h.7M623.0 721.5h.7M625.0 705.9h.7M622.2 717.1h.7M604.9 707.6h.7M626.2 710.8h.7M604.5 722.8h.7M585.7 710.2h.7M635.8 709.6h.7M624.4 697.5h.7M638.9 717.1h.7M623.0 707.1h.7M625.6 718.2h.7M626.1 708.5h.7M603.8 713.7h.7M605.4 717.8h.7M596.5 719.4h.7M600.8 715.0h.7M590.2 719.6h.7M597.2 711.5h.7M599.3 720.2h.7M604.3 723.0h.7M636.9 718.7h.7M623.1 719.9h.7M604.1 715.6h.7M631.7 712.9h.7M602.5 720.1h.7M621.7 703.4h.7M620.1 716.9h.7M599.5 704.3h.7M603.3 714.9h.7M626.3 720.7h.7M587.1 708.0h.7M624.6 716.9h.7M619.9 722.8h.7M604.8 721.3h.7M562.8 685.4h.7M620.9 715.0h.7M604.8 711.4h.7M621.0 717.3h.7M621.9 718.3h.7M603.9 699.3h.7M623.6 715.6h.7M621.0 695.8h.7M603.5 718.1h.7M601.4 707.9h.7M619.7 707.1h.7M599.3 705.2h.7M629.3 722.6h.7M630.7 722.3h.7M599.8 708.4h.7M605.6 718.5h.7M620.6 708.3h.7M604.8 710.1h.7M594.0 702.3h.7M624.3 707.6h.7M603.4 721.1h.7M621.8 722.4h.7M605.5 706.7h.7M624.9 721.9h.7M594.1 716.5h.7M620.4 697.0h.7M603.2 717.4h.7M620.9 707.8h.7M600.7 708.6h.7M623.6 713.4h.7M623.0 705.7h.7M623.0 719.3h.7M573.6 710.1h.7M621.0 719.8h.7M619.4 719.8h.7M626.6 723.2h.7M604.7 723.0h.7M599.3 706.1h.7M577.6 698.2h.7M620.8 721.3h.7M619.3 717.3h.7M628.1 715.9h.7M619.3 719.0h.7M621.5 712.4h.7M619.5 722.7h.7M633.0 723.2h.7M602.9 683.4h.7M601.4 722.1h.7M604.4 720.1h.7M586.6 701.6h.7M603.0 720.3h.7M630.1 718.6h.7M627.8 718.9h.7M624.7 712.9h.7M624.2 716.7h.7M597.7 716.9h.7M605.5 717.7h.7M590.4 715.7h.7M623.4 711.7h.7M593.8 720.2h.7M603.7 718.1h.7M620.2 720.4h.7M620.1 703.5h.7M595.3 715.2h.7M605.3 716.8h.7M601.4 713.9h.7M598.7 722.9h.7M604.3 717.4h.7M633.4 706.0h.7M602.7 704.9h.7M625.1 688.4h.7M601.5 709.4h.7M625.1 705.9h.7M623.4 701.3h.7M604.3 707.7h.7M595.3 716.1h.7M599.3 712.5h.7M640.0 699.9h.7M604.7 715.0h.7M619.2 712.7h.7M601.0 705.9h.7M623.8 715.9h.7M634.7 716.5h.7M603.9 708.6h.7M604.4 705.5h.7M588.1 722.1h.7M598.2 706.0h.7M631.5 702.3h.7M605.2 722.1h.7M621.6 711.5h.7M605.3 717.2h.7M601.7 694.9h.7M602.2 721.0h.7M620.3 720.2h.7M601.0 706.3h.7M603.8 720.9h.7M623.0 704.1h.7M619.3 719.1h.7M599.9 721.4h.7M605.4 707.4h.7M594.9 677.3h.7M626.2 700.9h.7M646.6 695.2h.7M602.5 718.3h.7M602.8 719.9h.7M620.4 716.2h.7M604.6 706.2h.7M603.9 721.8h.7M631.3 714.2h.7M603.4 716.8h.7M600.9 717.3h.7M603.1 720.2h.7M596.8 711.5h.7M620.9 722.5h.7M623.8 701.5h.7M627.7 713.6h.7M592.8 718.4h.7M624.7 716.1h.7M604.1 719.1h.7M601.7 722.9h.7M621.5 715.6h.7M595.4 716.4h.7M620.1 720.4h.7M599.2 712.5h.7M636.0 698.5h.7M641.4 703.0h.7M619.6 713.1h.7M622.0 702.9h.7M600.0 707.3h.7M603.8 715.6h.7M635.1 722.4h.7M583.9 705.8h.7M596.7 715.9h.7M623.5 711.5h.7M620.4 719.6h.7M625.8 706.0h.7M603.8 713.9h.7M627.2 708.4h.7M630.2 708.5h.7M589.9 694.5h.7M625.0 692.5h.7M625.3 715.7h.7M631.2 720.0h.7M621.8 713.8h.7M619.9 717.5h.7M631.1 708.7h.7M631.5 720.1h.7M599.2 717.3h.7M599.2 721.5h.7M572.5 699.1h.7M599.8 717.9h.7M620.3 720.9h.7M621.2 721.5h.7M602.9 697.0h.7M577.6 722.9h.7M603.6 714.6h.7M620.8 720.0h.7M602.8 722.0h.7M605.0 712.3h.7M604.4 696.8h.7M619.5 715.0h.7M605.6 721.3h.7M593.8 714.7h.7M599.8 721.7h.7M622.9 702.5h.7M671.3 699.6h.7M622.3 721.8h.7M630.7 708.4h.7M603.2 708.7h.7M600.6 708.8h.7M621.1 715.2h.7M602.9 693.8h.7M628.8 719.8h.7M602.4 701.5h.7M602.1 714.6h.7M593.0 717.6h.7M625.2 703.3h.7M600.6 713.0h.7M601.5 712.0h.7M630.3 712.8h.7M580.3 703.0h.7M619.5 716.0h.7M602.9 719.9h.7M622.1 708.3h.7M631.7 714.9h.7M622.1 710.9h.7M604.1 704.1h.7M598.3 718.0h.7M597.7 720.5h.7M625.3 721.7h.7M592.9 707.8h.7M571.9 709.9h.7M633.8 709.4h.7M602.1 707.2h.7M622.5 707.6h.7M620.3 718.3h.7M565.8 712.4h.7M604.8 721.8h.7M605.6 705.1h.7M620.2 719.8h.7M599.2 713.7h.7M596.6 711.5h.7M619.9 719.4h.7M594.7 708.9h.7M596.8 719.2h.7M600.6 722.1h.7M605.3 712.5h.7M621.7 710.0h.7M619.2 721.9h.7M604.0 707.9h.7M619.6 717.3h.7M627.4 707.0h.7M604.5 707.4h.7M619.8 716.0h.7M597.9 717.3h.7M596.9 705.1h.7M602.8 717.3h.7M604.2 721.1h.7M579.3 689.8h.7M602.9 706.5h.7M575.6 717.7h.7M585.0 702.8h.7M620.6 722.1h.7M592.0 718.7h.7M622.3 711.9h.7M604.7 711.2h.7M585.5 706.0h.7M598.1 693.5h.7M623.3 710.6h.7M600.2 713.2h.7M621.3 707.5h.7M597.3 711.0h.7M600.8 693.7h.7M619.8 715.2h.7M641.2 717.3h.7M620.7 713.3h.7M602.8 692.4h.7M622.4 720.7h.7M620.7 721.6h.7M624.1 709.3h.7M625.9 722.9h.7M627.7 722.8h.7M599.4 699.6h.7M627.9 717.1h.7M602.8 714.9h.7M629.1 717.0h.7M569.7 677.4h.7M623.7 720.7h.7M622.9 722.6h.7M605.5 717.7h.7M593.9 697.7h.7M619.8 698.3h.7M605.3 715.5h.7M594.9 712.4h.7M546.6 711.4h.7M622.4 709.0h.7M604.3 689.4h.7M596.0 699.5h.7M571.7 687.1h.7M598.3 716.7h.7M603.2 710.6h.7M622.7 721.6h.7M621.5 717.0h.7M626.6 721.2h.7M646.3 703.3h.7M621.6 708.8h.7M604.9 715.0h.7M595.8 722.8h.7M623.0 709.6h.7M596.3 719.6h.7M602.0 711.7h.7M637.0 715.1h.7M594.4 691.3h.7M605.4 692.3h.7M587.0 707.6h.7M584.3 704.4h.7M628.8 720.5h.7M573.1 673.0h.7M601.3 718.8h.7M596.4 709.3h.7M599.3 720.3h.7M619.6 713.7h.7M605.3 722.8h.7M647.1 714.9h.7M605.1 717.3h.7M591.0 704.5h.7M602.4 704.7h.7M619.4 695.9h.7M593.1 702.5h.7M633.2 706.2h.7M633.0 715.4h.7M603.9 707.2h.7M602.7 717.0h.7M604.3 713.6h.7M604.5 723.0h.7M621.3 708.8h.7M604.6 711.6h.7M621.7 714.6h.7M600.3 715.0h.7M597.2 707.1h.7M619.9 715.6h.7M604.9 714.8h.7M601.7 718.1h.7M600.9 700.0h.7M602.6 716.3h.7M635.7 714.2h.7M594.6 723.1h.7M594.1 712.6h.7M601.0 714.2h.7M605.3 710.9h.7M621.8 711.2h.7M604.5 717.2h.7M603.0 710.1h.7M621.1 708.7h.7M620.1 696.0h.7M599.4 721.3h.7M603.3 715.2h.7M619.3 699.2h.7M602.2 708.4h.7M604.5 709.5h.7M621.8 710.5h.7M602.9 723.0h.7M638.0 718.7h.7M639.1 717.7h.7M602.2 717.2h.7M599.4 718.5h.7M596.5 683.3h.7M647.0 714.5h.7M671.0 703.0h.7M602.1 708.5h.7M619.9 717.7h.7M603.2 713.9h.7M623.5 709.5h.7M599.2 721.0h.7M621.6 721.1h.7M630.1 711.7h.7M601.1 720.7h.7M624.5 705.0h.7M598.8 716.2h.7M630.4 703.6h.7M625.8 708.9h.7M600.6 722.1h.7M603.0 711.9h.7M620.0 721.9h.7M593.2 718.2h.7M600.2 722.4h.7M630.8 715.6h.7M620.0 719.3h.7M625.0 714.1h.7M621.0 712.4h.7M600.0 705.8h.7M620.2 722.9h.7M621.7 711.7h.7M591.7 712.3h.7M619.9 714.2h.7M620.1 679.7h.7M642.2 710.3h.7M575.5 717.3h.7M599.9 707.0h.7M605.0 722.2h.7M621.5 703.0h.7M626.0 721.7h.7M586.1 715.9h.7M595.5 711.2h.7M634.4 718.4h.7M592.0 716.7h.7M600.3 710.9h.7M631.0 717.5h.7M629.9 713.0h.7M636.8 713.4h.7M624.1 714.1h.7M603.6 707.2h.7M620.4 720.5h.7M620.5 716.8h.7M603.5 715.3h.7M605.2 696.8h.7M588.7 716.1h.7M620.1 707.7h.7M624.3 705.4h.7M619.4 699.8h.7M602.6 716.7h.7M604.5 714.1h.7M594.2 720.1h.7M620.0 722.6h.7M626.9 716.7h.7M602.5 713.1h.7M624.3 714.4h.7M602.9 717.3h.7M629.5 720.5h.7M623.4 717.2h.7M595.9 718.3h.7M600.6 703.1h.7M621.0 708.6h.7M624.0 719.4h.7M601.3 707.3h.7M643.5 713.0h.7M595.9 720.9h.7M585.9 700.8h.7M623.7 716.1h.7M593.5 721.3h.7M605.3 695.5h.7M604.5 709.9h.7M622.7 695.6h.7M604.6 722.3h.7M601.4 721.8h.7M600.7 717.2h.7M619.2 702.7h.7M638.0 698.3h.7M599.6 721.7h.7M603.9 712.8h.7M558.2 676.4h.7M620.1 716.9h.7M601.6 719.9h.7M625.5 720.9h.7M621.1 721.5h.7M625.6 720.7h.7M603.3 714.2h.7M602.8 715.9h.7M620.4 718.8h.7M622.0 721.7h.7M623.8 706.7h.7M570.4 704.3h.7M601.0 715.1h.7M599.2 709.9h.7M598.7 708.7h.7M603.3 711.3h.7M667.5 668.2h.7M603.3 710.1h.7M596.8 709.9h.7M656.6 700.4h.7M620.8 713.4h.7M573.1 715.5h.7M625.0 707.6h.7M588.2 688.5h.7M599.0 711.8h.7M596.9 713.1h.7M603.9 711.9h.7M622.7 717.3h.7M603.0 705.9h.7M620.1 709.3h.7M626.3 715.2h.7M602.6 713.4h.7M605.4 702.9h.7M579.0 712.8h.7M622.7 719.5h.7M629.5 712.5h.7M620.4 722.6h.7M603.9 695.0h.7M623.3 719.4h.7M648.4 701.3h.7M625.7 719.6h.7M622.2 723.0h.7M620.5 719.7h.7M620.4 696.1h.7M582.6 717.9h.7M582.9 693.4h.7M600.2 721.3h.7M619.7 710.9h.7M600.5 719.6h.7M605.5 713.9h.7M620.3 707.5h.7M601.8 693.2h.7M592.0 703.3h.7M568.5 714.9h.7M619.5 715.5h.7M629.4 722.5h.7M644.9 707.2h.7M621.2 719.5h.7M597.3 718.7h.7M622.0 705.4h.7M604.4 715.1h.7M600.4 723.1h.7M620.4 717.5h.7M603.0 702.2h.7M595.4 720.5h.7M620.2 715.9h.7M626.1 723.1h.7M619.9 696.6h.7M601.0 706.4h.7M623.2 713.4h.7M626.4 722.1h.7M620.8 706.9h.7M619.9 715.8h.7M642.1 713.8h.7M601.6 707.7h.7M597.2 715.7h.7M598.5 717.8h.7M585.0 721.7h.7M598.9 719.8h.7M621.2 717.0h.7M589.7 705.9h.7M630.9 716.2h.7M619.2 717.7h.7M601.3 722.7h.7M604.9 715.6h.7M605.3 712.0h.7M667.6 709.2h.7M624.9 720.7h.7M641.8 720.7h.7M620.0 710.0h.7M603.5 721.0h.7M621.4 717.9h.7M622.6 719.9h.7M631.8 712.0h.7M633.1 711.1h.7M621.9 720.4h.7M625.0 716.6h.7M604.0 692.4h.7M588.6 714.9h.7M619.2 702.8h.7M604.4 720.8h.7M621.1 704.1h.7M595.2 705.5h.7M605.5 720.3h.7M592.8 708.2h.7M626.3 713.2h.7M588.3 703.7h.7M628.2 715.5h.7M603.8 713.1h.7M603.5 722.2h.7M598.3 714.5h.7M547.1 707.4h.7M604.2 685.1h.7M605.4 709.1h.7M600.4 715.7h.7M603.1 722.4h.7M624.0 720.8h.7M604.6 716.4h.7M619.9 719.5h.7M626.1 711.3h.7M664.2 715.0h.7M628.6 716.7h.7M624.9 715.0h.7M620.9 723.1h.7M602.7 717.2h.7M619.7 708.8h.7M588.2 712.1h.7M625.0 708.2h.7M625.2 690.5h.7M620.3 721.3h.7M599.6 715.3h.7M597.6 715.1h.7M591.6 714.5h.7M601.3 712.1h.7M605.6 702.9h.7M653.0 716.1h.7M619.6 711.5h.7M636.7 700.4h.7M621.5 722.4h.7M603.6 714.4h.7M619.5 710.0h.7M593.7 720.4h.7M595.5 718.4h.7M604.2 722.0h.7M578.4 695.1h.7M603.5 705.7h.7M601.3 722.8h.7M600.5 722.9h.7M605.4 707.7h.7M619.2 711.0h.7M643.5 713.8h.7M621.2 713.6h.7M623.4 718.1h.7M602.3 717.3h.7M629.8 717.1h.7M619.8 722.8h.7M603.9 706.3h.7M642.9 699.7h.7M621.0 720.0h.7M595.6 717.1h.7M598.5 709.7h.7M625.0 697.2h.7M604.9 718.8h.7M605.0 709.1h.7M625.7 721.6h.7M623.7 705.1h.7M628.0 717.3h.7M620.6 701.1h.7M605.4 710.5h.7M641.6 697.3h.7M634.1 717.6h.7M603.6 699.5h.7M638.3 686.2h.7M638.0 712.2h.7M601.8 705.5h.7M604.8 704.2h.7M605.3 690.5h.7M621.4 713.3h.7M603.9 701.6h.7M619.7 705.7h.7M632.5 703.8h.7M605.2 722.8h.7M604.6 696.6h.7M601.1 718.3h.7M650.9 711.2h.7M636.4 691.5h.7M597.3 719.1h.7M632.4 716.1h.7M620.3 714.7h.7M604.7 709.4h.7M595.7 708.0h.7M605.6 722.5h.7M605.1 706.2h.7M581.0 700.5h.7M600.7 695.3h.7M604.6 709.9h.7M619.4 694.5h.7M603.8 716.0h.7M635.0 713.4h.7M600.9 717.7h.7M653.4 714.7h.7M620.1 719.3h.7M626.2 684.7h.7M581.2 704.0h.7M634.6 710.5h.7M596.4 718.2h.7M603.8 709.5h.7M621.3 716.3h.7M589.2 697.8h.7M623.1 712.6h.7M578.0 711.0h.7M627.2 718.9h.7M622.0 706.4h.7M627.9 700.9h.7M627.0 709.0h.7M577.0 699.9h.7M598.4 696.8h.7M625.9 712.1h.7M595.7 705.0h.7M621.0 700.9h.7M625.9 709.2h.7M625.0 720.2h.7M603.2 705.2h.7M640.3 698.1h.7M592.5 718.3h.7M602.6 702.0h.7M596.8 694.4h.7M582.8 703.3h.7M604.1 703.9h.7M599.0 709.9h.7M623.5 704.4h.7M597.6 719.6h.7M619.4 717.3h.7M621.7 722.9h.7M632.4 717.4h.7M601.0 712.4h.7M599.3 714.6h.7M633.8 701.9h.7M621.1 712.5h.7M603.8 710.2h.7M623.5 714.9h.7M619.9 709.8h.7M595.9 704.4h.7M591.7 715.1h.7M604.3 691.3h.7M619.4 721.7h.7M605.6 718.7h.7M627.5 709.6h.7M646.6 696.3h.7M601.6 719.1h.7M604.9 716.1h.7M630.5 722.0h.7M642.9 717.2h.7M599.2 711.4h.7M603.9 692.1h.7M619.7 718.2h.7M633.6 722.1h.7M603.1 718.0h.7M599.1 719.1h.7M599.7 721.7h.7M620.8 716.5h.7M589.8 721.3h.7M620.2 717.8h.7M600.8 712.3h.7M590.3 709.6h.7M601.5 711.1h.7M603.7 723.1h.7M595.1 705.8h.7M602.1 719.8h.7M622.1 723.0h.7M625.0 713.1h.7M639.8 714.5h.7M589.7 707.2h.7M619.5 707.3h.7M603.8 715.2h.7M620.5 717.3h.7M603.8 722.0h.7M624.7 695.1h.7M595.0 714.4h.7M633.2 705.9h.7M590.5 721.3h.7M601.5 717.7h.7M619.4 706.5h.7M605.3 721.0h.7M621.9 715.0h.7M603.2 710.0h.7M653.7 717.4h.7M622.3 720.3h.7M630.9 706.3h.7M602.7 721.4h.7M624.2 702.2h.7M603.9 720.5h.7M599.6 692.9h.7M603.1 716.0h.7M628.0 709.9h.7M625.9 721.8h.7M597.9 707.3h.7M647.1 718.4h.7M599.2 708.3h.7M605.1 715.2h.7M595.7 704.4h.7M597.7 694.3h.7M603.7 709.6h.7M619.3 702.8h.7M588.9 720.0h.7M619.5 714.4h.7M604.0 707.5h.7M619.7 697.2h.7M621.8 717.3h.7M602.1 703.6h.7M621.5 705.1h.7M621.1 709.0h.7M619.9 711.8h.7M604.9 718.1h.7M597.1 717.9h.7M603.3 701.0h.7M596.0 719.7h.7M620.4 715.7h.7M619.7 717.3h.7M601.2 712.9h.7M621.5 720.3h.7M600.2 716.2h.7M605.4 703.6h.7M629.3 716.7h.7M629.3 720.9h.7M600.0 720.3h.7M605.1 722.3h.7M589.9 717.7h.7M621.0 718.9h.7M589.2 715.5h.7M635.1 718.6h.7M602.6 712.5h.7M604.7 700.2h.7M603.7 713.6h.7M619.7 717.7h.7M602.3 719.1h.7M580.2 707.5h.7M622.9 713.7h.7M623.6 718.1h.7M619.2 705.2h.7M628.9 720.8h.7M630.3 698.5h.7M626.6 712.2h.7M594.9 713.4h.7M599.5 718.2h.7M604.2 720.1h.7M601.9 721.8h.7M624.1 712.5h.7M598.9 705.4h.7M659.3 703.2h.7M619.4 702.5h.7M590.2 717.4h.7M635.3 708.8h.7M604.7 707.1h.7M604.6 708.7h.7M646.4 698.4h.7M634.5 709.4h.7M600.5 713.0h.7M603.8 717.7h.7M621.8 720.1h.7M626.8 712.8h.7M602.1 706.8h.7M623.8 702.9h.7M623.9 716.1h.7M646.6 700.3h.7M602.0 718.9h.7M600.8 712.2h.7M605.2 705.9h.7M621.3 718.3h.7M638.8 722.1h.7M622.2 709.9h.7M593.6 715.0h.7M629.2 704.6h.7M598.1 722.2h.7M626.1 717.6h.7M619.9 715.2h.7M589.9 712.3h.7M622.7 722.3h.7M624.4 712.5h.7M599.7 715.9h.7M605.2 720.3h.7M620.4 719.5h.7M602.1 719.2h.7M623.6 721.9h.7M645.8 717.5h.7M621.1 717.4h.7M597.6 711.1h.7M601.6 718.1h.7M622.6 707.4h.7M602.0 720.1h.7M622.3 708.9h.7M602.0 707.6h.7M592.0 702.8h.7M620.4 714.0h.7M604.9 709.5h.7M592.7 704.6h.7M621.1 719.7h.7M624.0 718.1h.7M605.4 720.5h.7M597.3 700.5h.7M599.1 721.7h.7M601.3 712.7h.7M604.2 702.9h.7M600.0 696.1h.7M600.3 693.8h.7M623.0 710.8h.7M605.0 713.7h.7M646.2 722.3h.7M630.9 722.6h.7M619.6 707.0h.7M594.7 719.3h.7M619.4 720.6h.7M602.3 722.1h.7M605.4 699.6h.7M633.8 719.7h.7M621.2 722.6h.7M624.5 723.1h.7M621.5 719.1h.7M621.1 716.8h.7M591.6 717.3h.7M622.4 713.3h.7M595.3 719.0h.7M626.1 706.0h.7M593.5 716.5h.7M597.9 714.6h.7M601.4 722.0h.7M619.2 715.4h.7M600.4 707.8h.7M600.8 707.0h.7M621.3 719.6h.7M591.3 718.9h.7M600.9 700.0h.7M625.2 700.8h.7M620.2 715.1h.7M596.9 714.9h.7M627.9 716.5h.7M593.3 716.9h.7M620.6 716.9h.7M602.6 706.8h.7M601.3 708.7h.7M605.3 696.6h.7M619.6 699.9h.7M620.2 710.7h.7M601.3 722.0h.7M620.6 712.4h.7M636.4 675.4h.7M620.6 718.7h.7M600.5 717.9h.7M620.1 718.3h.7M603.8 701.5h.7M600.3 721.9h.7M626.1 699.5h.7M604.5 698.7h.7M629.5 717.1h.7M604.8 706.4h.7M601.0 714.8h.7M598.7 720.2h.7M620.4 721.5h.7M603.8 715.7h.7M604.7 709.7h.7M621.5 721.1h.7M595.6 717.8h.7M602.0 717.0h.7M619.4 719.8h.7M605.4 719.1h.7M604.7 702.0h.7M619.7 710.7h.7M587.8 702.4h.7M582.3 712.2h.7M603.8 717.2h.7M626.4 718.2h.7M621.7 711.4h.7M603.0 719.8h.7M600.8 718.5h.7M620.3 720.1h.7M604.6 720.8h.7M602.9 722.2h.7M597.4 721.0h.7M623.3 715.4h.7M601.2 705.6h.7M631.5 716.6h.7M604.3 701.6h.7M641.9 710.6h.7M604.5 696.0h.7M603.9 716.3h.7M644.3 699.5h.7M589.9 706.1h.7M594.2 709.3h.7M604.1 698.2h.7M619.6 711.9h.7M587.6 707.3h.7M596.9 712.8h.7M563.9 693.8h.7M597.3 714.8h.7M602.1 706.1h.7M628.0 716.4h.7M593.3 722.2h.7M599.3 710.8h.7M601.4 717.2h.7M604.7 704.8h.7M630.2 707.3h.7M627.8 710.8h.7M628.6 716.7h.7M605.4 717.6h.7M636.8 716.4h.7M619.5 714.6h.7M620.5 719.2h.7M575.4 711.6h.7M604.5 720.9h.7M634.0 711.7h.7M622.0 710.1h.7M604.0 703.4h.7M628.7 710.9h.7M624.7 713.0h.7M630.0 715.8h.7M598.6 715.0h.7M594.8 716.5h.7M593.9 723.0h.7M596.6 715.5h.7M602.9 704.2h.7M598.8 694.1h.7M655.6 705.1h.7M626.1 708.2h.7M595.2 707.3h.7M587.5 718.7h.7M591.6 714.2h.7M628.0 717.6h.7M621.0 693.7h.7M623.3 712.5h.7M598.7 702.3h.7M638.2 707.3h.7M629.7 721.1h.7M627.9 711.7h.7M595.4 711.1h.7M602.9 721.9h.7M566.8 697.8h.7M601.7 721.2h.7M596.1 718.5h.7M625.1 702.6h.7M621.5 721.2h.7M622.6 710.0h.7M619.2 710.3h.7M599.5 718.2h.7M646.1 714.2h.7M599.7 707.8h.7M601.8 720.9h.7M630.2 711.6h.7M620.3 713.2h.7M625.9 710.9h.7M620.0 710.7h.7M597.2 700.4h.7M619.3 694.8h.7M624.8 718.8h.7M626.0 722.5h.7M599.3 718.4h.7M624.5 717.7h.7M582.8 696.6h.7M592.4 694.5h.7M597.5 713.2h.7M574.0 711.7h.7M621.3 709.9h.7M605.3 709.8h.7M603.6 697.3h.7M619.6 723.2h.7M593.1 723.0h.7M604.8 705.8h.7M626.7 721.7h.7M605.0 715.8h.7M620.8 718.6h.7M624.3 676.2h.7M619.8 722.9h.7M620.6 723.0h.7M589.1 714.7h.7M586.2 709.5h.7M631.1 722.1h.7M595.7 719.3h.7M598.8 717.8h.7M628.3 716.3h.7M589.9 713.9h.7M621.5 696.1h.7M600.2 711.9h.7M625.9 715.4h.7M602.6 715.6h.7M604.1 710.3h.7M623.5 707.4h.7M619.9 718.6h.7M622.7 701.3h.7M598.5 717.4h.7M619.6 717.0h.7M644.8 722.0h.7M623.7 712.3h.7M599.2 720.6h.7M605.4 715.5h.7M620.1 708.8h.7M619.7 712.5h.7M599.4 717.7h.7M628.6 721.2h.7M603.8 722.0h.7M601.3 694.1h.7M604.7 701.4h.7M625.7 700.0h.7M676.8 714.2h.7M602.6 710.1h.7M651.4 715.3h.7M598.0 714.8h.7M590.0 717.7h.7M605.2 714.6h.7M620.2 720.3h.7M605.1 714.9h.7M622.1 710.9h.7M604.6 710.0h.7M594.4 716.6h.7M605.2 720.1h.7M605.1 722.6h.7M602.5 706.8h.7M596.8 713.8h.7M581.3 711.8h.7M620.5 707.5h.7M565.4 702.8h.7M605.2 701.9h.7M590.6 713.3h.7M625.8 718.8h.7M605.4 705.0h.7M621.3 702.4h.7M600.4 710.6h.7M622.3 721.7h.7M619.4 709.7h.7M604.3 719.9h.7M598.5 708.7h.7M597.0 718.8h.7M624.3 718.5h.7M600.9 708.5h.7M620.7 707.5h.7M604.0 722.1h.7M604.6 720.3h.7M598.3 705.8h.7M587.3 695.5h.7M600.7 713.7h.7M595.9 717.8h.7M603.6 707.8h.7M625.7 716.7h.7M621.8 721.1h.7M587.8 710.5h.7M620.4 713.4h.7M621.2 716.6h.7M626.9 705.1h.7M584.0 717.8h.7M602.3 720.3h.7M586.3 710.0h.7M599.5 715.2h.7M603.6 702.9h.7M625.4 689.8h.7M598.4 721.8h.7M599.1 705.3h.7M590.4 704.7h.7M603.3 721.0h.7M628.5 720.5h.7M579.8 695.7h.7M580.9 717.5h.7M551.6 699.4h.7M601.4 708.3h.7M620.8 719.1h.7M602.6 694.3h.7M594.2 719.8h.7M622.0 722.5h.7M570.6 713.6h.7M602.2 712.1h.7M602.0 721.1h.7M605.4 701.9h.7M624.8 714.8h.7M573.8 709.6h.7M590.3 720.0h.7M569.7 704.5h.7M604.6 722.7h.7M620.5 701.0h.7M626.8 705.4h.7M622.5 720.1h.7M619.7 717.3h.7M584.8 710.2h.7M622.0 718.9h.7M639.4 719.4h.7M602.8 708.3h.7M596.4 718.6h.7M620.1 720.3h.7M603.9 699.8h.7M595.8 718.7h.7M626.5 708.0h.7M599.1 720.8h.7M628.0 710.6h.7M622.2 696.0h.7M594.0 696.0h.7M596.4 721.1h.7M604.2 711.9h.7M619.5 718.4h.7M619.2 722.4h.7M627.0 722.6h.7M597.1 697.2h.7M622.3 722.9h.7M592.9 720.6h.7M636.6 718.4h.7M621.7 710.0h.7M601.6 714.5h.7M599.6 700.9h.7M624.3 719.3h.7M620.1 712.5h.7M598.5 719.2h.7M598.9 706.5h.7M604.5 716.8h.7M583.7 717.8h.7M625.3 721.7h.7M622.3 711.3h.7M621.3 716.3h.7M600.4 708.6h.7M605.0 723.0h.7M605.0 715.3h.7M605.3 713.9h.7M604.5 697.2h.7M620.0 707.5h.7M631.7 712.9h.7M622.2 705.7h.7M622.7 715.4h.7M619.3 703.5h.7M604.5 713.7h.7M593.8 702.0h.7M627.0 705.7h.7M586.6 707.4h.7M605.4 717.8h.7M619.2 707.3h.7M593.3 717.6h.7M592.7 721.5h.7M619.5 713.0h.7M623.6 716.4h.7M624.7 712.0h.7M622.8 715.6h.7M595.5 711.0h.7M619.8 710.0h.7M626.9 721.8h.7M599.6 713.2h.7M619.6 719.5h.7M624.8 706.6h.7M598.4 707.2h.7M599.6 717.1h.7M626.4 722.0h.7M649.9 709.8h.7M603.7 714.3h.7M625.8 718.6h.7M596.8 704.8h.7M602.5 721.1h.7M603.6 717.5h.7M600.9 719.1h.7M604.7 719.7h.7M622.2 720.0h.7M604.1 720.7h.7M603.7 718.4h.7M599.0 717.7h.7M620.7 717.4h.7M622.1 722.2h.7M603.7 696.5h.7M601.0 719.8h.7M604.5 715.1h.7M603.4 708.9h.7M604.4 716.4h.7M635.9 707.6h.7M594.9 713.9h.7M601.9 710.6h.7M598.4 711.4h.7M622.2 717.0h.7M600.1 706.8h.7M638.9 699.3h.7M597.5 721.0h.7M622.1 710.0h.7M668.5 705.6h.7M604.4 680.9h.7M632.1 713.4h.7M600.4 716.1h.7M633.3 711.1h.7M620.1 711.1h.7M602.5 720.9h.7M600.7 698.9h.7M599.3 722.0h.7M624.8 718.0h.7M599.9 697.3h.7M598.0 716.3h.7M600.4 715.8h.7M589.1 707.5h.7M592.0 709.0h.7M604.4 722.3h.7M597.7 708.0h.7M621.1 718.2h.7M620.6 708.0h.7M595.0 710.8h.7M559.4 700.4h.7M601.6 721.9h.7M568.3 697.6h.7M605.6 719.9h.7M644.6 713.7h.7M622.1 712.9h.7M625.8 716.5h.7M584.2 713.8h.7M578.7 713.0h.7M620.3 710.4h.7M629.0 718.4h.7M592.3 718.0h.7M621.6 719.8h.7M620.7 705.9h.7M656.8 699.8h.7M599.9 707.1h.7M604.1 707.2h.7M588.3 720.2h.7M605.0 721.3h.7M633.4 719.8h.7M604.0 710.6h.7M624.6 712.6h.7M620.2 702.9h.7M593.3 710.6h.7M620.6 714.3h.7M596.7 701.4h.7M620.5 719.8h.7M605.5 704.8h.7M603.5 707.0h.7M588.3 699.3h.7M602.9 711.2h.7M621.3 705.7h.7M592.1 708.3h.7M596.9 707.5h.7M593.8 713.4h.7M620.0 713.8h.7M619.5 713.8h.7M601.8 707.0h.7M626.7 710.7h.7M622.4 723.2h.7M591.5 713.8h.7M600.3 709.2h.7M602.5 702.4h.7M600.4 713.3h.7M624.1 722.6h.7M603.9 710.4h.7M602.2 721.2h.7M602.2 720.1h.7M605.6 711.8h.7M604.9 710.4h.7M589.0 715.1h.7M594.6 711.4h.7M627.2 710.1h.7M619.5 706.0h.7M566.2 700.8h.7M603.1 709.9h.7M623.9 710.3h.7M622.2 714.4h.7M573.3 692.2h.7M605.3 706.7h.7M598.7 696.2h.7M624.6 722.5h.7M619.4 707.5h.7M664.5 693.0h.7M619.6 705.1h.7M602.3 717.2h.7M627.6 702.1h.7M605.4 712.7h.7M585.4 712.4h.7M597.2 716.6h.7M605.4 715.0h.7M599.5 719.0h.7M623.9 720.8h.7M619.7 715.4h.7M604.6 716.1h.7M620.0 714.1h.7M600.6 703.7h.7M604.1 709.6h.7M628.2 719.0h.7M622.7 716.2h.7M605.0 684.4h.7M621.5 717.3h.7M605.5 716.2h.7M596.8 713.5h.7M603.8 713.2h.7M627.8 703.6h.7M588.8 717.5h.7M602.3 713.3h.7M621.7 722.7h.7M588.1 718.8h.7M602.4 717.6h.7M593.3 696.3h.7M604.6 708.0h.7M585.6 706.0h.7M599.4 714.4h.7M602.7 707.6h.7M594.0 714.2h.7M622.9 697.2h.7M601.2 716.4h.7M593.8 706.3h.7M591.0 722.5h.7M622.1 711.0h.7M625.0 718.1h.7M605.1 696.4h.7M622.2 711.1h.7M603.9 720.6h.7M604.2 709.7h.7M623.0 722.0h.7M624.5 716.4h.7M591.1 696.2h.7M591.5 710.7h.7M619.8 722.2h.7M604.4 701.1h.7M597.5 715.9h.7M597.9 712.7h.7M598.2 722.1h.7M620.8 721.3h.7M620.3 722.5h.7M572.9 702.7h.7M621.3 719.1h.7M596.7 693.7h.7M605.2 709.3h.7M600.5 717.9h.7M601.0 719.5h.7M597.9 720.1h.7M622.8 723.1h.7M620.4 716.9h.7M589.5 717.8h.7M598.7 717.1h.7M625.4 713.4h.7M652.4 706.5h.7M598.2 715.6h.7M622.0 699.0h.7M629.9 707.6h.7M622.5 714.5h.7M596.3 715.2h.7M603.1 721.3h.7M600.1 705.0h.7M619.7 719.7h.7M624.3 721.0h.7M625.6 714.9h.7M631.0 708.8h.7M619.9 686.3h.7M576.6 708.5h.7M644.6 706.5h.7M621.8 715.2h.7M630.7 711.2h.7M595.3 720.6h.7M628.1 719.2h.7M622.6 721.3h.7M588.3 708.0h.7M602.1 716.7h.7M619.7 719.4h.7M598.2 723.1h.7M596.9 714.5h.7M619.6 711.4h.7M619.6 708.0h.7M602.3 720.1h.7M619.2 712.6h.7M604.1 710.1h.7M605.3 688.7h.7M605.0 721.3h.7M620.3 718.2h.7M598.6 712.5h.7M595.5 719.8h.7M622.8 714.1h.7M603.0 698.7h.7M600.1 719.7h.7M622.5 711.2h.7M626.8 715.6h.7M602.3 713.5h.7M620.9 719.4h.7M588.6 717.7h.7M605.0 702.8h.7M620.2 715.6h.7M620.3 719.3h.7M604.3 714.7h.7M619.5 721.5h.7M604.4 713.6h.7M595.4 714.5h.7M620.1 715.8h.7M603.4 711.9h.7M602.8 684.1h.7M621.5 698.1h.7M620.4 718.1h.7M603.8 709.5h.7M603.0 721.4h.7M597.9 704.4h.7M628.1 710.8h.7M628.1 710.6h.7M602.9 716.0h.7M594.8 717.0h.7M603.2 718.2h.7M621.7 713.1h.7M603.2 692.5h.7M604.0 707.8h.7M598.5 691.7h.7M601.6 710.1h.7M595.1 718.2h.7M631.9 704.0h.7M622.0 707.5h.7M622.9 719.4h.7M592.3 718.6h.7M619.7 722.0h.7M600.2 713.3h.7M604.9 716.2h.7M631.0 719.3h.7M631.0 714.2h.7M620.7 722.7h.7M592.4 715.4h.7M619.7 713.1h.7M621.1 707.0h.7M605.5 704.7h.7M595.3 714.5h.7M555.4 676.1h.7M605.4 718.9h.7M605.4 718.5h.7M627.7 720.5h.7M592.7 707.4h.7M624.1 719.7h.7M626.7 704.6h.7M624.9 712.5h.7M601.4 709.9h.7M602.1 709.2h.7M591.2 705.8h.7M619.6 700.2h.7M604.0 703.9h.7M619.8 704.6h.7M629.8 713.9h.7M596.5 723.2h.7M598.4 711.5h.7M635.0 700.0h.7M602.5 687.7h.7M623.4 713.0h.7M593.7 721.6h.7M592.0 723.0h.7M625.2 719.1h.7M621.6 715.8h.7M600.0 708.3h.7M619.4 700.3h.7M605.2 722.2h.7M626.3 707.0h.7M622.4 718.4h.7M600.6 720.3h.7M620.5 715.9h.7M619.3 708.8h.7M624.3 710.8h.7M600.3 705.8h.7M604.6 703.9h.7M601.2 689.6h.7M600.0 696.3h.7M619.7 711.2h.7M626.4 717.2h.7M655.2 712.0h.7M622.2 698.5h.7M596.2 699.6h.7M621.6 719.3h.7M604.1 719.4h.7M582.3 711.5h.7M626.5 718.2h.7M623.1 697.0h.7M598.0 699.0h.7M603.1 695.6h.7M626.5 700.6h.7M625.1 715.2h.7M600.4 719.8h.7M586.8 710.6h.7M641.7 704.0h.7M598.9 698.6h.7M592.3 693.6h.7M620.3 709.2h.7M620.4 720.8h.7M584.4 711.9h.7M603.3 722.1h.7M603.9 705.8h.7M593.9 692.1h.7M619.9 720.4h.7M626.6 714.4h.7M631.3 705.5h.7M602.8 711.5h.7M604.2 715.6h.7M623.3 711.5h.7M598.4 711.3h.7M637.1 709.8h.7M641.5 682.9h.7M619.2 691.2h.7M622.0 702.0h.7M588.2 708.7h.7M605.1 719.0h.7M600.2 681.8h.7M635.2 717.3h.7M604.3 704.6h.7M602.9 708.9h.7M602.4 702.5h.7M587.0 709.1h.7M633.5 712.1h.7M596.7 698.8h.7M604.0 707.6h.7M605.4 714.8h.7M602.9 708.6h.7M605.5 693.4h.7M619.5 721.1h.7M622.0 720.1h.7M599.5 720.2h.7M604.8 711.8h.7M597.5 723.0h.7M623.5 720.7h.7M599.8 715.0h.7M623.4 720.6h.7M598.0 707.1h.7M604.6 694.2h.7M600.3 720.0h.7M604.7 716.8h.7M597.5 710.7h.7M585.8 692.1h.7M592.4 708.4h.7M604.1 706.0h.7M620.2 696.5h.7M625.8 713.0h.7M627.4 707.2h.7M627.5 709.1h.7M623.8 708.0h.7M619.9 700.6h.7M599.3 719.9h.7M602.1 718.2h.7M599.3 721.0h.7M623.1 712.5h.7M586.3 717.6h.7M628.3 709.4h.7M576.3 715.8h.7M605.1 706.5h.7M620.7 717.6h.7M601.9 715.0h.7M603.1 714.2h.7M604.4 717.7h.7M626.7 707.9h.7M596.9 706.7h.7M620.7 706.7h.7M599.7 710.7h.7M627.7 707.3h.7M591.9 711.6h.7M602.2 697.8h.7M589.2 719.8h.7M623.9 707.3h.7M594.8 708.4h.7M625.8 719.4h.7M600.2 713.0h.7M603.1 711.3h.7M601.1 721.5h.7M620.6 708.6h.7M592.5 707.3h.7M628.5 713.2h.7M569.4 709.8h.7M602.9 722.1h.7M583.4 722.8h.7M601.3 703.8h.7M596.1 711.8h.7M624.8 713.4h.7M604.3 720.9h.7M598.6 718.8h.7M622.6 722.0h.7M625.5 714.5h.7M602.2 714.2h.7M600.2 712.1h.7M636.4 685.2h.7M625.3 715.5h.7M605.1 694.7h.7M585.6 716.8h.7M591.3 696.4h.7M604.9 707.0h.7M601.5 695.0h.7M601.9 719.1h.7M599.2 716.2h.7M625.1 717.6h.7M645.5 707.0h.7M622.0 720.0h.7M621.8 707.3h.7M590.1 719.5h.7M574.8 718.1h.7M624.2 711.7h.7M624.5 720.4h.7M619.4 712.1h.7M622.4 703.7h.7M592.1 717.1h.7M655.1 696.3h.7M630.7 704.8h.7M623.8 721.2h.7M620.6 706.9h.7M623.0 699.5h.7M622.1 689.2h.7M624.7 713.4h.7M595.4 714.3h.7M619.7 715.5h.7M645.2 708.9h.7M602.6 695.8h.7M602.3 692.3h.7M604.4 722.0h.7M596.8 716.8h.7M600.9 722.9h.7M604.7 723.1h.7M619.5 720.0h.7M626.6 706.0h.7M620.0 692.6h.7M604.7 722.0h.7M602.1 706.1h.7M624.3 716.2h.7M622.2 722.0h.7M604.1 700.9h.7M599.4 716.7h.7M605.3 719.0h.7M619.3 716.2h.7M604.2 706.8h.7M619.6 718.3h.7M600.5 718.4h.7M605.6 705.9h.7M619.8 719.9h.7M603.1 715.4h.7M572.0 720.1h.7M629.2 723.2h.7M628.0 721.1h.7M620.1 717.7h.7M619.5 702.0h.7M624.0 718.6h.7M622.2 704.1h.7M619.4 701.8h.7M642.7 714.4h.7M628.1 712.8h.7M625.3 722.8h.7M633.6 682.0h.7M624.9 722.5h.7M605.1 704.6h.7M603.6 722.6h.7M619.2 720.6h.7M621.2 708.2h.7M596.4 715.7h.7M601.9 708.0h.7M631.6 719.0h.7M624.7 709.5h.7M621.2 717.9h.7M619.8 720.5h.7M597.0 718.1h.7M620.3 708.3h.7M595.9 713.2h.7M621.0 721.2h.7M580.6 692.0h.7M622.7 719.3h.7M588.2 706.6h.7M631.1 698.7h.7M595.8 714.7h.7M620.7 710.5h.7M620.6 717.8h.7M591.0 715.4h.7M620.4 718.6h.7M655.2 711.2h.7M624.8 715.6h.7M622.7 721.3h.7M599.0 708.5h.7M572.1 715.3h.7M602.1 717.5h.7M621.0 721.3h.7M598.0 720.3h.7M570.0 707.1h.7M624.5 718.1h.7M621.6 715.9h.7M594.7 712.2h.7M627.0 715.6h.7M619.8 714.8h.7M623.5 702.2h.7M602.7 718.7h.7M596.7 688.1h.7M624.8 707.1h.7M622.0 717.3h.7M624.4 717.7h.7M625.8 718.6h.7M604.8 722.4h.7M632.2 707.3h.7M619.9 717.1h.7M623.1 718.5h.7M600.3 704.7h.7M628.7 711.2h.7M602.8 718.7h.7M632.6 722.0h.7M594.5 713.9h.7M605.2 691.2h.7M642.1 710.0h.7M604.5 719.5h.7M621.4 718.7h.7M621.3 710.9h.7M620.3 709.4h.7M605.3 719.3h.7M625.8 702.6h.7M626.0 709.6h.7M589.8 695.0h.7M605.0 722.2h.7M603.6 703.3h.7M598.4 720.1h.7M621.0 715.6h.7M634.4 709.9h.7M619.8 709.8h.7M620.4 718.4h.7M650.7 710.7h.7M619.5 713.8h.7M603.3 712.8h.7M627.7 702.0h.7M561.7 680.8h.7M597.7 688.2h.7M621.4 708.9h.7M600.6 710.4h.7M604.8 718.9h.7M626.2 701.9h.7M594.8 720.3h.7M629.0 704.8h.7M597.8 709.0h.7M600.6 710.7h.7M624.1 719.3h.7M604.2 709.9h.7M619.7 708.0h.7M605.4 719.8h.7M664.2 681.8h.7M632.1 707.1h.7M623.0 703.6h.7M592.9 713.7h.7M627.7 717.8h.7M603.3 701.5h.7M619.7 697.7h.7M595.6 699.7h.7M601.8 714.3h.7M594.8 714.8h.7M600.2 700.6h.7M621.5 718.0h.7M638.2 705.6h.7M604.3 704.2h.7M592.2 713.9h.7M625.5 706.9h.7M604.4 720.3h.7M639.4 711.5h.7M620.3 713.9h.7M603.7 720.0h.7M600.9 723.1h.7M623.4 714.7h.7M599.9 714.5h.7M620.0 701.2h.7M604.2 705.1h.7M596.0 704.1h.7M621.1 712.9h.7M562.0 712.4h.7M602.9 714.0h.7M621.6 704.5h.7M622.9 702.6h.7M594.7 703.2h.7M597.0 713.9h.7M598.5 702.9h.7M623.8 700.7h.7M629.7 709.6h.7M622.8 720.5h.7M622.2 712.4h.7M603.7 716.1h.7M600.6 718.7h.7M601.9 704.5h.7M625.0 712.5h.7M581.6 719.8h.7M625.8 720.3h.7M625.3 700.9h.7M632.0 718.6h.7M621.2 711.7h.7M604.4 681.6h.7M593.5 712.9h.7M586.8 719.2h.7M601.7 717.5h.7M598.3 701.9h.7M605.6 702.4h.7M604.6 709.9h.7M600.0 711.0h.7M621.3 708.1h.7M604.0 719.3h.7M636.8 717.2h.7M620.7 720.7h.7M591.2 708.1h.7M605.0 707.5h.7M619.9 704.0h.7M619.3 722.6h.7M626.3 707.4h.7M603.3 713.2h.7M603.8 716.9h.7M598.8 716.3h.7M605.3 705.2h.7M600.1 685.7h.7M603.0 703.1h.7M600.6 710.9h.7M622.0 722.3h.7M596.4 711.1h.7M620.6 720.2h.7M621.3 718.6h.7M601.5 705.5h.7M631.2 713.4h.7M600.9 700.6h.7M601.3 716.5h.7M597.7 691.9h.7M621.4 720.6h.7M601.2 721.7h.7M596.3 710.0h.7M623.3 714.3h.7M626.1 712.4h.7M623.8 714.8h.7M579.1 709.2h.7M647.0 698.4h.7M619.6 715.6h.7M601.5 685.6h.7M605.5 711.8h.7M602.2 700.4h.7M620.3 710.6h.7M604.9 721.2h.7M589.8 720.4h.7M624.2 719.6h.7M605.3 715.8h.7M600.1 718.1h.7M603.4 713.4h.7M593.5 718.5h.7M619.6 719.2h.7M560.4 706.5h.7M629.0 714.0h.7M623.4 720.6h.7M604.0 713.6h.7M593.8 722.8h.7M624.8 715.0h.7M605.0 719.7h.7M620.1 721.4h.7M619.8 713.0h.7M634.5 704.5h.7M623.5 716.2h.7M603.6 715.2h.7M621.4 714.9h.7M605.6 708.2h.7M604.5 704.7h.7M601.5 703.5h.7M629.0 699.2h.7M624.9 721.1h.7M619.9 718.1h.7M595.5 703.0h.7M627.4 715.9h.7M630.4 719.4h.7M596.0 716.2h.7M600.7 698.7h.7M598.1 718.8h.7M603.8 686.3h.7M622.5 716.3h.7M619.5 720.4h.7M625.8 702.2h.7M605.3 718.6h.7M594.2 705.6h.7M619.8 716.5h.7M658.0 689.7h.7M647.8 718.3h.7M621.4 713.4h.7M622.4 722.1h.7M620.3 706.8h.7M619.2 696.3h.7M602.3 719.2h.7M602.4 717.9h.7M619.6 719.1h.7M640.2 718.1h.7M622.8 710.8h.7M590.6 703.2h.7M601.6 715.9h.7M595.4 721.7h.7M557.5 703.4h.7M620.5 700.5h.7M582.0 711.5h.7M583.4 709.3h.7M604.5 703.8h.7M622.1 704.4h.7M628.1 720.4h.7M624.7 706.6h.7M619.6 718.1h.7M623.5 709.9h.7M637.4 686.3h.7M597.1 723.2h.7M625.0 708.5h.7M621.4 712.9h.7M586.9 706.1h.7M600.8 700.9h.7M619.5 709.7h.7M604.9 705.9h.7M621.1 722.7h.7M619.5 715.1h.7M633.2 706.6h.7M621.2 709.3h.7M633.0 703.5h.7M601.1 714.3h.7M620.2 718.2h.7M604.7 719.6h.7M584.4 708.9h.7M620.9 718.8h.7M620.2 716.5h.7M597.0 720.9h.7M578.5 707.7h.7M599.5 720.2h.7M600.7 713.4h.7M626.0 717.3h.7M623.0 719.3h.7M594.3 695.5h.7M593.0 712.6h.7M621.7 721.8h.7M620.6 720.5h.7M601.7 703.9h.7M620.5 717.4h.7M601.5 708.9h.7M600.4 721.6h.7M621.2 712.3h.7M590.2 704.6h.7M596.2 697.3h.7M583.9 710.5h.7M626.5 721.5h.7M602.1 714.0h.7M620.8 720.1h.7M598.4 719.7h.7M595.5 712.6h.7M598.9 716.2h.7M623.0 719.0h.7M623.9 702.1h.7M635.7 697.9h.7M633.8 709.8h.7M579.1 722.5h.7M622.0 722.5h.7M585.5 679.8h.7M629.1 698.1h.7M619.4 719.0h.7M602.4 720.5h.7M604.9 709.3h.7M605.5 720.6h.7M600.8 714.1h.7M621.9 717.8h.7M566.7 715.4h.7M603.8 719.9h.7M604.3 689.3h.7M556.6 695.2h.7M622.3 722.3h.7M619.9 717.2h.7M619.4 702.0h.7M599.4 703.5h.7M600.0 693.9h.7M601.3 697.4h.7M604.9 717.0h.7M586.2 700.1h.7M604.5 713.6h.7M603.6 711.5h.7M593.2 717.3h.7M604.5 707.8h.7M600.2 713.0h.7M625.9 712.7h.7M623.9 710.1h.7M621.6 717.6h.7M622.3 714.9h.7M590.7 687.5h.7M604.4 711.9h.7M577.7 714.5h.7M600.6 703.0h.7M564.4 712.3h.7M630.7 707.4h.7M605.0 694.9h.7M603.5 715.5h.7M594.6 706.8h.7M642.9 715.0h.7M598.3 715.6h.7M599.9 712.6h.7M601.7 719.5h.7M598.4 722.4h.7M638.4 701.7h.7M573.4 714.0h.7M604.2 697.8h.7M596.6 722.2h.7M586.5 714.9h.7M627.2 715.0h.7M603.5 705.4h.7M602.4 716.6h.7M578.9 701.6h.7M586.8 694.4h.7M619.6 713.8h.7M596.8 710.9h.7M619.4 716.1h.7M597.9 721.8h.7M597.3 708.9h.7M589.9 709.1h.7M620.6 709.8h.7M620.7 715.3h.7M594.2 712.2h.7M619.8 717.7h.7M621.7 695.7h.7M604.9 715.0h.7M624.5 719.9h.7M620.1 711.2h.7M596.0 717.4h.7M622.0 710.5h.7M584.7 705.5h.7M597.2 720.8h.7M605.0 718.3h.7M638.7 711.6h.7M625.9 714.4h.7M621.1 720.5h.7M631.1 708.9h.7M598.6 709.2h.7M603.1 723.1h.7M586.3 709.6h.7M639.6 719.7h.7M619.7 707.7h.7M622.9 693.6h.7M603.0 719.7h.7M602.2 700.9h.7M631.4 685.6h.7M623.8 718.6h.7M584.3 720.1h.7M632.2 707.0h.7M621.3 718.6h.7M620.3 718.6h.7M622.1 710.1h.7M597.7 685.2h.7M602.3 711.8h.7M620.9 722.0h.7M631.6 696.8h.7M620.1 718.2h.7M603.9 720.1h.7M584.8 710.9h.7M623.3 722.6h.7M629.9 719.9h.7M626.1 700.9h.7M627.6 715.9h.7M619.9 722.5h.7M605.4 714.2h.7M596.0 721.9h.7M622.5 709.9h.7M631.8 707.6h.7M622.4 711.0h.7M623.9 723.0h.7M596.6 722.7h.7M593.8 720.0h.7M619.7 706.2h.7M596.8 708.0h.7M603.5 703.5h.7M597.0 718.8h.7M593.4 696.8h.7M605.1 721.6h.7M592.1 718.2h.7M570.1 716.1h.7M605.2 708.0h.7M605.5 721.3h.7M605.6 704.3h.7M603.3 718.1h.7M654.4 690.5h.7M621.1 717.3h.7M604.6 712.4h.7M591.9 716.1h.7M626.4 702.3h.7M604.5 720.9h.7M620.3 711.0h.7M603.2 708.2h.7M599.0 695.3h.7M621.0 709.0h.7M602.9 717.6h.7M628.4 712.8h.7M582.5 686.3h.7M603.7 711.5h.7M635.5 712.4h.7M605.4 706.1h.7M591.7 706.0h.7M601.5 705.6h.7M619.4 713.0h.7M595.0 719.3h.7M627.5 718.3h.7M603.3 720.9h.7M605.0 713.6h.7M602.9 720.8h.7M603.8 715.7h.7M593.6 723.1h.7M605.1 718.7h.7M599.9 702.3h.7M587.2 712.7h.7M625.2 721.2h.7M599.2 720.4h.7M619.2 715.4h.7M599.3 711.1h.7M593.8 719.8h.7M605.0 716.3h.7M623.9 718.5h.7M605.2 717.6h.7M605.5 705.9h.7M604.2 714.3h.7M585.0 705.2h.7M620.3 713.0h.7M624.2 720.8h.7M595.8 696.6h.7M622.4 704.5h.7M629.0 718.7h.7M639.8 719.6h.7M603.5 719.6h.7M600.7 721.5h.7M604.6 719.1h.7M600.9 721.3h.7M625.4 721.3h.7M560.3 704.0h.7M593.1 698.9h.7M621.3 718.5h.7M591.7 715.0h.7M623.2 722.3h.7M604.1 714.7h.7M604.2 721.8h.7M622.0 718.5h.7M602.4 705.8h.7M621.2 712.2h.7M605.1 716.5h.7M600.3 715.6h.7M602.6 717.2h.7M597.6 720.6h.7M604.2 718.0h.7M636.1 681.1h.7M586.5 716.0h.7M623.2 713.7h.7M570.9 716.2h.7M593.3 691.8h.7M600.0 719.9h.7M603.8 714.8h.7M626.4 711.9h.7M601.6 702.5h.7M621.2 699.4h.7M605.5 713.8h.7M620.3 717.5h.7M601.9 702.7h.7M624.3 707.8h.7M589.1 714.0h.7M599.7 703.4h.7M601.2 719.8h.7M591.3 691.6h.7M635.4 708.3h.7M621.2 712.5h.7M602.5 711.2h.7M598.9 719.3h.7M626.7 711.6h.7M571.2 701.0h.7M605.4 708.2h.7M620.0 715.1h.7M604.5 719.2h.7M598.3 719.0h.7M601.7 716.6h.7M602.1 714.2h.7M597.6 721.3h.7M605.1 710.1h.7M602.1 700.3h.7M619.2 719.2h.7M603.9 707.4h.7M626.8 716.4h.7M594.4 722.9h.7M602.4 719.1h.7M597.9 707.9h.7M604.7 701.8h.7M605.2 713.9h.7M582.9 703.0h.7M624.6 722.1h.7M603.4 715.5h.7M601.2 713.1h.7M620.9 716.0h.7M591.6 701.4h.7M602.5 715.6h.7M605.3 711.4h.7M598.5 710.8h.7M621.6 722.9h.7M626.9 722.3h.7M597.8 720.9h.7M636.0 717.6h.7M635.7 718.9h.7M625.6 722.0h.7M624.1 693.6h.7M633.0 684.8h.7M586.3 722.4h.7M623.6 711.0h.7M619.4 717.6h.7M603.3 717.7h.7M622.3 718.5h.7M623.8 722.6h.7M601.1 711.9h.7M572.7 714.7h.7M600.1 709.4h.7M577.3 720.2h.7M602.4 719.3h.7M570.6 697.8h.7M620.6 708.3h.7M586.9 722.5h.7M619.4 715.6h.7M620.7 694.2h.7M627.6 715.8h.7M629.3 680.8h.7M630.5 714.6h.7M622.2 715.8h.7M602.9 710.8h.7M603.3 714.4h.7M600.8 720.9h.7M621.1 714.8h.7M622.9 711.3h.7M602.7 701.0h.7M621.1 718.3h.7M619.2 719.5h.7M598.5 717.3h.7M597.8 701.2h.7M598.2 707.4h.7M604.6 703.1h.7M645.0 712.9h.7M557.0 710.8h.7M603.6 707.3h.7M622.3 714.6h.7M621.6 719.8h.7M593.4 719.2h.7M598.6 717.9h.7M620.1 714.0h.7M601.6 716.4h.7M622.8 702.4h.7M604.6 705.2h.7M585.9 710.1h.7M624.7 722.0h.7M585.5 719.3h.7M619.3 720.3h.7M591.6 717.1h.7M628.2 719.6h.7M621.7 721.3h.7M621.1 715.6h.7M621.7 720.7h.7M586.2 709.0h.7M637.2 697.3h.7M625.4 709.2h.7M598.1 721.0h.7M605.6 708.6h.7M619.5 717.0h.7M600.8 708.0h.7M620.5 700.3h.7M603.4 718.7h.7M621.7 719.2h.7M636.7 722.9h.7M619.9 718.8h.7M590.8 702.1h.7M624.6 708.7h.7M623.2 715.6h.7M605.3 714.2h.7M604.6 722.1h.7M620.2 711.7h.7M601.3 696.0h.7M601.7 722.0h.7M661.0 704.9h.7M591.3 719.9h.7M602.6 695.1h.7M600.2 721.1h.7M599.1 694.1h.7M604.7 700.1h.7M626.6 718.8h.7M602.5 716.5h.7M634.8 703.5h.7M623.4 718.3h.7M603.3 707.7h.7M573.1 706.0h.7M633.6 716.6h.7M621.2 703.0h.7M605.0 705.7h.7M646.5 706.6h.7M603.9 700.9h.7M622.1 718.0h.7M597.2 722.4h.7M595.0 686.9h.7M620.7 715.1h.7M621.2 709.3h.7M604.7 695.3h.7M623.2 708.3h.7M627.4 703.3h.7M594.3 714.9h.7M623.2 722.6h.7M594.5 715.9h.7M602.8 709.2h.7M644.7 718.4h.7M620.3 719.1h.7M595.7 702.6h.7M594.5 700.9h.7M602.0 720.9h.7M599.9 717.2h.7M620.4 714.2h.7M590.3 717.4h.7M625.2 702.2h.7M601.2 716.6h.7M601.2 696.8h.7M599.2 723.0h.7M621.8 715.4h.7M639.5 705.1h.7M593.5 719.9h.7M619.2 715.4h.7M636.8 682.2h.7M595.0 706.6h.7M625.9 714.1h.7M600.5 717.2h.7M619.3 715.1h.7M559.8 688.9h.7M621.3 711.1h.7M621.3 709.5h.7M622.2 712.1h.7M600.2 720.9h.7M605.4 704.6h.7M600.6 665.3h.7M598.8 715.4h.7M619.2 721.5h.7M663.1 688.4h.7M600.4 702.9h.7M622.5 720.7h.7M623.3 698.5h.7M604.0 714.2h.7M622.2 716.0h.7M602.0 713.9h.7M601.3 714.4h.7M623.0 702.0h.7M597.1 699.4h.7M600.4 715.0h.7M597.9 715.4h.7M582.2 713.8h.7M621.5 707.6h.7M620.1 716.0h.7M600.5 701.0h.7M624.6 706.0h.7M594.8 722.7h.7M599.4 717.8h.7M596.9 715.0h.7M602.9 714.5h.7M605.5 702.0h.7M604.7 689.8h.7M565.6 711.8h.7M621.4 719.9h.7M604.2 721.1h.7M601.0 720.9h.7M570.9 710.7h.7M619.6 709.0h.7M619.7 720.4h.7M603.0 708.4h.7M621.7 721.4h.7M629.4 698.6h.7M588.8 702.7h.7M604.0 704.7h.7M605.4 710.4h.7M628.7 721.4h.7M622.5 693.2h.7M619.5 714.1h.7M597.8 719.9h.7M598.3 695.2h.7M622.2 700.5h.7M583.2 715.5h.7M621.2 714.4h.7M619.3 716.0h.7M619.6 705.4h.7M620.5 704.2h.7M596.1 714.7h.7M577.6 692.0h.7M621.8 711.1h.7M602.6 710.6h.7M605.6 721.2h.7M619.4 722.0h.7M634.1 713.2h.7M601.4 719.1h.7M621.7 711.9h.7M598.8 718.3h.7M604.9 722.3h.7M603.4 711.8h.7M626.4 715.9h.7M603.5 704.7h.7M596.1 699.0h.7M622.3 721.3h.7M605.1 713.8h.7M600.0 704.0h.7M602.6 693.6h.7M603.3 717.6h.7M628.4 716.6h.7M569.5 712.8h.7M602.2 709.7h.7M620.5 713.4h.7M584.8 713.1h.7M588.8 710.8h.7M619.8 709.2h.7M596.6 719.1h.7M602.7 722.2h.7M605.4 721.3h.7M605.1 719.4h.7M599.0 716.3h.7M594.4 709.4h.7M619.8 705.4h.7M597.5 719.1h.7M601.5 701.9h.7M624.6 717.4h.7M622.8 718.5h.7M622.7 714.8h.7M627.9 711.5h.7M547.7 710.3h.7M630.6 714.1h.7M602.2 709.1h.7M623.2 718.6h.7M595.9 721.6h.7M623.5 715.5h.7M591.9 707.8h.7M596.3 719.4h.7M623.0 720.5h.7M598.2 709.9h.7M621.4 712.6h.7M620.2 698.9h.7M604.2 713.2h.7M596.2 711.2h.7M637.4 709.6h.7M580.6 706.4h.7M619.5 717.1h.7M626.0 709.9h.7M601.8 721.8h.7M603.1 723.0h.7M625.0 715.1h.7M599.5 709.5h.7M604.0 691.1h.7M552.8 703.3h.7M623.7 698.0h.7M602.6 703.8h.7M635.1 721.3h.7M597.6 682.9h.7M596.4 715.8h.7M620.3 708.5h.7M595.6 713.6h.7M605.5 714.3h.7M593.4 713.6h.7M598.9 716.1h.7M621.6 708.4h.7M621.5 697.1h.7M597.7 720.9h.7M626.9 708.3h.7M645.5 716.4h.7M603.6 698.3h.7M619.8 720.4h.7M623.9 704.1h.7M619.4 716.5h.7M620.1 718.0h.7M621.0 710.5h.7M622.6 708.1h.7M604.5 720.2h.7M601.5 721.8h.7M634.3 716.0h.7M605.3 700.3h.7M623.5 716.4h.7M595.2 723.1h.7M622.0 710.1h.7M593.3 719.1h.7M582.8 692.9h.7M598.4 714.6h.7M624.1 722.6h.7M605.5 698.4h.7M595.6 702.6h.7M601.4 711.2h.7M595.3 712.7h.7M594.3 707.2h.7M600.3 720.7h.7M622.1 718.7h.7M604.1 710.1h.7M625.0 713.4h.7M601.2 710.6h.7M600.9 715.8h.7M630.6 714.4h.7M594.7 712.1h.7M623.7 711.5h.7M632.2 718.0h.7M629.0 712.7h.7M604.1 706.7h.7M586.7 714.5h.7M590.3 707.2h.7M619.8 706.1h.7M603.3 721.4h.7M621.0 717.9h.7M602.2 707.5h.7M599.9 703.4h.7M629.2 702.6h.7M634.1 710.9h.7M586.3 674.0h.7M632.5 721.3h.7M599.3 721.9h.7M549.6 695.2h.7M600.9 707.4h.7M601.0 709.9h.7M629.7 698.6h.7M604.4 720.3h.7M636.9 699.6h.7M627.3 719.4h.7M601.1 711.4h.7M624.3 715.7h.7M598.5 696.4h.7M621.5 720.6h.7M604.5 691.2h.7M604.8 716.1h.7M602.6 715.2h.7M577.7 700.1h.7M605.2 715.7h.7M619.7 709.1h.7M603.4 703.0h.7M565.9 709.9h.7M619.4 701.9h.7M601.2 708.6h.7M601.3 701.7h.7M623.2 711.9h.7M603.9 699.8h.7M595.2 718.7h.7M619.6 721.8h.7M600.4 711.8h.7M599.6 717.0h.7M603.4 710.6h.7M623.3 704.7h.7M593.8 715.4h.7M625.7 716.5h.7M597.5 722.2h.7M631.0 694.6h.7M575.6 701.0h.7M621.2 703.9h.7M603.6 710.4h.7M599.7 717.2h.7M620.3 721.4h.7M620.8 707.0h.7M599.5 718.3h.7M631.9 711.8h.7M596.5 704.3h.7M625.9 706.6h.7M624.5 703.3h.7M624.9 715.0h.7M625.7 718.5h.7M565.1 704.2h.7M604.3 720.1h.7M647.4 690.2h.7M605.0 715.8h.7M647.7 700.4h.7M638.4 719.1h.7M637.3 717.9h.7M599.6 717.4h.7M605.1 720.7h.7M628.2 709.9h.7M620.4 711.4h.7M605.0 702.8h.7M593.0 713.4h.7M619.2 720.6h.7M626.3 708.2h.7M577.4 699.2h.7M601.2 709.7h.7M595.3 698.9h.7M604.9 720.9h.7M602.1 708.3h.7M624.5 706.7h.7M631.8 701.1h.7M599.7 714.9h.7M602.2 709.4h.7M574.1 709.4h.7M598.6 705.5h.7M586.8 716.5h.7M603.8 696.3h.7M623.9 702.2h.7M605.4 723.0h.7M590.9 708.3h.7M592.1 716.2h.7M625.9 721.3h.7M600.4 685.9h.7M592.0 714.5h.7M626.6 710.9h.7M634.1 709.9h.7M604.5 711.5h.7M622.2 719.6h.7M603.1 709.2h.7M603.6 721.2h.7M623.8 720.5h.7M629.8 712.4h.7M597.0 703.9h.7M626.6 711.2h.7M604.0 705.0h.7M569.3 698.1h.7M548.4 711.5h.7M632.3 709.7h.7M638.4 717.5h.7M599.5 721.4h.7M604.7 706.8h.7M603.7 706.3h.7M594.2 711.2h.7M619.8 700.3h.7M597.9 713.6h.7M624.1 696.8h.7M594.3 684.8h.7M603.3 722.9h.7M622.6 717.0h.7M603.7 722.1h.7M602.5 722.0h.7M628.1 717.9h.7M599.1 702.6h.7M622.3 710.4h.7M619.8 717.1h.7M619.8 716.2h.7M601.2 721.9h.7M619.9 716.8h.7M624.4 689.9h.7M592.8 706.5h.7M601.8 701.8h.7M598.5 711.0h.7M601.1 712.0h.7M621.0 714.4h.7M621.1 715.0h.7M596.2 714.0h.7M597.6 703.7h.7M605.1 717.2h.7M633.8 700.3h.7M636.8 716.3h.7M601.3 712.2h.7M623.3 711.9h.7M643.6 722.2h.7M620.1 694.2h.7M605.0 717.4h.7M620.7 707.4h.7M626.1 715.3h.7M595.4 706.9h.7M622.7 721.6h.7M594.9 703.5h.7M622.6 720.3h.7M620.4 715.1h.7M621.0 712.7h.7M619.4 719.7h.7M621.7 715.4h.7M601.7 711.2h.7M595.6 719.0h.7M621.9 718.8h.7M666.8 686.1h.7M599.9 722.5h.7M604.9 722.0h.7M620.3 720.4h.7M629.8 716.4h.7M600.6 715.0h.7M604.0 712.9h.7M592.3 698.3h.7M621.4 722.0h.7M602.5 703.4h.7M597.3 709.4h.7M636.1 715.0h.7M597.5 699.6h.7M583.5 709.4h.7M622.9 721.0h.7M634.3 709.8h.7M574.8 722.5h.7M620.6 715.6h.7M620.4 708.0h.7M625.0 707.4h.7M627.8 704.8h.7M622.9 723.0h.7M623.8 696.9h.7M622.0 718.3h.7M590.6 710.8h.7M619.7 708.2h.7M619.7 719.8h.7M601.7 713.8h.7M605.3 716.1h.7M596.9 715.1h.7M629.3 700.0h.7M594.3 716.5h.7M637.6 702.8h.7M598.0 701.5h.7M602.7 704.7h.7M594.5 723.2h.7M654.3 714.3h.7M621.2 716.4h.7M601.2 721.1h.7M620.4 716.8h.7M602.0 717.7h.7M630.9 709.2h.7M620.4 708.9h.7M597.8 708.9h.7M604.9 693.6h.7M603.0 721.4h.7M604.7 722.7h.7M584.4 721.8h.7M605.3 722.0h.7M619.5 715.4h.7M640.5 700.2h.7M600.4 717.7h.7M623.1 689.3h.7M629.6 716.2h.7M595.1 720.4h.7M620.9 711.8h.7M589.0 699.8h.7M596.1 713.0h.7M597.9 705.2h.7M605.2 704.5h.7M622.3 691.7h.7M634.3 710.5h.7M593.2 716.2h.7M590.0 719.4h.7M592.5 701.3h.7M604.9 721.1h.7M624.8 714.5h.7M622.8 713.5h.7M603.7 722.4h.7M581.2 702.0h.7M599.4 697.8h.7M598.2 713.6h.7M620.2 706.5h.7M599.2 714.3h.7M597.3 705.3h.7M599.3 695.5h.7M656.2 712.0h.7M586.0 707.5h.7M600.3 722.7h.7M623.5 708.9h.7M619.8 721.4h.7M620.9 721.3h.7M605.5 715.7h.7M620.1 704.3h.7M583.4 716.3h.7M626.7 719.7h.7M622.8 719.5h.7M554.1 713.5h.7M620.2 720.0h.7M588.7 721.4h.7M623.2 702.1h.7M600.2 718.3h.7M642.5 712.4h.7M603.9 712.7h.7M605.5 704.3h.7M601.5 719.0h.7M622.9 706.7h.7M624.9 720.4h.7M628.6 712.4h.7M602.7 698.6h.7M596.4 716.2h.7M590.0 706.0h.7M552.8 712.3h.7M623.2 715.5h.7M600.8 721.2h.7M601.7 700.2h.7M592.0 689.0h.7M593.1 690.2h.7M621.3 721.6h.7M619.9 712.5h.7M625.3 716.9h.7M588.4 699.7h.7M598.1 716.5h.7M602.9 714.8h.7M603.7 720.0h.7M603.8 719.5h.7M626.6 709.7h.7M604.5 698.8h.7M622.5 716.8h.7M605.5 711.8h.7M633.2 714.9h.7M605.6 707.5h.7M605.6 700.2h.7M630.1 693.5h.7M627.6 718.8h.7M605.3 716.4h.7M604.6 722.7h.7M619.5 717.7h.7M624.9 714.8h.7M601.3 712.2h.7M601.6 711.7h.7M619.3 714.5h.7M625.6 705.6h.7M586.6 717.8h.7M593.6 701.0h.7M630.4 711.7h.7M588.6 691.1h.7M605.0 718.2h.7M641.8 708.9h.7M620.4 702.8h.7M597.1 705.4h.7M601.2 714.9h.7M595.5 716.5h.7M623.1 715.5h.7M620.2 720.2h.7M592.5 719.0h.7M622.3 721.1h.7M597.9 713.8h.7M593.7 707.5h.7M584.7 714.6h.7M593.2 720.7h.7M620.3 706.9h.7M604.3 700.8h.7M622.0 719.0h.7M604.1 711.2h.7M599.5 717.2h.7M602.0 709.4h.7M605.1 698.2h.7M605.5 705.1h.7M621.9 699.5h.7M561.3 681.7h.7M627.6 714.0h.7M586.0 698.5h.7M603.8 707.6h.7M596.8 709.0h.7M605.2 691.2h.7M602.6 708.7h.7M633.9 721.6h.7M603.2 707.9h.7M566.2 716.9h.7M632.9 714.3h.7M635.8 717.5h.7M604.4 705.3h.7M584.4 698.0h.7M604.7 715.5h.7M622.6 714.0h.7M603.6 716.4h.7M619.9 721.0h.7M625.5 709.3h.7M605.5 700.3h.7M603.7 695.6h.7M603.7 716.2h.7M628.7 721.6h.7M619.8 720.4h.7M604.1 706.5h.7M620.5 720.1h.7M619.7 721.1h.7M631.9 713.8h.7M619.3 711.1h.7M605.3 714.7h.7M621.5 705.0h.7M587.2 708.6h.7M628.4 716.5h.7M598.0 715.7h.7M621.4 709.7h.7M645.0 715.0h.7M601.9 718.3h.7M628.1 703.2h.7M623.8 719.2h.7M587.5 704.7h.7M601.0 718.6h.7M566.3 691.6h.7M636.2 721.8h.7M627.6 698.7h.7M624.9 709.1h.7M603.8 721.9h.7M601.9 718.6h.7M603.8 718.3h.7M619.7 721.1h.7M623.4 710.5h.7M603.1 713.3h.7M619.4 713.7h.7M602.9 707.1h.7M599.9 714.7h.7M605.6 718.6h.7M619.7 722.4h.7M645.6 701.8h.7M605.1 717.2h.7M629.2 699.0h.7M626.8 713.4h.7M619.8 715.9h.7M622.0 680.8h.7M622.7 719.4h.7M620.1 712.6h.7M603.9 701.0h.7M598.2 710.1h.7M620.6 695.4h.7M622.4 719.8h.7M620.3 711.4h.7M624.5 715.7h.7M594.7 710.1h.7M594.1 681.8h.7M623.6 713.3h.7M598.9 686.5h.7M597.7 705.6h.7M604.6 716.1h.7M619.4 717.8h.7M605.1 722.2h.7M603.9 692.5h.7M594.0 710.9h.7M591.9 715.9h.7M599.9 710.6h.7M591.7 709.5h.7M619.7 705.3h.7M600.2 704.3h.7M590.4 710.6h.7M604.1 705.8h.7M598.5 714.7h.7M649.4 712.1h.7M597.9 701.8h.7M598.5 716.0h.7M619.2 694.1h.7M600.1 721.1h.7M589.6 700.5h.7M593.5 717.9h.7M602.8 710.1h.7M587.0 721.8h.7M604.7 690.9h.7M594.3 705.7h.7M596.4 697.2h.7M622.6 715.7h.7M622.1 702.8h.7M662.5 711.5h.7M601.3 718.1h.7M602.0 718.5h.7M588.0 693.3h.7M621.2 721.3h.7M622.4 706.2h.7M566.4 689.8h.7M577.5 714.6h.7M604.1 711.0h.7M624.4 720.4h.7M620.1 706.3h.7M599.6 720.3h.7M638.9 703.8h.7M621.0 709.7h.7M603.7 708.9h.7M569.1 688.7h.7M605.2 715.5h.7M602.7 720.0h.7M598.9 717.3h.7M604.7 701.2h.7M620.1 721.6h.7M629.4 717.6h.7M602.8 709.4h.7M626.0 717.6h.7M598.4 719.9h.7M622.2 720.8h.7M594.8 715.6h.7M624.5 702.3h.7M626.8 710.6h.7M603.7 711.7h.7M593.3 716.5h.7M602.3 720.6h.7M576.6 706.4h.7M627.7 721.0h.7M600.8 713.1h.7M593.5 708.1h.7M623.1 713.3h.7M627.3 723.0h.7M625.0 720.7h.7M623.4 716.5h.7M604.8 721.8h.7M604.6 723.1h.7M574.9 708.3h.7M596.6 716.3h.7M599.6 722.4h.7M601.8 713.6h.7M624.3 717.1h.7M572.3 702.1h.7M641.3 708.4h.7M602.3 710.6h.7M605.3 720.1h.7M598.7 714.0h.7M588.6 717.6h.7M621.7 717.7h.7M623.5 705.0h.7M602.7 719.3h.7M604.6 722.0h.7M626.3 718.5h.7M619.4 716.4h.7M600.7 705.6h.7M621.0 702.0h.7M620.2 703.9h.7M625.7 713.7h.7M624.4 721.7h.7M623.1 708.2h.7M599.3 715.4h.7M604.6 708.7h.7M600.8 719.3h.7M619.4 711.0h.7M603.3 721.8h.7M598.6 721.7h.7M597.6 719.5h.7M599.2 718.4h.7M565.9 700.6h.7M600.2 702.9h.7M676.7 712.5h.7M622.5 715.4h.7M628.1 702.1h.7M594.3 718.9h.7M601.5 699.6h.7M600.1 715.8h.7M574.9 704.5h.7M626.6 713.7h.7M620.5 705.5h.7M622.8 707.6h.7M593.0 718.4h.7M620.8 708.5h.7M643.6 702.9h.7M596.9 692.6h.7M599.8 714.8h.7M631.3 719.6h.7M604.3 715.8h.7M602.8 722.4h.7M598.9 706.4h.7M599.5 717.4h.7M596.0 712.3h.7M596.8 715.8h.7M619.2 720.8h.7M605.5 717.9h.7M587.2 718.3h.7M652.6 708.4h.7M595.7 708.7h.7M599.1 699.7h.7M601.9 723.2h.7M620.2 712.7h.7M627.8 718.8h.7M599.0 707.9h.7M602.1 705.2h.7M597.0 721.3h.7M625.2 721.3h.7M625.3 708.5h.7M628.8 711.7h.7M625.5 712.9h.7M601.2 718.4h.7M622.7 721.0h.7M603.6 706.6h.7M628.4 716.0h.7M604.5 717.1h.7M600.2 688.8h.7M585.6 708.4h.7M600.2 699.5h.7M620.5 703.9h.7M623.6 715.3h.7M619.8 716.7h.7M627.9 718.0h.7M619.6 709.3h.7M622.6 714.4h.7M595.2 716.9h.7M605.4 692.0h.7M600.8 697.5h.7M591.9 721.9h.7M599.5 699.4h.7M602.6 716.7h.7M604.5 702.7h.7M558.1 675.4h.7M635.8 717.8h.7M634.4 709.4h.7M619.5 714.3h.7M628.2 718.7h.7M620.6 717.3h.7M605.0 721.6h.7M602.5 721.6h.7M619.5 722.0h.7M588.8 685.4h.7M603.4 689.2h.7M596.8 719.2h.7M622.0 719.0h.7M598.8 715.1h.7M595.3 705.1h.7M605.3 721.8h.7M621.3 720.9h.7M619.8 722.1h.7M636.4 694.8h.7M621.0 712.9h.7M604.1 719.0h.7M632.6 696.0h.7M620.5 720.8h.7M621.1 708.1h.7M620.8 721.5h.7M620.8 720.8h.7M600.1 714.5h.7M603.5 716.1h.7M626.7 718.6h.7M591.1 722.9h.7M670.4 690.7h.7M603.6 717.9h.7M619.5 708.3h.7M599.8 721.1h.7M619.4 720.6h.7M604.4 718.2h.7M623.7 713.1h.7M601.1 723.2h.7M603.8 708.2h.7M605.5 706.8h.7M591.3 708.2h.7M585.1 709.4h.7M599.6 709.6h.7M658.3 679.0h.7M604.9 719.4h.7M586.0 716.5h.7M631.0 712.8h.7M603.3 715.0h.7M588.6 713.1h.7M595.0 707.1h.7M603.9 715.1h.7M600.3 688.5h.7M597.7 714.3h.7M603.4 721.2h.7M635.1 713.4h.7M601.4 716.8h.7M596.5 715.0h.7M619.5 716.9h.7M621.3 716.0h.7M626.3 704.2h.7M588.6 712.6h.7M619.6 715.5h.7M629.0 700.9h.7M594.8 690.9h.7M604.4 709.4h.7M601.1 718.2h.7M619.7 710.5h.7M623.3 707.2h.7M623.9 720.6h.7M595.4 722.7h.7M620.8 720.4h.7M602.6 712.2h.7M619.9 715.8h.7M667.9 714.2h.7M603.3 715.4h.7M620.3 717.9h.7M603.2 713.9h.7M601.8 703.5h.7M601.3 688.9h.7M601.7 714.3h.7M601.6 711.6h.7M604.3 705.2h.7M597.3 713.1h.7M601.4 715.8h.7M604.4 712.8h.7M599.0 714.7h.7M600.3 684.9h.7M623.2 713.1h.7M643.8 691.0h.7M629.5 706.4h.7M605.5 719.7h.7M601.7 707.7h.7M627.5 697.9h.7M621.3 719.2h.7M603.2 721.1h.7M640.0 686.4h.7M622.5 696.6h.7M635.3 701.9h.7M605.6 707.9h.7M602.8 688.8h.7M595.4 702.4h.7M601.2 713.6h.7M584.6 701.7h.7M619.3 717.5h.7M595.1 720.0h.7M599.0 710.3h.7M600.3 696.3h.7M592.7 716.8h.7M605.6 712.8h.7M626.7 714.1h.7M619.7 705.3h.7M603.5 723.1h.7M630.4 704.6h.7M603.9 719.6h.7M599.0 700.3h.7M600.3 722.2h.7M620.6 718.4h.7M604.9 711.6h.7M624.2 721.3h.7M601.3 711.2h.7M620.9 717.6h.7M603.7 721.8h.7M622.9 717.4h.7M591.7 705.6h.7M603.5 715.2h.7M632.7 713.7h.7M604.5 714.8h.7M623.9 705.8h.7M623.4 710.0h.7M598.5 709.6h.7M604.6 719.0h.7M595.6 711.3h.7M659.9 691.0h.7M587.7 722.2h.7M635.1 702.6h.7M626.9 716.4h.7M645.1 717.4h.7M603.6 714.2h.7M623.8 709.0h.7M628.9 721.4h.7M621.6 715.9h.7M584.9 720.9h.7M621.0 712.8h.7M600.9 703.9h.7M604.6 715.2h.7M620.2 697.5h.7M589.8 713.5h.7M599.0 716.9h.7M642.0 717.2h.7M603.0 720.1h.7M601.0 707.2h.7M604.9 696.6h.7M622.1 714.6h.7M593.1 720.4h.7M622.5 714.7h.7M619.2 723.1h.7M619.9 714.7h.7M630.4 694.7h.7M628.6 713.7h.7M620.3 717.0h.7M603.0 691.4h.7M630.2 697.6h.7M596.5 708.8h.7M661.1 692.0h.7M627.4 706.8h.7M605.6 705.6h.7M602.5 720.2h.7M600.7 705.1h.7M597.2 714.1h.7M619.2 720.6h.7M627.9 690.6h.7M620.0 709.4h.7M598.0 722.5h.7M594.4 715.5h.7M603.5 722.5h.7M627.4 717.9h.7M599.2 713.5h.7M605.3 716.1h.7M605.0 693.2h.7M599.9 718.4h.7M623.2 717.1h.7M602.3 719.0h.7M626.1 693.8h.7M631.2 702.4h.7M623.4 706.9h.7M600.4 706.1h.7M601.1 723.1h.7M599.2 718.0h.7M623.0 719.2h.7M591.2 706.4h.7M596.7 721.0h.7M619.4 721.2h.7M589.4 690.4h.7M623.0 714.8h.7M605.2 719.5h.7M620.3 713.2h.7M604.1 707.6h.7M624.4 721.9h.7M597.1 694.4h.7M619.8 713.3h.7M621.2 711.8h.7M624.3 721.0h.7M605.2 708.4h.7M629.1 712.6h.7M623.5 687.9h.7M595.6 712.2h.7M603.8 699.5h.7M603.7 711.2h.7M625.3 716.7h.7M622.9 723.0h.7M577.7 713.7h.7M621.2 713.3h.7M633.3 720.2h.7M671.8 710.0h.7M599.8 707.2h.7M620.7 715.5h.7M621.2 715.9h.7M619.4 712.9h.7M622.7 716.2h.7M604.6 717.2h.7M631.1 715.2h.7M625.0 721.6h.7M619.2 693.7h.7M603.3 709.4h.7M622.4 713.9h.7M601.4 709.1h.7M621.2 721.8h.7M620.3 706.4h.7M649.0 717.7h.7M604.9 718.0h.7M603.2 709.0h.7M630.0 701.8h.7M625.4 709.6h.7M599.9 709.4h.7M622.4 710.1h.7M591.8 708.5h.7M626.7 717.6h.7M603.0 712.6h.7M623.5 717.7h.7M602.3 713.9h.7M624.3 719.0h.7M619.5 721.7h.7M603.0 713.6h.7M623.9 706.5h.7M597.4 705.5h.7M620.0 716.6h.7M621.6 710.1h.7M598.2 694.6h.7M588.7 715.0h.7M656.6 703.0h.7M600.4 722.9h.7M605.0 702.6h.7M631.9 700.0h.7M604.3 719.2h.7M623.3 709.3h.7M601.0 715.8h.7M594.5 710.3h.7M580.5 703.9h.7M621.1 720.1h.7M571.0 700.9h.7M620.3 703.8h.7M602.5 721.7h.7M593.0 706.1h.7M583.1 711.6h.7M602.2 718.8h.7M599.7 690.4h.7M592.9 716.9h.7M588.4 718.6h.7M619.5 713.0h.7M604.3 714.8h.7M605.6 696.4h.7M620.2 721.7h.7M619.5 713.4h.7M628.6 720.6h.7M623.1 720.4h.7M626.4 714.0h.7M619.8 719.3h.7M624.6 716.0h.7M603.3 707.1h.7M622.3 713.4h.7M604.3 705.8h.7M642.1 704.5h.7M619.3 709.2h.7M595.9 720.9h.7M595.6 713.6h.7M600.0 677.3h.7M621.9 717.9h.7M600.4 701.5h.7M626.1 714.7h.7M623.4 718.7h.7M619.2 708.1h.7M625.5 712.8h.7M597.3 703.1h.7M604.1 704.6h.7M602.4 709.4h.7M629.7 709.6h.7M605.6 713.1h.7M603.0 712.5h.7M622.6 712.9h.7M600.8 715.0h.7M595.5 716.0h.7M590.8 720.0h.7M621.7 719.8h.7M569.9 716.8h.7M601.3 722.1h.7M621.4 712.6h.7M629.6 713.1h.7M592.3 692.3h.7M555.1 705.6h.7M604.7 713.5h.7M590.2 702.5h.7M603.0 719.0h.7M620.6 711.9h.7M605.2 719.3h.7M552.5 685.2h.7M619.9 719.6h.7M604.0 697.6h.7M604.0 717.6h.7M620.5 702.1h.7M620.6 720.3h.7M623.1 709.5h.7M581.2 699.6h.7M623.3 695.8h.7M594.0 720.0h.7M626.0 721.3h.7M623.6 717.8h.7M602.7 709.8h.7M640.7 710.9h.7M619.9 703.9h.7M583.8 693.4h.7M599.3 714.4h.7M603.8 717.3h.7M619.7 710.1h.7M577.9 716.1h.7M595.3 699.3h.7M621.7 717.4h.7M591.9 719.4h.7M629.9 717.4h.7M593.8 698.9h.7M623.2 718.5h.7M605.0 717.4h.7M627.5 709.0h.7M602.5 690.0h.7M623.4 723.2h.7M630.0 688.4h.7M624.6 720.3h.7M624.7 708.6h.7M623.7 703.4h.7M622.1 721.0h.7M627.0 718.1h.7M625.7 718.1h.7M592.7 695.0h.7M619.8 721.6h.7M634.8 713.6h.7M594.0 719.3h.7M628.1 718.6h.7M605.4 715.9h.7M604.9 719.7h.7M593.6 717.0h.7M621.9 709.5h.7M596.8 719.4h.7M629.2 721.9h.7M604.0 684.4h.7M626.6 705.2h.7M629.7 707.2h.7M595.6 713.1h.7M622.1 716.0h.7M605.5 715.0h.7M602.3 712.9h.7M630.2 712.8h.7M643.2 700.0h.7M619.5 697.9h.7M620.0 707.6h.7M621.7 723.2h.7M603.4 718.1h.7M623.5 704.7h.7M628.3 720.6h.7M620.3 716.0h.7M621.9 716.5h.7M602.9 717.5h.7M601.0 715.2h.7M620.7 714.8h.7M600.0 720.6h.7M621.5 716.4h.7M635.1 720.9h.7M619.3 707.2h.7M622.3 718.9h.7M604.3 702.4h.7M619.3 718.2h.7M623.0 718.7h.7M592.8 699.7h.7M620.4 715.7h.7M602.3 707.4h.7M600.8 712.3h.7M599.6 709.6h.7M602.8 704.8h.7M602.9 721.3h.7M630.3 704.1h.7M628.1 716.2h.7M605.0 687.2h.7M631.6 719.9h.7M604.8 721.8h.7M570.2 716.2h.7M622.1 712.5h.7M604.7 715.6h.7M602.1 712.8h.7M626.0 711.6h.7M652.2 707.2h.7M602.3 716.9h.7M602.7 711.4h.7M595.1 709.2h.7M604.3 711.0h.7M620.8 692.1h.7M601.2 709.2h.7M622.6 704.1h.7M592.8 712.6h.7M603.6 714.1h.7M605.1 714.9h.7M626.8 721.6h.7M604.4 716.2h.7M633.5 700.0h.7M648.3 696.8h.7M619.4 718.1h.7M622.1 710.4h.7M627.2 708.5h.7M603.1 714.7h.7M623.2 711.3h.7M621.3 706.0h.7M645.3 709.7h.7M593.5 703.7h.7M577.2 712.3h.7M594.8 706.2h.7M586.6 704.5h.7M620.0 723.1h.7M622.2 721.4h.7M602.6 693.4h.7M575.9 714.2h.7M620.6 715.8h.7M602.1 708.0h.7M640.0 713.9h.7M619.9 717.4h.7M622.0 721.1h.7M601.4 719.6h.7M600.2 700.5h.7M599.8 714.6h.7M604.9 708.0h.7M660.5 709.1h.7M621.0 722.4h.7M645.6 715.8h.7M648.7 713.2h.7M600.9 720.7h.7M599.1 707.9h.7M605.5 715.0h.7M641.3 699.0h.7M620.0 710.1h.7M604.3 696.3h.7M622.8 709.5h.7M603.1 710.9h.7M604.8 718.9h.7M565.7 712.1h.7M620.7 721.0h.7M596.5 714.8h.7M594.4 719.3h.7M664.3 698.1h.7M599.9 693.4h.7M619.8 721.3h.7M593.5 697.2h.7M592.6 713.1h.7M622.2 708.6h.7M603.5 721.8h.7M623.6 713.4h.7M619.4 720.8h.7M626.6 708.5h.7M621.2 722.2h.7M592.0 700.5h.7M591.0 717.7h.7M590.6 698.2h.7M591.5 722.2h.7M587.2 714.8h.7M603.5 703.1h.7M601.4 714.8h.7M604.5 716.1h.7M624.9 704.7h.7M620.4 721.3h.7M603.1 711.0h.7M589.0 712.5h.7M632.1 713.9h.7M596.8 701.2h.7M605.3 707.2h.7M619.7 718.3h.7M603.8 706.0h.7M603.4 715.7h.7M599.3 722.7h.7M623.9 706.5h.7M619.9 720.0h.7M637.7 717.6h.7M619.8 720.7h.7M632.0 702.4h.7M632.2 719.6h.7M624.5 716.9h.7M604.4 722.8h.7M602.3 697.6h.7M603.4 710.6h.7M627.5 700.4h.7M603.2 712.3h.7M601.1 711.5h.7M603.7 708.3h.7M600.2 710.0h.7M622.4 705.0h.7M594.3 720.2h.7M602.9 702.9h.7M598.8 720.9h.7M596.9 698.5h.7M619.8 723.0h.7M631.7 713.3h.7M597.6 701.0h.7M605.1 696.9h.7M622.4 721.5h.7M601.0 717.6h.7M603.8 715.7h.7M621.9 715.7h.7M587.2 710.3h.7M638.8 709.7h.7M628.6 715.6h.7M634.1 707.9h.7M619.5 721.0h.7M620.2 710.7h.7M622.3 720.6h.7M602.9 717.1h.7M603.7 717.0h.7M623.3 714.7h.7M604.3 716.2h.7M622.7 715.4h.7M590.2 699.1h.7M620.2 706.0h.7M592.2 716.1h.7M620.1 719.4h.7M603.6 711.5h.7M601.2 708.8h.7M604.7 714.9h.7M598.7 720.6h.7M597.1 709.5h.7M619.8 718.0h.7M601.4 695.2h.7M605.2 710.8h.7M597.9 721.0h.7M621.8 704.3h.7M627.2 718.0h.7M578.4 684.6h.7M597.7 702.5h.7M622.7 718.9h.7M604.5 713.5h.7M626.3 698.0h.7M603.3 719.9h.7M603.8 722.1h.7M637.5 716.8h.7M623.3 718.2h.7M626.8 712.2h.7M605.5 713.8h.7M602.2 717.3h.7M630.5 705.7h.7M603.6 710.8h.7M603.0 694.7h.7M625.1 707.4h.7M595.2 717.5h.7M603.8 700.9h.7M587.7 707.3h.7M601.1 715.8h.7M604.8 711.8h.7M593.2 720.2h.7M628.6 718.8h.7M604.5 714.1h.7M623.3 719.2h.7M648.6 694.5h.7M625.2 709.5h.7M600.7 714.6h.7M592.6 715.6h.7M601.0 709.2h.7M619.6 712.6h.7M551.6 673.5h.7M668.5 678.2h.7M656.5 694.4h.7M581.9 689.8h.7M637.0 672.1h.7M637.5 703.6h.7M589.4 704.9h.7M590.3 681.7h.7M582.0 690.8h.7M572.5 681.9h.7M556.2 679.5h.7M576.8 696.5h.7M588.8 705.1h.7M656.7 698.5h.7M670.4 703.2h.7M651.3 691.6h.7M633.9 694.9h.7M666.4 689.8h.7M574.4 673.6h.7M638.8 680.2h.7M559.8 697.0h.7M583.3 682.4h.7M655.5 696.7h.7M654.5 687.3h.7M561.9 698.7h.7M550.4 672.0h.7M566.3 702.0h.7M566.4 682.9h.7M559.7 674.9h.7M659.5 677.4h.7M659.1 697.6h.7M590.7 672.9h.7M646.6 682.4h.7M587.3 693.6h.7M560.4 674.2h.7M639.0 690.8h.7M658.7 676.1h.7M655.3 687.1h.7M589.4 680.1h.7M645.5 675.1h.7" stroke="#f42a20" stroke-width="0.9"/>
<path d="M612.3 729.3h.6M612.1 728.2h.6M612.1 728.9h.6M614.5 728.2h.6M611.7 728.2h.6M606.9 721.7h.6M612.2 729.2h.6M612.1 729.2h.6M616.1 723.3h.6M607.3 713.0h.6M605.7 725.1h.6M617.6 720.5h.6M615.1 718.8h.6M615.8 714.3h.6M618.1 718.6h.6M611.3 729.0h.6M611.3 726.8h.6M618.5 717.5h.6M616.9 714.3h.6M612.8 729.0h.6M617.5 714.7h.6M609.7 720.4h.6M617.8 723.8h.6M608.8 725.7h.6M606.3 727.3h.6M614.8 720.1h.6M606.2 716.9h.6M611.5 725.8h.6M607.7 723.1h.6M616.3 720.8h.6M617.7 716.0h.6M606.3 712.8h.6M606.5 717.4h.6M609.9 727.9h.6M616.0 724.1h.6M615.4 717.5h.6M605.9 729.3h.6M614.3 721.4h.6M607.9 725.8h.6M613.9 725.9h.6M613.9 725.9h.6M607.0 726.9h.6M618.1 716.2h.6M608.0 724.7h.6M616.0 717.6h.6M614.0 723.5h.6M609.2 720.5h.6M605.9 720.8h.6M617.2 720.1h.6M616.6 724.7h.6M613.2 727.1h.6M606.1 719.7h.6M615.6 723.8h.6M610.5 722.3h.6M606.8 727.8h.6M612.1 729.0h.6M618.8 709.3h.6M612.1 729.1h.6M618.7 706.5h.6M617.2 727.5h.6M611.7 727.7h.6M615.4 720.2h.6M616.0 716.9h.6M614.2 727.8h.6M609.0 725.3h.6M614.4 725.6h.6M616.8 712.4h.6M613.1 726.6h.6M610.6 729.2h.6M613.8 725.9h.6M609.5 729.2h.6M609.7 726.7h.6M607.0 719.2h.6M610.6 728.1h.6M608.5 720.6h.6M606.2 712.3h.6M618.4 721.2h.6M606.9 713.9h.6M606.1 723.9h.6M616.1 723.9h.6M618.4 721.5h.6M610.6 727.4h.6M610.5 721.8h.6M616.9 717.7h.6M610.2 720.6h.6M613.2 726.9h.6M607.4 717.7h.6M611.5 728.5h.6M615.8 724.6h.6M610.9 727.3h.6M611.2 726.4h.6M608.3 714.9h.6M619.0 719.5h.6M608.0 725.5h.6M609.7 721.5h.6M608.9 715.9h.6M615.4 719.5h.6M606.5 715.6h.6M617.0 715.9h.6M610.3 722.1h.6M616.5 714.3h.6M609.6 720.5h.6M606.6 726.5h.6M616.5 720.1h.6M613.8 726.4h.6M607.6 710.5h.6M610.5 721.8h.6M613.0 727.6h.6M610.9 722.8h.6M618.5 718.5h.6M618.3 722.0h.6M616.6 729.1h.6M609.4 724.8h.6M618.0 716.7h.6M606.3 715.6h.6M607.6 710.4h.6M610.1 720.9h.6M617.3 717.8h.6M609.6 720.8h.6M610.7 728.8h.6M614.4 721.1h.6M614.5 724.1h.6M613.4 728.7h.6M610.3 725.4h.6M608.1 718.8h.6M610.6 727.5h.6M610.4 728.6h.6M618.0 725.8h.6M609.7 725.5h.6M617.1 717.9h.6M607.4 727.8h.6M612.2 728.9h.6M618.5 719.0h.6M614.3 725.7h.6M615.7 725.5h.6M607.4 710.0h.6M615.3 718.7h.6M615.1 722.9h.6M614.6 726.1h.6M617.7 708.4h.6M614.0 728.0h.6M610.8 724.7h.6M607.4 719.3h.6M606.7 717.0h.6M607.7 710.9h.6M611.4 727.5h.6M613.0 727.2h.6M610.8 727.7h.6M608.3 714.1h.6M618.8 728.7h.6M608.7 716.2h.6M613.2 728.1h.6M610.5 722.1h.6M614.6 725.6h.6M610.4 726.6h.6M607.6 712.0h.6M613.0 728.3h.6M613.9 727.8h.6M609.0 715.5h.6M611.4 725.3h.6M608.2 718.1h.6M611.4 726.9h.6M611.5 729.2h.6M611.2 726.6h.6M610.9 723.3h.6M615.1 724.3h.6M615.3 718.0h.6M616.1 714.7h.6M609.3 722.4h.6M609.9 726.8h.6M617.9 711.7h.6M613.0 729.0h.6M616.0 720.7h.6M616.3 717.5h.6M609.7 725.2h.6M613.6 728.0h.6M612.3 729.1h.6M613.5 728.8h.6M614.2 727.7h.6M613.5 728.0h.6M609.3 722.3h.6M611.2 727.2h.6M605.9 726.4h.6M610.1 725.2h.6M609.2 724.7h.6M612.3 728.7h.6M610.4 726.0h.6M616.9 710.9h.6M606.2 719.0h.6M616.2 720.3h.6M619.1 721.0h.6M606.7 722.0h.6M610.2 723.1h.6M609.0 720.4h.6M617.7 714.8h.6M607.7 710.7h.6M610.9 725.7h.6M607.1 706.4h.6M608.4 717.7h.6M614.2 728.2h.6M609.6 727.0h.6M611.5 727.4h.6M607.3 718.2h.6M605.8 721.6h.6M614.9 728.5h.6M607.3 707.4h.6M612.8 728.1h.6M614.9 722.4h.6M612.3 729.2h.6M613.4 725.5h.6M614.9 721.8h.6M618.1 710.7h.6M606.3 709.2h.6M614.5 721.6h.6M613.1 728.1h.6M614.5 720.3h.6M614.5 723.9h.6M608.6 713.0h.6M612.9 727.4h.6M618.1 728.2h.6M607.4 716.1h.6M608.8 723.1h.6M607.9 712.5h.6M605.6 713.6h.6M616.0 715.6h.6M609.9 725.9h.6M613.0 728.8h.6M606.6 706.7h.6M612.8 728.1h.6M613.9 722.7h.6M611.9 728.5h.6M610.9 723.8h.6M614.4 725.4h.6M612.6 729.2h.6M617.3 722.1h.6M615.5 716.7h.6M617.3 725.2h.6M608.6 719.8h.6M615.5 726.6h.6M609.5 719.2h.6M607.9 724.2h.6M608.6 726.5h.6M611.1 726.3h.6M609.0 727.1h.6M610.9 727.4h.6M616.3 715.4h.6M607.3 714.8h.6M618.8 716.0h.6M606.2 712.1h.6M605.8 727.8h.6M608.9 715.5h.6M610.1 723.1h.6M614.2 722.4h.6M608.2 723.2h.6M610.8 727.1h.6M614.3 724.8h.6M609.3 718.1h.6M612.3 729.2h.6M617.2 711.7h.6M610.2 727.5h.6M612.0 728.8h.6M610.6 724.1h.6M613.8 724.9h.6M615.6 718.0h.6M614.8 725.8h.6M618.2 710.2h.6M613.0 728.0h.6M607.6 727.4h.6M610.6 722.6h.6M611.5 728.0h.6M618.6 729.2h.6M614.5 725.4h.6M609.3 725.3h.6M613.4 725.7h.6M612.8 728.1h.6M608.1 723.6h.6M613.0 727.1h.6M615.4 723.5h.6M618.7 707.8h.6M608.9 727.7h.6M617.2 723.4h.6M610.1 724.6h.6M618.1 715.8h.6M614.9 722.9h.6M606.4 728.0h.6M610.3 727.9h.6M618.4 717.9h.6M606.8 727.6h.6M618.5 714.1h.6M606.5 714.1h.6M606.4 718.8h.6M610.6 728.3h.6M606.5 726.9h.6M612.9 727.0h.6M611.6 727.1h.6M607.7 728.2h.6M616.4 726.6h.6M612.8 729.0h.6M617.2 709.5h.6M612.0 728.0h.6M616.7 726.5h.6M615.7 726.0h.6M616.8 715.0h.6M613.9 728.1h.6M612.3 729.1h.6M605.8 715.2h.6M619.1 725.8h.6M614.3 723.3h.6M614.9 727.5h.6M609.4 718.6h.6M616.5 719.7h.6M611.0 728.1h.6M614.1 724.3h.6M606.3 714.2h.6M616.9 718.3h.6M612.1 728.9h.6M612.8 728.5h.6M610.7 727.3h.6M608.7 724.8h.6M611.9 727.6h.6M612.3 728.9h.6M610.3 721.1h.6M616.5 711.9h.6M615.8 715.0h.6M612.8 728.9h.6M606.2 727.7h.6M616.6 713.3h.6M617.1 713.1h.6M615.6 723.3h.6M607.2 720.9h.6M618.3 709.7h.6M608.3 723.7h.6M611.5 727.0h.6M607.4 714.1h.6M615.2 726.0h.6M619.1 721.3h.6M608.9 717.1h.6M618.6 721.8h.6M605.7 710.8h.6M615.7 722.6h.6M617.6 717.7h.6M611.3 725.9h.6M605.7 702.8h.6M606.4 719.6h.6M610.3 725.0h.6M610.3 721.0h.6M611.4 725.1h.6M619.0 728.4h.6M606.0 729.3h.6M608.9 720.2h.6M610.2 723.4h.6M607.7 718.1h.6M611.7 727.3h.6M606.0 706.5h.6M618.8 718.3h.6M608.5 723.3h.6M615.2 724.8h.6M608.1 717.6h.6M612.3 729.1h.6M614.6 726.6h.6M615.1 718.3h.6M609.2 718.6h.6M612.8 727.9h.6M618.2 727.0h.6M607.6 721.3h.6M610.9 722.9h.6M615.1 719.9h.6M610.9 727.1h.6M613.3 726.8h.6M618.0 712.1h.6M607.2 714.8h.6M614.2 724.2h.6M608.8 720.4h.6M617.2 726.8h.6M615.9 725.0h.6M612.4 729.3h.6M612.4 729.3h.6M610.8 723.3h.6M607.0 713.1h.6M610.0 726.2h.6M609.2 728.6h.6M606.1 716.9h.6M612.7 728.3h.6M617.9 711.6h.6M610.2 723.2h.6M618.4 714.0h.6M609.4 725.3h.6M610.4 726.8h.6M607.4 712.4h.6M610.0 724.9h.6M606.6 713.5h.6M612.1 728.1h.6M616.7 723.6h.6M607.1 727.9h.6M607.4 718.1h.6M613.1 726.9h.6M618.7 709.3h.6M609.1 726.4h.6M617.0 711.1h.6M617.1 727.8h.6M617.6 723.0h.6M618.3 720.3h.6M619.2 727.4h.6M614.4 721.8h.6M612.3 728.9h.6M612.0 728.9h.6M613.9 725.8h.6M607.6 709.8h.6M613.4 726.2h.6M613.6 725.9h.6M609.3 717.2h.6M614.7 726.4h.6M607.4 708.2h.6M616.0 721.0h.6M611.5 729.2h.6M613.2 727.1h.6M607.0 717.9h.6M616.8 718.5h.6M616.1 721.0h.6M611.5 728.2h.6M615.8 727.2h.6M611.8 728.4h.6M611.2 729.3h.6M609.5 723.5h.6M612.2 729.3h.6M607.9 723.6h.6M611.0 726.0h.6M618.0 727.0h.6M611.1 728.3h.6M615.3 718.7h.6M614.0 725.3h.6M611.5 727.3h.6M618.3 715.1h.6M611.4 725.8h.6M613.7 727.0h.6M610.6 724.9h.6M608.3 729.1h.6M615.4 727.5h.6M612.9 728.6h.6M610.3 721.1h.6M605.9 727.7h.6M618.6 706.1h.6M615.9 726.5h.6M608.0 723.2h.6M606.6 721.1h.6M610.8 725.1h.6M612.4 729.2h.6M607.6 724.0h.6M610.9 727.9h.6M613.6 727.7h.6M606.4 722.5h.6M615.1 728.2h.6M613.0 728.1h.6M616.7 717.7h.6M610.3 723.4h.6M610.3 727.2h.6M617.7 720.7h.6M610.5 721.7h.6M619.0 720.7h.6M615.2 728.3h.6M616.2 717.3h.6M613.4 727.2h.6M618.3 720.0h.6M610.0 724.4h.6M617.8 719.2h.6M611.8 728.5h.6M615.1 718.0h.6M608.1 719.8h.6M618.2 716.5h.6M617.4 718.4h.6M616.4 717.7h.6M606.3 722.1h.6M618.1 704.9h.6M608.6 714.0h.6M610.7 728.8h.6M618.7 728.4h.6M617.8 707.0h.6M610.8 724.8h.6M616.0 725.4h.6M608.8 714.1h.6M611.1 729.0h.6M616.2 723.4h.6M607.7 711.1h.6M616.0 715.4h.6M616.6 727.6h.6M606.2 709.6h.6M607.8 719.0h.6M613.5 724.5h.6M617.5 727.8h.6M616.8 716.1h.6M613.1 728.8h.6M607.2 728.8h.6M612.3 729.1h.6M607.8 719.6h.6M614.5 724.5h.6M616.0 723.4h.6M616.5 725.7h.6M610.2 721.8h.6M614.0 724.3h.6M610.6 726.1h.6M619.1 727.4h.6M610.6 728.5h.6M606.3 711.9h.6M616.3 715.3h.6M612.7 729.1h.6M615.8 717.7h.6M612.1 729.0h.6M608.7 716.6h.6M615.0 719.1h.6M613.9 726.9h.6M605.7 716.5h.6M611.5 727.4h.6M618.6 708.9h.6M609.4 717.4h.6M609.6 720.2h.6M609.9 719.3h.6M613.0 727.4h.6M614.8 722.7h.6M614.5 728.3h.6M608.0 718.1h.6M615.2 726.6h.6M617.3 726.9h.6M613.7 728.6h.6M618.3 714.2h.6M617.9 705.4h.6M607.6 715.5h.6M614.0 723.7h.6M606.4 722.0h.6M611.8 726.7h.6M606.8 723.9h.6M611.9 729.2h.6M618.6 706.2h.6M613.7 723.9h.6M609.3 722.7h.6M609.9 719.7h.6M618.2 724.4h.6M618.6 702.7h.6M610.0 725.5h.6M608.9 727.8h.6M614.5 728.4h.6M611.0 726.2h.6M616.2 725.3h.6M607.2 714.7h.6M618.5 710.3h.6M615.7 725.5h.6M610.5 723.4h.6M611.4 725.5h.6M608.7 724.8h.6M608.3 727.0h.6M612.2 729.0h.6M608.9 723.3h.6M616.9 711.0h.6M609.2 717.9h.6M614.4 721.8h.6M616.6 726.0h.6M606.5 715.1h.6M617.7 711.8h.6M614.2 728.7h.6M616.1 724.3h.6M613.7 724.1h.6M607.4 717.3h.6M608.5 726.1h.6M606.3 715.3h.6M618.4 716.3h.6M617.1 725.0h.6M615.3 724.6h.6M618.6 712.8h.6M617.2 718.6h.6M614.2 728.0h.6M606.3 709.2h.6M611.8 728.1h.6M615.9 721.4h.6M607.5 727.3h.6M619.1 701.2h.6M609.8 728.1h.6M610.4 722.7h.6M607.1 706.5h.6M607.1 717.2h.6M616.9 711.1h.6M610.3 724.5h.6M609.5 716.8h.6M607.4 718.5h.6M611.5 729.2h.6M615.8 716.5h.6M615.8 720.3h.6M616.7 710.8h.6M614.0 725.3h.6M618.9 713.8h.6M616.1 717.0h.6M607.0 721.7h.6M616.4 720.2h.6M614.8 720.2h.6M614.6 726.8h.6M611.0 726.0h.6M611.7 727.6h.6M605.6 727.6h.6M616.9 724.2h.6M606.5 728.0h.6M608.5 729.0h.6M616.1 727.2h.6M614.6 724.6h.6M618.9 702.3h.6M610.1 727.3h.6M614.3 729.1h.6M613.7 726.4h.6M613.6 728.2h.6M616.4 713.7h.6M613.3 726.8h.6M613.7 724.7h.6M608.0 716.6h.6M608.8 720.0h.6M615.2 724.1h.6M613.1 727.0h.6M609.3 717.2h.6M609.9 723.8h.6M615.6 717.4h.6M609.5 718.3h.6M611.9 728.7h.6M617.6 711.5h.6M619.0 707.3h.6M618.5 719.7h.6M608.0 713.4h.6M616.6 723.6h.6M615.9 720.7h.6M608.9 726.7h.6M609.1 720.2h.6M609.1 725.1h.6M606.6 706.4h.6M617.8 723.2h.6M617.6 724.8h.6M615.9 721.0h.6M611.1 724.6h.6M609.5 718.2h.6M612.0 728.5h.6M606.2 708.4h.6M611.2 727.2h.6M614.6 728.2h.6M609.1 716.8h.6M611.9 728.4h.6M609.0 719.2h.6M606.7 729.0h.6M606.2 717.8h.6M613.3 726.9h.6M609.6 726.7h.6M612.8 728.8h.6M613.8 725.7h.6M606.3 723.7h.6M605.9 710.5h.6M612.6 729.0h.6M618.8 726.9h.6M608.4 723.8h.6M615.8 723.1h.6M608.0 718.6h.6M619.2 699.9h.6M617.0 720.4h.6M606.2 725.2h.6M606.0 727.9h.6M610.4 729.0h.6M616.9 718.1h.6M607.3 727.4h.6M613.8 727.6h.6M611.2 728.5h.6M612.2 729.1h.6M611.9 727.9h.6M611.2 728.3h.6M618.3 709.9h.6M606.4 718.6h.6M607.1 721.0h.6M615.1 728.4h.6M605.7 717.9h.6M617.1 715.4h.6M612.7 728.1h.6M606.4 720.1h.6M616.3 716.7h.6M613.1 727.9h.6M608.6 724.4h.6M615.6 718.4h.6M613.2 727.6h.6M609.1 726.3h.6M611.4 729.2h.6M608.0 715.5h.6M617.0 725.3h.6M617.8 718.7h.6M613.2 727.0h.6M617.5 724.4h.6M607.3 718.9h.6M606.2 728.1h.6M612.8 727.7h.6M611.6 729.0h.6M611.1 727.4h.6M609.1 723.7h.6M611.7 728.0h.6M617.2 715.4h.6M613.9 723.7h.6M613.7 724.6h.6M610.3 723.4h.6M611.0 723.5h.6M618.8 705.4h.6M610.6 726.2h.6M618.8 716.3h.6M614.4 721.5h.6M617.8 728.2h.6M610.3 725.8h.6M616.4 712.3h.6M618.7 728.3h.6M618.0 728.7h.6M614.7 723.9h.6M617.1 720.9h.6M612.1 728.3h.6M612.3 728.8h.6M612.0 728.6h.6M613.3 726.2h.6M615.1 729.1h.6M610.1 728.8h.6M618.5 704.1h.6M607.7 725.8h.6M612.8 728.5h.6M611.8 727.9h.6M610.8 723.0h.6M606.0 718.4h.6M613.5 726.5h.6M618.6 720.0h.6M612.2 728.6h.6M617.8 707.8h.6M617.5 710.0h.6M612.8 728.4h.6M616.4 725.6h.6M611.7 727.4h.6M615.9 719.1h.6M614.0 723.7h.6M618.5 704.0h.6M608.8 716.3h.6M615.3 722.9h.6M609.7 726.4h.6M610.4 727.2h.6M609.9 728.3h.6M607.4 721.9h.6M612.5 729.0h.6M611.0 725.5h.6M608.8 729.2h.6M614.4 725.0h.6M618.1 707.6h.6M608.7 715.6h.6M610.3 722.5h.6M611.3 725.9h.6M610.9 724.3h.6M608.4 718.4h.6M610.4 724.4h.6M618.6 703.8h.6M618.8 713.5h.6M608.9 723.7h.6M608.3 714.3h.6M613.9 728.2h.6M610.3 721.3h.6M614.4 722.0h.6M611.1 726.1h.6M616.1 718.3h.6M609.7 720.6h.6M618.1 727.7h.6M613.1 729.1h.6M606.5 728.5h.6M610.8 726.2h.6M616.9 719.7h.6M611.7 727.1h.6M618.2 715.8h.6M618.0 719.3h.6M606.6 707.4h.6M616.2 714.4h.6M618.9 713.3h.6M609.7 720.0h.6M607.9 718.9h.6M610.4 724.6h.6M619.1 713.6h.6M615.6 716.5h.6M616.5 716.5h.6M613.0 726.8h.6M608.2 714.6h.6M614.7 721.2h.6M615.9 717.9h.6M618.6 711.4h.6M618.0 710.0h.6M610.8 724.4h.6M615.1 724.3h.6M606.5 703.9h.6M617.4 711.2h.6M611.1 729.3h.6M618.8 722.0h.6M608.7 723.2h.6M607.0 727.0h.6M608.1 725.4h.6M608.6 717.1h.6M606.6 706.3h.6M615.6 720.2h.6M607.1 718.9h.6M619.1 714.3h.6M607.6 726.8h.6M610.6 723.6h.6M608.0 711.4h.6M616.3 718.2h.6M610.9 727.0h.6M615.3 719.8h.6M609.5 728.4h.6M607.4 722.5h.6M618.2 718.3h.6M614.0 726.7h.6M606.1 705.2h.6M611.2 728.4h.6M619.0 701.2h.6M610.5 723.0h.6M614.7 723.8h.6M608.4 729.3h.6M614.6 728.8h.6M617.6 707.0h.6M619.0 728.5h.6M616.9 713.0h.6M611.0 727.9h.6M609.6 725.1h.6M612.2 728.9h.6M613.9 725.1h.6M618.6 728.5h.6M605.7 706.2h.6M614.1 727.8h.6M606.4 703.4h.6M611.6 728.2h.6M618.4 712.6h.6M615.2 722.4h.6M614.0 723.6h.6M615.2 727.4h.6M618.9 706.9h.6M617.6 721.1h.6M616.8 714.4h.6M608.1 712.2h.6M618.8 711.2h.6M609.7 723.6h.6M615.5 726.9h.6M607.8 725.5h.6M608.7 714.0h.6M613.1 726.4h.6M612.8 728.9h.6M613.3 729.0h.6M610.5 721.7h.6M609.2 723.9h.6M607.0 711.2h.6M615.5 727.7h.6M615.6 719.2h.6M609.8 725.2h.6M610.5 726.1h.6M611.9 727.2h.6M609.9 729.0h.6M616.7 713.3h.6M606.8 716.9h.6M614.8 728.0h.6M610.3 722.2h.6M614.8 727.8h.6M618.5 712.2h.6M608.3 724.3h.6M613.9 723.7h.6M613.9 727.6h.6M616.4 723.0h.6M618.8 711.0h.6M612.4 729.3h.6M608.9 714.7h.6M614.2 726.0h.6M611.4 725.3h.6M610.9 725.1h.6M614.3 728.2h.6M607.0 718.2h.6M615.7 723.6h.6M612.2 729.0h.6M611.4 728.4h.6M612.1 728.0h.6M606.8 712.7h.6M617.1 710.3h.6M609.6 723.0h.6M611.4 726.5h.6M605.9 711.0h.6M606.8 714.4h.6M605.7 715.3h.6M615.4 720.4h.6M613.2 728.0h.6M610.6 724.0h.6M608.8 726.5h.6M608.3 716.3h.6M617.4 710.0h.6M615.8 718.6h.6M612.4 729.3h.6M609.0 723.8h.6M615.3 728.1h.6M612.0 727.6h.6M611.0 724.4h.6M609.9 719.7h.6M615.0 718.6h.6M608.5 725.0h.6M617.9 712.2h.6M613.8 727.7h.6M608.3 716.1h.6M613.1 727.9h.6M608.2 722.7h.6M607.2 717.6h.6M610.3 724.5h.6M612.9 728.7h.6M606.7 719.0h.6M613.5 729.3h.6M615.9 725.4h.6M610.1 724.7h.6M614.2 728.2h.6M612.5 729.1h.6M609.6 717.9h.6M608.1 725.6h.6M609.9 725.4h.6M606.7 721.8h.6M606.8 716.6h.6M609.1 726.7h.6M618.8 722.3h.6M614.8 723.0h.6M607.6 725.4h.6M614.3 728.4h.6M607.1 719.1h.6M618.7 726.7h.6M608.2 719.3h.6M615.4 717.3h.6M612.2 728.9h.6M617.4 722.1h.6M609.8 721.5h.6M610.8 728.6h.6M610.9 726.2h.6M608.3 713.4h.6M607.5 710.5h.6M607.0 714.9h.6M614.4 723.7h.6M606.3 712.3h.6M607.7 723.8h.6M612.1 728.3h.6M607.7 723.4h.6M607.4 714.5h.6M609.8 724.6h.6M606.1 721.4h.6M606.1 710.7h.6M608.6 724.3h.6M612.8 728.4h.6M616.6 717.5h.6M609.5 722.0h.6M611.8 728.5h.6M611.9 728.7h.6M612.8 729.1h.6M612.2 728.9h.6M617.7 725.4h.6M615.1 725.9h.6M613.8 729.0h.6M616.6 724.5h.6M606.0 706.3h.6M615.3 717.0h.6M609.4 720.6h.6M617.8 718.2h.6M616.2 718.5h.6M615.1 722.4h.6M608.5 717.6h.6M614.9 727.5h.6M612.6 728.8h.6M615.5 723.0h.6M617.9 711.6h.6M611.2 727.4h.6M617.6 722.4h.6M607.3 717.7h.6M610.9 729.1h.6M616.4 721.4h.6M618.8 727.3h.6M618.6 718.2h.6M616.7 723.1h.6M613.4 726.2h.6M611.1 726.2h.6M612.5 729.0h.6M613.5 724.5h.6M616.2 716.0h.6M611.9 728.5h.6M614.7 728.9h.6M612.3 729.2h.6M607.8 716.7h.6M613.4 726.1h.6M613.0 727.1h.6M610.8 727.7h.6M609.5 725.1h.6M608.0 719.2h.6M618.3 720.7h.6M611.6 727.9h.6M614.8 728.5h.6M617.4 725.2h.6M615.8 717.2h.6M618.7 703.5h.6M617.9 726.9h.6M612.5 729.1h.6M612.2 729.0h.6M609.3 729.2h.6M606.6 713.1h.6M611.0 724.2h.6M618.3 711.3h.6M614.9 722.8h.6M617.7 725.6h.6M606.1 720.0h.6M606.7 717.7h.6M610.2 729.1h.6M610.5 723.6h.6M606.8 705.2h.6M617.2 713.7h.6M615.5 726.6h.6M614.8 728.5h.6M612.9 727.6h.6M613.2 726.0h.6M611.7 727.5h.6M611.8 726.8h.6M614.0 727.7h.6M609.6 728.2h.6M610.6 726.0h.6M612.9 728.3h.6M611.4 725.0h.6M617.9 705.5h.6M616.8 715.5h.6M618.5 723.7h.6M613.6 728.8h.6M611.0 728.6h.6M618.5 728.9h.6M617.4 717.0h.6M608.7 718.3h.6M617.7 726.9h.6M617.6 723.2h.6M619.1 708.1h.6M606.6 720.9h.6M614.2 725.2h.6M608.2 721.6h.6M612.3 729.1h.6M611.0 729.3h.6M618.7 719.1h.6M612.6 728.7h.6M609.2 717.0h.6M615.5 726.0h.6M614.8 723.9h.6M610.8 724.6h.6M618.6 715.2h.6M611.4 727.7h.6M613.0 726.9h.6M608.8 721.9h.6M605.6 726.5h.6M614.0 723.3h.6M606.2 725.2h.6M609.5 727.4h.6M613.9 729.1h.6M612.6 728.7h.6M614.6 721.2h.6M615.6 718.6h.6M609.9 728.3h.6M608.0 717.8h.6M609.9 726.9h.6M610.1 725.4h.6M617.1 711.0h.6M606.3 722.1h.6M610.5 727.2h.6M607.4 722.1h.6M613.0 726.6h.6M612.0 728.7h.6M613.8 727.8h.6M615.2 721.9h.6M617.1 723.2h.6M610.9 726.7h.6M606.8 725.2h.6M611.4 726.3h.6M619.1 701.3h.6M609.1 718.8h.6M606.8 724.4h.6M617.0 727.4h.6M616.9 713.8h.6M608.2 712.2h.6M607.1 719.7h.6M617.0 727.5h.6M614.9 728.4h.6M610.9 723.4h.6M613.9 726.5h.6M614.6 722.6h.6M609.2 720.2h.6M617.2 722.1h.6M616.5 721.3h.6M612.9 728.0h.6M614.3 725.0h.6M612.1 728.9h.6M606.1 704.5h.6M616.7 710.5h.6M606.5 711.5h.6M612.0 727.7h.6M613.5 724.7h.6M615.5 721.4h.6M617.5 721.4h.6M613.8 724.1h.6M607.9 720.7h.6M610.6 722.7h.6M610.4 726.8h.6M606.2 712.4h.6M613.1 726.6h.6M617.7 712.6h.6M618.8 721.8h.6M608.7 714.1h.6M613.3 726.3h.6M610.7 725.4h.6M615.2 717.3h.6M610.5 723.5h.6M610.8 723.6h.6M608.1 713.0h.6M611.2 724.6h.6M609.4 728.6h.6M608.9 728.0h.6M606.6 716.1h.6M606.7 717.1h.6M609.6 726.5h.6M615.4 726.1h.6M618.4 723.2h.6M615.5 725.3h.6M611.7 729.2h.6M607.2 722.1h.6M612.6 729.0h.6M608.0 717.1h.6M615.9 717.4h.6M618.9 720.9h.6M610.8 725.4h.6M614.1 725.3h.6M615.7 718.0h.6M617.9 727.8h.6M615.0 721.5h.6M619.0 711.6h.6M609.0 724.3h.6M610.5 721.7h.6M615.3 723.2h.6M617.3 708.6h.6M606.7 705.6h.6M616.5 723.9h.6M614.8 720.8h.6M614.8 726.3h.6M606.4 719.5h.6M615.9 717.4h.6M618.3 716.2h.6M618.1 717.1h.6M611.4 727.4h.6M608.4 721.8h.6M612.3 729.1h.6M618.3 723.3h.6M614.3 725.7h.6M612.1 728.2h.6M618.5 726.7h.6M615.4 720.0h.6M615.1 725.3h.6M612.3 729.3h.6M606.1 721.0h.6M618.2 714.8h.6M607.0 711.2h.6M616.3 727.2h.6M613.5 729.0h.6M608.6 720.5h.6M618.4 707.9h.6M606.1 715.3h.6M618.7 726.9h.6M616.2 716.1h.6M610.8 726.1h.6M606.2 704.8h.6M611.2 724.6h.6M612.5 729.1h.6M612.1 728.3h.6M615.2 721.6h.6M614.3 723.5h.6M607.2 724.3h.6M614.6 727.5h.6M611.7 729.1h.6M612.7 728.3h.6M619.2 721.7h.6M609.4 729.1h.6M607.2 709.2h.6M609.8 726.0h.6M612.3 728.8h.6M615.4 722.8h.6M616.8 726.4h.6M612.9 728.7h.6M607.6 717.3h.6M616.7 711.4h.6M618.1 708.6h.6M613.5 724.8h.6M607.1 710.0h.6M612.5 729.2h.6M614.9 718.4h.6M607.9 710.8h.6M609.2 715.8h.6M607.9 715.5h.6M614.5 723.6h.6M606.4 727.9h.6M614.2 724.4h.6M614.0 725.8h.6M609.1 728.0h.6M611.6 727.5h.6M607.1 727.6h.6M611.1 725.2h.6M608.5 724.8h.6M612.6 728.5h.6M605.9 715.0h.6M618.4 713.0h.6M608.0 725.7h.6M608.5 726.0h.6M609.9 720.1h.6M609.5 724.9h.6M612.1 728.0h.6M618.4 714.0h.6M615.7 718.9h.6M607.6 723.9h.6M617.5 721.0h.6M618.2 704.1h.6M614.9 724.5h.6M617.7 709.3h.6M610.6 722.8h.6M607.4 712.2h.6M606.4 722.0h.6M612.0 727.8h.6M608.9 729.1h.6M611.1 728.4h.6M618.6 726.7h.6M609.5 723.6h.6M608.3 717.3h.6M606.2 726.5h.6M611.2 725.7h.6M614.3 727.6h.6M607.5 713.3h.6M617.8 725.0h.6M607.3 728.1h.6M605.7 709.8h.6M618.9 720.6h.6M607.4 726.3h.6M615.7 718.5h.6M617.9 721.3h.6M617.6 728.1h.6M617.5 724.8h.6M612.2 728.9h.6M617.2 728.8h.6M611.0 726.0h.6M612.2 728.9h.6M612.2 728.9h.6M609.4 722.9h.6M609.8 720.5h.6M611.5 729.1h.6M613.3 727.8h.6M618.6 711.4h.6M616.8 726.7h.6M609.7 726.5h.6M617.5 716.6h.6M611.7 726.9h.6M607.7 713.7h.6M606.8 725.7h.6M607.4 723.3h.6M609.9 724.9h.6M618.5 711.7h.6M616.1 714.4h.6M617.1 729.1h.6M618.1 724.7h.6M615.4 718.7h.6M611.8 727.5h.6M616.3 720.0h.6M610.2 726.1h.6M614.4 724.4h.6M608.8 713.5h.6M606.7 725.0h.6M612.3 729.2h.6M610.5 729.1h.6M617.4 714.6h.6M608.2 714.7h.6M607.2 712.9h.6M612.2 728.7h.6M614.5 721.9h.6M612.2 729.2h.6M618.6 715.5h.6M606.3 718.5h.6M615.6 722.3h.6M618.2 711.1h.6M615.8 725.8h.6M606.9 708.8h.6M606.6 719.4h.6M617.4 721.2h.6M616.9 712.4h.6M614.7 724.0h.6M614.0 728.9h.6M614.7 721.4h.6M610.3 720.6h.6M607.4 722.1h.6M617.2 712.8h.6M615.9 718.4h.6M615.1 723.0h.6M614.9 719.0h.6M608.2 728.2h.6M605.9 707.3h.6M612.7 728.7h.6M617.8 720.7h.6M605.8 714.8h.6M617.4 718.2h.6M617.9 710.9h.6M618.8 726.6h.6M608.5 726.2h.6M614.4 722.6h.6M608.5 713.3h.6M612.8 728.3h.6M612.6 728.7h.6M616.3 720.5h.6M612.4 729.3h.6M613.0 728.4h.6M619.1 718.1h.6M618.4 725.7h.6M617.9 708.5h.6M611.7 728.9h.6M617.9 708.7h.6M618.3 725.6h.6M607.9 718.6h.6M608.5 727.1h.6M607.9 719.8h.6M608.7 724.3h.6M616.8 711.0h.6M608.4 713.0h.6M615.4 721.9h.6M612.8 728.4h.6M618.5 706.4h.6M617.6 725.0h.6M612.3 729.0h.6M613.7 728.6h.6M606.9 712.0h.6M608.8 723.7h.6M613.6 726.5h.6M611.7 727.7h.6M615.9 723.5h.6M616.6 714.4h.6M612.4 729.2h.6M610.8 728.6h.6M616.5 725.6h.6M610.1 726.7h.6M610.8 725.9h.6M618.9 704.0h.6M606.1 721.6h.6M606.0 704.1h.6M606.1 702.0h.6M609.0 724.5h.6M608.7 724.4h.6M605.7 720.0h.6M611.4 727.7h.6M605.7 717.6h.6M610.8 728.2h.6M606.4 713.3h.6M610.3 723.8h.6M614.5 726.8h.6M618.0 720.5h.6M616.0 725.8h.6M607.2 706.7h.6M607.7 725.6h.6M607.6 717.8h.6M607.4 717.0h.6M612.7 728.3h.6M614.8 728.4h.6M607.0 705.8h.6M615.6 728.7h.6M613.9 724.4h.6M607.0 707.1h.6M608.7 720.7h.6M613.0 728.7h.6M606.4 703.5h.6M616.8 711.4h.6M617.0 723.8h.6M615.0 721.7h.6M606.3 713.1h.6M610.4 727.9h.6M613.7 728.9h.6M612.4 729.3h.6M617.0 717.4h.6M613.1 726.9h.6M618.5 720.8h.6M614.0 728.2h.6M610.0 726.0h.6M618.0 711.6h.6M618.1 727.4h.6M612.2 728.8h.6M610.0 724.1h.6M605.8 727.2h.6M609.4 723.6h.6M619.0 714.3h.6M612.8 728.0h.6M616.1 717.7h.6M610.6 725.5h.6M607.3 712.8h.6M614.0 722.8h.6M612.0 728.6h.6M615.2 720.6h.6M609.7 720.8h.6M618.3 704.8h.6M608.7 720.9h.6M618.7 712.8h.6M612.8 729.0h.6M611.9 727.5h.6M607.3 729.1h.6M613.7 727.1h.6M611.1 728.5h.6M611.4 727.7h.6M617.9 707.4h.6M612.6 728.9h.6M606.9 725.5h.6M616.6 718.4h.6M608.7 723.7h.6M619.0 721.1h.6M617.5 714.1h.6M617.0 717.3h.6M615.7 718.4h.6M617.4 728.1h.6M614.3 721.1h.6M617.8 707.7h.6M606.1 725.6h.6M609.7 727.0h.6M615.8 724.7h.6M605.6 716.9h.6M616.2 726.5h.6M605.8 706.7h.6M608.8 723.2h.6M615.8 717.1h.6M616.2 725.1h.6M610.9 725.9h.6M611.2 728.1h.6M610.0 721.3h.6M612.7 728.9h.6M611.0 725.5h.6M606.4 705.2h.6M607.8 728.9h.6M614.0 728.2h.6M607.5 713.0h.6M608.3 712.3h.6M607.0 723.7h.6M612.7 728.9h.6M616.1 717.3h.6M610.3 722.2h.6M606.2 720.6h.6M607.6 721.4h.6M613.5 726.0h.6M605.9 701.3h.6M608.4 726.6h.6M611.9 728.9h.6M617.9 706.4h.6M617.6 714.8h.6M612.7 728.3h.6M610.3 725.0h.6M617.6 710.1h.6M607.2 721.2h.6M605.9 726.6h.6M610.2 726.2h.6M612.4 729.3h.6M619.2 700.6h.6M605.7 717.2h.6M609.9 719.6h.6M607.5 719.7h.6M610.3 725.2h.6M618.6 706.3h.6M618.7 703.4h.6M611.3 725.4h.6M609.7 725.0h.6M617.6 729.2h.6M617.3 728.8h.6M608.9 726.7h.6M608.8 722.4h.6M611.1 728.8h.6M615.2 717.3h.6M614.1 729.2h.6M619.0 712.2h.6M614.3 725.6h.6M606.6 714.2h.6M610.3 726.9h.6M609.5 720.0h.6M609.6 726.2h.6M605.8 719.1h.6M608.4 720.7h.6M615.8 725.1h.6M612.3 729.0h.6M618.5 726.1h.6M608.8 723.6h.6M606.1 708.6h.6M612.9 727.8h.6M614.1 722.3h.6M610.1 722.9h.6M618.3 714.6h.6M614.6 727.4h.6M606.1 706.9h.6M616.0 721.0h.6M617.9 717.4h.6M614.2 727.8h.6M607.7 713.4h.6M612.0 727.9h.6M614.2 727.4h.6M613.9 724.1h.6M611.2 728.5h.6M610.5 724.8h.6M607.8 724.7h.6M609.5 724.5h.6M617.6 723.5h.6M606.7 722.6h.6M612.7 728.2h.6M615.5 720.3h.6M616.6 716.8h.6M618.0 712.2h.6M612.1 728.3h.6M618.7 717.6h.6M607.6 716.6h.6M609.9 719.2h.6M609.5 717.3h.6M613.3 726.7h.6M613.1 726.7h.6M606.7 713.7h.6M605.9 719.3h.6M609.9 728.1h.6M613.6 728.8h.6M607.8 717.5h.6M615.0 721.5h.6M610.1 725.1h.6M610.7 722.6h.6M611.5 725.8h.6M615.4 721.2h.6M618.8 716.2h.6M610.3 725.3h.6M606.3 704.7h.6M611.7 726.3h.6M612.5 729.0h.6M610.7 723.4h.6M618.8 708.7h.6M609.6 726.7h.6M616.8 723.2h.6M615.7 720.9h.6M607.3 723.6h.6M611.2 725.2h.6M618.3 725.8h.6M617.7 707.8h.6M618.3 717.7h.6M613.3 727.1h.6M606.5 723.8h.6M611.2 726.8h.6M606.2 708.7h.6M617.7 716.2h.6M617.9 715.1h.6M612.4 729.2h.6M609.5 719.2h.6M613.5 728.5h.6M612.4 729.3h.6M608.8 723.3h.6M615.3 720.2h.6M617.3 710.2h.6M609.6 723.8h.6M615.5 721.8h.6M618.3 708.0h.6M611.6 726.8h.6M618.2 721.3h.6M605.9 712.6h.6M613.8 727.5h.6M615.8 725.0h.6M618.5 716.9h.6M610.6 724.6h.6M617.8 728.4h.6M607.9 714.8h.6M614.3 725.9h.6M613.6 727.5h.6M610.7 727.7h.6M607.5 719.4h.6M608.7 714.8h.6M607.7 721.5h.6M618.6 712.1h.6M615.9 717.2h.6M606.4 715.5h.6M610.0 723.0h.6M607.8 728.3h.6M605.8 722.9h.6M610.7 722.7h.6M607.2 715.1h.6M614.6 728.2h.6M614.7 723.1h.6M613.6 724.3h.6M606.6 705.1h.6M606.7 704.6h.6M617.6 716.0h.6M616.0 726.9h.6M617.5 717.0h.6M613.0 727.1h.6M609.5 721.3h.6M618.5 726.4h.6M615.6 722.0h.6M615.7 718.6h.6M607.8 716.9h.6M607.5 710.0h.6M611.7 728.2h.6M616.0 720.4h.6M617.1 711.7h.6M607.7 712.5h.6M616.6 712.8h.6M617.2 712.0h.6M607.0 725.3h.6M606.4 707.2h.6M618.3 728.0h.6M607.9 729.2h.6M606.0 723.5h.6M607.6 713.3h.6M613.7 726.5h.6M618.9 710.9h.6M607.7 727.5h.6M607.5 716.7h.6M610.5 725.7h.6M607.6 717.8h.6M615.2 722.3h.6M612.9 728.6h.6M606.3 720.6h.6M616.4 716.7h.6M610.7 728.1h.6M613.1 726.5h.6M613.5 724.9h.6M609.3 720.5h.6M606.2 708.0h.6M606.8 718.3h.6M612.7 729.0h.6M614.5 722.3h.6M608.9 716.4h.6M612.0 729.0h.6M605.7 719.7h.6M611.0 724.1h.6M606.3 711.7h.6M614.6 720.0h.6M615.6 729.1h.6M607.4 718.9h.6M611.5 728.9h.6M609.1 719.7h.6M607.8 727.5h.6M614.1 728.0h.6M615.9 722.0h.6M609.4 722.5h.6M608.1 720.9h.6M617.9 714.8h.6M616.2 724.4h.6M607.3 725.0h.6M611.4 725.0h.6M608.4 712.0h.6M618.0 710.5h.6M607.2 717.6h.6M609.7 717.8h.6M614.3 724.4h.6M614.9 728.2h.6M613.9 725.5h.6M616.6 719.6h.6M617.3 719.3h.6M613.3 727.5h.6M611.2 724.4h.6M616.1 721.6h.6M609.6 722.1h.6M615.6 717.9h.6M606.3 715.3h.6M610.2 720.0h.6M615.5 726.9h.6M610.4 722.4h.6M607.5 709.9h.6M611.4 726.5h.6M610.1 726.5h.6M612.6 728.6h.6M614.3 723.3h.6M615.9 716.5h.6M616.1 728.9h.6M610.7 728.5h.6M605.7 712.9h.6M609.6 723.8h.6M614.2 728.7h.6M618.6 707.3h.6M615.0 723.3h.6M611.9 728.4h.6M613.6 727.4h.6M615.9 729.2h.6M615.4 724.6h.6M618.2 713.1h.6M611.0 727.3h.6M610.9 725.2h.6M612.3 729.2h.6M612.1 728.6h.6M615.6 727.6h.6M610.3 720.5h.6M617.4 727.0h.6M607.1 727.3h.6M608.3 715.4h.6M609.0 716.8h.6M608.1 717.6h.6M609.8 721.7h.6M615.6 726.6h.6M606.2 715.6h.6M616.6 719.9h.6M607.8 729.1h.6M615.4 726.3h.6M614.5 727.5h.6M613.4 726.1h.6M615.5 723.5h.6M611.1 729.0h.6M617.3 726.7h.6M607.8 722.2h.6M614.8 725.6h.6M609.8 726.7h.6M612.4 729.2h.6M609.5 722.6h.6M606.0 707.0h.6M607.0 715.8h.6M609.5 717.2h.6M626.5 726.8h.6M605.0 728.8h.6M622.2 726.3h.6M600.0 727.4h.6M622.3 724.7h.6M620.5 724.0h.6M627.6 727.8h.6M604.3 724.1h.6M600.5 724.2h.6M602.5 723.5h.6M624.9 724.5h.6M622.1 725.1h.6M598.9 723.9h.6M603.3 724.3h.6M620.3 724.1h.6M619.4 728.7h.6M620.3 724.4h.6M636.5 728.5h.6M626.8 723.8h.6M600.6 725.3h.6M626.6 723.9h.6M590.3 728.9h.6M602.5 727.7h.6M620.0 727.0h.6M627.3 726.3h.6M603.0 728.3h.6M621.0 726.8h.6M604.1 724.9h.6M626.9 725.9h.6M605.0 728.0h.6M625.7 728.6h.6M621.8 726.2h.6M595.2 723.6h.6M625.7 726.2h.6M603.2 724.1h.6M598.6 728.6h.6M604.3 728.2h.6M604.2 723.4h.6M619.2 728.0h.6M623.2 727.0h.6M620.2 729.1h.6M605.5 723.7h.6M605.2 727.5h.6M623.5 724.2h.6M601.1 728.2h.6M623.3 724.9h.6M622.7 729.1h.6M599.1 727.6h.6M599.4 724.2h.6M598.3 724.1h.6M589.0 728.5h.6M598.9 728.8h.6M604.6 726.2h.6M601.1 729.3h.6M623.7 725.2h.6M621.9 727.4h.6M601.2 723.9h.6M623.3 723.8h.6M599.4 727.1h.6M625.3 725.6h.6M597.6 727.2h.6M602.4 725.6h.6M603.0 725.4h.6M596.0 726.5h.6M626.1 724.8h.6M605.2 723.7h.6M620.3 724.8h.6M623.0 726.8h.6M629.6 724.9h.6M629.7 728.2h.6M619.7 725.0h.6M600.3 723.4h.6M635.1 726.8h.6M620.9 723.8h.6M621.4 726.7h.6M602.7 724.8h.6M619.4 728.4h.6M619.3 724.4h.6M602.9 727.6h.6M600.8 725.2h.6M599.0 724.4h.6M620.3 723.6h.6M604.2 723.9h.6M591.6 725.5h.6M623.7 724.4h.6M603.2 726.6h.6M623.5 724.8h.6M619.2 724.4h.6M630.1 725.4h.6M605.0 727.6h.6M597.7 729.1h.6M601.3 724.4h.6M600.5 727.8h.6M619.2 724.4h.6M597.9 723.3h.6M622.1 725.5h.6M604.9 729.0h.6M620.6 724.0h.6M600.5 726.6h.6M603.7 724.4h.6M626.9 728.5h.6M620.5 725.8h.6M619.6 725.2h.6M603.5 729.1h.6M603.1 725.3h.6M604.2 726.8h.6M631.2 727.7h.6M621.6 729.2h.6M599.6 726.7h.6M622.8 723.8h.6M600.1 724.2h.6M620.1 724.7h.6M619.2 727.9h.6M620.5 728.4h.6M605.2 726.7h.6M602.8 724.7h.6M621.8 728.7h.6M620.0 728.5h.6M601.2 723.6h.6M598.1 723.5h.6M621.3 727.8h.6M594.6 725.8h.6M600.2 726.0h.6M630.6 725.7h.6M598.9 727.8h.6M621.1 727.2h.6M620.8 726.1h.6M598.5 723.5h.6M621.2 725.2h.6M604.9 728.1h.6M599.6 725.8h.6M627.7 723.9h.6M619.4 724.4h.6M603.9 728.1h.6M629.2 724.4h.6M619.7 727.2h.6M599.0 724.3h.6M600.9 726.5h.6M619.3 728.9h.6M600.6 728.7h.6M622.2 723.9h.6M624.1 724.8h.6M623.8 723.8h.6M620.8 727.6h.6M620.1 723.9h.6M595.0 728.9h.6M600.7 723.3h.6M596.4 728.4h.6M603.6 725.8h.6M625.2 724.4h.6M605.6 725.0h.6M619.2 726.7h.6M625.8 727.9h.6M623.9 729.1h.6M619.7 723.3h.6M593.2 725.0h.6M602.1 724.1h.6M621.6 728.5h.6M595.0 727.3h.6M602.7 724.3h.6M621.1 725.6h.6M619.6 728.7h.6M605.4 725.9h.6M621.9 727.9h.6M619.3 728.1h.6M604.0 724.3h.6M621.0 725.1h.6M624.0 728.9h.6M623.3 726.5h.6M624.8 723.6h.6M603.4 723.7h.6M601.2 728.4h.6M594.6 724.9h.6M623.1 723.5h.6M620.7 723.4h.6M604.6 723.4h.6M619.3 726.7h.6M619.6 723.5h.6M604.8 728.0h.6M619.9 725.1h.6M624.3 725.2h.6M600.2 727.9h.6M630.0 728.0h.6M601.9 726.6h.6M624.4 723.9h.6M619.9 727.1h.6M602.9 724.0h.6M585.7 724.1h.6M605.2 726.0h.6M619.5 724.5h.6M627.8 726.9h.6M619.3 723.9h.6M622.8 726.5h.6M603.5 728.8h.6M626.4 728.4h.6M619.3 728.5h.6M598.4 725.7h.6M625.0 723.4h.6M620.6 724.0h.6M622.5 723.4h.6M621.1 724.0h.6M619.5 724.3h.6M594.8 724.0h.6M623.2 723.9h.6M596.8 723.3h.6M620.3 726.2h.6M604.5 726.6h.6M604.8 727.6h.6M604.3 724.8h.6M620.9 728.1h.6M600.6 728.5h.6M598.8 724.2h.6M605.5 723.9h.6M633.3 727.6h.6M603.2 728.9h.6M621.2 724.4h.6M620.2 729.3h.6M620.6 725.8h.6M604.0 723.5h.6M621.2 726.2h.6M630.5 723.9h.6M598.8 728.5h.6M602.2 727.3h.6M622.3 728.7h.6M624.8 723.6h.6M624.8 724.6h.6M624.6 723.6h.6M619.2 723.3h.6M631.8 728.4h.6M605.3 726.4h.6M604.3 727.9h.6M621.6 726.1h.6M603.3 727.2h.6M600.1 727.6h.6M620.0 725.1h.6M599.8 728.6h.6M621.9 726.5h.6M600.0 725.5h.6M622.4 726.7h.6M595.2 723.7h.6M605.1 728.0h.6M595.1 723.8h.6M621.4 728.9h.6M630.4 725.4h.6M600.1 724.8h.6M635.0 729.2h.6M593.8 725.1h.6M620.8 727.7h.6M601.5 728.2h.6M601.8 726.1h.6M585.5 727.6h.6M600.6 726.1h.6M601.1 723.8h.6M600.4 727.1h.6M631.6 723.9h.6M601.3 729.2h.6M589.0 724.2h.6M621.9 723.7h.6M620.9 725.5h.6M596.2 726.3h.6M621.0 727.5h.6M619.7 726.2h.6M605.2 724.7h.6M622.8 728.3h.6M601.5 723.5h.6M619.8 725.3h.6M599.0 726.7h.6M601.5 727.1h.6M603.7 726.7h.6M624.6 728.9h.6M633.4 724.4h.6M604.1 726.8h.6M623.5 729.2h.6M630.4 723.5h.6M598.1 724.6h.6M601.5 723.3h.6M605.2 725.9h.6M620.7 725.4h.6M604.6 723.3h.6M621.4 728.0h.6M599.1 723.6h.6M602.0 726.1h.6M595.7 728.1h.6M603.6 724.0h.6M619.4 728.9h.6M621.7 726.1h.6M605.1 724.0h.6M631.3 728.1h.6M597.1 724.0h.6M634.8 726.4h.6M622.1 727.0h.6M605.3 729.2h.6M605.3 728.5h.6M605.5 724.0h.6M621.9 728.1h.6M620.5 726.6h.6M605.6 724.3h.6M620.1 724.7h.6M620.1 727.3h.6M626.2 724.1h.6M605.3 726.3h.6M620.7 727.2h.6M621.6 724.2h.6M602.6 729.1h.6M624.7 728.7h.6M622.1 723.3h.6M601.2 724.7h.6M619.2 723.9h.6M589.9 728.8h.6M605.2 723.8h.6M603.8 725.5h.6M619.7 724.5h.6M603.2 728.8h.6M622.0 729.2h.6M619.7 724.6h.6M626.2 723.6h.6M602.4 725.7h.6M619.4 724.5h.6M602.8 727.3h.6M637.4 727.5h.6M605.2 726.5h.6M605.0 728.1h.6M628.7 727.1h.6M604.3 728.5h.6M629.0 728.3h.6M604.8 723.6h.6M621.9 729.2h.6M624.3 728.1h.6M624.4 724.9h.6M594.9 725.2h.6M605.1 727.4h.6M619.8 727.2h.6M604.5 727.0h.6M604.0 729.1h.6M600.8 726.2h.6M627.3 723.4h.6M619.4 726.2h.6M604.7 726.5h.6M604.7 727.5h.6M602.1 726.7h.6M619.5 729.1h.6M603.2 727.5h.6M603.6 725.5h.6M602.4 728.1h.6M625.4 727.2h.6M603.5 728.9h.6M604.2 727.5h.6M599.6 723.5h.6M626.5 725.5h.6M592.9 727.5h.6M597.9 727.5h.6M605.4 724.1h.6M604.8 726.5h.6M624.6 725.0h.6M621.7 724.6h.6M620.6 728.5h.6M619.4 725.6h.6M601.9 726.3h.6M625.9 724.4h.6M604.9 727.2h.6M600.4 724.6h.6M620.1 727.5h.6M629.1 725.6h.6M602.3 723.4h.6M629.3 725.9h.6M604.7 729.2h.6M604.8 728.3h.6M622.2 728.9h.6M597.7 725.4h.6M629.4 723.5h.6M598.5 724.7h.6M622.5 725.0h.6M603.3 728.6h.6M604.8 728.1h.6M605.5 726.1h.6M595.6 727.1h.6M622.8 726.4h.6M621.5 725.6h.6M620.8 724.6h.6M604.7 725.5h.6M603.7 727.1h.6M628.1 728.1h.6M605.3 726.8h.6M604.0 726.1h.6M599.8 725.8h.6M623.4 728.2h.6M605.2 728.1h.6M598.7 726.4h.6M622.5 724.2h.6M603.5 727.3h.6M599.7 728.0h.6M603.7 724.1h.6M601.2 723.9h.6M601.8 727.6h.6M604.8 728.2h.6M634.8 728.6h.6M627.9 728.9h.6M635.5 724.2h.6M623.2 723.7h.6M628.5 724.3h.6M622.5 723.3h.6M596.8 726.7h.6M619.6 724.9h.6M623.7 725.1h.6M619.9 724.6h.6M636.3 727.8h.6M621.3 725.7h.6M624.7 726.8h.6M598.8 725.6h.6M629.7 727.9h.6M621.7 727.0h.6M625.8 728.1h.6M621.0 727.4h.6M597.3 727.6h.6M605.2 725.7h.6M623.7 726.0h.6M623.9 727.8h.6M601.4 726.2h.6M600.9 724.5h.6M602.5 727.6h.6M595.8 723.8h.6M628.0 724.9h.6M603.3 725.1h.6M622.1 727.0h.6M598.9 725.6h.6M601.0 727.7h.6M602.6 723.9h.6M604.9 726.9h.6M590.6 728.5h.6M603.0 726.2h.6M598.2 723.6h.6M619.3 725.0h.6M620.2 727.6h.6M625.0 724.3h.6M620.7 727.1h.6M602.5 725.0h.6M605.1 729.0h.6M601.2 725.3h.6M600.7 728.6h.6M622.0 726.5h.6M605.5 727.9h.6M601.3 726.2h.6M600.9 725.1h.6M597.9 728.2h.6M625.3 726.1h.6M605.4 728.7h.6M623.6 724.8h.6M600.2 726.0h.6M625.1 724.1h.6M587.0 723.8h.6M603.6 727.1h.6M602.2 726.3h.6M619.2 725.9h.6M621.9 725.3h.6M619.4 723.9h.6M588.7 723.6h.6M602.6 724.2h.6M603.3 724.8h.6M604.7 724.5h.6M597.3 724.2h.6M623.0 725.8h.6M620.2 726.7h.6M625.6 724.0h.6M605.0 725.2h.6M603.6 725.9h.6M595.6 725.3h.6M595.8 725.6h.6M619.6 724.2h.6M601.5 728.7h.6M605.5 726.6h.6M620.5 727.5h.6M604.2 725.2h.6M595.8 723.3h.6M620.6 727.4h.6M602.5 723.8h.6M630.7 729.2h.6M600.3 724.7h.6M622.8 726.7h.6M634.0 728.2h.6M600.7 726.5h.6M603.7 723.5h.6M601.4 727.8h.6M605.0 723.6h.6M625.3 728.9h.6M600.9 723.5h.6M622.0 724.3h.6M603.6 728.7h.6M621.9 725.5h.6M625.1 728.7h.6M599.9 728.7h.6M632.1 723.7h.6M603.1 724.0h.6M622.7 723.9h.6M603.1 724.9h.6M597.6 725.8h.6M588.1 727.0h.6M605.4 726.0h.6M623.6 724.7h.6M619.3 723.6h.6M622.3 724.0h.6M624.2 728.5h.6M620.8 728.5h.6M598.3 725.1h.6M619.8 726.6h.6M604.6 726.5h.6M626.3 727.5h.6M605.1 725.0h.6M622.7 724.9h.6M603.1 724.8h.6M629.6 726.6h.6M602.6 724.7h.6M634.2 726.1h.6M604.5 725.6h.6M622.5 724.0h.6M626.2 725.6h.6M604.5 725.7h.6M604.4 728.0h.6M620.4 725.8h.6M625.4 726.4h.6M603.5 726.3h.6M634.6 727.4h.6M622.7 723.8h.6M624.1 728.3h.6M605.5 728.8h.6M599.8 724.7h.6M622.1 729.1h.6M600.0 729.1h.6M623.1 727.4h.6M622.6 729.0h.6M604.4 726.3h.6M600.2 727.6h.6M620.0 723.3h.6M599.7 728.6h.6M621.0 728.9h.6M605.2 727.8h.6M599.0 724.1h.6M598.7 727.4h.6M600.2 725.9h.6M604.1 724.6h.6M598.7 727.2h.6M626.9 728.7h.6M620.9 725.1h.6M621.1 725.9h.6M603.0 726.2h.6M623.6 724.9h.6M621.7 728.4h.6M620.2 727.8h.6M626.4 726.4h.6M619.5 727.3h.6M602.5 728.3h.6M597.5 726.2h.6M597.9 725.1h.6M624.0 727.7h.6M620.7 725.6h.6M623.4 728.6h.6M631.0 726.9h.6M603.4 728.3h.6M622.8 724.0h.6M621.7 723.8h.6M596.1 726.2h.6M603.4 723.5h.6M601.6 724.7h.6M624.9 727.3h.6M604.9 725.3h.6M620.9 725.1h.6M620.3 729.2h.6M627.1 726.5h.6M624.8 723.4h.6M601.6 726.9h.6M603.4 728.4h.6M625.0 726.2h.6M595.4 727.1h.6M621.2 725.9h.6M605.4 727.5h.6M620.5 725.9h.6M593.4 724.8h.6M605.3 724.9h.6M620.9 723.8h.6M603.3 725.4h.6M627.6 727.9h.6M589.7 726.4h.6M619.4 725.1h.6M626.9 723.3h.6M600.6 723.7h.6M602.8 725.8h.6M605.0 727.8h.6M600.6 725.0h.6M601.7 728.5h.6M605.5 723.4h.6M630.2 723.6h.6M627.2 726.8h.6M605.5 723.5h.6M621.9 727.2h.6M605.0 728.7h.6M602.4 725.7h.6M595.5 726.8h.6M621.0 725.9h.6M627.1 728.0h.6M598.6 725.2h.6M624.0 727.1h.6M603.7 725.9h.6M598.8 724.4h.6M625.1 728.6h.6M602.3 726.1h.6M602.7 725.7h.6M604.9 727.2h.6M599.3 726.7h.6M636.7 729.2h.6M621.5 728.1h.6M597.9 728.0h.6M627.8 728.4h.6M594.9 727.3h.6M620.0 725.6h.6M620.9 723.7h.6M625.4 724.1h.6M623.6 729.0h.6M619.9 724.7h.6M604.7 724.9h.6M627.6 725.4h.6M625.0 723.5h.6M628.2 728.5h.6M601.2 728.9h.6M622.4 723.4h.6M597.7 726.4h.6M621.0 727.9h.6M602.9 723.3h.6M604.9 729.2h.6M621.7 726.8h.6M620.3 728.4h.6M601.1 725.6h.6M626.3 726.4h.6M624.9 724.2h.6M605.6 727.5h.6M605.1 729.2h.6M586.8 726.8h.6M621.6 729.0h.6M625.0 723.3h.6M625.5 725.6h.6M622.4 723.8h.6M600.4 727.3h.6M627.8 723.4h.6M620.9 727.0h.6M599.1 724.9h.6M600.1 726.1h.6M599.2 725.7h.6M604.9 725.1h.6M602.3 727.5h.6M594.9 725.4h.6M623.2 726.9h.6M600.6 729.2h.6M604.1 727.1h.6M628.4 725.3h.6M603.2 728.4h.6M623.5 725.6h.6M605.2 728.1h.6M621.2 728.2h.6M622.0 725.6h.6M604.0 726.9h.6M631.6 724.0h.6M625.2 723.4h.6M594.7 724.1h.6M602.1 724.6h.6M604.5 727.9h.6M620.4 728.0h.6M624.7 724.1h.6M602.2 726.4h.6M628.2 723.6h.6M604.9 729.3h.6M602.0 723.5h.6M601.6 725.1h.6M620.2 728.8h.6M629.3 727.4h.6M623.7 726.5h.6M602.8 726.0h.6M599.6 727.2h.6M619.7 729.1h.6M593.8 725.3h.6M631.8 728.0h.6M604.8 723.6h.6M601.3 726.5h.6M603.0 725.1h.6M621.7 727.4h.6M622.7 726.1h.6M621.4 725.3h.6M605.4 725.1h.6M619.2 726.0h.6M602.7 724.0h.6M601.1 726.2h.6M603.3 727.9h.6M595.7 728.1h.6" stroke="#111" stroke-width="0.9"/>
<line x1="605.62" y1="638.70" x2="605.62" y2="729.00" stroke="#b5b5b5" stroke-width="0.55" stroke-dasharray="1 0.8"/>
<line x1="619.18" y1="638.70" x2="619.18" y2="729.00" stroke="#b5b5b5" stroke-width="0.55" stroke-dasharray="1 0.8"/>
<line x1="544.60" y1="723.27" x2="680.20" y2="723.27" stroke="#b5b5b5" stroke-width="0.55" stroke-dasharray="1 0.8"/>
<line x1="544.50" y1="638.20" x2="544.50" y2="729.90" stroke="#222" stroke-width="1.1"/>
<line x1="543.90" y1="729.30" x2="680.30" y2="729.30" stroke="#222" stroke-width="1.1"/>
<line x1="542.00" y1="729.30" x2="544.50" y2="729.30" stroke="#222" stroke-width="0.9"/>
<text x="539.40" y="731.90" font-size="7.3" text-anchor="end" fill="#222">0</text>
<line x1="542.00" y1="699.13" x2="544.50" y2="699.13" stroke="#222" stroke-width="0.9"/>
<text x="539.40" y="701.73" font-size="7.3" text-anchor="end" fill="#222">10</text>
<line x1="542.00" y1="668.96" x2="544.50" y2="668.96" stroke="#222" stroke-width="0.9"/>
<text x="539.40" y="671.56" font-size="7.3" text-anchor="end" fill="#222">20</text>
<line x1="542.00" y1="638.79" x2="544.50" y2="638.79" stroke="#222" stroke-width="0.9"/>
<text x="539.40" y="641.39" font-size="7.3" text-anchor="end" fill="#222">30</text>
<line x1="544.60" y1="729.30" x2="544.60" y2="731.90" stroke="#222" stroke-width="0.9"/>
<text x="544.60" y="739.80" font-size="7.3" text-anchor="middle" fill="#222">-10</text>
<line x1="578.50" y1="729.30" x2="578.50" y2="731.90" stroke="#222" stroke-width="0.9"/>
<text x="578.50" y="739.80" font-size="7.3" text-anchor="middle" fill="#222">-5</text>
<line x1="612.40" y1="729.30" x2="612.40" y2="731.90" stroke="#222" stroke-width="0.9"/>
<text x="612.40" y="739.80" font-size="7.3" text-anchor="middle" fill="#222">0</text>
<line x1="646.30" y1="729.30" x2="646.30" y2="731.90" stroke="#222" stroke-width="0.9"/>
<text x="646.30" y="739.80" font-size="7.3" text-anchor="middle" fill="#222">5</text>
<line x1="680.20" y1="729.30" x2="680.20" y2="731.90" stroke="#222" stroke-width="0.9"/>
<text x="680.20" y="739.80" font-size="7.3" text-anchor="middle" fill="#222">10</text>
<text x="612.3" y="751.3" font-size="7.3" text-anchor="middle" fill="#222">log<tspan font-size="5" dy="1.9">2</tspan><tspan dy="-1.9">(FC metastatic vs. primary)</tspan></text>
<text transform="translate(523.6 678.5) rotate(-90)" font-size="7.7" text-anchor="middle" fill="#222">-log<tspan font-size="5.3" dy="2">10</tspan><tspan dy="-2">(Adj. p-value)</tspan></text>
<text x="627.70" y="696.00" font-size="4.6" font-weight="bold" fill="#222">HMGA1</text>
<text x="5.40" y="792.10" font-size="17" font-weight="bold">N</text>
<defs><filter id="blur1" x="-20%" y="-50%" width="140%" height="200%"><feGaussianBlur stdDeviation="0.6"/></filter><filter id="blur2" x="-20%" y="-50%" width="140%" height="200%"><feGaussianBlur stdDeviation="0.35"/></filter></defs>
<rect x="47.60" y="853.00" width="63.00" height="27.40" fill="#6b6b6b"/>
<rect x="47.60" y="882.00" width="63.00" height="27.60" fill="#a3a3a3"/>
<rect x="47.60" y="880.40" width="63.00" height="1.60" fill="#e8e8e8"/>
<rect x="56.8" y="864.2" width="20.6" height="8.4" rx="4" fill="#050505" filter="url(#blur2)"/>
<rect x="61" y="895.6" width="16.4" height="5.4" rx="2.6" fill="#0a0a0a" filter="url(#blur2)"/>
<rect x="81" y="895.0" width="17.8" height="5.4" rx="2.6" fill="#0a0a0a" filter="url(#blur2)"/>
<text x="0.40" y="871.80" font-size="11.7" fill="#111">HMGA1</text>
<text x="1.00" y="900.80" font-size="11.7" fill="#111">Vinculin</text>
<line x1="63.00" y1="843.20" x2="69.20" y2="843.20" stroke="#444" stroke-width="0.9"/>
<text x="86.00" y="847.20" font-size="11.6" fill="#111">KO</text>
<text x="114.30" y="848.60" font-size="11.6" fill="#111">kDa</text>
<text x="112.70" y="861.60" font-size="11.8" fill="#111">-20</text>
<text x="112.70" y="878.60" font-size="11.8" fill="#111">-15</text>
<text x="112.70" y="892.00" font-size="11.8" fill="#111">-150</text>
<text x="112.70" y="908.60" font-size="11.8" fill="#111">-100</text>
<text x="140.60" y="791.90" font-size="17" font-weight="bold">O</text>
<circle cx="190.80" cy="854.10" r="20.6" fill="#c5c5e4" stroke="#6a6a78" stroke-width="0.7"/>
<circle cx="190.60" cy="897.70" r="20.6" fill="#e2e2e6" stroke="#6a6a70" stroke-width="0.7"/>
<rect x="216.20" y="837.00" width="33.40" height="33.70" fill="#c8c8e6" stroke="#8a8a98" stroke-width="0.6"/>
<rect x="216.20" y="881.00" width="33.40" height="32.90" fill="#e4e4ea" stroke="#8a8a98" stroke-width="0.6"/>
<path d="M222.3 860.1h.6M237.3 853.3h.6M223.9 863.4h.6M242.9 854.4h.6M233.2 845.6h.6M217.1 849.9h.6M235.7 840.2h.6M242.4 845.4h.6M224.4 839.4h.6M248.9 861.6h.6M245.0 857.7h.6M218.1 848.5h.6M232.9 841.7h.6M247.5 849.8h.6M222.0 864.2h.6M221.0 867.7h.6M231.5 855.7h.6M228.0 853.5h.6M223.0 839.2h.6M244.7 845.5h.6M242.0 844.7h.6M248.0 866.6h.6M241.2 862.4h.6M235.6 861.4h.6M220.9 853.2h.6M243.5 844.4h.6M246.5 866.4h.6M230.1 849.7h.6M231.4 850.3h.6M248.8 850.4h.6M217.9 841.0h.6M240.0 869.8h.6M232.9 853.7h.6M234.6 861.9h.6M224.1 857.5h.6M234.8 857.9h.6M222.8 843.4h.6M228.1 867.7h.6M228.1 857.1h.6M226.8 841.3h.6M219.1 864.0h.6M241.9 850.0h.6M238.9 859.6h.6M245.8 868.7h.6M230.0 869.7h.6M247.8 856.9h.6M245.3 853.7h.6M229.0 845.9h.6M245.0 843.2h.6M219.2 863.8h.6M241.8 853.5h.6M243.8 839.7h.6M225.3 847.3h.6M230.4 843.5h.6M219.2 848.8h.6M245.8 869.5h.6M240.9 853.3h.6M225.1 868.7h.6M233.8 861.3h.6M217.9 844.8h.6M243.8 863.4h.6M245.2 857.2h.6M230.6 856.6h.6M244.2 847.9h.6M234.1 846.8h.6M241.6 838.3h.6M238.9 868.5h.6M217.8 857.0h.6M237.6 865.3h.6M235.7 846.2h.6M230.0 868.7h.6M246.0 842.3h.6M220.0 841.0h.6M217.8 852.3h.6M221.5 865.8h.6M238.0 842.0h.6M234.2 848.4h.6M232.8 845.0h.6M222.3 843.9h.6M229.1 860.7h.6M234.6 839.5h.6M239.7 866.0h.6M241.8 863.3h.6M217.3 852.8h.6M219.0 862.4h.6M222.6 860.8h.6M225.1 860.3h.6M227.0 839.3h.6M229.4 847.9h.6M245.8 847.4h.6M233.1 855.6h.6M247.3 841.2h.6M236.2 854.3h.6M240.5 868.9h.6M226.9 860.4h.6M233.8 855.9h.6M219.0 864.1h.6M248.3 849.4h.6M227.2 869.8h.6M220.4 840.4h.6M219.3 864.1h.6M241.3 852.3h.6M236.9 838.6h.6M237.6 852.2h.6M233.6 850.5h.6M229.8 845.2h.6M218.6 851.9h.6M224.9 860.5h.6M243.2 861.2h.6M231.6 845.6h.6M229.3 853.6h.6M237.2 868.8h.6M219.7 853.4h.6M232.7 860.9h.6M245.5 862.9h.6M237.1 862.3h.6M238.4 865.5h.6M239.4 859.9h.6M224.8 867.3h.6M229.4 857.7h.6M243.4 868.8h.6M248.7 838.2h.6M227.0 848.0h.6M229.5 842.7h.6M234.7 840.5h.6M226.7 868.2h.6M240.8 852.8h.6M220.5 868.6h.6M239.5 844.6h.6M227.7 858.5h.6M238.8 846.3h.6M247.4 848.3h.6M225.1 865.1h.6M221.9 859.8h.6M223.4 857.1h.6M225.9 850.1h.6M247.1 852.9h.6M231.0 857.7h.6M226.0 843.6h.6M229.3 846.7h.6M223.0 868.7h.6M218.1 863.9h.6M246.9 860.5h.6M217.6 854.0h.6M218.3 857.5h.6M239.4 845.7h.6M217.2 855.4h.6M220.0 847.9h.6M231.5 866.6h.6M228.8 842.3h.6M242.3 864.3h.6M233.9 839.6h.6M223.0 850.9h.6M234.7 845.2h.6M242.7 865.0h.6M246.6 866.3h.6M217.6 856.6h.6M219.6 866.8h.6M240.9 862.3h.6M223.0 839.9h.6M243.1 857.4h.6M236.8 853.1h.6M242.6 848.8h.6M225.6 849.3h.6M226.5 858.1h.6M245.5 840.3h.6M219.2 854.4h.6M238.7 844.1h.6M225.6 839.9h.6M218.2 853.8h.6M238.8 858.9h.6M222.1 841.3h.6M246.8 855.2h.6M230.1 860.1h.6M240.3 854.8h.6M219.5 864.5h.6M223.8 839.3h.6M228.3 855.0h.6M237.1 843.6h.6M239.7 853.8h.6M222.2 865.2h.6M242.8 867.0h.6M238.7 845.0h.6M241.9 866.9h.6M234.1 867.1h.6M248.0 850.5h.6M247.1 868.0h.6M242.4 838.4h.6M228.3 857.6h.6M236.4 862.2h.6M237.7 843.2h.6M246.8 855.2h.6M245.2 844.6h.6M248.9 855.8h.6M241.8 861.7h.6M245.2 849.6h.6M219.7 851.0h.6M222.7 855.3h.6M243.1 849.6h.6M221.2 838.9h.6M230.5 856.6h.6M217.8 859.3h.6M223.7 841.4h.6M246.7 854.7h.6M245.6 854.4h.6M220.9 845.7h.6M230.6 858.5h.6M241.7 862.0h.6M237.8 846.1h.6M230.8 850.1h.6M232.7 846.5h.6M234.2 852.7h.6M218.1 864.3h.6M235.8 863.7h.6M240.6 861.4h.6M248.8 850.1h.6M229.6 838.1h.6M238.3 856.6h.6M235.4 869.9h.6M223.3 845.3h.6M240.5 864.0h.6M232.5 839.8h.6M228.9 864.4h.6M233.0 852.8h.6M229.5 858.1h.6M236.2 860.2h.6M244.7 862.0h.6M229.0 846.0h.6M242.0 863.4h.6M246.7 844.4h.6M244.1 866.5h.6M219.5 847.9h.6M237.3 842.7h.6M243.6 846.5h.6M238.8 847.5h.6M224.0 844.6h.6M232.9 860.8h.6M224.0 860.0h.6M227.7 858.8h.6M228.8 844.2h.6M221.5 839.8h.6M239.3 851.2h.6M220.9 866.2h.6M238.0 838.7h.6M240.2 857.0h.6M231.2 854.0h.6M247.8 850.0h.6M237.4 858.3h.6M228.7 849.1h.6M241.2 858.3h.6M231.6 854.4h.6M224.2 863.3h.6M217.6 858.6h.6M231.6 845.1h.6M235.8 856.7h.6M219.8 853.7h.6M222.3 863.6h.6M227.5 848.5h.6M223.9 839.5h.6M223.0 842.9h.6M237.0 865.1h.6M224.1 841.6h.6M234.1 841.7h.6M230.0 862.3h.6M223.5 860.4h.6M234.2 840.7h.6M224.8 857.2h.6M220.1 844.5h.6M235.5 864.2h.6M233.7 859.2h.6M217.3 847.7h.6M227.2 867.2h.6M228.4 863.1h.6M218.1 853.9h.6M245.5 862.7h.6M235.5 843.8h.6M246.6 840.6h.6M247.9 862.8h.6M240.0 855.0h.6M222.2 848.9h.6M238.2 859.0h.6M229.5 863.6h.6M218.7 847.2h.6M219.9 848.4h.6M242.4 862.1h.6M221.8 847.9h.6M220.6 859.2h.6M231.2 845.4h.6M229.0 865.7h.6M230.6 860.1h.6M237.1 853.2h.6M234.8 849.6h.6M223.3 853.8h.6M226.7 848.6h.6M223.0 867.2h.6M230.6 844.4h.6M218.0 844.9h.6M244.8 848.8h.6M238.3 845.4h.6M237.8 852.4h.6" stroke="#8e8ecc" stroke-width="0.6"/>
<path d="M234.8 846.5h1M219.0 854.9h1M233.9 849.2h1M245.6 840.7h1M239.1 841.5h1M248.7 838.4h1M244.6 844.4h1M248.8 845.0h1M236.0 854.4h1M235.0 840.4h1M248.5 838.3h1M247.9 844.2h1M225.5 847.2h1M230.6 852.8h1M230.7 863.3h1M225.0 864.2h1M231.9 853.7h1M241.4 854.0h1M219.8 862.3h1M224.3 861.5h1M246.2 844.1h1M233.5 857.7h1M245.7 847.8h1M241.0 847.4h1M240.3 853.7h1M228.9 859.4h1M244.5 851.3h1M240.2 844.6h1M240.5 858.0h1M225.6 863.4h1M227.1 865.8h1M246.2 839.3h1M239.6 852.0h1M218.2 863.6h1M237.3 844.2h1M243.6 852.4h1M220.1 860.0h1M247.6 848.0h1M225.1 857.1h1M218.9 869.7h1M235.6 848.9h1M230.6 857.1h1M222.4 859.9h1M235.3 866.3h1M219.8 865.8h1M222.6 865.6h1M220.7 864.4h1M222.3 869.3h1M226.1 867.6h1M229.0 851.0h1M235.4 855.1h1M231.7 845.3h1M240.2 848.6h1M243.9 848.3h1M226.4 855.3h1M234.0 856.9h1M238.9 838.3h1M217.2 860.5h1M220.8 849.3h1M241.3 851.4h1M227.7 849.4h1M224.4 855.7h1M217.1 848.8h1M223.7 848.8h1" stroke="#3a3ab8" stroke-width="1.2"/>
<path d="M227.9 895.3h.6M218.8 903.1h.6M247.6 889.3h.6M222.9 892.4h.6M242.5 889.0h.6M241.7 887.4h.6M236.0 904.4h.6M238.6 884.6h.6M247.6 908.3h.6M232.4 908.6h.6M236.2 887.2h.6M229.7 907.4h.6M231.8 883.3h.6M222.3 887.8h.6M235.8 902.0h.6M231.3 894.5h.6M247.8 892.6h.6M238.5 888.3h.6M233.5 887.6h.6M220.6 892.4h.6M220.7 893.8h.6M237.9 899.0h.6M242.5 896.8h.6M219.7 904.5h.6M229.9 905.3h.6M248.2 898.3h.6M225.0 893.1h.6M233.0 891.9h.6M220.2 894.4h.6M238.0 907.3h.6M241.4 909.4h.6M242.6 894.8h.6M237.6 883.7h.6M242.4 903.9h.6M225.5 896.6h.6M225.7 906.6h.6M230.7 906.2h.6M246.6 906.1h.6M229.2 892.6h.6M247.3 910.0h.6M223.1 893.2h.6M242.2 905.4h.6M226.1 895.8h.6M247.8 884.8h.6M225.8 902.6h.6M246.0 911.4h.6M232.0 906.5h.6M248.1 892.2h.6M224.3 890.0h.6M242.0 886.3h.6M234.5 910.8h.6M223.4 901.5h.6M234.0 912.0h.6M233.4 897.2h.6M245.9 905.3h.6M221.6 906.9h.6M229.8 912.0h.6M247.8 897.3h.6M230.3 889.0h.6M225.8 888.4h.6M222.4 904.6h.6M218.6 900.6h.6M236.1 904.8h.6M235.2 910.7h.6M226.0 884.9h.6M235.6 890.3h.6M248.6 910.6h.6M239.0 907.8h.6M224.8 897.0h.6M229.3 892.7h.6M229.0 896.8h.6M237.9 882.8h.6M234.3 886.0h.6M248.0 899.1h.6M235.9 891.8h.6M239.6 904.0h.6M246.1 900.0h.6M225.6 901.5h.6M218.6 905.1h.6M226.8 904.3h.6M221.2 900.5h.6M222.4 883.1h.6M225.4 908.3h.6M229.4 898.2h.6M242.3 912.3h.6M225.3 903.5h.6M242.0 906.6h.6M228.1 896.7h.6M242.1 889.8h.6M232.5 901.6h.6M244.2 889.6h.6M238.3 888.7h.6M222.0 896.8h.6M237.7 901.8h.6M247.3 887.1h.6M234.0 896.9h.6M225.3 910.4h.6M221.6 890.1h.6M218.3 902.0h.6M238.0 888.9h.6M246.5 901.7h.6M223.5 911.2h.6M244.3 891.7h.6M244.7 886.0h.6M228.1 895.0h.6M247.6 891.3h.6M229.3 888.4h.6M243.2 887.7h.6M244.1 892.6h.6M234.6 909.2h.6M225.5 898.4h.6M237.4 899.9h.6M230.0 902.0h.6M227.1 886.8h.6M217.3 900.8h.6M235.4 906.8h.6M222.0 902.9h.6M231.5 898.3h.6M243.6 898.1h.6M230.9 902.0h.6M221.7 909.1h.6M233.6 883.3h.6M232.4 911.3h.6M248.3 895.2h.6M225.5 911.0h.6M226.1 882.6h.6M224.9 896.6h.6M238.6 884.1h.6M227.7 904.6h.6M228.0 887.4h.6M239.8 895.5h.6M239.2 897.0h.6M243.0 897.9h.6M248.2 907.2h.6M240.1 897.2h.6M236.5 893.7h.6M219.4 909.4h.6M242.8 905.8h.6M244.5 899.1h.6M248.8 896.7h.6M248.4 884.5h.6M229.1 899.7h.6M243.2 898.1h.6M242.3 893.6h.6M238.7 906.7h.6M236.2 882.6h.6M238.0 882.0h.6M226.7 885.6h.6M241.4 887.2h.6M240.0 884.2h.6M223.6 903.5h.6M246.6 884.2h.6M236.7 894.3h.6M236.9 884.4h.6M217.5 884.4h.6M245.5 897.2h.6M236.6 886.1h.6M238.9 909.9h.6M223.3 906.2h.6M244.2 912.8h.6M235.1 902.0h.6M228.0 906.2h.6M226.9 901.3h.6M237.1 912.7h.6M242.2 885.0h.6M222.7 893.1h.6M229.7 904.2h.6M225.3 899.3h.6M231.5 891.5h.6M237.6 895.5h.6M248.3 886.0h.6M245.8 901.8h.6M231.7 884.4h.6M237.7 906.9h.6M228.2 904.1h.6M234.0 884.8h.6M244.5 891.7h.6M232.4 905.6h.6M245.0 908.5h.6M228.8 908.3h.6M221.9 899.1h.6M230.8 908.8h.6M240.1 902.4h.6M242.9 892.8h.6M231.2 885.2h.6M228.2 888.2h.6M240.4 886.0h.6M246.3 900.6h.6M231.3 885.7h.6M231.3 899.5h.6M221.6 912.3h.6M228.5 895.5h.6M226.1 893.6h.6M225.8 908.5h.6M219.3 893.3h.6M236.1 896.9h.6M227.4 897.0h.6M219.0 891.5h.6M230.9 905.8h.6M230.8 894.9h.6M237.9 890.6h.6M234.6 888.0h.6M236.7 898.7h.6M237.9 909.1h.6M242.4 912.6h.6M224.5 911.6h.6M231.2 893.4h.6M231.6 910.6h.6M247.5 907.0h.6M226.6 885.7h.6M223.5 902.8h.6M239.5 884.0h.6M217.1 912.8h.6M227.8 883.3h.6M231.9 885.0h.6M243.1 898.4h.6M236.6 910.7h.6M221.0 888.7h.6M242.2 900.8h.6M231.0 893.0h.6M236.8 911.3h.6M247.4 910.4h.6M248.3 886.1h.6M217.9 907.7h.6M224.9 898.2h.6M232.0 912.2h.6M231.2 886.2h.6M223.5 910.0h.6M243.1 886.3h.6M247.8 893.5h.6M240.3 899.5h.6M244.5 897.2h.6M217.9 899.3h.6M244.2 894.7h.6M243.4 895.8h.6M228.5 893.1h.6M224.3 897.5h.6M247.7 900.3h.6M241.6 887.6h.6M228.8 900.0h.6M229.3 882.3h.6M244.8 886.0h.6M238.1 912.4h.6M226.3 890.4h.6M227.6 898.8h.6M248.4 886.5h.6M224.8 909.8h.6M225.9 902.7h.6M240.1 882.0h.6M217.9 905.5h.6M246.4 903.5h.6M231.9 885.1h.6M233.9 885.4h.6M227.4 883.1h.6M233.5 896.5h.6M226.1 888.9h.6M219.1 882.9h.6M221.1 912.5h.6M218.1 904.2h.6M231.6 900.2h.6M226.8 912.4h.6M242.8 894.5h.6M230.8 910.5h.6M222.0 909.1h.6M236.8 899.6h.6M234.1 900.3h.6M219.9 889.7h.6M228.3 888.9h.6M219.7 904.1h.6M230.5 905.0h.6M229.5 911.2h.6M224.8 897.9h.6M230.5 906.5h.6M221.2 898.9h.6M231.5 901.4h.6M224.4 898.8h.6M248.5 885.2h.6M248.1 912.0h.6M231.3 884.5h.6M232.9 911.9h.6M217.0 905.3h.6M242.0 885.6h.6M236.3 886.6h.6M220.2 898.2h.6M226.5 902.4h.6M233.9 889.1h.6M246.4 882.2h.6M242.7 890.7h.6M245.8 900.8h.6M231.7 888.7h.6M244.4 908.6h.6M247.7 900.3h.6M246.6 909.7h.6M238.3 892.5h.6M236.3 892.6h.6M243.0 899.1h.6M244.7 909.6h.6M241.1 888.3h.6M227.7 884.6h.6M227.7 886.9h.6M226.6 906.6h.6M220.8 910.4h.6M246.5 905.9h.6M224.6 891.0h.6M231.6 901.2h.6M246.6 882.6h.6M219.8 907.5h.6M217.7 909.7h.6M223.0 912.3h.6M232.1 900.8h.6M243.4 907.5h.6M230.3 896.3h.6M242.2 889.9h.6M226.7 909.0h.6M245.2 907.7h.6M228.0 892.6h.6M220.3 907.8h.6M218.6 887.7h.6M217.8 896.2h.6M248.9 884.2h.6" stroke="#8a8a9a" stroke-width="0.6"/>
<path d="M228.0 894.4h1M238.8 896.6h1M226.2 904.6h1M243.6 892.0h1M223.5 897.8h1M244.4 889.4h1M225.3 903.5h1M240.3 898.8h1M223.1 901.2h1M224.4 889.8h1M223.4 910.5h1M224.5 899.4h1M241.7 892.8h1M231.4 907.0h1" stroke="#6a6ad0" stroke-width="1"/>
<path d="M182.7 850.6h.7M171.4 849.5h.7M199.0 836.3h.7M195.6 854.8h.7M188.5 854.1h.7M201.3 851.6h.7M173.0 848.4h.7M175.2 862.0h.7M198.3 865.1h.7M188.8 840.6h.7M198.1 871.1h.7M178.8 869.0h.7M183.6 870.8h.7M202.5 865.7h.7M205.9 849.4h.7M173.8 864.3h.7M208.5 850.3h.7M191.8 860.0h.7M185.2 849.3h.7M204.6 859.6h.7M200.6 850.5h.7M199.3 836.4h.7M196.1 852.1h.7M203.8 868.7h.7M198.9 852.3h.7M197.9 869.4h.7M196.1 857.8h.7M199.0 866.9h.7M178.1 867.4h.7M201.7 869.6h.7M193.6 842.2h.7M177.8 844.0h.7M204.7 867.5h.7M177.4 859.4h.7M192.5 851.8h.7M190.4 857.6h.7M190.0 844.8h.7M187.4 837.5h.7M199.3 853.9h.7M175.6 863.2h.7M182.9 857.0h.7M182.7 838.2h.7M179.1 858.1h.7M199.4 863.5h.7M197.2 844.1h.7M202.3 850.7h.7M173.3 856.7h.7M206.4 844.4h.7M178.9 860.4h.7M200.9 864.8h.7M194.5 846.2h.7M188.8 858.8h.7M177.5 858.1h.7M207.1 853.1h.7M198.6 849.7h.7M175.3 860.5h.7M204.3 860.9h.7M188.5 851.8h.7M195.9 871.0h.7M199.2 867.7h.7M179.8 860.0h.7M199.7 845.2h.7M204.0 841.6h.7M184.8 852.0h.7M181.0 871.0h.7M189.5 869.4h.7M196.0 870.4h.7M183.6 836.7h.7M185.3 850.4h.7M195.1 839.5h.7M204.3 849.1h.7M184.8 866.0h.7M175.3 847.8h.7M178.3 840.4h.7M182.0 852.1h.7M201.5 841.0h.7M198.2 865.5h.7M199.8 841.9h.7M204.2 867.0h.7M189.7 845.3h.7M184.4 836.6h.7M173.5 845.2h.7M188.7 853.6h.7M181.0 838.8h.7M205.8 845.4h.7M207.5 847.7h.7M186.0 854.9h.7M193.0 858.0h.7M206.8 846.0h.7M205.5 844.3h.7M176.4 858.4h.7M198.7 855.4h.7M187.0 856.8h.7M184.7 867.2h.7M195.3 861.3h.7M202.4 861.0h.7M197.8 842.7h.7M186.0 837.9h.7M196.7 837.3h.7M186.5 854.1h.7M196.0 863.3h.7M182.7 867.3h.7M180.1 854.2h.7M199.3 869.0h.7M207.5 853.6h.7M201.4 867.0h.7M195.3 840.1h.7M178.4 840.3h.7M174.1 856.3h.7M199.7 870.1h.7M182.9 850.3h.7M177.9 841.3h.7M180.3 857.8h.7M185.9 834.8h.7M201.6 851.4h.7M178.6 855.2h.7M200.1 865.6h.7M187.6 867.5h.7M197.9 841.0h.7M199.8 853.5h.7M192.8 858.8h.7M187.9 843.8h.7M193.9 869.8h.7M208.1 852.8h.7M209.4 848.9h.7M181.6 852.5h.7M191.7 844.8h.7M201.9 859.3h.7M189.7 838.2h.7M184.8 857.9h.7M198.1 867.8h.7M176.1 854.6h.7M190.1 839.0h.7M203.8 840.0h.7M178.9 852.7h.7M180.8 853.8h.7M198.5 869.2h.7M188.0 855.2h.7M181.9 861.2h.7M193.6 855.2h.7M177.2 842.3h.7M199.0 841.0h.7M193.2 869.9h.7M189.6 863.6h.7M187.3 860.6h.7M206.0 866.9h.7M207.8 864.1h.7M184.6 838.0h.7M203.4 864.7h.7M195.2 867.7h.7M172.6 859.6h.7M192.2 855.1h.7M178.3 846.8h.7M187.3 849.4h.7M179.2 866.4h.7M181.4 848.0h.7M195.0 854.3h.7M199.0 847.5h.7M200.5 858.8h.7M194.4 868.4h.7M204.8 858.6h.7M181.9 842.4h.7M182.7 848.5h.7M177.4 865.0h.7M186.8 871.8h.7M195.9 866.9h.7M203.8 844.3h.7M188.8 866.0h.7M187.3 871.1h.7M178.7 867.8h.7M184.7 836.9h.7M180.4 852.1h.7M185.7 841.9h.7M203.5 858.3h.7M192.9 859.1h.7M188.9 873.5h.7M184.4 842.6h.7M180.0 847.9h.7M181.4 850.1h.7M201.7 840.0h.7M176.8 859.2h.7M178.6 866.7h.7M200.6 837.5h.7M205.7 866.0h.7M192.1 860.6h.7M177.0 862.4h.7M202.8 864.7h.7M208.1 850.5h.7M194.5 847.1h.7M185.6 862.6h.7M177.9 867.8h.7M201.1 853.9h.7M176.4 848.2h.7M204.0 851.7h.7M195.4 858.3h.7M199.2 865.0h.7M204.7 863.2h.7M192.2 858.0h.7M188.3 840.7h.7M191.3 838.9h.7M186.9 857.7h.7M200.8 841.0h.7M190.4 859.8h.7M177.6 840.1h.7M190.0 834.9h.7M197.9 853.8h.7M196.3 866.6h.7M201.4 863.1h.7M194.9 844.7h.7M195.0 844.9h.7M193.0 849.0h.7M193.9 857.0h.7M188.2 852.7h.7M186.4 842.0h.7M201.1 847.1h.7M199.5 839.1h.7M178.4 866.6h.7M178.3 845.1h.7M183.8 857.6h.7M176.5 852.1h.7M172.7 862.3h.7M199.9 870.9h.7M184.9 851.8h.7M182.8 850.8h.7M177.0 854.5h.7M193.5 835.2h.7M207.7 862.3h.7M198.0 851.1h.7M202.7 860.8h.7M197.7 855.5h.7M181.7 853.5h.7M183.4 848.7h.7M182.9 840.4h.7M205.5 861.7h.7M208.4 844.8h.7M206.8 858.4h.7M185.4 865.8h.7M186.5 855.2h.7M185.8 848.9h.7M194.7 849.1h.7M180.1 843.7h.7M197.4 855.5h.7M178.3 854.4h.7M194.4 859.4h.7M192.9 872.0h.7M202.1 867.3h.7M204.4 866.0h.7M193.3 835.5h.7M175.6 866.7h.7M177.2 862.3h.7M194.5 847.2h.7M206.8 858.8h.7M192.1 863.4h.7M182.5 854.4h.7M189.6 863.0h.7M206.0 863.9h.7M200.3 839.9h.7M173.0 861.2h.7M176.4 850.1h.7M202.6 855.7h.7" stroke="#9a9ad2" stroke-width="0.6"/>
<path d="M194.0 913.6h.7M206.0 894.1h.7M182.9 914.2h.7M206.3 906.3h.7M209.5 902.9h.7M191.2 877.9h.7M174.5 899.5h.7M176.6 907.9h.7M177.5 894.5h.7M197.0 879.4h.7M188.8 907.7h.7M202.2 897.3h.7M180.6 908.6h.7M187.3 910.8h.7M188.5 910.8h.7M195.8 881.0h.7M208.1 889.4h.7M188.7 915.2h.7M185.0 882.9h.7M171.5 899.2h.7M172.8 890.2h.7M200.0 905.1h.7M202.0 910.3h.7M179.7 900.6h.7M183.4 909.6h.7M185.7 910.9h.7M188.6 895.7h.7M193.3 911.9h.7M182.5 884.6h.7M189.2 884.6h.7M205.5 888.5h.7M175.5 897.2h.7M194.2 887.7h.7M187.7 911.5h.7M186.0 897.5h.7M171.4 897.3h.7M200.3 886.7h.7M186.9 886.1h.7M206.9 905.6h.7M175.4 893.9h.7M175.6 884.8h.7M185.7 912.0h.7M189.0 881.2h.7M194.0 895.5h.7M191.7 894.0h.7M185.7 908.5h.7M196.5 879.8h.7M176.6 892.7h.7M188.9 894.9h.7M181.3 907.4h.7M201.2 901.0h.7M189.3 904.7h.7M195.1 909.0h.7M180.8 882.0h.7M183.1 913.8h.7M189.1 891.5h.7M196.4 915.5h.7M200.6 909.9h.7M175.1 888.7h.7M193.6 879.9h.7M201.7 910.6h.7M203.6 887.8h.7M196.1 896.2h.7M171.4 901.9h.7M186.8 908.8h.7M187.2 909.5h.7M177.7 903.6h.7M190.0 911.8h.7M201.3 892.6h.7M190.7 916.8h.7M186.1 880.5h.7M207.7 887.7h.7M190.4 898.2h.7M189.4 881.5h.7M176.1 910.0h.7M195.6 883.4h.7M180.8 889.3h.7M195.0 907.6h.7M188.6 883.8h.7M174.6 895.5h.7M197.0 895.0h.7M205.2 907.4h.7M193.7 912.5h.7M174.2 897.0h.7M182.5 888.0h.7M175.3 885.9h.7M197.9 886.3h.7M189.3 887.0h.7M191.6 897.2h.7M174.6 890.5h.7M203.1 890.0h.7M175.1 896.5h.7M191.1 885.5h.7M184.0 890.1h.7M195.5 900.4h.7M196.1 909.2h.7M202.5 910.7h.7M185.8 886.3h.7M196.1 909.3h.7M203.3 884.6h.7M186.0 886.2h.7M197.8 885.4h.7M180.4 913.7h.7M188.3 893.5h.7M203.1 903.5h.7M192.7 884.6h.7M183.4 896.3h.7M180.5 889.9h.7M184.7 904.7h.7M175.3 887.8h.7M175.4 894.5h.7M174.8 891.8h.7M189.9 895.8h.7M204.3 894.7h.7M206.8 902.9h.7M191.4 885.6h.7M187.4 895.4h.7M189.3 881.3h.7M195.4 884.8h.7M201.9 891.5h.7M196.6 897.9h.7M186.4 906.2h.7M191.3 903.7h.7M179.4 882.5h.7M201.3 892.6h.7M176.1 897.8h.7M176.9 887.6h.7M188.1 898.9h.7M189.7 899.7h.7M182.5 879.8h.7M175.7 890.4h.7M172.7 889.4h.7M198.1 910.8h.7M183.9 909.5h.7M194.2 915.0h.7M185.4 906.7h.7M192.2 895.6h.7M198.1 915.5h.7M186.1 889.9h.7M201.6 909.8h.7M200.5 880.4h.7M206.8 891.5h.7M205.9 906.7h.7M177.1 903.3h.7M192.9 898.0h.7M174.6 895.9h.7M188.0 917.2h.7M207.6 905.5h.7M196.0 895.2h.7M198.0 883.9h.7M178.5 903.0h.7M172.2 892.1h.7M191.3 884.0h.7M182.5 899.8h.7M172.8 892.3h.7M180.3 886.2h.7M171.7 903.6h.7M199.2 886.1h.7M181.1 882.4h.7M189.9 913.5h.7M186.7 914.8h.7M183.9 916.2h.7M185.5 884.1h.7M176.7 891.3h.7M190.3 900.8h.7M180.2 900.9h.7M181.6 899.4h.7M195.9 916.8h.7M178.1 909.7h.7M194.4 902.3h.7M185.8 885.4h.7M191.5 894.9h.7M175.1 898.1h.7M193.6 914.3h.7M192.8 903.9h.7M193.0 901.3h.7M176.0 907.8h.7M195.5 907.2h.7M185.8 905.8h.7M203.1 884.4h.7M202.5 908.8h.7M192.4 896.5h.7M187.9 899.6h.7M187.8 904.1h.7M181.9 900.1h.7M189.4 885.4h.7M203.5 905.1h.7M174.0 902.0h.7M190.3 887.8h.7M177.9 909.0h.7M205.2 894.7h.7M181.7 890.3h.7M180.3 902.2h.7M179.9 898.0h.7M189.1 900.7h.7M206.5 907.4h.7M179.4 913.8h.7M190.9 909.8h.7M201.1 889.4h.7M182.9 881.9h.7" stroke="#b4b4c2" stroke-width="0.6"/>
<rect x="185.60" y="839.60" width="9.20" height="9.20" fill="none" stroke="#777" stroke-width="0.55"/>
<rect x="183.40" y="889.40" width="9.80" height="8.90" fill="none" stroke="#777" stroke-width="0.55"/>
<path d="M194.8,839.6 L216.2,837 M194.8,848.8 L216.2,870.7" fill="none" stroke="#999" stroke-width="0.45"/>
<path d="M193.2,889.4 L216.2,881 M193.2,898.3 L216.2,913.9" fill="none" stroke="#999" stroke-width="0.45"/>
<text transform="translate(162.2 851.3) rotate(-90)" font-size="8.2" text-anchor="middle" fill="#222">PANC-1</text>
<text transform="translate(156.8 899.4) rotate(-90)" font-size="8.2" text-anchor="middle" fill="#222">HMGA1 KO</text>
<text transform="translate(167.1 899.7) rotate(-90)" font-size="8.2" text-anchor="middle" fill="#222">PANC-1</text>
<rect x="292.40" y="844.27" width="17.60" height="78.33" fill="#fff" stroke="#222" stroke-width="1.1"/>
<rect x="319.70" y="874.19" width="17.10" height="48.41" fill="#fff" stroke="#222" stroke-width="1.1"/>
<line x1="283.60" y1="828.20" x2="283.60" y2="923.10" stroke="#222" stroke-width="1.0"/>
<line x1="283.20" y1="922.60" x2="345.70" y2="922.60" stroke="#222" stroke-width="1.1"/>
<line x1="280.70" y1="922.60" x2="283.60" y2="922.60" stroke="#777" stroke-width="0.7"/>
<text x="279.30" y="925.10" font-size="7.3" text-anchor="end" fill="#333">0</text>
<line x1="280.70" y1="906.93" x2="283.60" y2="906.93" stroke="#777" stroke-width="0.7"/>
<text x="279.30" y="909.43" font-size="7.3" text-anchor="end" fill="#333">20</text>
<line x1="280.70" y1="891.27" x2="283.60" y2="891.27" stroke="#777" stroke-width="0.7"/>
<text x="279.30" y="893.77" font-size="7.3" text-anchor="end" fill="#333">40</text>
<line x1="280.70" y1="875.60" x2="283.60" y2="875.60" stroke="#777" stroke-width="0.7"/>
<text x="279.30" y="878.10" font-size="7.3" text-anchor="end" fill="#333">60</text>
<line x1="280.70" y1="859.94" x2="283.60" y2="859.94" stroke="#777" stroke-width="0.7"/>
<text x="279.30" y="862.44" font-size="7.3" text-anchor="end" fill="#333">80</text>
<line x1="280.70" y1="844.27" x2="283.60" y2="844.27" stroke="#777" stroke-width="0.7"/>
<text x="279.30" y="846.77" font-size="7.3" text-anchor="end" fill="#333">100</text>
<line x1="280.70" y1="828.60" x2="283.60" y2="828.60" stroke="#777" stroke-width="0.7"/>
<text x="279.30" y="831.10" font-size="7.3" text-anchor="end" fill="#333">120</text>
<text transform="translate(261.6 875) rotate(-90)" font-size="7.3" text-anchor="middle" fill="#333">% of invasive cells</text>
<line x1="301.50" y1="832.30" x2="301.50" y2="856.30" stroke="#333" stroke-width="0.8"/>
<line x1="297.30" y1="832.30" x2="305.70" y2="832.30" stroke="#333" stroke-width="0.8"/>
<line x1="297.30" y1="856.30" x2="305.70" y2="856.30" stroke="#333" stroke-width="0.8"/>
<line x1="328.00" y1="866.80" x2="328.00" y2="879.60" stroke="#333" stroke-width="0.8"/>
<line x1="323.90" y1="866.80" x2="332.10" y2="866.80" stroke="#333" stroke-width="0.8"/>
<line x1="323.90" y1="879.60" x2="332.10" y2="879.60" stroke="#333" stroke-width="0.8"/>
<circle cx="301.50" cy="829.40" r="1.35" fill="#2a3fcf"/>
<circle cx="301.50" cy="842.70" r="1.35" fill="#2a3fcf"/>
<circle cx="301.50" cy="845.90" r="1.35" fill="#2a3fcf"/>
<circle cx="301.50" cy="859.20" r="1.35" fill="#2a3fcf"/>
<circle cx="328.00" cy="866.00" r="1.2" fill="#fff" stroke="#888" stroke-width="0.65"/>
<circle cx="328.00" cy="870.80" r="1.2" fill="#fff" stroke="#888" stroke-width="0.65"/>
<circle cx="328.00" cy="875.60" r="1.2" fill="#fff" stroke="#888" stroke-width="0.65"/>
<circle cx="328.00" cy="881.70" r="1.2" fill="#fff" stroke="#888" stroke-width="0.65"/>
<path d="M300.7,824.3 V819.4 H328.8 V857.2" fill="none" stroke="#333" stroke-width="0.8"/>
<text x="314.40" y="818.60" font-size="8.6" text-anchor="middle" fill="#222">**</text>
<circle cx="290.60" cy="931.00" r="1.35" fill="#2a3fcf"/>
<text x="301.30" y="933.40" font-size="7.1" fill="#333">PANC-1</text>
<circle cx="290.60" cy="941.70" r="1.2" fill="#fff" stroke="#888" stroke-width="0.65"/>
<text x="301.30" y="944.20" font-size="7.1" fill="#333">HMGA1 KO</text>
<text x="301.30" y="953.40" font-size="7.1" fill="#333">PANC-1</text>
<text x="347.00" y="792.10" font-size="17" font-weight="bold">P</text>
<line x1="387.50" y1="789.10" x2="387.50" y2="930.40" stroke="#333" stroke-width="0.9"/>
<line x1="387.10" y1="929.90" x2="528.60" y2="929.90" stroke="#333" stroke-width="0.9"/>
<line x1="384.10" y1="929.90" x2="387.50" y2="929.90" stroke="#333" stroke-width="0.8"/>
<text x="381.30" y="932.50" font-size="7.3" text-anchor="end" fill="#333">0</text>
<line x1="384.10" y1="894.77" x2="387.50" y2="894.77" stroke="#333" stroke-width="0.8"/>
<text x="381.30" y="897.38" font-size="7.3" text-anchor="end" fill="#333">500</text>
<line x1="384.10" y1="859.65" x2="387.50" y2="859.65" stroke="#333" stroke-width="0.8"/>
<text x="381.30" y="862.25" font-size="7.3" text-anchor="end" fill="#333">1000</text>
<line x1="384.10" y1="824.52" x2="387.50" y2="824.52" stroke="#333" stroke-width="0.8"/>
<text x="381.30" y="827.12" font-size="7.3" text-anchor="end" fill="#333">1500</text>
<line x1="384.10" y1="789.40" x2="387.50" y2="789.40" stroke="#333" stroke-width="0.8"/>
<text x="381.30" y="792.00" font-size="7.3" text-anchor="end" fill="#333">2000</text>
<line x1="398.00" y1="929.90" x2="398.00" y2="932.10" stroke="#333" stroke-width="0.7"/>
<text x="398.00" y="942.40" font-size="7.3" text-anchor="middle" fill="#333">0</text>
<line x1="413.08" y1="929.90" x2="413.08" y2="932.10" stroke="#333" stroke-width="0.7"/>
<text x="413.08" y="942.40" font-size="7.3" text-anchor="middle" fill="#333">11</text>
<line x1="428.16" y1="929.90" x2="428.16" y2="932.10" stroke="#333" stroke-width="0.7"/>
<text x="428.16" y="942.40" font-size="7.3" text-anchor="middle" fill="#333">18</text>
<line x1="443.24" y1="929.90" x2="443.24" y2="932.10" stroke="#333" stroke-width="0.7"/>
<text x="443.24" y="942.40" font-size="7.3" text-anchor="middle" fill="#333">25</text>
<line x1="458.32" y1="929.90" x2="458.32" y2="932.10" stroke="#333" stroke-width="0.7"/>
<text x="458.32" y="942.40" font-size="7.3" text-anchor="middle" fill="#333">32</text>
<line x1="473.40" y1="929.90" x2="473.40" y2="932.10" stroke="#333" stroke-width="0.7"/>
<text x="473.40" y="942.40" font-size="7.3" text-anchor="middle" fill="#333">39</text>
<line x1="488.48" y1="929.90" x2="488.48" y2="932.10" stroke="#333" stroke-width="0.7"/>
<text x="488.48" y="942.40" font-size="7.3" text-anchor="middle" fill="#333">46</text>
<line x1="503.56" y1="929.90" x2="503.56" y2="932.10" stroke="#333" stroke-width="0.7"/>
<text x="503.56" y="942.40" font-size="7.3" text-anchor="middle" fill="#333">53</text>
<line x1="518.64" y1="929.90" x2="518.64" y2="932.10" stroke="#333" stroke-width="0.7"/>
<text x="518.64" y="942.40" font-size="7.3" text-anchor="middle" fill="#333">60</text>
<text x="458.40" y="955.50" font-size="7.5" text-anchor="middle" fill="#333">Days</text>
<text transform="translate(360.6 861.2) rotate(-90)" font-size="7.75" text-anchor="middle" fill="#333">Tumor volume (mm<tspan font-size="5.2" dy="-2.7">3</tspan><tspan dy="2.7">)</tspan></text>
<line x1="413.08" y1="927.23" x2="413.08" y2="928.35" stroke="#9a9a9a" stroke-width="0.6"/>
<line x1="411.08" y1="927.23" x2="415.08" y2="927.23" stroke="#9a9a9a" stroke-width="0.6"/>
<line x1="411.08" y1="928.35" x2="415.08" y2="928.35" stroke="#9a9a9a" stroke-width="0.6"/>
<line x1="428.16" y1="924.98" x2="428.16" y2="926.39" stroke="#9a9a9a" stroke-width="0.6"/>
<line x1="426.16" y1="924.98" x2="430.16" y2="924.98" stroke="#9a9a9a" stroke-width="0.6"/>
<line x1="426.16" y1="926.39" x2="430.16" y2="926.39" stroke="#9a9a9a" stroke-width="0.6"/>
<line x1="443.24" y1="921.47" x2="443.24" y2="923.58" stroke="#9a9a9a" stroke-width="0.6"/>
<line x1="441.24" y1="921.47" x2="445.24" y2="921.47" stroke="#9a9a9a" stroke-width="0.6"/>
<line x1="441.24" y1="923.58" x2="445.24" y2="923.58" stroke="#9a9a9a" stroke-width="0.6"/>
<line x1="458.32" y1="914.44" x2="458.32" y2="917.25" stroke="#9a9a9a" stroke-width="0.6"/>
<line x1="456.32" y1="914.44" x2="460.32" y2="914.44" stroke="#9a9a9a" stroke-width="0.6"/>
<line x1="456.32" y1="917.25" x2="460.32" y2="917.25" stroke="#9a9a9a" stroke-width="0.6"/>
<line x1="473.40" y1="909.53" x2="473.40" y2="913.04" stroke="#9a9a9a" stroke-width="0.6"/>
<line x1="471.40" y1="909.53" x2="475.40" y2="909.53" stroke="#9a9a9a" stroke-width="0.6"/>
<line x1="471.40" y1="913.04" x2="475.40" y2="913.04" stroke="#9a9a9a" stroke-width="0.6"/>
<line x1="488.48" y1="896.18" x2="488.48" y2="901.10" stroke="#9a9a9a" stroke-width="0.6"/>
<line x1="486.48" y1="896.18" x2="490.48" y2="896.18" stroke="#9a9a9a" stroke-width="0.6"/>
<line x1="486.48" y1="901.10" x2="490.48" y2="901.10" stroke="#9a9a9a" stroke-width="0.6"/>
<line x1="503.56" y1="878.97" x2="503.56" y2="884.59" stroke="#9a9a9a" stroke-width="0.6"/>
<line x1="501.56" y1="878.97" x2="505.56" y2="878.97" stroke="#9a9a9a" stroke-width="0.6"/>
<line x1="501.56" y1="884.59" x2="505.56" y2="884.59" stroke="#9a9a9a" stroke-width="0.6"/>
<line x1="518.64" y1="853.68" x2="518.64" y2="867.03" stroke="#9a9a9a" stroke-width="0.6"/>
<line x1="516.64" y1="853.68" x2="520.64" y2="853.68" stroke="#9a9a9a" stroke-width="0.6"/>
<line x1="516.64" y1="867.03" x2="520.64" y2="867.03" stroke="#9a9a9a" stroke-width="0.6"/>
<line x1="413.08" y1="926.39" x2="413.08" y2="927.79" stroke="#555" stroke-width="0.6"/>
<line x1="411.08" y1="926.39" x2="415.08" y2="926.39" stroke="#555" stroke-width="0.6"/>
<line x1="411.08" y1="927.79" x2="415.08" y2="927.79" stroke="#555" stroke-width="0.6"/>
<line x1="428.16" y1="924.14" x2="428.16" y2="925.83" stroke="#555" stroke-width="0.6"/>
<line x1="426.16" y1="924.14" x2="430.16" y2="924.14" stroke="#555" stroke-width="0.6"/>
<line x1="426.16" y1="925.83" x2="430.16" y2="925.83" stroke="#555" stroke-width="0.6"/>
<line x1="443.24" y1="919.85" x2="443.24" y2="922.38" stroke="#555" stroke-width="0.6"/>
<line x1="441.24" y1="919.85" x2="445.24" y2="919.85" stroke="#555" stroke-width="0.6"/>
<line x1="441.24" y1="922.38" x2="445.24" y2="922.38" stroke="#555" stroke-width="0.6"/>
<line x1="458.32" y1="910.93" x2="458.32" y2="915.15" stroke="#555" stroke-width="0.6"/>
<line x1="456.32" y1="910.93" x2="460.32" y2="910.93" stroke="#555" stroke-width="0.6"/>
<line x1="456.32" y1="915.15" x2="460.32" y2="915.15" stroke="#555" stroke-width="0.6"/>
<line x1="473.40" y1="899.69" x2="473.40" y2="906.01" stroke="#555" stroke-width="0.6"/>
<line x1="471.40" y1="899.69" x2="475.40" y2="899.69" stroke="#555" stroke-width="0.6"/>
<line x1="471.40" y1="906.01" x2="475.40" y2="906.01" stroke="#555" stroke-width="0.6"/>
<line x1="488.48" y1="878.97" x2="488.48" y2="890.21" stroke="#555" stroke-width="0.6"/>
<line x1="486.48" y1="878.97" x2="490.48" y2="878.97" stroke="#555" stroke-width="0.6"/>
<line x1="486.48" y1="890.21" x2="490.48" y2="890.21" stroke="#555" stroke-width="0.6"/>
<line x1="503.56" y1="852.62" x2="503.56" y2="877.91" stroke="#555" stroke-width="0.6"/>
<line x1="501.56" y1="852.62" x2="505.56" y2="852.62" stroke="#555" stroke-width="0.6"/>
<line x1="501.56" y1="877.91" x2="505.56" y2="877.91" stroke="#555" stroke-width="0.6"/>
<line x1="518.64" y1="818.55" x2="518.64" y2="835.41" stroke="#555" stroke-width="0.6"/>
<line x1="516.64" y1="818.55" x2="520.64" y2="818.55" stroke="#555" stroke-width="0.6"/>
<line x1="516.64" y1="835.41" x2="520.64" y2="835.41" stroke="#555" stroke-width="0.6"/>
<path d="M398.00,929.90 L413.08,927.79 L428.16,925.68 L443.24,922.52 L458.32,915.85 L473.40,911.28 L488.48,898.64 L503.56,881.78 L518.64,860.35" fill="none" stroke="#c4c4c4" stroke-width="1.3"/>
<path d="M398.00,929.90 L413.08,927.09 L428.16,924.98 L443.24,921.12 L458.32,913.04 L473.40,902.85 L488.48,884.59 L503.56,865.27 L518.64,826.98" fill="none" stroke="#3f5fe0" stroke-width="1.3"/>
<circle cx="398.00" cy="929.90" r="1.9" fill="#d0d0d0" stroke="#7a7a7a" stroke-width="0.6"/>
<circle cx="413.08" cy="927.79" r="1.9" fill="#d0d0d0" stroke="#7a7a7a" stroke-width="0.6"/>
<circle cx="428.16" cy="925.68" r="1.9" fill="#d0d0d0" stroke="#7a7a7a" stroke-width="0.6"/>
<circle cx="443.24" cy="922.52" r="1.9" fill="#d0d0d0" stroke="#7a7a7a" stroke-width="0.6"/>
<circle cx="458.32" cy="915.85" r="1.9" fill="#d0d0d0" stroke="#7a7a7a" stroke-width="0.6"/>
<circle cx="473.40" cy="911.28" r="1.9" fill="#d0d0d0" stroke="#7a7a7a" stroke-width="0.6"/>
<circle cx="488.48" cy="898.64" r="1.9" fill="#d0d0d0" stroke="#7a7a7a" stroke-width="0.6"/>
<circle cx="503.56" cy="881.78" r="1.9" fill="#d0d0d0" stroke="#7a7a7a" stroke-width="0.6"/>
<circle cx="518.64" cy="860.35" r="1.9" fill="#d0d0d0" stroke="#7a7a7a" stroke-width="0.6"/>
<circle cx="398.00" cy="929.90" r="1.9" fill="#3f5fe0" stroke="#1f3aa8" stroke-width="0.6"/>
<circle cx="413.08" cy="927.09" r="1.9" fill="#3f5fe0" stroke="#1f3aa8" stroke-width="0.6"/>
<circle cx="428.16" cy="924.98" r="1.9" fill="#3f5fe0" stroke="#1f3aa8" stroke-width="0.6"/>
<circle cx="443.24" cy="921.12" r="1.9" fill="#3f5fe0" stroke="#1f3aa8" stroke-width="0.6"/>
<circle cx="458.32" cy="913.04" r="1.9" fill="#3f5fe0" stroke="#1f3aa8" stroke-width="0.6"/>
<circle cx="473.40" cy="902.85" r="1.9" fill="#3f5fe0" stroke="#1f3aa8" stroke-width="0.6"/>
<circle cx="488.48" cy="884.59" r="1.9" fill="#3f5fe0" stroke="#1f3aa8" stroke-width="0.6"/>
<circle cx="503.56" cy="865.27" r="1.9" fill="#3f5fe0" stroke="#1f3aa8" stroke-width="0.6"/>
<circle cx="518.64" cy="826.98" r="1.9" fill="#3f5fe0" stroke="#1f3aa8" stroke-width="0.6"/>
<line x1="392.70" y1="795.30" x2="403.20" y2="795.30" stroke="#c4c4c4" stroke-width="1.2"/>
<circle cx="398.00" cy="795.30" r="1.9" fill="#d0d0d0" stroke="#7a7a7a" stroke-width="0.6"/>
<text x="408.00" y="798.00" font-size="7.4" fill="#333">HMGA1 KO PANC-1</text>
<line x1="392.70" y1="807.70" x2="403.20" y2="807.70" stroke="#3f5fe0" stroke-width="1.2"/>
<circle cx="398.00" cy="807.70" r="1.9" fill="#3f5fe0" stroke="#1f3aa8" stroke-width="0.6"/>
<text x="408.60" y="810.40" font-size="7.4" fill="#333">PANC-1</text>
<text x="518.60" y="814.00" font-size="8.5" text-anchor="middle" fill="#333">****</text>
<text x="537.10" y="791.90" font-size="17" font-weight="bold">Q</text>
<text x="604.70" y="812.80" font-size="7.5" text-anchor="middle" fill="#333">Day 60</text>
<rect x="582.20" y="852.38" width="18.20" height="69.72" fill="#fff" stroke="#222" stroke-width="1.1"/>
<rect x="610.40" y="875.16" width="17.10" height="46.94" fill="#fff" stroke="#222" stroke-width="1.1"/>
<line x1="573.30" y1="826.20" x2="573.30" y2="922.60" stroke="#222" stroke-width="1.0"/>
<line x1="572.90" y1="922.10" x2="636.80" y2="922.10" stroke="#222" stroke-width="1.0"/>
<line x1="569.50" y1="922.10" x2="573.30" y2="922.10" stroke="#222" stroke-width="0.8"/>
<text x="567.10" y="924.75" font-size="7.45" text-anchor="end" fill="#333">0</text>
<line x1="569.50" y1="898.23" x2="573.30" y2="898.23" stroke="#222" stroke-width="0.8"/>
<text x="567.10" y="900.88" font-size="7.45" text-anchor="end" fill="#333">500</text>
<line x1="569.50" y1="874.35" x2="573.30" y2="874.35" stroke="#222" stroke-width="0.8"/>
<text x="567.10" y="877.00" font-size="7.45" text-anchor="end" fill="#333">1000</text>
<line x1="569.50" y1="850.48" x2="573.30" y2="850.48" stroke="#222" stroke-width="0.8"/>
<text x="567.10" y="853.12" font-size="7.45" text-anchor="end" fill="#333">1500</text>
<line x1="569.50" y1="826.60" x2="573.30" y2="826.60" stroke="#222" stroke-width="0.8"/>
<text x="567.10" y="829.25" font-size="7.45" text-anchor="end" fill="#333">2000</text>
<text transform="translate(545.0 874) rotate(-90)" font-size="7.75" text-anchor="middle" fill="#333">Tumor volume (mm<tspan font-size="5.2" dy="-2.7">3</tspan><tspan dy="2.7">)</tspan></text>
<line x1="591.40" y1="846.40" x2="591.40" y2="858.40" stroke="#333" stroke-width="0.8"/>
<line x1="586.70" y1="846.40" x2="596.10" y2="846.40" stroke="#333" stroke-width="0.8"/>
<line x1="586.70" y1="858.40" x2="596.10" y2="858.40" stroke="#333" stroke-width="0.8"/>
<line x1="618.80" y1="870.40" x2="618.80" y2="879.50" stroke="#333" stroke-width="0.8"/>
<line x1="614.60" y1="870.40" x2="623.00" y2="870.40" stroke="#333" stroke-width="0.8"/>
<line x1="614.60" y1="879.50" x2="623.00" y2="879.50" stroke="#333" stroke-width="0.8"/>
<circle cx="588.40" cy="841.60" r="1.45" fill="#3a68d8" stroke="#2a4aa8" stroke-width="0.3"/>
<circle cx="594.40" cy="841.60" r="1.45" fill="#3a68d8" stroke="#2a4aa8" stroke-width="0.3"/>
<circle cx="588.40" cy="848.20" r="1.45" fill="#3a68d8" stroke="#2a4aa8" stroke-width="0.3"/>
<circle cx="594.40" cy="846.40" r="1.45" fill="#3a68d8" stroke="#2a4aa8" stroke-width="0.3"/>
<circle cx="591.40" cy="855.40" r="1.45" fill="#3a68d8" stroke="#2a4aa8" stroke-width="0.3"/>
<circle cx="591.40" cy="879.90" r="1.45" fill="#3a68d8" stroke="#2a4aa8" stroke-width="0.3"/>
<circle cx="615.80" cy="864.20" r="1.2" fill="#fff" stroke="#777" stroke-width="0.65"/>
<circle cx="621.80" cy="862.10" r="1.2" fill="#fff" stroke="#777" stroke-width="0.65"/>
<circle cx="618.80" cy="871.40" r="1.2" fill="#fff" stroke="#777" stroke-width="0.65"/>
<circle cx="618.80" cy="879.80" r="1.2" fill="#fff" stroke="#777" stroke-width="0.65"/>
<circle cx="618.80" cy="884.60" r="1.2" fill="#fff" stroke="#777" stroke-width="0.65"/>
<circle cx="618.80" cy="887.80" r="1.2" fill="#fff" stroke="#777" stroke-width="0.65"/>
<path d="M591.4,836.6 V830.2 H619.4 V852.8" fill="none" stroke="#333" stroke-width="0.8"/>
<text x="604.00" y="832.20" font-size="7.6" text-anchor="middle" fill="#333">*</text>
<circle cx="631.60" cy="833.20" r="1.45" fill="#3a68d8" stroke="#2a4aa8" stroke-width="0.3"/>
<text x="642.50" y="836.10" font-size="7.4" fill="#333">PANC-1</text>
<circle cx="631.60" cy="846.40" r="1.2" fill="#fff" stroke="#777" stroke-width="0.65"/>
<text x="642.50" y="848.70" font-size="7.4" fill="#333">HMGA1 KO</text>
<text x="642.50" y="858.40" font-size="7.4" fill="#333">PANC-1</text>
</svg></body></html>
